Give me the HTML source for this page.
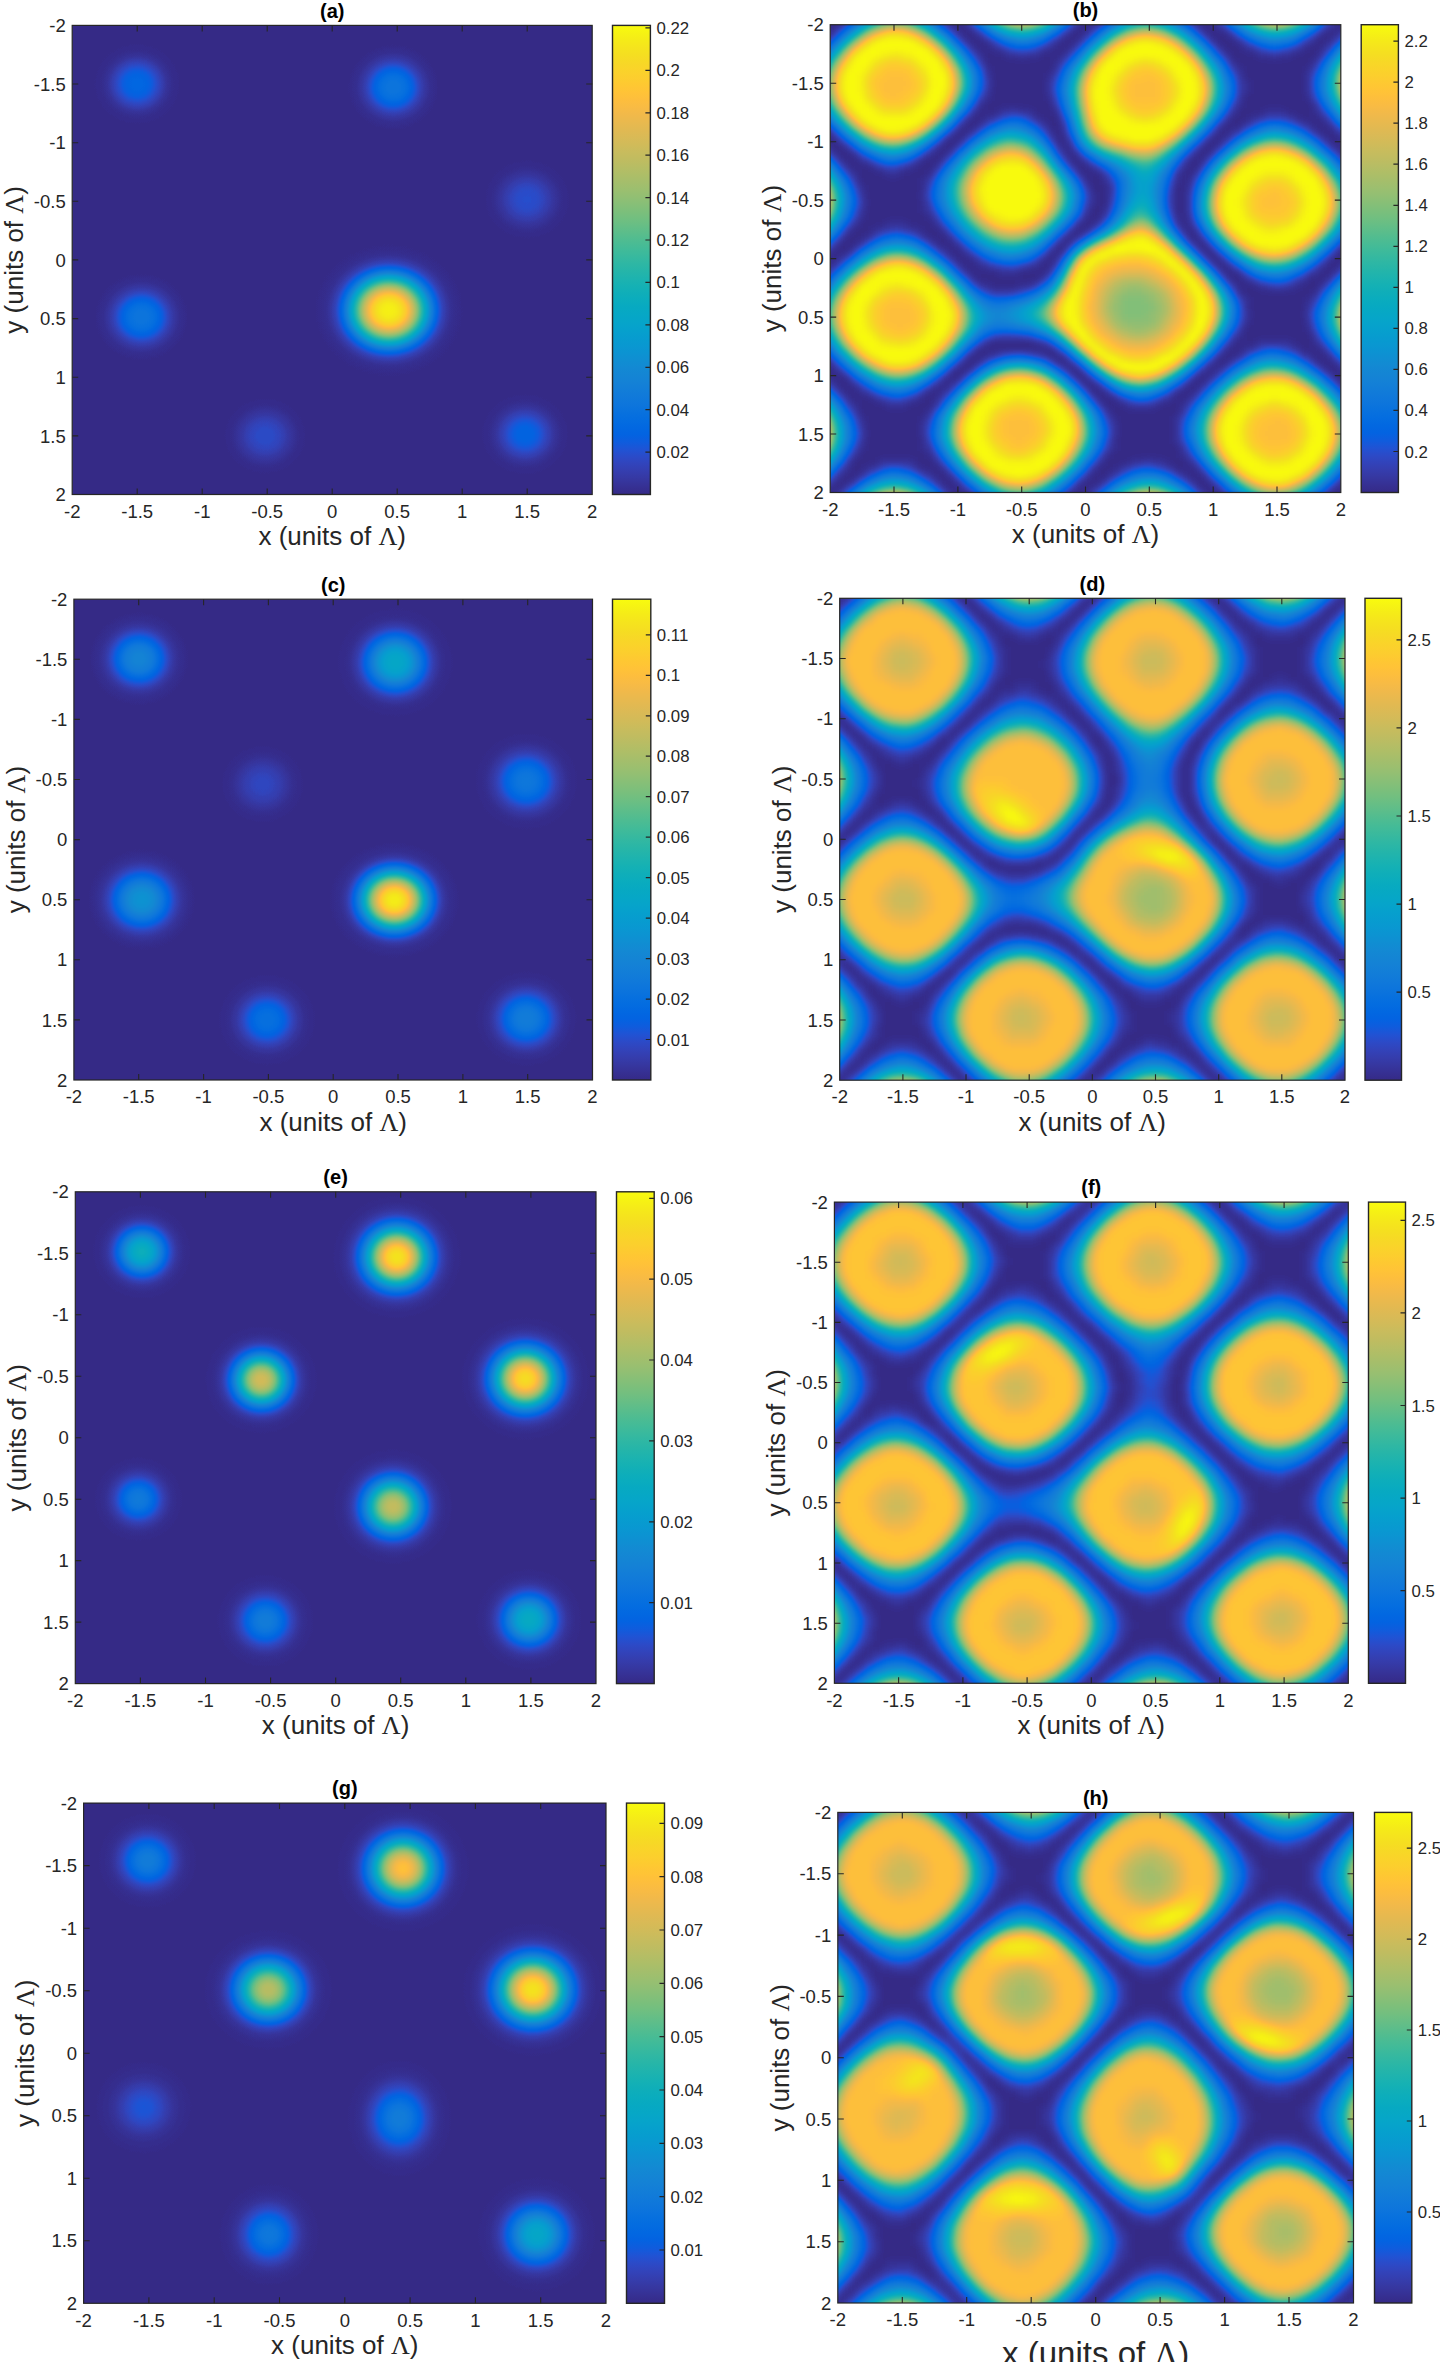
<!DOCTYPE html><html><head><meta charset="utf-8"><style>html,body{margin:0;padding:0;background:#fff;}svg{display:block}</style></head><body><svg width="1440" height="2362" viewBox="0 0 1440 2362"><defs><filter id="pm" color-interpolation-filters="sRGB" x="0" y="0" width="1" height="1"><feComponentTransfer><feFuncR type="table" tableValues="0.2081 0.2116 0.2123 0.2081 0.1959 0.1707 0.1253 0.0591 0.0117 0.0060 0.0165 0.0329 0.0498 0.0629 0.0723 0.0779 0.0793 0.0749 0.0641 0.0488 0.0343 0.0265 0.0239 0.0231 0.0228 0.0267 0.0384 0.0590 0.0843 0.1133 0.1453 0.1801 0.2178 0.2586 0.3022 0.3482 0.3953 0.4420 0.4871 0.5300 0.5709 0.6099 0.6473 0.6834 0.7184 0.7525 0.7858 0.8185 0.8507 0.8824 0.9139 0.9450 0.9739 0.9938 0.9990 0.9955 0.9880 0.9789 0.9697 0.9626 0.9589 0.9598 0.9661 0.9763"/><feFuncG type="table" tableValues="0.1663 0.1898 0.2138 0.2386 0.2645 0.2919 0.3242 0.3598 0.3875 0.4086 0.4266 0.4430 0.4586 0.4737 0.4887 0.5040 0.5200 0.5375 0.5570 0.5772 0.5966 0.6137 0.6287 0.6418 0.6535 0.6642 0.6743 0.6838 0.6928 0.7015 0.7098 0.7177 0.7250 0.7317 0.7376 0.7424 0.7459 0.7481 0.7491 0.7491 0.7485 0.7473 0.7456 0.7435 0.7411 0.7384 0.7356 0.7327 0.7299 0.7274 0.7258 0.7261 0.7314 0.7455 0.7653 0.7861 0.8066 0.8271 0.8481 0.8705 0.8949 0.9218 0.9514 0.9831"/><feFuncB type="table" tableValues="0.5292 0.5777 0.6270 0.6771 0.7279 0.7792 0.8303 0.8683 0.8820 0.8828 0.8786 0.8720 0.8641 0.8554 0.8467 0.8384 0.8312 0.8263 0.8240 0.8228 0.8199 0.8135 0.8038 0.7913 0.7768 0.7607 0.7436 0.7254 0.7062 0.6859 0.6646 0.6424 0.6193 0.5954 0.5712 0.5473 0.5244 0.5033 0.4840 0.4661 0.4494 0.4337 0.4188 0.4044 0.3905 0.3768 0.3633 0.3498 0.3360 0.3217 0.3063 0.2886 0.2666 0.2403 0.2164 0.1967 0.1794 0.1633 0.1475 0.1309 0.1132 0.0948 0.0755 0.0538"/></feComponentTransfer></filter><filter id="pmb" color-interpolation-filters="sRGB" x="0" y="0" width="1" height="1"><feGaussianBlur stdDeviation="3.9"/><feComponentTransfer><feFuncR type="table" tableValues="0.2081 0.2116 0.2123 0.2081 0.1959 0.1707 0.1253 0.0591 0.0117 0.0060 0.0165 0.0329 0.0498 0.0629 0.0723 0.0779 0.0793 0.0749 0.0641 0.0488 0.0343 0.0265 0.0239 0.0231 0.0228 0.0267 0.0384 0.0590 0.0843 0.1133 0.1453 0.1801 0.2178 0.2586 0.3022 0.3482 0.3953 0.4420 0.4871 0.5300 0.5709 0.6099 0.6473 0.6834 0.7184 0.7525 0.7858 0.8185 0.8507 0.8824 0.9139 0.9450 0.9739 0.9938 0.9990 0.9955 0.9880 0.9789 0.9697 0.9626 0.9589 0.9598 0.9661 0.9763"/><feFuncG type="table" tableValues="0.1663 0.1898 0.2138 0.2386 0.2645 0.2919 0.3242 0.3598 0.3875 0.4086 0.4266 0.4430 0.4586 0.4737 0.4887 0.5040 0.5200 0.5375 0.5570 0.5772 0.5966 0.6137 0.6287 0.6418 0.6535 0.6642 0.6743 0.6838 0.6928 0.7015 0.7098 0.7177 0.7250 0.7317 0.7376 0.7424 0.7459 0.7481 0.7491 0.7491 0.7485 0.7473 0.7456 0.7435 0.7411 0.7384 0.7356 0.7327 0.7299 0.7274 0.7258 0.7261 0.7314 0.7455 0.7653 0.7861 0.8066 0.8271 0.8481 0.8705 0.8949 0.9218 0.9514 0.9831"/><feFuncB type="table" tableValues="0.5292 0.5777 0.6270 0.6771 0.7279 0.7792 0.8303 0.8683 0.8820 0.8828 0.8786 0.8720 0.8641 0.8554 0.8467 0.8384 0.8312 0.8263 0.8240 0.8228 0.8199 0.8135 0.8038 0.7913 0.7768 0.7607 0.7436 0.7254 0.7062 0.6859 0.6646 0.6424 0.6193 0.5954 0.5712 0.5473 0.5244 0.5033 0.4840 0.4661 0.4494 0.4337 0.4188 0.4044 0.3905 0.3768 0.3633 0.3498 0.3360 0.3217 0.3063 0.2886 0.2666 0.2403 0.2164 0.1967 0.1794 0.1633 0.1475 0.1309 0.1132 0.0948 0.0755 0.0538"/></feComponentTransfer></filter><linearGradient id="cbg" x1="0" y1="0" x2="0" y2="1"><stop offset="0.0000" stop-color="#f9fb0e"/><stop offset="0.0159" stop-color="#f6f313"/><stop offset="0.0317" stop-color="#f5eb18"/><stop offset="0.0476" stop-color="#f5e41d"/><stop offset="0.0635" stop-color="#f5de21"/><stop offset="0.0794" stop-color="#f7d826"/><stop offset="0.0952" stop-color="#fad32a"/><stop offset="0.1111" stop-color="#fcce2e"/><stop offset="0.1270" stop-color="#fec832"/><stop offset="0.1429" stop-color="#ffc337"/><stop offset="0.1587" stop-color="#fdbe3d"/><stop offset="0.1746" stop-color="#f8bb44"/><stop offset="0.1905" stop-color="#f1b94a"/><stop offset="0.2063" stop-color="#e9b94e"/><stop offset="0.2222" stop-color="#e1b952"/><stop offset="0.2381" stop-color="#d9ba56"/><stop offset="0.2540" stop-color="#d1bb59"/><stop offset="0.2698" stop-color="#c8bc5d"/><stop offset="0.2857" stop-color="#c0bc60"/><stop offset="0.3016" stop-color="#b7bd64"/><stop offset="0.3175" stop-color="#aebe67"/><stop offset="0.3333" stop-color="#a5be6b"/><stop offset="0.3492" stop-color="#9cbf6f"/><stop offset="0.3651" stop-color="#92bf73"/><stop offset="0.3810" stop-color="#87bf77"/><stop offset="0.3968" stop-color="#7cbf7b"/><stop offset="0.4127" stop-color="#71bf80"/><stop offset="0.4286" stop-color="#65be86"/><stop offset="0.4444" stop-color="#59bd8c"/><stop offset="0.4603" stop-color="#4dbc92"/><stop offset="0.4762" stop-color="#42bb98"/><stop offset="0.4921" stop-color="#38b99e"/><stop offset="0.5079" stop-color="#2eb7a4"/><stop offset="0.5238" stop-color="#25b5a9"/><stop offset="0.5397" stop-color="#1db3af"/><stop offset="0.5556" stop-color="#15b1b4"/><stop offset="0.5714" stop-color="#0faeb9"/><stop offset="0.5873" stop-color="#0aacbe"/><stop offset="0.6032" stop-color="#07a9c2"/><stop offset="0.6190" stop-color="#06a7c6"/><stop offset="0.6349" stop-color="#06a4ca"/><stop offset="0.6508" stop-color="#06a0cd"/><stop offset="0.6667" stop-color="#079ccf"/><stop offset="0.6825" stop-color="#0998d1"/><stop offset="0.6984" stop-color="#0c93d2"/><stop offset="0.7143" stop-color="#108ed2"/><stop offset="0.7302" stop-color="#1389d3"/><stop offset="0.7460" stop-color="#1485d4"/><stop offset="0.7619" stop-color="#1481d6"/><stop offset="0.7778" stop-color="#127dd8"/><stop offset="0.7937" stop-color="#1079da"/><stop offset="0.8095" stop-color="#0d75dc"/><stop offset="0.8254" stop-color="#0871de"/><stop offset="0.8413" stop-color="#046de0"/><stop offset="0.8571" stop-color="#0268e1"/><stop offset="0.8730" stop-color="#0363e1"/><stop offset="0.8889" stop-color="#0f5cdd"/><stop offset="0.9048" stop-color="#2053d4"/><stop offset="0.9206" stop-color="#2c4ac7"/><stop offset="0.9365" stop-color="#3243ba"/><stop offset="0.9524" stop-color="#353dad"/><stop offset="0.9683" stop-color="#3637a0"/><stop offset="0.9841" stop-color="#363093"/><stop offset="1.0000" stop-color="#352a87"/></linearGradient><clipPath id="cla"><rect x="72.2" y="25.4" width="520.0" height="469.1"/></clipPath><radialGradient id="rga0"><stop offset="0.000" stop-color="#242424"/><stop offset="0.050" stop-color="#242424"/><stop offset="0.100" stop-color="#232323"/><stop offset="0.150" stop-color="#222222"/><stop offset="0.200" stop-color="#202020"/><stop offset="0.250" stop-color="#1e1e1e"/><stop offset="0.300" stop-color="#1a1a1a"/><stop offset="0.350" stop-color="#161616"/><stop offset="0.400" stop-color="#121212"/><stop offset="0.450" stop-color="#0e0e0e"/><stop offset="0.500" stop-color="#0a0a0a"/><stop offset="0.550" stop-color="#060606"/><stop offset="0.600" stop-color="#040404"/><stop offset="0.650" stop-color="#020202"/><stop offset="0.700" stop-color="#010101"/><stop offset="0.750" stop-color="#010101"/><stop offset="0.800" stop-color="#000000"/><stop offset="0.850" stop-color="#000000"/><stop offset="0.900" stop-color="#000000"/><stop offset="0.950" stop-color="#000000"/><stop offset="1.000" stop-color="#000000"/></radialGradient><radialGradient id="rga1"><stop offset="0.000" stop-color="#303030"/><stop offset="0.050" stop-color="#303030"/><stop offset="0.100" stop-color="#303030"/><stop offset="0.150" stop-color="#2e2e2e"/><stop offset="0.200" stop-color="#2c2c2c"/><stop offset="0.250" stop-color="#282828"/><stop offset="0.300" stop-color="#232323"/><stop offset="0.350" stop-color="#1e1e1e"/><stop offset="0.400" stop-color="#181818"/><stop offset="0.450" stop-color="#121212"/><stop offset="0.500" stop-color="#0d0d0d"/><stop offset="0.550" stop-color="#090909"/><stop offset="0.600" stop-color="#060606"/><stop offset="0.650" stop-color="#030303"/><stop offset="0.700" stop-color="#020202"/><stop offset="0.750" stop-color="#010101"/><stop offset="0.800" stop-color="#000000"/><stop offset="0.850" stop-color="#000000"/><stop offset="0.900" stop-color="#000000"/><stop offset="0.950" stop-color="#000000"/><stop offset="1.000" stop-color="#000000"/></radialGradient><radialGradient id="rga2"><stop offset="0.000" stop-color="#161616"/><stop offset="0.050" stop-color="#161616"/><stop offset="0.100" stop-color="#151515"/><stop offset="0.150" stop-color="#151515"/><stop offset="0.200" stop-color="#141414"/><stop offset="0.250" stop-color="#121212"/><stop offset="0.300" stop-color="#101010"/><stop offset="0.350" stop-color="#0d0d0d"/><stop offset="0.400" stop-color="#0b0b0b"/><stop offset="0.450" stop-color="#080808"/><stop offset="0.500" stop-color="#060606"/><stop offset="0.550" stop-color="#040404"/><stop offset="0.600" stop-color="#020202"/><stop offset="0.650" stop-color="#010101"/><stop offset="0.700" stop-color="#010101"/><stop offset="0.750" stop-color="#000000"/><stop offset="0.800" stop-color="#000000"/><stop offset="0.850" stop-color="#000000"/><stop offset="0.900" stop-color="#000000"/><stop offset="0.950" stop-color="#000000"/><stop offset="1.000" stop-color="#000000"/></radialGradient><radialGradient id="rga3"><stop offset="0.000" stop-color="#303030"/><stop offset="0.050" stop-color="#303030"/><stop offset="0.100" stop-color="#303030"/><stop offset="0.150" stop-color="#2e2e2e"/><stop offset="0.200" stop-color="#2c2c2c"/><stop offset="0.250" stop-color="#282828"/><stop offset="0.300" stop-color="#232323"/><stop offset="0.350" stop-color="#1e1e1e"/><stop offset="0.400" stop-color="#181818"/><stop offset="0.450" stop-color="#121212"/><stop offset="0.500" stop-color="#0d0d0d"/><stop offset="0.550" stop-color="#090909"/><stop offset="0.600" stop-color="#060606"/><stop offset="0.650" stop-color="#030303"/><stop offset="0.700" stop-color="#020202"/><stop offset="0.750" stop-color="#010101"/><stop offset="0.800" stop-color="#000000"/><stop offset="0.850" stop-color="#000000"/><stop offset="0.900" stop-color="#000000"/><stop offset="0.950" stop-color="#000000"/><stop offset="1.000" stop-color="#000000"/></radialGradient><radialGradient id="rga4"><stop offset="0.000" stop-color="#fafafa"/><stop offset="0.050" stop-color="#f9f9f9"/><stop offset="0.100" stop-color="#f6f6f6"/><stop offset="0.150" stop-color="#efefef"/><stop offset="0.200" stop-color="#e2e2e2"/><stop offset="0.250" stop-color="#cfcfcf"/><stop offset="0.300" stop-color="#b7b7b7"/><stop offset="0.350" stop-color="#9a9a9a"/><stop offset="0.400" stop-color="#7c7c7c"/><stop offset="0.450" stop-color="#5f5f5f"/><stop offset="0.500" stop-color="#444444"/><stop offset="0.550" stop-color="#2d2d2d"/><stop offset="0.600" stop-color="#1c1c1c"/><stop offset="0.650" stop-color="#101010"/><stop offset="0.700" stop-color="#090909"/><stop offset="0.750" stop-color="#040404"/><stop offset="0.800" stop-color="#020202"/><stop offset="0.850" stop-color="#010101"/><stop offset="0.900" stop-color="#000000"/><stop offset="0.950" stop-color="#000000"/><stop offset="1.000" stop-color="#000000"/></radialGradient><radialGradient id="rga5"><stop offset="0.000" stop-color="#141414"/><stop offset="0.050" stop-color="#141414"/><stop offset="0.100" stop-color="#141414"/><stop offset="0.150" stop-color="#141414"/><stop offset="0.200" stop-color="#121212"/><stop offset="0.250" stop-color="#111111"/><stop offset="0.300" stop-color="#0f0f0f"/><stop offset="0.350" stop-color="#0d0d0d"/><stop offset="0.400" stop-color="#0a0a0a"/><stop offset="0.450" stop-color="#080808"/><stop offset="0.500" stop-color="#060606"/><stop offset="0.550" stop-color="#040404"/><stop offset="0.600" stop-color="#020202"/><stop offset="0.650" stop-color="#010101"/><stop offset="0.700" stop-color="#010101"/><stop offset="0.750" stop-color="#000000"/><stop offset="0.800" stop-color="#000000"/><stop offset="0.850" stop-color="#000000"/><stop offset="0.900" stop-color="#000000"/><stop offset="0.950" stop-color="#000000"/><stop offset="1.000" stop-color="#000000"/></radialGradient><radialGradient id="rga6"><stop offset="0.000" stop-color="#212121"/><stop offset="0.050" stop-color="#212121"/><stop offset="0.100" stop-color="#212121"/><stop offset="0.150" stop-color="#202020"/><stop offset="0.200" stop-color="#1e1e1e"/><stop offset="0.250" stop-color="#1b1b1b"/><stop offset="0.300" stop-color="#181818"/><stop offset="0.350" stop-color="#141414"/><stop offset="0.400" stop-color="#101010"/><stop offset="0.450" stop-color="#0d0d0d"/><stop offset="0.500" stop-color="#090909"/><stop offset="0.550" stop-color="#060606"/><stop offset="0.600" stop-color="#040404"/><stop offset="0.650" stop-color="#020202"/><stop offset="0.700" stop-color="#010101"/><stop offset="0.750" stop-color="#010101"/><stop offset="0.800" stop-color="#000000"/><stop offset="0.850" stop-color="#000000"/><stop offset="0.900" stop-color="#000000"/><stop offset="0.950" stop-color="#000000"/><stop offset="1.000" stop-color="#000000"/></radialGradient><clipPath id="clb"><rect x="830.2" y="24.7" width="510.6" height="467.8"/></clipPath><clipPath id="clc"><rect x="73.9" y="599.2" width="518.6" height="480.8"/></clipPath><radialGradient id="rgc0"><stop offset="0.000" stop-color="#404040"/><stop offset="0.050" stop-color="#404040"/><stop offset="0.100" stop-color="#3f3f3f"/><stop offset="0.150" stop-color="#3c3c3c"/><stop offset="0.200" stop-color="#393939"/><stop offset="0.250" stop-color="#343434"/><stop offset="0.300" stop-color="#2d2d2d"/><stop offset="0.350" stop-color="#262626"/><stop offset="0.400" stop-color="#1f1f1f"/><stop offset="0.450" stop-color="#181818"/><stop offset="0.500" stop-color="#121212"/><stop offset="0.550" stop-color="#0c0c0c"/><stop offset="0.600" stop-color="#080808"/><stop offset="0.650" stop-color="#050505"/><stop offset="0.700" stop-color="#030303"/><stop offset="0.750" stop-color="#020202"/><stop offset="0.800" stop-color="#010101"/><stop offset="0.850" stop-color="#000000"/><stop offset="0.900" stop-color="#000000"/><stop offset="0.950" stop-color="#000000"/><stop offset="1.000" stop-color="#000000"/></radialGradient><radialGradient id="rgc1"><stop offset="0.000" stop-color="#121212"/><stop offset="0.050" stop-color="#121212"/><stop offset="0.100" stop-color="#121212"/><stop offset="0.150" stop-color="#111111"/><stop offset="0.200" stop-color="#101010"/><stop offset="0.250" stop-color="#0e0e0e"/><stop offset="0.300" stop-color="#0d0d0d"/><stop offset="0.350" stop-color="#0b0b0b"/><stop offset="0.400" stop-color="#090909"/><stop offset="0.450" stop-color="#070707"/><stop offset="0.500" stop-color="#050505"/><stop offset="0.550" stop-color="#030303"/><stop offset="0.600" stop-color="#020202"/><stop offset="0.650" stop-color="#010101"/><stop offset="0.700" stop-color="#010101"/><stop offset="0.750" stop-color="#000000"/><stop offset="0.800" stop-color="#000000"/><stop offset="0.850" stop-color="#000000"/><stop offset="0.900" stop-color="#000000"/><stop offset="0.950" stop-color="#000000"/><stop offset="1.000" stop-color="#000000"/></radialGradient><radialGradient id="rgc2"><stop offset="0.000" stop-color="#616161"/><stop offset="0.050" stop-color="#616161"/><stop offset="0.100" stop-color="#5f5f5f"/><stop offset="0.150" stop-color="#5c5c5c"/><stop offset="0.200" stop-color="#565656"/><stop offset="0.250" stop-color="#4e4e4e"/><stop offset="0.300" stop-color="#454545"/><stop offset="0.350" stop-color="#3a3a3a"/><stop offset="0.400" stop-color="#2f2f2f"/><stop offset="0.450" stop-color="#252525"/><stop offset="0.500" stop-color="#1b1b1b"/><stop offset="0.550" stop-color="#131313"/><stop offset="0.600" stop-color="#0c0c0c"/><stop offset="0.650" stop-color="#080808"/><stop offset="0.700" stop-color="#040404"/><stop offset="0.750" stop-color="#020202"/><stop offset="0.800" stop-color="#010101"/><stop offset="0.850" stop-color="#010101"/><stop offset="0.900" stop-color="#000000"/><stop offset="0.950" stop-color="#000000"/><stop offset="1.000" stop-color="#000000"/></radialGradient><radialGradient id="rgc3"><stop offset="0.000" stop-color="#333333"/><stop offset="0.050" stop-color="#333333"/><stop offset="0.100" stop-color="#323232"/><stop offset="0.150" stop-color="#303030"/><stop offset="0.200" stop-color="#2d2d2d"/><stop offset="0.250" stop-color="#292929"/><stop offset="0.300" stop-color="#242424"/><stop offset="0.350" stop-color="#1f1f1f"/><stop offset="0.400" stop-color="#191919"/><stop offset="0.450" stop-color="#131313"/><stop offset="0.500" stop-color="#0e0e0e"/><stop offset="0.550" stop-color="#0a0a0a"/><stop offset="0.600" stop-color="#070707"/><stop offset="0.650" stop-color="#040404"/><stop offset="0.700" stop-color="#020202"/><stop offset="0.750" stop-color="#010101"/><stop offset="0.800" stop-color="#010101"/><stop offset="0.850" stop-color="#000000"/><stop offset="0.900" stop-color="#000000"/><stop offset="0.950" stop-color="#000000"/><stop offset="1.000" stop-color="#000000"/></radialGradient><radialGradient id="rgc4"><stop offset="0.000" stop-color="#4c4c4c"/><stop offset="0.050" stop-color="#4c4c4c"/><stop offset="0.100" stop-color="#4b4b4b"/><stop offset="0.150" stop-color="#484848"/><stop offset="0.200" stop-color="#444444"/><stop offset="0.250" stop-color="#3e3e3e"/><stop offset="0.300" stop-color="#363636"/><stop offset="0.350" stop-color="#2e2e2e"/><stop offset="0.400" stop-color="#252525"/><stop offset="0.450" stop-color="#1d1d1d"/><stop offset="0.500" stop-color="#151515"/><stop offset="0.550" stop-color="#0f0f0f"/><stop offset="0.600" stop-color="#0a0a0a"/><stop offset="0.650" stop-color="#060606"/><stop offset="0.700" stop-color="#040404"/><stop offset="0.750" stop-color="#020202"/><stop offset="0.800" stop-color="#010101"/><stop offset="0.850" stop-color="#000000"/><stop offset="0.900" stop-color="#000000"/><stop offset="0.950" stop-color="#000000"/><stop offset="1.000" stop-color="#000000"/></radialGradient><radialGradient id="rgc5"><stop offset="0.000" stop-color="#2b2b2b"/><stop offset="0.050" stop-color="#2b2b2b"/><stop offset="0.100" stop-color="#2b2b2b"/><stop offset="0.150" stop-color="#292929"/><stop offset="0.200" stop-color="#272727"/><stop offset="0.250" stop-color="#232323"/><stop offset="0.300" stop-color="#1f1f1f"/><stop offset="0.350" stop-color="#1a1a1a"/><stop offset="0.400" stop-color="#151515"/><stop offset="0.450" stop-color="#101010"/><stop offset="0.500" stop-color="#0c0c0c"/><stop offset="0.550" stop-color="#080808"/><stop offset="0.600" stop-color="#060606"/><stop offset="0.650" stop-color="#030303"/><stop offset="0.700" stop-color="#020202"/><stop offset="0.750" stop-color="#010101"/><stop offset="0.800" stop-color="#010101"/><stop offset="0.850" stop-color="#000000"/><stop offset="0.900" stop-color="#000000"/><stop offset="0.950" stop-color="#000000"/><stop offset="1.000" stop-color="#000000"/></radialGradient><radialGradient id="rgc6"><stop offset="0.000" stop-color="#f7f7f7"/><stop offset="0.050" stop-color="#f7f7f7"/><stop offset="0.100" stop-color="#f3f3f3"/><stop offset="0.150" stop-color="#eaeaea"/><stop offset="0.200" stop-color="#dcdcdc"/><stop offset="0.250" stop-color="#c8c8c8"/><stop offset="0.300" stop-color="#b0b0b0"/><stop offset="0.350" stop-color="#959595"/><stop offset="0.400" stop-color="#797979"/><stop offset="0.450" stop-color="#5d5d5d"/><stop offset="0.500" stop-color="#454545"/><stop offset="0.550" stop-color="#303030"/><stop offset="0.600" stop-color="#202020"/><stop offset="0.650" stop-color="#141414"/><stop offset="0.700" stop-color="#0b0b0b"/><stop offset="0.750" stop-color="#060606"/><stop offset="0.800" stop-color="#030303"/><stop offset="0.850" stop-color="#020202"/><stop offset="0.900" stop-color="#010101"/><stop offset="0.950" stop-color="#000000"/><stop offset="1.000" stop-color="#000000"/></radialGradient><radialGradient id="rgc7"><stop offset="0.000" stop-color="#383838"/><stop offset="0.050" stop-color="#383838"/><stop offset="0.100" stop-color="#373737"/><stop offset="0.150" stop-color="#353535"/><stop offset="0.200" stop-color="#323232"/><stop offset="0.250" stop-color="#2d2d2d"/><stop offset="0.300" stop-color="#282828"/><stop offset="0.350" stop-color="#222222"/><stop offset="0.400" stop-color="#1b1b1b"/><stop offset="0.450" stop-color="#151515"/><stop offset="0.500" stop-color="#101010"/><stop offset="0.550" stop-color="#0b0b0b"/><stop offset="0.600" stop-color="#070707"/><stop offset="0.650" stop-color="#040404"/><stop offset="0.700" stop-color="#030303"/><stop offset="0.750" stop-color="#010101"/><stop offset="0.800" stop-color="#010101"/><stop offset="0.850" stop-color="#000000"/><stop offset="0.900" stop-color="#000000"/><stop offset="0.950" stop-color="#000000"/><stop offset="1.000" stop-color="#000000"/></radialGradient><clipPath id="cld"><rect x="839.7" y="598.3" width="505.3" height="481.9"/></clipPath><clipPath id="cle"><rect x="75.3" y="1191.8" width="520.7" height="491.8"/></clipPath><radialGradient id="rge0"><stop offset="0.000" stop-color="#6b6b6b"/><stop offset="0.050" stop-color="#6b6b6b"/><stop offset="0.100" stop-color="#686868"/><stop offset="0.150" stop-color="#646464"/><stop offset="0.200" stop-color="#5d5d5d"/><stop offset="0.250" stop-color="#545454"/><stop offset="0.300" stop-color="#4a4a4a"/><stop offset="0.350" stop-color="#3f3f3f"/><stop offset="0.400" stop-color="#333333"/><stop offset="0.450" stop-color="#282828"/><stop offset="0.500" stop-color="#1e1e1e"/><stop offset="0.550" stop-color="#161616"/><stop offset="0.600" stop-color="#0f0f0f"/><stop offset="0.650" stop-color="#0a0a0a"/><stop offset="0.700" stop-color="#060606"/><stop offset="0.750" stop-color="#040404"/><stop offset="0.800" stop-color="#020202"/><stop offset="0.850" stop-color="#010101"/><stop offset="0.900" stop-color="#010101"/><stop offset="0.950" stop-color="#000000"/><stop offset="1.000" stop-color="#000000"/></radialGradient><radialGradient id="rge1"><stop offset="0.000" stop-color="#f2f2f2"/><stop offset="0.050" stop-color="#f1f1f1"/><stop offset="0.100" stop-color="#ececec"/><stop offset="0.150" stop-color="#e2e2e2"/><stop offset="0.200" stop-color="#d3d3d3"/><stop offset="0.250" stop-color="#bfbfbf"/><stop offset="0.300" stop-color="#a8a8a8"/><stop offset="0.350" stop-color="#8e8e8e"/><stop offset="0.400" stop-color="#747474"/><stop offset="0.450" stop-color="#5b5b5b"/><stop offset="0.500" stop-color="#454545"/><stop offset="0.550" stop-color="#323232"/><stop offset="0.600" stop-color="#232323"/><stop offset="0.650" stop-color="#171717"/><stop offset="0.700" stop-color="#0e0e0e"/><stop offset="0.750" stop-color="#090909"/><stop offset="0.800" stop-color="#050505"/><stop offset="0.850" stop-color="#030303"/><stop offset="0.900" stop-color="#010101"/><stop offset="0.950" stop-color="#010101"/><stop offset="1.000" stop-color="#000000"/></radialGradient><radialGradient id="rge2"><stop offset="0.000" stop-color="#bfbfbf"/><stop offset="0.050" stop-color="#bebebe"/><stop offset="0.100" stop-color="#bababa"/><stop offset="0.150" stop-color="#b2b2b2"/><stop offset="0.200" stop-color="#a6a6a6"/><stop offset="0.250" stop-color="#979797"/><stop offset="0.300" stop-color="#848484"/><stop offset="0.350" stop-color="#707070"/><stop offset="0.400" stop-color="#5c5c5c"/><stop offset="0.450" stop-color="#484848"/><stop offset="0.500" stop-color="#363636"/><stop offset="0.550" stop-color="#272727"/><stop offset="0.600" stop-color="#1b1b1b"/><stop offset="0.650" stop-color="#121212"/><stop offset="0.700" stop-color="#0b0b0b"/><stop offset="0.750" stop-color="#070707"/><stop offset="0.800" stop-color="#040404"/><stop offset="0.850" stop-color="#020202"/><stop offset="0.900" stop-color="#010101"/><stop offset="0.950" stop-color="#010101"/><stop offset="1.000" stop-color="#000000"/></radialGradient><radialGradient id="rge3"><stop offset="0.000" stop-color="#ededed"/><stop offset="0.050" stop-color="#ececec"/><stop offset="0.100" stop-color="#e7e7e7"/><stop offset="0.150" stop-color="#dddddd"/><stop offset="0.200" stop-color="#cecece"/><stop offset="0.250" stop-color="#bbbbbb"/><stop offset="0.300" stop-color="#a4a4a4"/><stop offset="0.350" stop-color="#8b8b8b"/><stop offset="0.400" stop-color="#727272"/><stop offset="0.450" stop-color="#595959"/><stop offset="0.500" stop-color="#434343"/><stop offset="0.550" stop-color="#313131"/><stop offset="0.600" stop-color="#222222"/><stop offset="0.650" stop-color="#161616"/><stop offset="0.700" stop-color="#0e0e0e"/><stop offset="0.750" stop-color="#090909"/><stop offset="0.800" stop-color="#050505"/><stop offset="0.850" stop-color="#030303"/><stop offset="0.900" stop-color="#010101"/><stop offset="0.950" stop-color="#010101"/><stop offset="1.000" stop-color="#000000"/></radialGradient><radialGradient id="rge4"><stop offset="0.000" stop-color="#363636"/><stop offset="0.050" stop-color="#353535"/><stop offset="0.100" stop-color="#343434"/><stop offset="0.150" stop-color="#323232"/><stop offset="0.200" stop-color="#2f2f2f"/><stop offset="0.250" stop-color="#2a2a2a"/><stop offset="0.300" stop-color="#252525"/><stop offset="0.350" stop-color="#1f1f1f"/><stop offset="0.400" stop-color="#1a1a1a"/><stop offset="0.450" stop-color="#141414"/><stop offset="0.500" stop-color="#0f0f0f"/><stop offset="0.550" stop-color="#0b0b0b"/><stop offset="0.600" stop-color="#080808"/><stop offset="0.650" stop-color="#050505"/><stop offset="0.700" stop-color="#030303"/><stop offset="0.750" stop-color="#020202"/><stop offset="0.800" stop-color="#010101"/><stop offset="0.850" stop-color="#010101"/><stop offset="0.900" stop-color="#000000"/><stop offset="0.950" stop-color="#000000"/><stop offset="1.000" stop-color="#000000"/></radialGradient><radialGradient id="rge5"><stop offset="0.000" stop-color="#b8b8b8"/><stop offset="0.050" stop-color="#b7b7b7"/><stop offset="0.100" stop-color="#b3b3b3"/><stop offset="0.150" stop-color="#ababab"/><stop offset="0.200" stop-color="#a0a0a0"/><stop offset="0.250" stop-color="#919191"/><stop offset="0.300" stop-color="#7f7f7f"/><stop offset="0.350" stop-color="#6c6c6c"/><stop offset="0.400" stop-color="#585858"/><stop offset="0.450" stop-color="#454545"/><stop offset="0.500" stop-color="#343434"/><stop offset="0.550" stop-color="#262626"/><stop offset="0.600" stop-color="#1a1a1a"/><stop offset="0.650" stop-color="#111111"/><stop offset="0.700" stop-color="#0b0b0b"/><stop offset="0.750" stop-color="#070707"/><stop offset="0.800" stop-color="#040404"/><stop offset="0.850" stop-color="#020202"/><stop offset="0.900" stop-color="#010101"/><stop offset="0.950" stop-color="#010101"/><stop offset="1.000" stop-color="#000000"/></radialGradient><radialGradient id="rge6"><stop offset="0.000" stop-color="#383838"/><stop offset="0.050" stop-color="#383838"/><stop offset="0.100" stop-color="#373737"/><stop offset="0.150" stop-color="#343434"/><stop offset="0.200" stop-color="#313131"/><stop offset="0.250" stop-color="#2c2c2c"/><stop offset="0.300" stop-color="#272727"/><stop offset="0.350" stop-color="#212121"/><stop offset="0.400" stop-color="#1b1b1b"/><stop offset="0.450" stop-color="#151515"/><stop offset="0.500" stop-color="#101010"/><stop offset="0.550" stop-color="#0c0c0c"/><stop offset="0.600" stop-color="#080808"/><stop offset="0.650" stop-color="#050505"/><stop offset="0.700" stop-color="#030303"/><stop offset="0.750" stop-color="#020202"/><stop offset="0.800" stop-color="#010101"/><stop offset="0.850" stop-color="#010101"/><stop offset="0.900" stop-color="#000000"/><stop offset="0.950" stop-color="#000000"/><stop offset="1.000" stop-color="#000000"/></radialGradient><radialGradient id="rge7"><stop offset="0.000" stop-color="#666666"/><stop offset="0.050" stop-color="#656565"/><stop offset="0.100" stop-color="#636363"/><stop offset="0.150" stop-color="#5f5f5f"/><stop offset="0.200" stop-color="#595959"/><stop offset="0.250" stop-color="#505050"/><stop offset="0.300" stop-color="#474747"/><stop offset="0.350" stop-color="#3c3c3c"/><stop offset="0.400" stop-color="#313131"/><stop offset="0.450" stop-color="#262626"/><stop offset="0.500" stop-color="#1d1d1d"/><stop offset="0.550" stop-color="#151515"/><stop offset="0.600" stop-color="#0f0f0f"/><stop offset="0.650" stop-color="#0a0a0a"/><stop offset="0.700" stop-color="#060606"/><stop offset="0.750" stop-color="#040404"/><stop offset="0.800" stop-color="#020202"/><stop offset="0.850" stop-color="#010101"/><stop offset="0.900" stop-color="#010101"/><stop offset="0.950" stop-color="#000000"/><stop offset="1.000" stop-color="#000000"/></radialGradient><clipPath id="clf"><rect x="834.4" y="1202.1" width="513.9" height="481.2"/></clipPath><clipPath id="clg"><rect x="83.6" y="1803.1" width="522.4" height="500.2"/></clipPath><radialGradient id="rgg0"><stop offset="0.000" stop-color="#383838"/><stop offset="0.050" stop-color="#383838"/><stop offset="0.100" stop-color="#373737"/><stop offset="0.150" stop-color="#343434"/><stop offset="0.200" stop-color="#313131"/><stop offset="0.250" stop-color="#2c2c2c"/><stop offset="0.300" stop-color="#272727"/><stop offset="0.350" stop-color="#212121"/><stop offset="0.400" stop-color="#1b1b1b"/><stop offset="0.450" stop-color="#151515"/><stop offset="0.500" stop-color="#101010"/><stop offset="0.550" stop-color="#0c0c0c"/><stop offset="0.600" stop-color="#080808"/><stop offset="0.650" stop-color="#050505"/><stop offset="0.700" stop-color="#030303"/><stop offset="0.750" stop-color="#020202"/><stop offset="0.800" stop-color="#010101"/><stop offset="0.850" stop-color="#010101"/><stop offset="0.900" stop-color="#000000"/><stop offset="0.950" stop-color="#000000"/><stop offset="1.000" stop-color="#000000"/></radialGradient><radialGradient id="rgg1"><stop offset="0.000" stop-color="#d9d9d9"/><stop offset="0.050" stop-color="#d8d8d8"/><stop offset="0.100" stop-color="#d3d3d3"/><stop offset="0.150" stop-color="#cacaca"/><stop offset="0.200" stop-color="#bdbdbd"/><stop offset="0.250" stop-color="#ababab"/><stop offset="0.300" stop-color="#969696"/><stop offset="0.350" stop-color="#7f7f7f"/><stop offset="0.400" stop-color="#686868"/><stop offset="0.450" stop-color="#525252"/><stop offset="0.500" stop-color="#3e3e3e"/><stop offset="0.550" stop-color="#2d2d2d"/><stop offset="0.600" stop-color="#1f1f1f"/><stop offset="0.650" stop-color="#141414"/><stop offset="0.700" stop-color="#0d0d0d"/><stop offset="0.750" stop-color="#080808"/><stop offset="0.800" stop-color="#040404"/><stop offset="0.850" stop-color="#020202"/><stop offset="0.900" stop-color="#010101"/><stop offset="0.950" stop-color="#010101"/><stop offset="1.000" stop-color="#000000"/></radialGradient><radialGradient id="rgg2"><stop offset="0.000" stop-color="#b2b2b2"/><stop offset="0.050" stop-color="#b2b2b2"/><stop offset="0.100" stop-color="#aeaeae"/><stop offset="0.150" stop-color="#a6a6a6"/><stop offset="0.200" stop-color="#9b9b9b"/><stop offset="0.250" stop-color="#8d8d8d"/><stop offset="0.300" stop-color="#7b7b7b"/><stop offset="0.350" stop-color="#696969"/><stop offset="0.400" stop-color="#565656"/><stop offset="0.450" stop-color="#434343"/><stop offset="0.500" stop-color="#333333"/><stop offset="0.550" stop-color="#252525"/><stop offset="0.600" stop-color="#191919"/><stop offset="0.650" stop-color="#111111"/><stop offset="0.700" stop-color="#0b0b0b"/><stop offset="0.750" stop-color="#060606"/><stop offset="0.800" stop-color="#040404"/><stop offset="0.850" stop-color="#020202"/><stop offset="0.900" stop-color="#010101"/><stop offset="0.950" stop-color="#010101"/><stop offset="1.000" stop-color="#000000"/></radialGradient><radialGradient id="rgg3"><stop offset="0.000" stop-color="#f2f2f2"/><stop offset="0.050" stop-color="#f1f1f1"/><stop offset="0.100" stop-color="#ececec"/><stop offset="0.150" stop-color="#e2e2e2"/><stop offset="0.200" stop-color="#d3d3d3"/><stop offset="0.250" stop-color="#bfbfbf"/><stop offset="0.300" stop-color="#a8a8a8"/><stop offset="0.350" stop-color="#8e8e8e"/><stop offset="0.400" stop-color="#747474"/><stop offset="0.450" stop-color="#5b5b5b"/><stop offset="0.500" stop-color="#454545"/><stop offset="0.550" stop-color="#323232"/><stop offset="0.600" stop-color="#232323"/><stop offset="0.650" stop-color="#171717"/><stop offset="0.700" stop-color="#0e0e0e"/><stop offset="0.750" stop-color="#090909"/><stop offset="0.800" stop-color="#050505"/><stop offset="0.850" stop-color="#030303"/><stop offset="0.900" stop-color="#010101"/><stop offset="0.950" stop-color="#010101"/><stop offset="1.000" stop-color="#000000"/></radialGradient><radialGradient id="rgg4"><stop offset="0.000" stop-color="#1a1a1a"/><stop offset="0.050" stop-color="#191919"/><stop offset="0.100" stop-color="#191919"/><stop offset="0.150" stop-color="#181818"/><stop offset="0.200" stop-color="#161616"/><stop offset="0.250" stop-color="#141414"/><stop offset="0.300" stop-color="#121212"/><stop offset="0.350" stop-color="#0f0f0f"/><stop offset="0.400" stop-color="#0c0c0c"/><stop offset="0.450" stop-color="#0a0a0a"/><stop offset="0.500" stop-color="#070707"/><stop offset="0.550" stop-color="#050505"/><stop offset="0.600" stop-color="#040404"/><stop offset="0.650" stop-color="#020202"/><stop offset="0.700" stop-color="#020202"/><stop offset="0.750" stop-color="#010101"/><stop offset="0.800" stop-color="#010101"/><stop offset="0.850" stop-color="#000000"/><stop offset="0.900" stop-color="#000000"/><stop offset="0.950" stop-color="#000000"/><stop offset="1.000" stop-color="#000000"/></radialGradient><radialGradient id="rgg5"><stop offset="0.000" stop-color="#383838"/><stop offset="0.050" stop-color="#383838"/><stop offset="0.100" stop-color="#373737"/><stop offset="0.150" stop-color="#343434"/><stop offset="0.200" stop-color="#313131"/><stop offset="0.250" stop-color="#2c2c2c"/><stop offset="0.300" stop-color="#272727"/><stop offset="0.350" stop-color="#212121"/><stop offset="0.400" stop-color="#1b1b1b"/><stop offset="0.450" stop-color="#151515"/><stop offset="0.500" stop-color="#101010"/><stop offset="0.550" stop-color="#0c0c0c"/><stop offset="0.600" stop-color="#080808"/><stop offset="0.650" stop-color="#050505"/><stop offset="0.700" stop-color="#030303"/><stop offset="0.750" stop-color="#020202"/><stop offset="0.800" stop-color="#010101"/><stop offset="0.850" stop-color="#010101"/><stop offset="0.900" stop-color="#000000"/><stop offset="0.950" stop-color="#000000"/><stop offset="1.000" stop-color="#000000"/></radialGradient><radialGradient id="rgg6"><stop offset="0.000" stop-color="#333333"/><stop offset="0.050" stop-color="#333333"/><stop offset="0.100" stop-color="#323232"/><stop offset="0.150" stop-color="#303030"/><stop offset="0.200" stop-color="#2c2c2c"/><stop offset="0.250" stop-color="#282828"/><stop offset="0.300" stop-color="#232323"/><stop offset="0.350" stop-color="#1e1e1e"/><stop offset="0.400" stop-color="#181818"/><stop offset="0.450" stop-color="#131313"/><stop offset="0.500" stop-color="#0f0f0f"/><stop offset="0.550" stop-color="#0b0b0b"/><stop offset="0.600" stop-color="#070707"/><stop offset="0.650" stop-color="#050505"/><stop offset="0.700" stop-color="#030303"/><stop offset="0.750" stop-color="#020202"/><stop offset="0.800" stop-color="#010101"/><stop offset="0.850" stop-color="#010101"/><stop offset="0.900" stop-color="#000000"/><stop offset="0.950" stop-color="#000000"/><stop offset="1.000" stop-color="#000000"/></radialGradient><radialGradient id="rgg7"><stop offset="0.000" stop-color="#616161"/><stop offset="0.050" stop-color="#606060"/><stop offset="0.100" stop-color="#5e5e5e"/><stop offset="0.150" stop-color="#5a5a5a"/><stop offset="0.200" stop-color="#545454"/><stop offset="0.250" stop-color="#4c4c4c"/><stop offset="0.300" stop-color="#434343"/><stop offset="0.350" stop-color="#393939"/><stop offset="0.400" stop-color="#2e2e2e"/><stop offset="0.450" stop-color="#252525"/><stop offset="0.500" stop-color="#1c1c1c"/><stop offset="0.550" stop-color="#141414"/><stop offset="0.600" stop-color="#0e0e0e"/><stop offset="0.650" stop-color="#090909"/><stop offset="0.700" stop-color="#060606"/><stop offset="0.750" stop-color="#030303"/><stop offset="0.800" stop-color="#020202"/><stop offset="0.850" stop-color="#010101"/><stop offset="0.900" stop-color="#010101"/><stop offset="0.950" stop-color="#000000"/><stop offset="1.000" stop-color="#000000"/></radialGradient><clipPath id="clh"><rect x="837.8" y="1812.4" width="515.7" height="490.6"/></clipPath></defs><g clip-path="url(#cla)"><g filter="url(#pm)"><rect x="67.2" y="20.4" width="530.0" height="479.1" fill="#000"/>
<ellipse cx="137.2" cy="84.0" rx="53.8" ry="50.6" fill="url(#rga0)"/>
<ellipse cx="393.3" cy="87.2" rx="56.7" ry="53.6" fill="url(#rga1)"/>
<ellipse cx="527.1" cy="199.4" rx="56.7" ry="52.6" fill="url(#rga2)"/>
<ellipse cx="141.5" cy="317.1" rx="58.5" ry="54.6" fill="url(#rga3)"/>
<ellipse cx="388.9" cy="310.4" rx="82.6" ry="73.5" fill="url(#rga4)"/>
<ellipse cx="265.1" cy="435.9" rx="54.6" ry="50.6" fill="url(#rga5)"/>
<ellipse cx="525.1" cy="434.2" rx="54.6" ry="50.6" fill="url(#rga6)"/></g></g>
<rect x="72.2" y="25.4" width="520.0" height="469.1" fill="none" stroke="#262626" stroke-width="1.2"/>
<path d="M137.2 25.4v6 M137.2 494.5v-6 M72.2 84.0h6 M592.2 84.0h-6 M202.2 25.4v6 M202.2 494.5v-6 M72.2 142.7h6 M592.2 142.7h-6 M267.2 25.4v6 M267.2 494.5v-6 M72.2 201.3h6 M592.2 201.3h-6 M332.2 25.4v6 M332.2 494.5v-6 M72.2 259.9h6 M592.2 259.9h-6 M397.2 25.4v6 M397.2 494.5v-6 M72.2 318.6h6 M592.2 318.6h-6 M462.2 25.4v6 M462.2 494.5v-6 M72.2 377.2h6 M592.2 377.2h-6 M527.2 25.4v6 M527.2 494.5v-6 M72.2 435.9h6 M592.2 435.9h-6" stroke="#262626" stroke-width="1.1" fill="none"/>
<g font-family="Liberation Sans" font-size="18.5" fill="#262626"><text x="72.2" y="517.7" text-anchor="middle">-2</text><text x="65.7" y="32.0" text-anchor="end">-2</text><text x="137.2" y="517.7" text-anchor="middle">-1.5</text><text x="65.7" y="90.6" text-anchor="end">-1.5</text><text x="202.2" y="517.7" text-anchor="middle">-1</text><text x="65.7" y="149.3" text-anchor="end">-1</text><text x="267.2" y="517.7" text-anchor="middle">-0.5</text><text x="65.7" y="207.9" text-anchor="end">-0.5</text><text x="332.2" y="517.7" text-anchor="middle">0</text><text x="65.7" y="266.6" text-anchor="end">0</text><text x="397.2" y="517.7" text-anchor="middle">0.5</text><text x="65.7" y="325.2" text-anchor="end">0.5</text><text x="462.2" y="517.7" text-anchor="middle">1</text><text x="65.7" y="383.8" text-anchor="end">1</text><text x="527.2" y="517.7" text-anchor="middle">1.5</text><text x="65.7" y="442.5" text-anchor="end">1.5</text><text x="592.2" y="517.7" text-anchor="middle">2</text><text x="65.7" y="501.1" text-anchor="end">2</text></g>
<text x="332.2" y="545.2" font-family="Liberation Sans" font-size="26" fill="#262626" text-anchor="middle">x (units of <tspan font-family="Liberation Serif">&#923;</tspan>)</text>
<text transform="translate(23.0 259.9) rotate(-90)" font-family="Liberation Sans" font-size="26" fill="#262626" text-anchor="middle">y (units of <tspan font-family="Liberation Serif">&#923;</tspan>)</text>
<text x="332.2" y="17.7" font-family="Liberation Sans" font-size="20" font-weight="bold" fill="#000" text-anchor="middle">(a)</text>
<rect x="612.5" y="25.4" width="37.9" height="469.1" fill="url(#cbg)" stroke="#262626" stroke-width="1.4"/>
<path d="M650.4 452.1h-5 M650.4 409.7h-5 M650.4 367.3h-5 M650.4 324.8h-5 M650.4 282.4h-5 M650.4 240.0h-5 M650.4 197.6h-5 M650.4 155.2h-5 M650.4 112.8h-5 M650.4 70.4h-5 M650.4 27.9h-5" stroke="#262626" stroke-width="1.2"/>
<g font-family="Liberation Sans" font-size="16.8" fill="#262626"><text x="656.4" y="458.1">0.02</text><text x="656.4" y="415.7">0.04</text><text x="656.4" y="373.3">0.06</text><text x="656.4" y="330.8">0.08</text><text x="656.4" y="288.4">0.1</text><text x="656.4" y="246.0">0.12</text><text x="656.4" y="203.6">0.14</text><text x="656.4" y="161.2">0.16</text><text x="656.4" y="118.8">0.18</text><text x="656.4" y="76.4">0.2</text><text x="656.4" y="33.9">0.22</text></g>
<g clip-path="url(#clb)"><g filter="url(#pmb)" shape-rendering="crispEdges"><rect x="816" y="10" width="539" height="497" fill="#000000"/>
<path fill="#040404" d="M830 10h7v7h-7zm21 0h7v7h-7zm329 0h7v7h-7zm21 0h7v7h-7zm140 0h7v7h-7zm-518 7h7v7h-7zm21 0h7v7h-7zm98 0h7v7h-7zm245 0h7v7h-7zm21 0h7v7h-7zm126 0h7v7h-7zm-518 7h7v7h-7zm133 0h7v7h-7zm140 0h7v7h-7zm126 0h7v7h-7zm112 0h7v7h-7zm-371 7h7v7h-7zm126 0h7v7h-7zm252 0h7v7h-7zm-371 7h7v7h-7zm21 0h7v7h-7zm70 0h7v7h-7zm21 0h7v7h-7zm161 0h7v7h-7zm91 0h7v7h-7zm-357 7h7v7h-7zm21 0h7v7h-7zm56 0h7v7h-7zm21 0h7v7h-7zm175 0h7v7h-7zm56 0h7v7h-7zm21 0h7v7h-7zm-343 7h7v7h-7zm28 0h14v7h-14zm21 0h14v7h-14zm35 0h7v7h-7zm196 0h14v7h-14zm21 0h14v7h-14zm-224 7h7v7h-7zm175 0h7v7h-7zm-245 7h7v7h-7zm252 0h7v7h-7zm70 0h7v7h-7zm-259 7h7v7h-7zm196 7h7v7h-7zm0 7h7v7h-7zm-259 7h7v7h-7zm63 0h7v7h-7zm259 0h7v7h-7zm-329 7h7v7h-7zm259 0h7v7h-7zm-238 7h7v7h-7zm21 0h14v7h-14zm35 0h7v7h-7zm210 0h21v7h-21zm49 0h7v7h-7zm-329 7h7v7h-7zm49 0h7v7h-7zm217 0h7v7h-7zm42 0h7v7h-7zm28 0h7v7h-7zm-343 7h7v7h-7zm329 0h7v7h-7zm21 0h7v7h-7zm-280 7h7v7h-7zm14 0h7v7h-7zm168 0h7v7h-7zm84 0h7v7h-7zm21 0h7v7h-7zm-518 7h7v7h-7zm126 0h7v7h-7zm280 0h7v7h-7zm119 0h7v7h-7zm-518 7h7v7h-7zm112 0h7v7h-7zm133 0h7v7h-7zm147 0h7v7h-7zm133 0h7v7h-7zm-518 7h7v7h-7zm21 0h7v7h-7zm77 0h7v7h-7zm133 0h7v7h-7zm147 0h7v7h-7zm-371 7h7v7h-7zm21 0h7v7h-7zm343 0h7v7h-7zm-357 7h7v7h-7zm28 0h7v7h-7zm35 0h7v7h-7zm182 0h7v7h-7zm91 0h7v7h-7zm-329 7h7v7h-7zm35 0h14v7h-14zm42 0h7v7h-7zm-7 7h7v7h-7zm161 0h7v7h-7zm21 0h7v7h-7zm70 0h7v7h-7zm14 0h7v7h-7zm-329 7h7v7h-7zm63 0h7v7h-7zm168 7h7v7h-7zm-168 7h7v7h-7zm168 0h7v7h-7zm-168 7h7v7h-7zm182 0h7v7h-7zm-245 7h7v7h-7zm70 0h7v7h-7zm154 0h7v7h-7zm91 0h7v7h-7zm-287 7h21v7h-21zm189 0h7v7h-7zm112 0h7v7h-7zm-315 7h7v7h-7zm42 0h7v7h-7zm154 0h7v7h-7zm112 0h7v7h-7zm-315 7h7v7h-7zm56 0h7v7h-7zm140 0h7v7h-7zm14 0h7v7h-7zm273 0h7v7h-7zm-294 7h7v7h-7zm287 0h7v7h-7zm-399 7h7v7h-7zm105 0h7v7h-7zm14 0h7v7h-7zm273 0h7v7h-7zm-497 7h7v7h-7zm112 0h7v7h-7zm21 0h7v7h-7zm70 0h7v7h-7zm14 0h7v7h-7zm273 0h7v7h-7zm-497 7h7v7h-7zm126 0h7v7h-7zm21 0h7v7h-7zm56 0h7v7h-7zm287 0h7v7h-7zm-497 7h7v7h-7zm140 0h7v7h-7zm35 0h21v7h-21zm238 0h7v7h-7zm77 0h7v7h-7zm-497 7h7v7h-7zm154 0h7v7h-7zm273 0h7v7h-7zm-259 7h7v7h-7zm35 0h14v7h-14zm238 0h7v7h-7zm35 0h7v7h-7zm-56 7h7v7h-7zm77 0h7v7h-7zm-70 7h7v7h-7zm63 0h7v7h-7zm-63 7h7v7h-7zm0 14h7v7h-7zm63 7h7v7h-7zm-70 7h7v7h-7zm-252 7h7v7h-7zm49 0h7v7h-7zm196 0h7v7h-7zm28 0h35v7h-35zm56 0h7v7h-7zm-91 7h7v7h-7zm21 0h7v7h-7zm77 0h7v7h-7zm-336 7h7v7h-7zm77 0h7v7h-7zm154 0h7v7h-7zm21 0h7v7h-7zm70 0h7v7h-7zm21 0h7v7h-7zm-273 7h7v7h-7zm14 0h7v7h-7zm140 0h7v7h-7zm105 0h7v7h-7zm21 0h7v7h-7zm-518 7h7v7h-7zm133 0h7v7h-7zm252 0h7v7h-7zm14 0h7v7h-7zm126 0h7v7h-7zm-518 7h7v7h-7zm21 0h7v7h-7zm98 0h7v7h-7zm266 0h7v7h-7zm140 0h7v7h-7zm-518 7h7v7h-7zm21 0h7v7h-7zm84 0h7v7h-7zm14 0h7v7h-7zm252 0h7v7h-7zm-364 7h7v7h-7zm21 0h7v7h-7zm84 0h7v7h-7zm161 0h7v7h-7zm70 0h7v7h-7zm21 0h7v7h-7zm-350 7h7v7h-7zm28 0h7v7h-7zm42 0h7v7h-7zm21 0h7v7h-7zm231 0h7v7h-7zm21 0h7v7h-7zm-336 7h7v7h-7zm35 0h21v7h-21zm238 0h7v7h-7zm28 0h7v7h-7zm28 0h7v7h-7zm-322 14h7v7h-7zm63 0h7v7h-7zm189 0h7v7h-7zm63 0h7v7h-7zm0 7h7v7h-7zm0 7h7v7h-7zm-252 7h7v7h-7zm189 0h7v7h-7zm63 0h7v7h-7zm-315 7h7v7h-7zm63 0h7v7h-7zm189 0h7v7h-7zm-182 7h7v7h-7zm175 0h7v7h-7zm77 0h7v7h-7zm-301 7h35v7h-35zm252 0h14v7h-14zm21 0h14v7h-14zm35 0h7v7h-7zm-343 7h7v7h-7zm21 0h7v7h-7zm49 0h7v7h-7zm203 0h7v7h-7zm77 0h7v7h-7zm-357 7h7v7h-7zm21 0h7v7h-7zm70 0h7v7h-7zm252 0h7v7h-7zm21 0h7v7h-7zm-371 7h7v7h-7zm105 0h7v7h-7zm273 0h7v7h-7zm-266 7h7v7h-7zm147 0h7v7h-7zm126 0h7v7h-7zm133 0h7v7h-7zm-518 7h7v7h-7zm119 0h7v7h-7zm21 0h7v7h-7zm91 0h7v7h-7zm21 0h7v7h-7zm140 0h7v7h-7zm119 0h7v7h-7zm-518 7h7v7h-7zm154 0h7v7h-7zm77 0h7v7h-7zm21 0h7v7h-7zm238 0h7v7h-7zm21 0h7v7h-7z"/>
<path fill="#080808" d="M928 10h7v7h-7zm182 0h7v7h-7zm-273 14h7v7h-7zm357 0h7v7h-7zm-364 7h7v7h-7zm147 0h7v7h-7zm84 0h7v7h-7zm140 0h7v7h-7zm28 0h7v7h-7zm-406 7h7v7h-7zm385 0h7v7h-7zm98 0h7v7h-7zm-490 7h7v7h-7zm182 0h7v7h-7zm42 0h7v7h-7zm175 0h7v7h-7zm35 0h7v7h-7zm-231 7h7v7h-7zm203 0h7v7h-7zm49 0h7v7h-7zm42 7h7v7h-7zm-259 7h7v7h-7zm-70 7h7v7h-7zm252 0h7v7h-7zm70 0h7v7h-7zm-259 7h7v7h-7zm259 0h7v7h-7zm-322 7h7v7h-7zm63 0h7v7h-7zm259 0h7v7h-7zm-70 7h7v7h-7zm77 7h7v7h-7zm-343 7h7v7h-7zm35 0h14v7h-14zm224 0h7v7h-7zm-266 7h7v7h-7zm28 0h7v7h-7zm266 0h7v7h-7zm-301 7h7v7h-7zm84 0h7v7h-7zm21 0h7v7h-7zm182 0h7v7h-7zm-294 7h7v7h-7zm21 0h7v7h-7zm350 7h7v7h-7zm-476 7h7v7h-7zm210 0h7v7h-7zm273 0h7v7h-7zm-252 7h7v7h-7zm-161 7h7v7h-7zm168 0h7v7h-7zm-182 7h7v7h-7zm35 0h7v7h-7zm413 0h7v7h-7zm-273 7h7v7h-7zm98 0h7v7h-7zm14 14h7v7h-7zm-329 7h7v7h-7zm63 0h7v7h-7zm-63 14h7v7h-7zm329 7h7v7h-7zm-336 7h7v7h-7zm84 0h7v7h-7zm161 0h7v7h-7zm77 0h7v7h-7zm-329 7h7v7h-7zm35 0h7v7h-7zm28 0h7v7h-7zm35 0h7v7h-7zm252 0h7v7h-7zm-245 7h7v7h-7zm-91 7h7v7h-7zm98 0h7v7h-7zm112 0h7v7h-7zm-105 7h7v7h-7zm-147 7h7v7h-7zm532 0h7v7h-7zm-364 7h7v7h-7zm42 0h7v7h-7zm315 0h7v7h-7zm-294 7h7v7h-7zm287 0h7v7h-7zm-294 7h7v7h-7zm259 0h7v7h-7zm28 0h7v7h-7zm-350 7h7v7h-7zm287 0h7v7h-7zm21 0h7v7h-7zm35 0h7v7h-7zm-14 21h7v7h-7zm-63 7h7v7h-7zm63 7h7v7h-7zm-266 21h7v7h-7zm-224 7h7v7h-7zm434 0h7v7h-7zm42 0h7v7h-7zm-469 7h7v7h-7zm140 0h7v7h-7zm28 0h7v7h-7zm49 0h7v7h-7zm-210 7h7v7h-7zm126 0h7v7h-7zm21 0h7v7h-7zm-140 7h7v7h-7zm483 0h7v7h-7zm-224 14h7v7h-7zm-175 7h7v7h-7zm210 14h21v7h-21zm-203 7h7v7h-7zm175 0h7v7h-7zm77 0h7v7h-7zm-322 14h7v7h-7zm63 0h7v7h-7zm189 0h7v7h-7zm-189 7h7v7h-7zm189 0h7v7h-7zm-252 7h7v7h-7zm322 7h7v7h-7zm-329 7h7v7h-7zm84 7h7v7h-7zm161 0h7v7h-7zm49 0h7v7h-7zm-273 7h7v7h-7zm70 0h7v7h-7zm147 0h7v7h-7zm77 0h7v7h-7zm-217 7h7v7h-7zm161 0h7v7h-7zm-259 7h7v7h-7zm105 0h7v7h-7zm119 0h7v7h-7zm112 0h7v7h-7zm-224 7h7v7h-7zm105 0h7v7h-7zm126 0h7v7h-7zm133 0h7v7h-7zm-7 7h7v7h-7zm-364 7h7v7h-7z"/>
<path fill="#0c0c0c" d="M1173 10h7v7h-7zm-210 7h7v7h-7zm112 0h7v7h-7zm28 0h7v7h-7zm-133 7h7v7h-7zm98 0h7v7h-7zm154 0h7v7h-7zm91 7h7v7h-7zm-21 14h7v7h-7zm28 7h7v7h-7zm-343 7h7v7h-7zm7 21h7v7h-7zm252 0h7v7h-7zm0 7h7v7h-7zm-420 28h7v7h-7zm406 0h7v7h-7zm63 0h7v7h-7zm-70 7h7v7h-7zm84 0h7v7h-7zm-469 7h7v7h-7zm406 0h7v7h-7zm-399 7h7v7h-7zm126 0h7v7h-7zm-7 7h7v7h-7zm-7 7h7v7h-7zm385 0h7v7h-7zm-469 7h7v7h-7zm77 0h7v7h-7zm399 0h7v7h-7zm-462 7h7v7h-7zm189 0h7v7h-7zm35 7h7v7h-7zm91 0h7v7h-7zm-343 7h7v7h-7zm259 7h7v7h-7zm77 7h7v7h-7zm-329 7h7v7h-7zm329 0h7v7h-7zm-259 7h7v7h-7zm154 0h7v7h-7zm105 0h7v7h-7zm-84 7h7v7h-7zm-217 14h7v7h-7zm14 0h7v7h-7zm189 0h7v7h-7zm-252 7h7v7h-7zm-7 7h7v7h-7zm98 0h7v7h-7zm-105 7h7v7h-7zm28 0h7v7h-7zm378 14h7v7h-7zm77 7h7v7h-7zm-84 7h7v7h-7zm28 0h7v7h-7zm-21 7h7v7h-7zm42 0h14v7h-14zm-280 7h21v7h-21zm315 21h7v7h-7zm-70 14h7v7h-7zm77 7h7v7h-7zm-343 14h7v7h-7zm84 0h7v7h-7zm245 7h7v7h-7zm-70 7h7v7h-7zm-259 7h7v7h-7zm91 0h7v7h-7zm266 7h7v7h-7zm-147 7h7v7h-7zm154 0h7v7h-7zm-469 7h7v7h-7zm476 0h7v7h-7zm-462 7h7v7h-7zm28 0h7v7h-7zm210 0h7v7h-7zm42 0h7v7h-7zm189 0h7v7h-7zm-413 7h7v7h-7zm161 0h7v7h-7zm-245 7h7v7h-7zm7 21h7v7h-7zm70 14h7v7h-7zm-84 14h7v7h-7zm280 7h7v7h-7zm224 0h7v7h-7zm-427 7h7v7h-7zm161 0h7v7h-7zm259 0h7v7h-7zm-238 7h7v7h-7zm231 0h7v7h-7zm-133 14h7v7h-7zm35 7h7v7h-7z"/>
<path fill="#101010" d="M858 10h7v7h-7zm98 0h7v7h-7zm126 0h7v7h-7zm126 0h7v7h-7zm-273 7h7v7h-7zm280 0h7v7h-7zm-119 7h7v7h-7zm224 0h7v7h-7zm28 0h7v7h-7zm-7 7h7v7h-7zm-350 7h7v7h-7zm56 0h7v7h-7zm287 0h7v7h-7zm-7 7h7v7h-7zm-266 14h7v7h-7zm168 7h7v7h-7zm-252 28h7v7h-7zm77 7h7v7h-7zm266 7h7v7h-7zm-294 7h7v7h-7zm238 0h21v7h-21zm-441 7h7v7h-7zm385 7h7v7h-7zm-161 7h7v7h-7zm21 0h7v7h-7zm133 0h7v7h-7zm-7 7h7v7h-7zm-273 7h7v7h-7zm266 0h7v7h-7zm-126 7h7v7h-7zm119 0h7v7h-7zm-294 7h14v7h-14zm210 0h7v7h-7zm-168 14h7v7h-7zm154 7h7v7h-7zm28 7h7v7h-7zm56 0h7v7h-7zm0 7h7v7h-7zm-273 28h7v7h-7zm-21 7h7v7h-7zm329 0h7v7h-7zm-14 7h7v7h-7zm-252 7h7v7h-7zm259 0h7v7h-7zm-350 7h7v7h-7zm133 0h7v7h-7zm224 0h7v7h-7zm21 0h7v7h-7zm-231 7h7v7h-7zm28 0h7v7h-7zm35 0h7v7h-7zm154 0h7v7h-7zm7 7h7v7h-7zm77 7h7v7h-7zm-476 7h7v7h-7zm217 0h7v7h-7zm-21 7h7v7h-7zm301 7h7v7h-7zm-315 35h21v7h-21zm231 0h7v7h-7zm56 14h7v7h-7zm-252 7h7v7h-7zm189 14h7v7h-7zm-154 7h7v7h-7zm21 0h7v7h-7zm98 0h7v7h-7zm-259 7h7v7h-7zm161 14h7v7h-7zm-245 7h7v7h-7zm343 0h7v7h-7zm-84 42h7v7h-7zm84 7h7v7h-7zm-350 14h7v7h-7zm70 0h7v7h-7zm252 0h7v7h-7zm14 7h7v7h-7zm-357 14h7v7h-7zm28 0h7v7h-7zm252 0h7v7h-7zm133 7h7v7h-7zm-245 7h7v7h-7zm63 0h7v7h-7zm161 0h7v7h-7z"/>
<path fill="#141414" d="M1117 10h7v7h-7zm217 0h7v7h-7zm-154 7h7v7h-7zm147 0h7v7h-7zm-385 7h7v7h-7zm147 7h7v7h-7zm-7 7h7v7h-7zm161 0h7v7h-7zm56 0h7v7h-7zm-294 7h7v7h-7zm28 0h7v7h-7zm42 0h7v7h-7zm182 0h7v7h-7zm28 0h7v7h-7zm-315 7h7v7h-7zm98 0h7v7h-7zm245 14h7v7h-7zm-259 7h7v7h-7zm175 28h7v7h-7zm-231 14h7v7h-7zm63 0h7v7h-7zm266 0h7v7h-7zm-343 7h7v7h-7zm266 0h7v7h-7zm56 7h7v7h-7zm35 0h7v7h-7zm-112 7h7v7h-7zm119 0h7v7h-7zm-147 28h7v7h-7zm-357 7h7v7h-7zm266 7h7v7h-7zm56 7h7v7h-7zm-238 14h7v7h-7zm154 0h7v7h-7zm28 0h7v7h-7zm56 7h7v7h-7zm-315 7h7v7h-7zm84 0h7v7h-7zm-21 21h7v7h-7zm266 0h7v7h-7zm28 7h7v7h-7zm7 7h7v7h-7zm-273 7h7v7h-7zm91 0h7v7h-7zm-196 7h7v7h-7zm161 0h7v7h-7zm315 0h7v7h-7zm-490 14h7v7h-7zm161 14h7v7h-7zm252 7h7v7h-7zm-245 35h7v7h-7zm28 0h7v7h-7zm-42 7h7v7h-7zm343 0h7v7h-7zm-63 7h7v7h-7zm-259 7h7v7h-7zm245 0h7v7h-7zm-161 14h7v7h-7zm112 0h7v7h-7zm-378 7h7v7h-7zm147 0h7v7h-7zm252 0h7v7h-7zm-357 7h7v7h-7zm98 0h7v7h-7zm119 0h7v7h-7zm-126 7h7v7h-7zm133 0h7v7h-7zm-196 7h7v7h-7zm14 0h7v7h-7zm42 0h7v7h-7zm252 0h7v7h-7zm-266 21h7v7h-7zm175 0h7v7h-7zm77 0h7v7h-7zm0 21h7v7h-7zm-329 7h7v7h-7zm343 14h7v7h-7zm-315 7h7v7h-7zm252 0h7v7h-7zm-301 7h7v7h-7zm35 0h7v7h-7zm252 0h7v7h-7zm-294 7h7v7h-7zm105 0h7v7h-7zm-91 14h7v7h-7zm252 0h7v7h-7zm-259 7h7v7h-7zm252 0h7v7h-7zm224 0h7v7h-7z"/>
<path fill="#181818" d="M851 17h7v7h-7zm98 14h7v7h-7zm7 7h7v7h-7zm7 7h7v7h-7zm91 49h7v7h-7zm259 0h7v7h-7zm-280 28h7v7h-7zm259 0h7v7h-7zm42 0h7v7h-7zm-294 7h7v7h-7zm-224 14h7v7h-7zm112 0h7v7h-7zm294 0h7v7h-7zm-364 7h7v7h-7zm196 0h7v7h-7zm-147 7h7v7h-7zm-70 7h7v7h-7zm336 0h7v7h-7zm-322 21h7v7h-7zm77 0h7v7h-7zm154 7h7v7h-7zm266 35h7v7h-7zm-266 7h7v7h-7zm-112 14h7v7h-7zm350 7h7v7h-7zm-371 7h7v7h-7zm56 0h14v7h-14zm-175 7h7v7h-7zm126 0h7v7h-7zm287 0h7v7h-7zm-224 21h7v7h-7zm217 28h7v7h-7zm77 7h7v7h-7zm-287 7h7v7h-7zm21 7h7v7h-7zm175 0h7v7h-7zm56 7h7v7h-7zm49 0h7v7h-7zm-301 7h7v7h-7zm21 7h7v7h-7zm28 0h7v7h-7zm126 0h7v7h-7zm105 0h7v7h-7zm42 7h7v7h-7zm-413 7h7v7h-7zm-112 7h7v7h-7zm385 0h7v7h-7zm-378 7h7v7h-7zm280 0h7v7h-7zm56 0h7v7h-7zm35 0h7v7h-7zm-364 7h7v7h-7zm56 0h7v7h-7zm231 0h7v7h-7zm28 0h7v7h-7zm-301 21h7v7h-7zm329 7h7v7h-7zm0 7h7v7h-7zm-252 7h7v7h-7zm175 0h7v7h-7zm-168 14h7v7h-7zm161 0h7v7h-7zm-196 14h7v7h-7zm252 0h7v7h-7zm49 0h7v7h-7zm14 14h7v7h-7zm-280 7h7v7h-7zm287 0h7v7h-7zm-245 7h7v7h-7zm77 0h7v7h-7zm294 0h7v7h-7z"/>
<path fill="#1c1c1c" d="M823 10h7v7h-7zm98 0h7v7h-7zm245 0h7v7h-7zm-350 7h7v7h-7zm371 7h7v7h-7zm-203 7h7v7h-7zm70 0h7v7h-7zm-42 14h21v7h-21zm252 0h7v7h-7zm14 0h7v7h-7zm-462 7h7v7h-7zm406 7h7v7h-7zm-245 7h7v7h-7zm77 14h7v7h-7zm-84 21h7v7h-7zm35 14h7v7h-7zm14 0h7v7h-7zm-42 14h7v7h-7zm336 7h7v7h-7zm-490 14h7v7h-7zm392 0h7v7h-7zm-385 7h7v7h-7zm42 0h7v7h-7zm217 0h7v7h-7zm119 0h7v7h-7zm-273 14h7v7h-7zm413 0h7v7h-7zm-182 7h7v7h-7zm28 0h7v7h-7zm-266 14h7v7h-7zm-77 14h7v7h-7zm259 0h7v7h-7zm-35 7h7v7h-7zm91 0h7v7h-7zm-322 7h7v7h-7zm98 0h7v7h-7zm252 0h7v7h-7zm-21 7h7v7h-7zm-119 7h7v7h-7zm287 0h7v7h-7zm-476 7h7v7h-7zm98 0h7v7h-7zm84 0h7v7h-7zm287 0h7v7h-7zm-294 7h7v7h-7zm287 0h7v7h-7zm-364 28h7v7h-7zm294 0h7v7h-7zm-287 7h7v7h-7zm350 7h7v7h-7zm-84 14h7v7h-7zm77 0h7v7h-7zm-77 7h7v7h-7zm-420 28h7v7h-7zm399 7h7v7h-7zm49 0h14v7h-14zm-259 7h7v7h-7zm203 0h7v7h-7zm126 0h7v7h-7zm-350 7h7v7h-7zm357 0h7v7h-7zm-490 14h7v7h-7zm21 14h7v7h-7zm42 0h7v7h-7zm14 35h7v7h-7zm175 0h7v7h-7zm-217 42h14v7h-14zm252 0h14v7h-14zm-224 7h7v7h-7zm294 0h7v7h-7zm-28 7h7v7h-7zm-210 7h7v7h-7zm-28 7h7v7h-7zm371 0h7v7h-7zm28 7h7v7h-7z"/>
<path fill="#202020" d="M1110 17h7v7h-7zm-266 7h7v7h-7zm350 7h7v7h-7zm42 0h7v7h-7zm70 0h7v7h-7zm-35 14h7v7h-7zm-56 7h7v7h-7zm105 7h7v7h-7zm-91 14h7v7h-7zm84 0h7v7h-7zm-336 14h7v7h-7zm77 0h7v7h-7zm259 0h7v7h-7zm-91 21h7v7h-7zm-210 7h7v7h-7zm-77 21h7v7h-7zm-84 7h7v7h-7zm469 0h7v7h-7zm-210 28h7v7h-7zm-35 7h7v7h-7zm-224 14h7v7h-7zm217 28h7v7h-7zm-119 7h7v7h-7zm112 0h7v7h-7zm-182 7h7v7h-7zm28 0h7v7h-7zm49 0h7v7h-7zm-35 7h7v7h-7zm63 14h7v7h-7zm77 0h7v7h-7zm238 14h7v7h-7zm-252 7h7v7h-7zm238 0h7v7h-7zm42 7h7v7h-7zm-98 7h7v7h-7zm84 28h7v7h-7zm-329 14h7v7h-7zm-161 14h7v7h-7zm189 7h14v7h-14zm56 0h7v7h-7zm224 0h7v7h-7zm-56 7h7v7h-7zm-392 7h7v7h-7zm98 0h7v7h-7zm371 0h7v7h-7zm-126 42h7v7h-7zm-336 14h7v7h-7zm77 7h7v7h-7zm175 0h7v7h-7zm-252 7h7v7h-7zm336 7h7v7h-7zm-343 7h7v7h-7zm98 7h7v7h-7zm147 0h7v7h-7zm259 0h7v7h-7zm-490 21h7v7h-7zm252 0h7v7h-7zm-49 7h7v7h-7zm-112 14h7v7h-7zm294 0h7v7h-7z"/>
<path fill="#242424" d="M865 10h7v7h-7zm259 0h7v7h-7zm-147 14h7v7h-7zm84 0h7v7h-7zm-224 7h7v7h-7zm-7 7h7v7h-7zm168 0h7v7h-7zm42 0h7v7h-7zm161 0h7v7h-7zm49 0h7v7h-7zm-427 7h7v7h-7zm385 0h7v7h-7zm-147 21h7v7h-7zm-84 7h7v7h-7zm0 7h7v7h-7zm336 0h7v7h-7zm-84 14h7v7h-7zm91 7h7v7h-7zm-504 7h7v7h-7zm147 0h7v7h-7zm98 0h7v7h-7zm-105 7h7v7h-7zm35 7h7v7h-7zm266 0h7v7h-7zm28 0h7v7h-7zm-343 7h7v7h-7zm126 0h7v7h-7zm175 0h7v7h-7zm-273 7h7v7h-7zm105 7h7v7h-7zm252 7h7v7h-7zm-427 7h7v7h-7zm434 0h7v7h-7zm-392 7h7v7h-7zm161 0h7v7h-7zm238 0h7v7h-7zm-490 35h7v7h-7zm84 7h7v7h-7zm168 14h7v7h-7zm-266 7h7v7h-7zm399 35h7v7h-7zm112 0h7v7h-7zm-7 7h7v7h-7zm-77 7h7v7h-7zm70 0h7v7h-7zm-294 7h7v7h-7zm-63 7h7v7h-7zm49 0h7v7h-7zm287 21h7v7h-7zm-280 21h7v7h-7zm-203 21h7v7h-7zm7 7h7v7h-7zm112 0h7v7h-7zm154 21h7v7h-7zm70 0h7v7h-7zm-42 14h7v7h-7zm14 0h7v7h-7zm203 7h7v7h-7zm-504 7h7v7h-7zm91 0h7v7h-7zm161 0h7v7h-7zm-245 21h7v7h-7zm98 35h7v7h-7zm133 0h7v7h-7zm-210 7h7v7h-7zm84 0h7v7h-7zm119 0h7v7h-7zm49 0h7v7h-7zm42 0h7v7h-7zm-203 7h7v7h-7zm105 0h7v7h-7zm119 7h7v7h-7zm133 0h7v7h-7zm-329 14h7v7h-7zm49 0h7v7h-7z"/>
<path fill="#282828" d="M928 17h7v7h-7zm140 0h7v7h-7zm105 0h7v7h-7zm-70 7h7v7h-7zm126 0h7v7h-7zm63 14h7v7h-7zm35 14h7v7h-7zm-357 7h7v7h-7zm259 21h7v7h-7zm0 7h7v7h-7zm-14 28h7v7h-7zm-266 7h7v7h-7zm77 0h7v7h-7zm273 7h7v7h-7zm-455 7h7v7h-7zm119 7h7v7h-7zm84 0h7v7h-7zm-133 7h7v7h-7zm168 0h7v7h-7zm-203 7h7v7h-7zm70 0h7v7h-7zm119 14h7v7h-7zm98 0h7v7h-7zm-322 7h7v7h-7zm350 7h7v7h-7zm-98 42h7v7h-7zm-266 7h7v7h-7zm56 0h7v7h-7zm14 0h7v7h-7zm175 7h7v7h-7zm-259 7h7v7h-7zm42 0h7v7h-7zm70 0h7v7h-7zm98 7h7v7h-7zm245 21h14v7h-14zm-455 14h7v7h-7zm175 7h14v7h-14zm238 28h7v7h-7zm91 7h7v7h-7zm-357 14h7v7h-7zm98 0h7v7h-7zm-105 7h7v7h-7zm294 0h7v7h-7zm-196 14h7v7h-7zm266 7h7v7h-7zm-455 7h7v7h-7zm56 0h7v7h-7zm-42 7h7v7h-7zm28 0h7v7h-7zm231 7h7v7h-7zm203 0h7v7h-7zm0 70h7v7h-7zm-7 7h7v7h-7zm-413 7h7v7h-7zm406 0h7v7h-7zm-476 7h7v7h-7zm252 0h7v7h-7zm91 7h7v7h-7zm105 7h7v7h-7z"/>
<path fill="#2c2c2c" d="M1075 10h7v7h-7zm84 0h7v7h-7zm-189 7h7v7h-7zm252 0h7v7h-7zm91 7h7v7h-7zm-245 35h7v7h-7zm154 7h7v7h-7zm105 42h7v7h-7zm-504 7h7v7h-7zm7 7h7v7h-7zm378 0h7v7h-7zm56 0h7v7h-7zm14 0h7v7h-7zm-441 7h7v7h-7zm350 14h7v7h-7zm-322 7h7v7h-7zm91 0h7v7h-7zm224 0h7v7h-7zm-287 7h7v7h-7zm168 7h7v7h-7zm140 7h7v7h-7zm-266 7h7v7h-7zm182 0h7v7h-7zm0 7h7v7h-7zm0 7h7v7h-7zm-42 14h7v7h-7zm35 7h7v7h-7zm84 0h7v7h-7zm-28 7h7v7h-7zm182 0h7v7h-7zm-147 7h7v7h-7zm-308 7h7v7h-7zm-70 7h7v7h-7zm154 7h7v7h-7zm91 0h7v7h-7zm-217 7h7v7h-7zm140 0h7v7h-7zm315 7h7v7h-7zm-252 7h7v7h-7zm168 14h7v7h-7zm-217 14h7v7h-7zm315 0h7v7h-7zm-504 35h7v7h-7zm154 7h7v7h-7zm315 14h7v7h-7zm14 7h7v7h-7zm-322 7h7v7h-7zm252 0h7v7h-7zm98 14h7v7h-7zm-168 7h7v7h-7zm175 0h7v7h-7zm-392 14h7v7h-7zm147 0h7v7h-7zm105 0h7v7h-7zm-7 14h7v7h-7zm0 21h7v7h-7zm-252 7h7v7h-7zm161 0h7v7h-7zm98 7h7v7h-7zm-357 7h7v7h-7zm70 14h7v7h-7zm329 21h7v7h-7zm-35 7h7v7h-7z"/>
<path fill="#303030" d="M914 10h7v7h-7zm49 0h7v7h-7zm168 0h7v7h-7zm84 0h7v7h-7zm-357 7h7v7h-7zm462 0h7v7h-7zm-385 7h7v7h-7zm112 7h7v7h-7zm49 0h7v7h-7zm252 0h7v7h-7zm-343 7h7v7h-7zm28 0h7v7h-7zm224 0h7v7h-7zm84 0h7v7h-7zm-7 7h7v7h-7zm-371 7h7v7h-7zm112 0h7v7h-7zm245 14h7v7h-7zm-259 7h7v7h-7zm-91 21h7v7h-7zm91 7h7v7h-7zm-63 21h7v7h-7zm70 0h7v7h-7zm203 0h7v7h-7zm-238 7h7v7h-7zm168 0h7v7h-7zm-161 7h7v7h-7zm154 0h7v7h-7zm42 0h7v7h-7zm-350 21h7v7h-7zm287 0h7v7h-7zm-336 14h7v7h-7zm511 7h7v7h-7zm-413 7h7v7h-7zm140 0h7v7h-7zm84 7h7v7h-7zm35 0h7v7h-7zm-259 7h7v7h-7zm182 0h7v7h-7zm42 0h7v7h-7zm-315 14h7v7h-7zm98 0h7v7h-7zm-70 28h7v7h-7zm63 14h7v7h-7zm84 0h7v7h-7zm210 0h7v7h-7zm21 14h7v7h-7zm42 0h7v7h-7zm-469 14h7v7h-7zm210 7h7v7h-7zm-49 7h7v7h-7zm28 0h7v7h-7zm-21 28h21v7h-21zm-14 7h7v7h-7zm63 0h7v7h-7zm287 7h7v7h-7zm-70 14h7v7h-7zm-266 7h7v7h-7zm49 0h7v7h-7zm56 14h7v7h-7zm84 0h7v7h-7zm42 0h7v7h-7zm-336 14h7v7h-7zm231 0h7v7h-7zm84 7h7v7h-7zm-364 7h7v7h-7zm259 14h7v7h-7zm-252 28h7v7h-7zm-14 21h7v7h-7zm49 7h7v7h-7zm252 0h7v7h-7zm28 0h7v7h-7zm-343 7h7v7h-7zm357 0h7v7h-7zm-329 14h7v7h-7zm140 0h7v7h-7zm63 0h7v7h-7zm49 0h7v7h-7zm-98 7h7v7h-7zm35 0h7v7h-7zm56 0h7v7h-7z"/>
<path fill="#343434" d="M872 10h7v7h-7zm266 0h7v7h-7zm14 0h7v7h-7zm175 0h7v7h-7zm-210 7h7v7h-7zm63 7h7v7h-7zm-189 7h7v7h-7zm252 0h7v7h-7zm56 0h7v7h-7zm-210 7h7v7h-7zm196 0h7v7h-7zm-203 7h7v7h-7zm-266 14h7v7h-7zm504 35h7v7h-7zm-98 7h7v7h-7zm112 14h7v7h-7zm-315 7h7v7h-7zm322 0h7v7h-7zm-357 7h7v7h-7zm266 0h7v7h-7zm98 0h7v7h-7zm-42 7h7v7h-7zm-385 7h7v7h-7zm133 14h7v7h-7zm42 0h7v7h-7zm-252 28h7v7h-7zm315 0h7v7h-7zm-224 7h7v7h-7zm140 7h7v7h-7zm119 0h7v7h-7zm-35 7h7v7h-7zm35 0h7v7h-7zm-245 14h7v7h-7zm392 7h7v7h-7zm-133 7h7v7h-7zm-294 7h7v7h-7zm56 0h7v7h-7zm63 7h7v7h-7zm189 0h7v7h-7zm-224 7h7v7h-7zm14 0h7v7h-7zm301 0h7v7h-7zm-469 7h7v7h-7zm-7 7h7v7h-7zm-7 7h7v7h-7zm385 0h7v7h-7zm14 21h7v7h-7zm0 21h7v7h-7zm-217 7h7v7h-7zm308 0h7v7h-7zm-98 7h7v7h-7zm-168 7h7v7h-7zm224 14h7v7h-7zm-35 7h7v7h-7zm-385 14h7v7h-7zm70 0h7v7h-7zm42 0h7v7h-7zm91 0h7v7h-7zm-245 7h7v7h-7zm399 0h7v7h-7zm-392 7h7v7h-7zm70 0h14v7h-14zm315 0h7v7h-7zm-378 7h7v7h-7zm119 0h7v7h-7zm133 0h7v7h-7zm-238 21h7v7h-7zm91 0h7v7h-7zm252 7h7v7h-7zm0 7h7v7h-7zm-91 7h7v7h-7zm105 21h7v7h-7zm-378 14h7v7h-7zm77 0h7v7h-7zm-35 7h7v7h-7zm252 0h7v7h-7zm-189 7h7v7h-7zm301 0h7v7h-7zm77 7h7v7h-7zm-469 7h7v7h-7zm413 0h7v7h-7z"/>
<path fill="#383838" d="M1145 10h7v7h-7zm-294 14h7v7h-7zm91 7h7v7h-7zm7 7h7v7h-7zm63 0h7v7h-7zm14 0h7v7h-7zm238 0h7v7h-7zm14 0h7v7h-7zm-322 7h7v7h-7zm259 14h7v7h-7zm-245 7h7v7h-7zm252 7h7v7h-7zm98 0h7v7h-7zm-259 7h7v7h-7zm0 14h7v7h-7zm-245 7h7v7h-7zm189 21h14v7h-14zm287 7h7v7h-7zm-63 14h7v7h-7zm-413 7h7v7h-7zm14 14h7v7h-7zm280 0h7v7h-7zm56 0h7v7h-7zm42 0h7v7h-7zm-266 7h7v7h-7zm175 0h7v7h-7zm42 7h7v7h-7zm-84 14h7v7h-7zm-231 14h7v7h-7zm273 0h7v7h-7zm-49 7h7v7h-7zm-112 14h7v7h-7zm7 7h7v7h-7zm126 0h7v7h-7zm-49 7h7v7h-7zm140 0h7v7h-7zm35 0h7v7h-7zm-28 7h7v7h-7zm133 0h7v7h-7zm-315 7h7v7h-7zm189 0h7v7h-7zm-252 7h7v7h-7zm259 0h7v7h-7zm-252 7h7v7h-7zm259 0h7v7h-7zm-252 7h7v7h-7zm7 7h7v7h-7zm7 7h7v7h-7zm357 0h7v7h-7zm-511 7h7v7h-7zm203 0h7v7h-7zm301 7h7v7h-7zm-336 21h7v7h-7zm35 0h7v7h-7zm-196 14h7v7h-7zm392 0h7v7h-7zm119 7h7v7h-7zm-70 7h14v7h-14zm-77 14h7v7h-7zm119 0h7v7h-7zm-343 14h7v7h-7zm105 0h7v7h-7zm-112 7h7v7h-7zm119 0h7v7h-7zm273 21h7v7h-7zm-413 14h7v7h-7zm161 0h7v7h-7zm-161 14h7v7h-7zm7 14h7v7h-7zm147 0h7v7h-7zm259 0h7v7h-7zm-140 14h7v7h-7zm-322 7h14v7h-14zm252 0h21v7h-21zm84 7h7v7h-7zm-245 7h7v7h-7zm77 0h7v7h-7zm238 14h7v7h-7zm56 0h7v7h-7z"/>
<path fill="#3c3c3c" d="M816 10h7v7h-7zm91 0h7v7h-7zm259 7h7v7h-7zm-182 7h7v7h-7zm70 0h7v7h-7zm182 0h7v7h-7zm-49 7h7v7h-7zm-168 7h7v7h-7zm252 0h7v7h-7zm-448 14h7v7h-7zm385 0h7v7h-7zm112 28h7v7h-7zm-350 7h7v7h-7zm91 0h7v7h-7zm259 0h7v7h-7zm-98 7h7v7h-7zm-259 7h7v7h-7zm105 14h7v7h-7zm-91 21h7v7h-7zm98 0h7v7h-7zm-217 7h7v7h-7zm455 0h7v7h-7zm-441 7h7v7h-7zm35 0h7v7h-7zm315 0h7v7h-7zm-399 7h7v7h-7zm392 0h7v7h-7zm126 14h7v7h-7zm-497 21h7v7h-7zm0 7h7v7h-7zm98 7h7v7h-7zm406 7h7v7h-7zm-511 7h7v7h-7zm224 0h7v7h-7zm-7 7h7v7h-7zm-7 7h7v7h-7zm126 0h7v7h-7zm161 0h7v7h-7zm-455 7h7v7h-7zm448 0h7v7h-7zm-462 7h7v7h-7zm119 0h7v7h-7zm273 21h7v7h-7zm28 0h7v7h-7zm-238 14h7v7h-7zm-70 14h7v7h-7zm14 7h14v7h-14zm238 0h7v7h-7zm0 7h7v7h-7zm91 0h7v7h-7zm0 7h7v7h-7zm-504 7h7v7h-7zm210 0h7v7h-7zm-196 21h7v7h-7zm511 7h7v7h-7zm-147 7h7v7h-7zm154 0h7v7h-7zm-497 7h7v7h-7zm238 0h7v7h-7zm-217 14h7v7h-7zm42 0h7v7h-7zm252 0h7v7h-7zm-14 7h7v7h-7zm42 21h7v7h-7zm-350 14h7v7h-7zm0 7h7v7h-7zm91 0h7v7h-7zm161 0h7v7h-7zm-252 7h7v7h-7zm350 7h7v7h-7zm-112 14h7v7h-7zm133 14h7v7h-7zm-301 7h7v7h-7zm266 7h7v7h-7zm133 0h7v7h-7zm-378 7h7v7h-7zm70 7h7v7h-7zm21 0h7v7h-7z"/>
<path fill="#404040" d="M879 10h7v7h-7zm42 7h7v7h-7zm189 7h7v7h-7zm-266 7h7v7h-7zm-7 7h7v7h-7zm357 0h7v7h-7zm-364 7h7v7h-7zm371 0h7v7h-7zm126 14h7v7h-7zm-259 7h7v7h-7zm-98 7h7v7h-7zm0 7h7v7h-7zm252 0h7v7h-7zm105 21h7v7h-7zm-112 7h7v7h-7zm-224 21h7v7h-7zm35 0h7v7h-7zm231 0h7v7h-7zm-329 7h7v7h-7zm119 14h7v7h-7zm42 0h7v7h-7zm231 0h7v7h-7zm-371 14h7v7h-7zm385 0h7v7h-7zm-175 7h7v7h-7zm-91 7h7v7h-7zm56 0h7v7h-7zm77 0h7v7h-7zm-77 7h7v7h-7zm224 0h7v7h-7zm-189 28h7v7h-7zm-49 7h7v7h-7zm-203 21h7v7h-7zm14 7h7v7h-7zm105 0h7v7h-7zm35 14h7v7h-7zm182 0h7v7h-7zm56 0h7v7h-7zm35 21h7v7h-7zm-308 14h7v7h-7zm-210 7h7v7h-7zm168 0h7v7h-7zm21 0h7v7h-7zm-14 14h14v7h-14zm217 28h7v7h-7zm-371 7h7v7h-7zm364 0h7v7h-7zm-357 7h7v7h-7zm154 0h7v7h-7zm35 0h7v7h-7zm259 0h7v7h-7zm-357 7h7v7h-7zm301 0h7v7h-7zm-112 21h7v7h-7zm217 14h7v7h-7zm-504 7h7v7h-7zm0 42h7v7h-7zm112 7h7v7h-7zm392 0h7v7h-7zm-371 21h7v7h-7zm91 0h7v7h-7zm105 0h7v7h-7zm-308 7h7v7h-7zm252 0h7v7h-7zm-119 7h7v7h-7zm49 0h7v7h-7zm203 0h7v7h-7zm-301 7h7v7h-7zm70 0h14v7h-14zm245 0h7v7h-7z"/>
<path fill="#444444" d="M865 17h7v7h-7zm196 0h7v7h-7zm63 0h7v7h-7zm105 0h7v7h-7zm77 7h7v7h-7zm-308 7h7v7h-7zm42 0h7v7h-7zm210 0h7v7h-7zm-434 35h7v7h-7zm406 21h7v7h-7zm-399 21h7v7h-7zm133 0h7v7h-7zm329 21h7v7h-7zm-434 7h7v7h-7zm392 0h7v7h-7zm-273 7h7v7h-7zm-7 7h7v7h-7zm-7 7h7v7h-7zm147 0h7v7h-7zm224 0h7v7h-7zm-490 21h7v7h-7zm105 0h7v7h-7zm182 14h7v7h-7zm-182 7h7v7h-7zm406 7h7v7h-7zm-399 7h7v7h-7zm252 7h7v7h-7zm-371 7h7v7h-7zm273 0h7v7h-7zm63 0h7v7h-7zm-280 14h7v7h-7zm91 0h7v7h-7zm14 7h7v7h-7zm273 21h7v7h-7zm14 0h7v7h-7zm70 0h7v7h-7zm-7 7h7v7h-7zm-518 14h7v7h-7zm217 0h7v7h-7zm-224 21h7v7h-7zm175 0h14v7h-14zm-175 7h7v7h-7zm189 0h7v7h-7zm-28 7h7v7h-7zm70 7h7v7h-7zm280 0h7v7h-7zm-385 28h7v7h-7zm140 0h7v7h-7zm168 0h7v7h-7zm-266 7h7v7h-7zm63 0h7v7h-7zm266 7h7v7h-7zm-203 7h7v7h-7zm-168 28h7v7h-7zm147 0h7v7h-7zm259 35h7v7h-7zm-392 21h7v7h-7zm119 0h7v7h-7zm259 0h7v7h-7zm-371 7h7v7h-7zm105 0h7v7h-7zm-196 7h7v7h-7zm252 0h7v7h-7zm196 0h7v7h-7zm-133 14h7v7h-7zm98 7h7v7h-7z"/>
<path fill="#484848" d="M886 10h7v7h-7zm14 0h7v7h-7zm168 0h7v7h-7zm-91 7h7v7h-7zm182 0h7v7h-7zm14 7h7v7h-7zm119 7h7v7h-7zm42 21h7v7h-7zm-371 7h7v7h-7zm112 0h7v7h-7zm-259 35h7v7h-7zm252 14h7v7h-7zm140 7h7v7h-7zm-273 14h7v7h-7zm98 7h7v7h-7zm266 0h7v7h-7zm-259 7h7v7h-7zm42 0h7v7h-7zm-203 7h7v7h-7zm21 0h7v7h-7zm217 14h7v7h-7zm-56 7h7v7h-7zm63 0h7v7h-7zm-182 14h7v7h-7zm210 0h7v7h-7zm-210 7h7v7h-7zm210 0h7v7h-7zm196 0h7v7h-7zm-224 7h7v7h-7zm224 0h7v7h-7zm-231 14h7v7h-7zm-294 21h7v7h-7zm-7 7h7v7h-7zm77 0h14v7h-14zm-35 14h7v7h-7zm413 14h7v7h-7zm-217 7h7v7h-7zm168 14h7v7h-7zm105 7h7v7h-7zm-315 7h7v7h-7zm-28 7h7v7h-7zm21 0h7v7h-7zm-21 7h7v7h-7zm28 0h7v7h-7zm21 7h7v7h-7zm189 0h7v7h-7zm-252 7h7v7h-7zm-7 7h7v7h-7zm-7 7h7v7h-7zm-7 7h7v7h-7zm-84 21h7v7h-7zm14 7h7v7h-7zm441 0h7v7h-7zm-189 7h7v7h-7zm14 0h7v7h-7zm189 7h7v7h-7zm-133 7h7v7h-7zm-7 14h7v7h-7zm154 0h7v7h-7zm-154 21h7v7h-7zm-252 7h7v7h-7zm147 0h7v7h-7zm-259 14h7v7h-7zm497 14h7v7h-7zm-224 21h7v7h-7z"/>
<path fill="#4c4c4c" d="M893 10h7v7h-7zm77 0h7v7h-7zm252 0h7v7h-7zm91 7h7v7h-7zm-385 7h7v7h-7zm175 7h7v7h-7zm112 35h7v7h-7zm-399 7h7v7h-7zm252 0h7v7h-7zm266 35h7v7h-7zm-504 7h7v7h-7zm119 0h7v7h-7zm-112 7h7v7h-7zm105 0h7v7h-7zm-98 7h7v7h-7zm154 0h7v7h-7zm21 0h7v7h-7zm56 0h7v7h-7zm189 0h7v7h-7zm14 0h7v7h-7zm-364 14h7v7h-7zm266 0h7v7h-7zm-7 7h7v7h-7zm-7 7h7v7h-7zm-14 21h7v7h-7zm0 21h7v7h-7zm-84 7h7v7h-7zm-231 7h7v7h-7zm119 7h7v7h-7zm385 0h7v7h-7zm-371 14h7v7h-7zm49 14h7v7h-7zm-91 7h7v7h-7zm308 0h7v7h-7zm-406 28h7v7h-7zm147 21h7v7h-7zm-154 28h7v7h-7zm252 21h7v7h-7zm-70 7h7v7h-7zm21 0h7v7h-7zm259 0h7v7h-7zm-112 14h7v7h-7zm56 0h7v7h-7zm-322 7h7v7h-7zm231 7h7v7h-7zm189 0h7v7h-7zm-497 14h7v7h-7zm371 49h7v7h-7zm-294 28h7v7h-7zm14 7h7v7h-7zm-70 7h7v7h-7zm448 0h7v7h-7zm-203 7h7v7h-7zm98 0h7v7h-7zm70 0h7v7h-7zm14 0h7v7h-7z"/>
<path fill="#505050" d="M1131 17h7v7h-7zm-98 14h7v7h-7zm224 0h7v7h-7zm-161 7h7v7h-7zm245 7h7v7h-7zm-259 7h7v7h-7zm245 14h7v7h-7zm-511 21h7v7h-7zm147 7h7v7h-7zm364 0h7v7h-7zm-259 7h7v7h-7zm273 14h7v7h-7zm-140 7h7v7h-7zm-7 7h7v7h-7zm77 0h7v7h-7zm-287 7h7v7h-7zm203 0h7v7h-7zm-322 7h7v7h-7zm21 7h14v7h-14zm168 14h7v7h-7zm105 0h7v7h-7zm-329 7h7v7h-7zm119 0h7v7h-7zm392 7h7v7h-7zm-273 7h7v7h-7zm63 0h7v7h-7zm70 0h7v7h-7zm-49 21h7v7h-7zm7 14h7v7h-7zm-196 7h7v7h-7zm70 14h7v7h-7zm49 0h7v7h-7zm-210 7h7v7h-7zm126 0h7v7h-7zm308 7h7v7h-7zm-455 7h7v7h-7zm119 35h7v7h-7zm63 0h7v7h-7zm-14 7h7v7h-7zm-7 7h7v7h-7zm7 7h7v7h-7zm49 28h7v7h-7zm-56 14h14v7h-14zm287 7h7v7h-7zm-378 7h7v7h-7zm287 21h7v7h-7zm-259 7h7v7h-7zm133 0h7v7h-7zm-245 14h7v7h-7zm357 7h7v7h-7zm154 0h7v7h-7zm-154 7h7v7h-7zm154 7h7v7h-7zm-511 7h7v7h-7zm-14 21h7v7h-7zm308 14h7v7h-7zm28 0h7v7h-7zm-175 7h7v7h-7zm63 0h7v7h-7zm189 0h7v7h-7zm-203 7h7v7h-7zm238 7h7v7h-7z"/>
<path fill="#545454" d="M1320 10h7v7h-7zm-406 7h7v7h-7zm238 0h7v7h-7zm-294 7h7v7h-7zm189 0h7v7h-7zm196 0h7v7h-7zm-308 7h7v7h-7zm70 0h7v7h-7zm280 0h7v7h-7zm63 7h7v7h-7zm-259 7h7v7h-7zm-133 7h7v7h-7zm-133 7h7v7h-7zm-7 21h7v7h-7zm399 21h7v7h-7zm133 21h7v7h-7zm-343 7h14v7h-14zm231 14h7v7h-7zm-126 14h7v7h-7zm42 14h7v7h-7zm56 0h7v7h-7zm-77 7h7v7h-7zm-294 7h7v7h-7zm294 7h7v7h-7zm-63 7h7v7h-7zm-119 7h7v7h-7zm175 0h7v7h-7zm77 7h7v7h-7zm7 14h7v7h-7zm-294 21h7v7h-7zm91 0h14v7h-14zm245 14h7v7h-7zm42 0h7v7h-7zm-448 7h7v7h-7zm-7 7h7v7h-7zm126 14h7v7h-7zm-140 7h7v7h-7zm154 21h7v7h-7zm350 7h7v7h-7zm7 14h7v7h-7zm-77 21h7v7h-7zm-280 14h7v7h-7zm77 0h7v7h-7zm-168 7h7v7h-7zm14 0h7v7h-7zm322 0h7v7h-7zm-406 7h7v7h-7zm399 0h7v7h-7zm-392 7h7v7h-7zm119 21h7v7h-7zm147 0h7v7h-7zm259 14h7v7h-7zm-259 7h7v7h-7zm-273 35h7v7h-7zm63 7h7v7h-7zm294 7h7v7h-7zm-175 7h7v7h-7zm-154 7h7v7h-7z"/>
<path fill="#585858" d="M872 17h7v7h-7zm266 0h14v7h-14zm-147 7h7v7h-7zm126 0h7v7h-7zm63 7h7v7h-7zm-231 14h7v7h-7zm259 14h7v7h-7zm-245 7h7v7h-7zm105 14h7v7h-7zm0 14h7v7h-7zm182 42h7v7h-7zm56 7h7v7h-7zm-210 7h7v7h-7zm28 14h7v7h-7zm7 7h7v7h-7zm14 14h7v7h-7zm-77 7h7v7h-7zm77 0h7v7h-7zm-308 14h7v7h-7zm224 7h7v7h-7zm273 14h7v7h-7zm-294 7h7v7h-7zm-56 7h7v7h-7zm245 7h7v7h-7zm84 0h7v7h-7zm-245 7h7v7h-7zm-133 7h7v7h-7zm280 21h7v7h-7zm112 21h7v7h-7zm-350 7h7v7h-7zm42 0h7v7h-7zm7 7h7v7h-7zm14 7h7v7h-7zm175 7h7v7h-7zm-385 7h7v7h-7zm231 0h7v7h-7zm217 21h7v7h-7zm-420 7h7v7h-7zm385 0h7v7h-7zm-140 7h7v7h-7zm-210 7h7v7h-7zm266 0h7v7h-7zm-217 56h7v7h-7zm7 14h7v7h-7zm133 0h7v7h-7zm259 0h7v7h-7zm-133 7h7v7h-7zm-308 21h7v7h-7zm329 0h7v7h-7zm-112 7h7v7h-7zm-189 7h7v7h-7zm322 0h7v7h-7z"/>
<path fill="#5c5c5c" d="M1299 24h7v7h-7zm-287 7h7v7h-7zm14 0h7v7h-7zm238 0h7v7h-7zm14 0h7v7h-7zm-336 7h7v7h-7zm273 35h7v7h-7zm112 0h7v7h-7zm-259 14h7v7h-7zm259 0h7v7h-7zm-504 14h7v7h-7zm252 21h7v7h-7zm217 14h7v7h-7zm-315 7h7v7h-7zm252 7h7v7h-7zm-413 7h7v7h-7zm231 0h7v7h-7zm-224 7h7v7h-7zm133 0h7v7h-7zm378 7h7v7h-7zm-196 7h14v7h-14zm0 7h7v7h-7zm63 7h7v7h-7zm-70 7h7v7h-7zm210 14h7v7h-7zm-511 7h7v7h-7zm224 0h7v7h-7zm-7 7h7v7h-7zm49 7h7v7h-7zm231 0h7v7h-7zm-7 7h7v7h-7zm-378 28h7v7h-7zm7 7h7v7h-7zm7 7h7v7h-7zm378 7h7v7h-7zm-112 7h7v7h-7zm-196 7h7v7h-7zm196 14h7v7h-7zm-399 7h7v7h-7zm518 21h7v7h-7zm-77 14h14v7h-14zm-84 7h7v7h-7zm-210 14h7v7h-7zm91 0h7v7h-7zm-105 14h7v7h-7zm119 0h7v7h-7zm266 14h7v7h-7zm-504 14h7v7h-7zm105 0h7v7h-7zm147 0h7v7h-7zm0 7h7v7h-7zm-252 7h7v7h-7zm378 28h7v7h-7zm7 7h7v7h-7zm-336 7h14v7h-14zm168 0h7v7h-7zm84 0h7v7h-7zm14 0h7v7h-7zm-287 7h7v7h-7zm441 0h7v7h-7z"/>
<path fill="#606060" d="M1166 24h7v7h-7zm-315 7h7v7h-7zm168 0h7v7h-7zm252 0h7v7h-7zm-84 7h7v7h-7zm-357 14h7v7h-7zm371 0h7v7h-7zm126 28h7v7h-7zm-406 56h7v7h-7zm105 0h7v7h-7zm287 14h7v7h-7zm-98 14h7v7h-7zm-266 14h7v7h-7zm392 7h7v7h-7zm-504 7h7v7h-7zm301 0h7v7h-7zm-301 7h7v7h-7zm112 0h7v7h-7zm196 0h7v7h-7zm56 7h7v7h-7zm-245 7h7v7h-7zm196 0h7v7h-7zm-35 7h7v7h-7zm98 14h7v7h-7zm7 7h7v7h-7zm-147 7h7v7h-7zm-14 21h7v7h-7zm-14 21h7v7h-7zm280 21h7v7h-7zm0 7h7v7h-7zm-357 7h7v7h-7zm378 28h7v7h-7zm-497 7h7v7h-7zm77 7h7v7h-7zm63 0h7v7h-7zm49 0h7v7h-7zm-168 7h7v7h-7zm434 0h7v7h-7zm-189 7h7v7h-7zm-154 7h7v7h-7zm105 0h7v7h-7zm133 21h7v7h-7zm-364 21h7v7h-7zm105 0h7v7h-7zm259 14h7v7h-7zm-224 35h7v7h-7zm168 0h7v7h-7zm-140 14h7v7h-7zm21 0h7v7h-7zm266 0h7v7h-7zm-357 7h7v7h-7z"/>
<path fill="#646464" d="M1054 17h7v7h-7zm182 0h7v7h-7zm-42 28h7v7h-7zm140 14h7v7h-7zm-259 7h7v7h-7zm-112 21h7v7h-7zm252 7h7v7h-7zm-259 7h7v7h-7zm378 0h7v7h-7zm-476 35h7v7h-7zm133 0h7v7h-7zm-84 7h7v7h-7zm63 7h7v7h-7zm-7 7h7v7h-7zm154 0h7v7h-7zm105 0h7v7h-7zm-70 7h7v7h-7zm175 0h7v7h-7zm-189 7h14v7h-14zm-77 7h7v7h-7zm140 21h7v7h-7zm-224 35h7v7h-7zm49 7h7v7h-7zm-147 7h7v7h-7zm-14 7h7v7h-7zm343 21h7v7h-7zm-168 21h7v7h-7zm-217 7h7v7h-7zm147 0h7v7h-7zm56 7h7v7h-7zm28 21h7v7h-7zm-217 14h7v7h-7zm7 7h7v7h-7zm-14 98h7v7h-7zm126 7h7v7h-7zm119 0h7v7h-7zm259 0h7v7h-7zm-273 14h7v7h-7zm-147 14h7v7h-7zm266 7h7v7h-7z"/>
<path fill="#686868" d="M907 17h7v7h-7zm77 0h7v7h-7zm-63 7h7v7h-7zm-77 14h7v7h-7zm-7 7h7v7h-7zm-14 21h7v7h-7zm140 7h7v7h-7zm252 7h7v7h-7zm0 7h7v7h-7zm-7 21h7v7h-7zm-126 28h7v7h-7zm-210 7h7v7h-7zm161 0h7v7h-7zm7 7h7v7h-7zm119 7h7v7h-7zm161 0h7v7h-7zm-189 7h7v7h-7zm-182 21h7v7h-7zm0 7h7v7h-7zm189 7h7v7h-7zm7 7h7v7h-7zm-21 7h7v7h-7zm-161 7h7v7h-7zm7 7h7v7h-7zm140 0h7v7h-7zm-119 14h7v7h-7zm182 0h7v7h-7zm-266 7h7v7h-7zm350 14h7v7h-7zm28 0h7v7h-7zm56 21h7v7h-7zm-119 21h7v7h-7zm0 7h7v7h-7zm-399 7h7v7h-7zm210 0h7v7h-7zm-70 14h7v7h-7zm245 7h7v7h-7zm-21 21h7v7h-7zm105 7h7v7h-7zm-378 7h7v7h-7zm-84 35h7v7h-7zm238 56h7v7h-7zm-98 7h7v7h-7zm343 7h7v7h-7zm-301 14h14v7h-14zm98 0h7v7h-7z"/>
<path fill="#6c6c6c" d="M1229 10h7v7h-7zm-350 7h7v7h-7zm371 7h7v7h-7zm-140 7h7v7h-7zm-147 49h7v7h-7zm-133 28h7v7h-7zm245 7h7v7h-7zm182 21h7v7h-7zm-168 7h7v7h-7zm77 7h7v7h-7zm-336 28h7v7h-7zm511 14h7v7h-7zm-210 14h7v7h-7zm210 0h7v7h-7zm-518 21h7v7h-7zm343 7h7v7h-7zm14 14h7v7h-7zm-259 7h7v7h-7zm322 0h7v7h-7zm56 0h7v7h-7zm49 21h7v7h-7zm-294 7h7v7h-7zm-224 7h7v7h-7zm203 14h7v7h-7zm-210 7h7v7h-7zm511 21h7v7h-7zm-399 28h7v7h-7zm161 7h7v7h-7zm140 7h7v7h-7zm98 28h7v7h-7zm-252 7h7v7h-7zm259 35h7v7h-7zm-378 21h7v7h-7zm364 0h7v7h-7zm-336 21h7v7h-7zm49 0h7v7h-7zm126 0h7v7h-7zm91 7h7v7h-7z"/>
<path fill="#707070" d="M1061 10h7v7h-7zm245 7h7v7h-7zm-308 7h7v7h-7zm42 0h7v7h-7zm84 0h7v7h-7zm-168 35h7v7h-7zm-133 35h7v7h-7zm28 35h7v7h-7zm77 0h7v7h-7zm91 7h7v7h-7zm266 0h7v7h-7zm-182 14h7v7h-7zm105 28h7v7h-7zm133 21h7v7h-7zm-280 7h7v7h-7zm-245 28h7v7h-7zm203 7h7v7h-7zm168 14h7v7h-7zm7 7h7v7h-7zm7 7h7v7h-7zm-231 42h7v7h-7zm0 7h7v7h-7zm-14 21h7v7h-7zm245 7h7v7h-7zm-7 7h7v7h-7zm56 14h7v7h-7zm-98 14h7v7h-7zm161 0h7v7h-7zm-105 21h7v7h-7zm-259 7h7v7h-7zm252 7h7v7h-7zm140 0h7v7h-7zm-259 28h7v7h-7zm238 28h7v7h-7zm-196 14h7v7h-7zm119 0h7v7h-7zm-385 7h7v7h-7zm427 0h7v7h-7z"/>
<path fill="#747474" d="M977 10h7v7h-7zm-77 7h7v7h-7zm-35 7h7v7h-7zm294 0h7v7h-7zm133 0h7v7h-7zm49 28h7v7h-7zm-259 7h7v7h-7zm126 7h7v7h-7zm-259 42h7v7h-7zm392 0h7v7h-7zm-343 28h7v7h-7zm175 7h7v7h-7zm70 0h7v7h-7zm56 0h7v7h-7zm-161 21h14v7h-14zm-182 7h7v7h-7zm98 0h7v7h-7zm84 35h7v7h-7zm70 14h7v7h-7zm126 0h7v7h-7zm-175 7h7v7h-7zm-126 7h7v7h-7zm-35 7h7v7h-7zm-112 7h7v7h-7zm14 0h7v7h-7zm-42 14h7v7h-7zm406 0h7v7h-7zm14 0h7v7h-7zm-315 35h7v7h-7zm371 0h7v7h-7zm-287 28h7v7h-7zm-217 7h7v7h-7zm112 21h7v7h-7zm224 21h7v7h-7zm154 14h7v7h-7zm7 7h7v7h-7zm-126 42h7v7h-7zm-252 7h7v7h-7zm-77 42h7v7h-7zm231 14h7v7h-7zm84 0h7v7h-7z"/>
<path fill="#787878" d="M886 17h14v7h-14zm287 14h7v7h-7zm-70 7h7v7h-7zm-28 70h7v7h-7zm-238 7h7v7h-7zm364 0h7v7h-7zm-357 7h7v7h-7zm168 14h7v7h-7zm-112 7h7v7h-7zm84 0h7v7h-7zm140 14h7v7h-7zm-63 28h7v7h-7zm-105 21h7v7h-7zm-126 7h7v7h-7zm322 7h7v7h-7zm-147 21h14v7h-14zm-112 7h7v7h-7zm378 14h7v7h-7zm-238 49h7v7h-7zm-84 35h7v7h-7zm-84 21h7v7h-7zm133 0h7v7h-7zm35 0h7v7h-7zm-154 7h7v7h-7zm245 7h7v7h-7zm105 0h7v7h-7zm-406 21h7v7h-7zm385 49h7v7h-7zm-385 7h7v7h-7z"/>
<path fill="#7c7c7c" d="M928 31h7v7h-7zm406 35h7v7h-7zm-511 7h7v7h-7zm252 0h7v7h-7zm259 21h7v7h-7zm-392 21h7v7h-7zm-7 7h7v7h-7zm70 14h7v7h-7zm175 0h7v7h-7zm84 0h7v7h-7zm14 0h7v7h-7zm-399 7h7v7h-7zm455 35h7v7h-7zm-189 35h7v7h-7zm-161 21h7v7h-7zm-147 49h7v7h-7zm203 35h7v7h-7zm175 7h7v7h-7zm-126 35h7v7h-7zm-182 14h7v7h-7zm77 0h7v7h-7zm63 0h7v7h-7zm168 21h7v7h-7zm-14 28h7v7h-7zm0 7h7v7h-7zm-294 56h7v7h-7zm392 0h7v7h-7zm-378 7h7v7h-7zm343 0h7v7h-7zm14 0h7v7h-7zm-427 7h7v7h-7z"/>
<path fill="#808080" d="M1313 10h7v7h-7zm-182 14h7v7h-7zm-35 21h7v7h-7zm252 0h7v7h-7zm-259 7h7v7h-7zm-266 35h7v7h-7zm525 28h7v7h-7zm-154 7h7v7h-7zm-7 7h7v7h-7zm84 7h7v7h-7zm-119 21h7v7h-7zm-329 14h7v7h-7zm238 28h7v7h-7zm-7 14h7v7h-7zm77 0h7v7h-7zm-91 14h7v7h-7zm266 21h7v7h-7zm-378 14h7v7h-7zm-77 7h7v7h-7zm364 21h7v7h-7zm70 77h7v7h-7zm-140 14h7v7h-7zm77 7h7v7h-7zm-406 7h7v7h-7zm14 21h7v7h-7zm511 7h7v7h-7zm0 14h7v7h-7zm-511 7h7v7h-7zm-14 21h7v7h-7zm231 14h7v7h-7zm224 14h7v7h-7z"/>
<path fill="#848484" d="M1033 24h7v7h-7zm119 0h7v7h-7zm105 0h7v7h-7zm-308 28h7v7h-7zm-119 7h7v7h-7zm-7 21h7v7h-7zm133 14h7v7h-7zm252 7h7v7h-7zm-126 28h7v7h-7zm-196 14h14v7h-14zm91 7h7v7h-7zm133 0h7v7h-7zm-147 14h7v7h-7zm84 0h7v7h-7zm-217 21h7v7h-7zm231 7h7v7h-7zm-14 28h7v7h-7zm77 0h7v7h-7zm-21 14h7v7h-7zm-14 7h7v7h-7zm147 7h7v7h-7zm-364 7h7v7h-7zm-28 21h7v7h-7zm112 14h7v7h-7zm84 14h7v7h-7zm294 21h7v7h-7zm7 14h7v7h-7zm-84 28h7v7h-7zm-147 7h7v7h-7zm189 0h7v7h-7zm-343 28h7v7h-7zm119 0h7v7h-7zm7 14h7v7h-7zm259 14h7v7h-7zm-105 49h7v7h-7zm-203 7h7v7h-7zm98 0h7v7h-7zm28 0h7v7h-7z"/>
<path fill="#888888" d="M1047 17h7v7h-7zm196 0h7v7h-7zm-329 7h7v7h-7zm91 0h7v7h-7zm280 0h7v7h-7zm-427 7h7v7h-7zm77 7h7v7h-7zm266 21h7v7h-7zm-126 42h7v7h-7zm-210 35h7v7h-7zm49 0h7v7h-7zm112 7h7v7h-7zm210 7h7v7h-7zm70 0h7v7h-7zm-175 7h7v7h-7zm84 14h7v7h-7zm-259 7h7v7h-7zm0 21h7v7h-7zm7 14h7v7h-7zm175 0h7v7h-7zm-161 14h7v7h-7zm350 0h7v7h-7zm-497 70h7v7h-7zm133 28h7v7h-7zm119 28h7v7h-7zm-161 14h7v7h-7zm-35 7h7v7h-7zm245 7h7v7h-7zm-182 35h7v7h-7zm133 21h7v7h-7zm-7 14h7v7h-7zm259 0h7v7h-7zm-119 7h7v7h-7zm-231 21h7v7h-7zm-105 7h7v7h-7zm119 0h7v7h-7z"/>
<path fill="#8c8c8c" d="M1138 24h7v7h-7zm-21 7h7v7h-7zm63 7h7v7h-7zm-238 7h7v7h-7zm133 35h7v7h-7zm-105 77h7v7h-7zm-154 7h7v7h-7zm511 7h7v7h-7zm-119 14h7v7h-7zm-378 21h7v7h-7zm140 14h7v7h-7zm245 7h7v7h-7zm-189 7h7v7h-7zm294 0h7v7h-7zm-7 7h7v7h-7zm-63 14h7v7h-7zm42 0h7v7h-7zm-224 7h7v7h-7zm-7 14h7v7h-7zm280 14h7v7h-7zm-294 7h7v7h-7zm287 7h7v7h-7zm-497 35h7v7h-7zm21 21h7v7h-7zm147 7h7v7h-7zm21 0h7v7h-7zm-126 7h7v7h-7zm238 7h7v7h-7zm-189 56h7v7h-7zm7 14h7v7h-7zm-56 35h7v7h-7zm217 7h7v7h-7zm56 0h7v7h-7z"/>
<path fill="#909090" d="M991 17h7v7h-7zm-119 7h7v7h-7zm273 0h7v7h-7zm-189 42h7v7h-7zm252 7h7v7h-7zm126 0h7v7h-7zm0 14h7v7h-7zm-259 7h7v7h-7zm-245 7h7v7h-7zm161 42h7v7h-7zm105 0h7v7h-7zm-63 7h7v7h-7zm126 0h7v7h-7zm-119 7h7v7h-7zm98 0h14v7h-14zm-182 28h7v7h-7zm0 7h7v7h-7zm252 21h7v7h-7zm126 0h7v7h-7zm-217 14h7v7h-7zm-126 7h7v7h-7zm-77 21h7v7h-7zm21 14h7v7h-7zm14 14h7v7h-7zm14 21h7v7h-7zm77 7h7v7h-7zm-210 14h7v7h-7zm518 21h7v7h-7zm-175 21h7v7h-7zm105 0h7v7h-7zm-385 7h7v7h-7zm350 0h7v7h-7zm-266 7h7v7h-7zm77 0h7v7h-7zm154 28h7v7h-7zm126 0h7v7h-7zm-504 14h7v7h-7zm252 0h7v7h-7zm-252 14h7v7h-7zm392 28h7v7h-7zm7 7h7v7h-7zm21 14h7v7h-7zm-322 14h7v7h-7z"/>
<path fill="#949494" d="M1299 17h7v7h-7zm-287 7h7v7h-7zm14 0h7v7h-7zm238 0h7v7h-7zm-77 21h7v7h-7zm-350 7h7v7h-7zm357 0h7v7h-7zm140 28h7v7h-7zm-259 7h7v7h-7zm175 56h7v7h-7zm42 0h7v7h-7zm-175 7h7v7h-7zm112 7h7v7h-7zm84 0h7v7h-7zm-91 7h7v7h-7zm112 21h7v7h-7zm-504 7h7v7h-7zm-7 28h7v7h-7zm399 14h7v7h-7zm7 7h7v7h-7zm-287 35h7v7h-7zm392 35h7v7h-7zm0 7h7v7h-7zm-490 28h7v7h-7zm231 0h7v7h-7zm189 21h14v7h-14zm-301 28h7v7h-7zm105 0h7v7h-7zm-119 28h7v7h-7zm133 7h7v7h-7zm-28 42h7v7h-7zm252 7h7v7h-7zm-420 7h7v7h-7zm252 0h7v7h-7zm14 0h7v7h-7zm-287 7h7v7h-7z"/>
<path fill="#989898" d="M1278 24h7v7h-7zm-112 7h7v7h-7zm-315 7h7v7h-7zm357 56h7v7h-7zm-119 42h7v7h-7zm231 28h7v7h-7zm-266 14h7v7h-7zm-224 21h7v7h-7zm224 91h7v7h-7zm-91 28h7v7h-7zm245 14h7v7h-7zm-140 7h7v7h-7zm-217 14h7v7h-7zm161 14h14v7h-14zm-42 21h7v7h-7zm91 0h7v7h-7zm-231 42h7v7h-7zm119 0h7v7h-7zm259 14h7v7h-7zm-140 14h7v7h-7zm-91 14h7v7h-7zm-84 14h7v7h-7zm133 0h7v7h-7zm119 0h7v7h-7z"/>
<path fill="#9c9c9c" d="M1236 10h7v7h-7zm-217 14h7v7h-7zm252 0h7v7h-7zm-427 21h7v7h-7zm497 14h7v7h-7zm-259 7h7v7h-7zm-126 21h7v7h-7zm385 14h7v7h-7zm-259 21h7v7h-7zm-63 21h7v7h-7zm189 49h7v7h-7zm-63 28h7v7h-7zm63 63h7v7h-7zm140 0h7v7h-7zm-224 14h21v7h-21zm91 0h7v7h-7zm-385 7h7v7h-7zm294 0h28v7h-28zm-161 7h7v7h-7zm161 0h21v7h-21zm91 7h7v7h-7zm-259 14h7v7h-7zm105 0h7v7h-7zm-189 35h7v7h-7zm287 7h7v7h-7zm147 7h7v7h-7zm-483 70h7v7h-7zm140 7h7v7h-7zm364 0h7v7h-7zm-266 7h7v7h-7zm-56 21h7v7h-7zm287 0h7v7h-7z"/>
<path fill="#a0a0a0" d="M1054 10h7v7h-7zm-98 63h7v7h-7zm252 7h7v7h-7zm-350 49h7v7h-7zm140 14h7v7h-7zm168 0h7v7h-7zm-203 28h7v7h-7zm0 35h7v7h-7zm91 0h7v7h-7zm154 0h7v7h-7zm-77 14h7v7h-7zm-133 14h7v7h-7zm21 0h7v7h-7zm-140 21h7v7h-7zm-14 7h7v7h-7zm259 28h21v7h-21zm-7 7h7v7h-7zm28 0h7v7h-7zm-28 7h7v7h-7zm35 0h7v7h-7zm-35 7h7v7h-7zm28 0h7v7h-7zm-315 7h7v7h-7zm217 0h7v7h-7zm77 0h28v7h-28zm-196 42h7v7h-7zm-105 49h7v7h-7zm147 56h7v7h-7zm343 7h7v7h-7zm-399 21h7v7h-7zm196 7h7v7h-7z"/>
<path fill="#a4a4a4" d="M984 10h7v7h-7zm-77 14h7v7h-7zm-77 42h7v7h-7zm378 21h7v7h-7zm-259 14h7v7h-7zm-112 7h7v7h-7zm364 0h7v7h-7zm-280 21h7v7h-7zm287 70h7v7h-7zm126 7h7v7h-7zm-518 21h7v7h-7zm168 0h7v7h-7zm49 0h7v7h-7zm119 0h7v7h-7zm133 28h7v7h-7zm-154 28h7v7h-7zm-294 7h7v7h-7zm280 0h7v7h-7zm28 0h7v7h-7zm7 7h7v7h-7zm-42 7h7v7h-7zm-280 7h7v7h-7zm322 0h7v7h-7zm-35 7h7v7h-7zm35 0h7v7h-7zm-98 7h7v7h-7zm77 0h14v7h-14zm49 35h7v7h-7zm-189 14h7v7h-7zm336 28h7v7h-7zm-7 63h7v7h-7zm-308 21h14v7h-14zm168 14h7v7h-7z"/>
<path fill="#a8a8a8" d="M1250 17h7v7h-7zm-371 7h7v7h-7zm42 7h7v7h-7zm189 7h7v7h-7zm-154 42h7v7h-7zm-84 56h7v7h-7zm35 0h7v7h-7zm105 7h7v7h-7zm-28 7h7v7h-7zm140 0h7v7h-7zm-301 28h7v7h-7zm511 14h7v7h-7zm-329 42h14v7h-14zm154 0h7v7h-7zm-77 14h7v7h-7zm217 0h7v7h-7zm-392 7h7v7h-7zm350 0h7v7h-7zm-133 28h7v7h-7zm14 0h7v7h-7zm14 7h7v7h-7zm-42 7h7v7h-7zm49 7h7v7h-7zm-49 7h7v7h-7zm49 0h7v7h-7zm-35 14h7v7h-7zm21 0h7v7h-7zm196 7h7v7h-7zm-427 35h7v7h-7zm189 0h7v7h-7zm-63 7h7v7h-7zm252 0h7v7h-7zm-56 7h7v7h-7zm-21 21h7v7h-7zm119 42h7v7h-7zm-294 35h7v7h-7z"/>
<path fill="#acacac" d="M1040 17h7v7h-7zm84 14h7v7h-7zm-175 28h7v7h-7zm-119 35h7v7h-7zm252 21h7v7h-7zm-77 28h7v7h-7zm98 0h7v7h-7zm154 0h7v7h-7zm28 0h7v7h-7zm-133 7h7v7h-7zm-105 21h7v7h-7zm7 14h7v7h-7zm280 14h7v7h-7zm-287 14h7v7h-7zm-7 7h7v7h-7zm98 0h7v7h-7zm-21 63h7v7h-7zm28 0h7v7h-7zm-35 7h7v7h-7zm-154 7h7v7h-7zm203 0h7v7h-7zm-112 7h7v7h-7zm168 0h7v7h-7zm0 7h7v7h-7zm-105 7h7v7h-7zm7 7h7v7h-7zm35 0h7v7h-7zm-203 14h7v7h-7zm252 0h7v7h-7zm112 49h7v7h-7zm7 7h7v7h-7zm-364 14h7v7h-7zm119 0h7v7h-7zm133 7h7v7h-7zm126 0h7v7h-7zm-259 28h7v7h-7zm-84 35h7v7h-7zm266 7h7v7h-7zm-133 7h7v7h-7zm-266 7h7v7h-7z"/>
<path fill="#b0b0b0" d="M1306 10h7v7h-7zm-308 7h7v7h-7zm350 35h7v7h-7zm-259 7h7v7h-7zm112 7h7v7h-7zm147 42h7v7h-7zm-504 7h7v7h-7zm7 7h7v7h-7zm322 14h7v7h-7zm-196 21h7v7h-7zm-7 7h7v7h-7zm84 35h7v7h-7zm-84 14h7v7h-7zm7 7h7v7h-7zm350 0h7v7h-7zm-217 14h7v7h-7zm56 7h7v7h-7zm77 7h7v7h-7zm-168 7h7v7h-7zm-154 7h7v7h-7zm238 28h7v7h-7zm182 7h7v7h-7zm-238 7h7v7h-7zm56 14h7v7h-7zm-322 14h7v7h-7zm294 0h14v7h-14zm-196 21h7v7h-7zm182 21h7v7h-7zm133 0h7v7h-7zm-42 63h7v7h-7zm35 42h7v7h-7zm-77 14h7v7h-7z"/>
<path fill="#b4b4b4" d="M865 31h7v7h-7zm329 84h7v7h-7zm-266 7h7v7h-7zm98 28h7v7h-7zm105 0h7v7h-7zm112 0h7v7h-7zm56 0h7v7h-7zm-336 28h7v7h-7zm252 0h7v7h-7zm112 0h7v7h-7zm-364 21h7v7h-7zm-140 14h7v7h-7zm350 35h7v7h-7zm-287 7h7v7h-7zm392 0h7v7h-7zm-420 14h7v7h-7zm266 7h21v7h-21zm77 0h7v7h-7zm-357 7h7v7h-7zm266 0h7v7h-7zm42 0h7v7h-7zm-49 14h7v7h-7zm63 7h7v7h-7zm-119 7h7v7h-7zm56 0h7v7h-7zm21 21h7v7h-7zm21 0h7v7h-7zm-203 14h7v7h-7zm252 0h7v7h-7zm-7 7h7v7h-7zm42 35h7v7h-7zm-7 7h7v7h-7zm-406 7h7v7h-7zm140 42h7v7h-7zm259 7h7v7h-7zm-399 7h7v7h-7zm469 28h7v7h-7zm-413 7h7v7h-7z"/>
<path fill="#b8b8b8" d="M1292 17h7v7h-7zm-406 7h7v7h-7zm14 0h7v7h-7zm259 7h7v7h-7zm14 7h7v7h-7zm-70 7h7v7h-7zm-7 7h7v7h-7zm-266 21h7v7h-7zm252 0h7v7h-7zm-140 35h7v7h-7zm238 21h7v7h-7zm-140 35h7v7h-7zm14 28h7v7h-7zm161 28h7v7h-7zm-91 7h7v7h-7zm-28 14h7v7h-7zm-196 14h7v7h-7zm364 0h7v7h-7zm-147 21h7v7h-7zm-56 7h7v7h-7zm42 7h7v7h-7zm63 7h7v7h-7zm0 14h7v7h-7zm-56 14h7v7h-7zm49 0h7v7h-7zm-294 35h7v7h-7zm14 7h7v7h-7zm329 56h7v7h-7zm0 7h7v7h-7z"/>
<path fill="#bcbcbc" d="M893 24h7v7h-7zm35 14h7v7h-7zm413 28h7v7h-7zm-511 21h7v7h-7zm511 7h7v7h-7zm-259 14h7v7h-7zm-147 7h7v7h-7zm252 7h7v7h-7zm77 21h7v7h-7zm14 0h7v7h-7zm-140 7h14v7h-14zm-105 7h7v7h-7zm-70 35h7v7h-7zm28 35h7v7h-7zm35 0h7v7h-7zm280 14h7v7h-7zm-413 14h7v7h-7zm287 0h7v7h-7zm91 0h7v7h-7zm-420 21h7v7h-7zm294 0h7v7h-7zm-42 42h7v7h-7zm14 14h7v7h-7zm35 0h7v7h-7zm-329 84h7v7h-7zm511 21h7v7h-7zm-511 7h7v7h-7zm476 35h7v7h-7zm-378 21h7v7h-7z"/>
<path fill="#c0c0c0" d="M942 52h7v7h-7zm-105 7h7v7h-7zm-7 21h7v7h-7zm259 49h7v7h-7zm-210 7h7v7h-7zm21 0h7v7h-7zm210 7h7v7h-7zm-119 7h7v7h-7zm-175 21h7v7h-7zm147 14h7v7h-7zm357 42h7v7h-7zm-133 35h7v7h-7zm7 7h7v7h-7zm-84 7h7v7h-7zm-7 7h7v7h-7zm56 0h7v7h-7zm-210 7h7v7h-7zm217 0h7v7h-7zm0 28h7v7h-7zm-210 7h7v7h-7zm392 14h7v7h-7zm-196 35h7v7h-7zm182 49h7v7h-7zm-287 49h7v7h-7zm217 14h7v7h-7zm-357 7h7v7h-7z"/>
<path fill="#c4c4c4" d="M1257 17h7v7h-7zm-126 14h7v7h-7zm-196 14h7v7h-7zm259 14h7v7h-7zm7 42h7v7h-7zm-105 35h7v7h-7zm63 7h7v7h-7zm112 0h7v7h-7zm-448 42h7v7h-7zm490 49h7v7h-7zm-385 35h7v7h-7zm140 0h7v7h-7zm84 7h7v7h-7zm-315 21h7v7h-7zm217 0h7v7h-7zm42 0h7v7h-7zm0 7h7v7h-7zm0 7h7v7h-7zm245 14h7v7h-7zm-210 14h14v7h-14zm-35 21h7v7h-7zm-189 7h7v7h-7zm259 0h7v7h-7zm119 7h7v7h-7zm-301 7h7v7h-7zm63 0h7v7h-7zm287 49h7v7h-7zm-259 7h7v7h-7zm-7 14h7v7h-7zm154 7h7v7h-7zm14 14h7v7h-7zm35 14h14v7h-14z"/>
<path fill="#c8c8c8" d="M1243 10h7v7h-7zm-210 7h7v7h-7zm119 14h7v7h-7zm-294 7h7v7h-7zm322 7h7v7h-7zm-231 49h7v7h-7zm133 7h7v7h-7zm154 56h7v7h-7zm70 0h7v7h-7zm-84 14h7v7h-7zm98 0h7v7h-7zm-350 35h7v7h-7zm175 21h7v7h-7zm91 14h7v7h-7zm-364 21h7v7h-7zm252 7h21v7h-21zm-28 21h7v7h-7zm-140 14h7v7h-7zm217 0h7v7h-7zm168 0h7v7h-7zm-168 7h7v7h-7zm-70 14h7v7h-7zm63 0h7v7h-7zm42 0h7v7h-7zm-98 7h7v7h-7zm49 0h7v7h-7zm-315 7h7v7h-7zm280 0h7v7h-7zm21 0h7v7h-7zm-147 35h7v7h-7zm35 0h7v7h-7zm224 0h7v7h-7zm42 7h7v7h-7zm-336 21h7v7h-7zm105 0h7v7h-7zm-112 14h7v7h-7zm119 0h7v7h-7zm252 35h7v7h-7zm-343 21h7v7h-7zm49 7h7v7h-7zm98 14h7v7h-7zm28 0h7v7h-7z"/>
<path fill="#cccccc" d="M1047 10h7v7h-7zm-42 7h7v7h-7zm-91 14h7v7h-7zm273 21h7v7h-7zm14 21h7v7h-7zm-119 7h7v7h-7zm259 7h7v7h-7zm-476 42h7v7h-7zm21 7h14v7h-14zm133 14h7v7h-7zm294 14h7v7h-7zm-343 7h7v7h-7zm77 7h7v7h-7zm-224 28h7v7h-7zm224 0h7v7h-7zm280 7h7v7h-7zm-343 7h7v7h-7zm14 7h7v7h-7zm224 0h7v7h-7zm70 21h7v7h-7zm-175 21h7v7h-7zm28 0h7v7h-7zm-42 7h7v7h-7zm56 0h7v7h-7zm-217 7h7v7h-7zm154 0h7v7h-7zm70 0h7v7h-7zm42 7h7v7h-7zm140 0h7v7h-7zm-175 7h7v7h-7zm-77 21h7v7h-7zm77 0h7v7h-7zm-336 7h7v7h-7zm280 14h7v7h-7zm35 0h7v7h-7zm-294 14h7v7h-7zm63 7h7v7h-7zm-35 7h7v7h-7zm238 7h7v7h-7zm91 35h7v7h-7zm112 0h7v7h-7zm-371 28h7v7h-7zm7 14h7v7h-7zm266 14h7v7h-7zm-231 14h7v7h-7zm-119 14h7v7h-7zm238 7h7v7h-7z"/>
<path fill="#d0d0d0" d="M991 10h7v7h-7zm294 7h7v7h-7zm-147 14h14v7h-14zm-21 7h7v7h-7zm-273 14h7v7h-7zm105 14h7v7h-7zm392 7h7v7h-7zm-259 21h7v7h-7zm-245 7h7v7h-7zm77 28h7v7h-7zm203 14h7v7h-7zm-119 7h7v7h-7zm-14 7h7v7h-7zm245 7h7v7h-7zm-14 21h7v7h-7zm112 0h7v7h-7zm-350 28h7v7h-7zm-161 7h7v7h-7zm217 0h7v7h-7zm-14 7h7v7h-7zm112 0h7v7h-7zm98 7h7v7h-7zm-119 35h7v7h-7zm42 0h7v7h-7zm-217 7h7v7h-7zm238 14h7v7h-7zm-84 14h7v7h-7zm-133 14h7v7h-7zm98 0h7v7h-7zm42 7h7v7h-7zm7 7h7v7h-7zm63 0h7v7h-7zm-315 14h7v7h-7zm49 21h7v7h-7zm343 14h7v7h-7zm-420 42h7v7h-7zm0 14h7v7h-7zm238 21h7v7h-7zm-7 7h7v7h-7zm-154 28h7v7h-7zm273 7h7v7h-7z"/>
<path fill="#d4d4d4" d="M1264 17h7v7h-7zm-392 14h7v7h-7zm-21 14h7v7h-7zm490 35h7v7h-7zm-259 7h7v7h-7zm168 63h7v7h-7zm42 0h7v7h-7zm-315 14h7v7h-7zm-154 28h7v7h-7zm0 7h7v7h-7zm217 14h7v7h-7zm175 0h7v7h-7zm-210 14h14v7h-14zm245 21h7v7h-7zm-336 14h7v7h-7zm203 0h28v7h-28zm-14 7h7v7h-7zm-7 7h7v7h-7zm70 0h7v7h-7zm7 7h7v7h-7zm-84 7h7v7h-7zm0 7h7v7h-7zm91 0h7v7h-7zm0 7h7v7h-7zm-224 7h7v7h-7zm133 0h7v7h-7zm91 0h7v7h-7zm161 0h7v7h-7zm-252 7h7v7h-7zm252 0h7v7h-7zm-168 7h7v7h-7zm-63 14h7v7h-7zm49 0h7v7h-7zm-35 7h28v7h-28zm-231 21h7v7h-7zm252 7h7v7h-7zm119 0h7v7h-7zm14 0h7v7h-7zm-301 14h7v7h-7zm77 0h7v7h-7zm-84 7h7v7h-7zm91 0h7v7h-7zm14 28h7v7h-7zm-252 7h7v7h-7zm252 0h7v7h-7zm140 14h7v7h-7zm-238 21h7v7h-7zm329 7h7v7h-7zm-56 7h7v7h-7zm-112 14h7v7h-7z"/>
<path fill="#d8d8d8" d="M1299 10h7v7h-7zm-287 7h7v7h-7zm14 0h7v7h-7zm322 42h7v7h-7zm-259 7h7v7h-7zm-203 7h21v7h-21zm259 0h7v7h-7zm-266 7h35v7h-35zm252 0h28v7h-28zm-252 7h28v7h-28zm252 0h28v7h-28zm-245 7h14v7h-14zm245 0h28v7h-28zm70 0h7v7h-7zm147 7h7v7h-7zm-259 21h7v7h-7zm77 14h7v7h-7zm-161 14h14v7h-14zm266 42h7v7h-7zm-7 7h14v7h-14zm-126 28h7v7h-7zm-21 7h7v7h-7zm-7 28h7v7h-7zm35 0h7v7h-7zm-49 7h7v7h-7zm63 0h7v7h-7zm-70 14h7v7h-7zm91 7h7v7h-7zm-343 14h7v7h-7zm49 0h28v7h-28zm0 7h28v7h-28zm0 7h28v7h-28zm294 0h7v7h-7zm-287 7h14v7h-14zm56 7h7v7h-7zm147 0h7v7h-7zm21 14h7v7h-7zm35 0h7v7h-7zm-63 7h7v7h-7zm182 21h7v7h-7zm-455 35h7v7h-7zm189 7h28v7h-28zm266 0h14v7h-14zm-315 7h7v7h-7zm49 0h28v7h-28zm259 0h28v7h-28zm-308 7h7v7h-7zm49 0h28v7h-28zm252 0h35v7h-35zm-245 7h14v7h-14zm252 0h28v7h-28zm-294 21h7v7h-7zm350 0h7v7h-7zm-434 35h14v7h-14zm266 0h7v7h-7zm-287 7h7v7h-7z"/>
<path fill="#dcdcdc" d="M1019 17h7v7h-7zm252 0h14v7h-14zm-105 21h7v7h-7zm-280 28h21v7h-21zm-7 7h7v7h-7zm28 0h7v7h-7zm224 0h14v7h-14zm21 0h7v7h-7zm-280 7h7v7h-7zm252 0h7v7h-7zm35 0h7v7h-7zm42 0h7v7h-7zm-294 7h7v7h-7zm217 0h7v7h-7zm35 0h7v7h-7zm-280 7h7v7h-7zm21 0h7v7h-7zm224 0h7v7h-7zm35 0h7v7h-7zm-28 7h28v7h-28zm-7 42h7v7h-7zm28 0h7v7h-7zm-126 14h7v7h-7zm14 14h7v7h-7zm-70 7h7v7h-7zm77 7h7v7h-7zm224 0h7v7h-7zm-14 7h14v7h-14zm21 0h7v7h-7zm-308 7h7v7h-7zm77 0h7v7h-7zm210 0h7v7h-7zm21 0h14v7h-14zm-21 7h28v7h-28zm-105 28h7v7h-7zm-49 28h7v7h-7zm49 0h7v7h-7zm-63 14h7v7h-7zm-203 21h21v7h-21zm-7 7h7v7h-7zm203 0h7v7h-7zm-203 7h7v7h-7zm35 0h7v7h-7zm-77 7h7v7h-7zm42 0h7v7h-7zm35 0h7v7h-7zm-28 7h7v7h-7zm21 0h7v7h-7zm154 0h7v7h-7zm28 0h7v7h-7zm91 0h7v7h-7zm-7 7h7v7h-7zm-70 7h7v7h-7zm63 0h7v7h-7zm-294 21h7v7h-7zm238 7h7v7h-7zm-105 7h7v7h-7zm21 0h7v7h-7zm105 0h7v7h-7zm175 14h7v7h-7zm14 14h7v7h-7zm-308 7h14v7h-14zm-14 7h7v7h-7zm259 0h14v7h-14zm28 0h7v7h-7zm-287 7h7v7h-7zm35 0h7v7h-7zm224 0h7v7h-7zm-259 7h7v7h-7zm35 0h7v7h-7zm259 0h7v7h-7zm-287 7h7v7h-7zm21 0h7v7h-7zm231 0h7v7h-7zm-245 7h14v7h-14zm252 0h21v7h-21zm-448 7h7v7h-7zm497 14h7v7h-7zm-308 14h7v7h-7zm21 0h7v7h-7zm266 0h7v7h-7zm-147 14h7v7h-7z"/>
<path fill="#e0e0e0" d="M837 66h7v7h-7zm42 0h7v7h-7zm28 0h7v7h-7zm231 0h14v7h-14zm-266 7h7v7h-7zm77 0h7v7h-7zm210 0h7v7h-7zm-245 7h7v7h-7zm-42 7h7v7h-7zm42 0h7v7h-7zm35 0h7v7h-7zm252 0h7v7h-7zm-294 7h7v7h-7zm-21 7h21v7h-21zm273 0h7v7h-7zm-315 7h7v7h-7zm294 0h14v7h-14zm56 0h7v7h-7zm-336 14h7v7h-7zm245 14h7v7h-7zm-70 28h7v7h-7zm231 21h7v7h-7zm14 0h7v7h-7zm-231 7h7v7h-7zm168 0h7v7h-7zm70 0h7v7h-7zm42 0h7v7h-7zm-42 14h7v7h-7zm42 0h7v7h-7zm-63 7h21v7h-21zm-161 28h7v7h-7zm28 14h7v7h-7zm-252 7h7v7h-7zm-14 7h7v7h-7zm301 0h7v7h-7zm7 7h7v7h-7zm-329 14h7v7h-7zm217 0h7v7h-7zm-154 7h7v7h-7zm175 0h7v7h-7zm-168 7h7v7h-7zm140 0h7v7h-7zm133 0h7v7h-7zm-350 7h7v7h-7zm245 0h7v7h-7zm-203 14h7v7h-7zm35 0h7v7h-7zm-21 7h14v7h-14zm175 0h7v7h-7zm7 7h7v7h-7zm7 7h7v7h-7zm28 0h7v7h-7zm49 0h7v7h-7zm-231 7h7v7h-7zm203 0h14v7h-14zm42 7h7v7h-7zm-35 14h7v7h-7zm98 14h7v7h-7zm-14 14h7v7h-7zm-217 7h7v7h-7zm21 0h7v7h-7zm238 0h21v7h-21zm-231 7h7v7h-7zm217 7h7v7h-7zm42 0h7v7h-7zm-42 7h7v7h-7zm-252 7h7v7h-7zm35 0h7v7h-7zm217 0h7v7h-7zm42 0h7v7h-7zm-287 7h7v7h-7zm21 0h7v7h-7zm231 0h7v7h-7zm28 0h7v7h-7zm-14 7h7v7h-7zm-357 49h7v7h-7z"/>
<path fill="#e4e4e4" d="M907 31h7v7h-7zm14 7h7v7h-7zm189 7h7v7h-7zm-224 14h14v7h-14zm245 7h7v7h-7zm21 0h7v7h-7zm-238 7h7v7h-7zm210 0h7v7h-7zm-175 7h7v7h-7zm217 0h7v7h-7zm-49 7h7v7h-7zm49 0h7v7h-7zm-294 7h7v7h-7zm294 0h7v7h-7zm-287 7h7v7h-7zm63 0h7v7h-7zm182 0h7v7h-7zm7 7h7v7h-7zm21 0h7v7h-7zm-301 7h7v7h-7zm140 42h7v7h-7zm-175 21h7v7h-7zm154 7h7v7h-7zm287 0h7v7h-7zm28 0h7v7h-7zm-315 7h7v7h-7zm280 0h7v7h-7zm0 7h7v7h-7zm42 0h7v7h-7zm35 0h7v7h-7zm-112 7h7v7h-7zm35 0h7v7h-7zm7 7h7v7h-7zm28 0h7v7h-7zm-294 7h7v7h-7zm35 0h7v7h-7zm294 0h7v7h-7zm-21 21h7v7h-7zm-210 7h7v7h-7zm196 0h7v7h-7zm-161 7h7v7h-7zm14 0h7v7h-7zm42 28h7v7h-7zm-287 7h14v7h-14zm189 0h7v7h-7zm-203 7h7v7h-7zm35 0h7v7h-7zm35 0h7v7h-7zm238 0h7v7h-7zm-315 7h7v7h-7zm0 7h7v7h-7zm49 0h7v7h-7zm133 0h7v7h-7zm133 0h7v7h-7zm-315 7h7v7h-7zm210 0h7v7h-7zm126 0h7v7h-7zm-322 14h7v7h-7zm21 0h7v7h-7zm294 0h7v7h-7zm147 0h7v7h-7zm-406 7h7v7h-7zm182 14h7v7h-7zm21 0h7v7h-7zm-133 21h14v7h-14zm301 21h7v7h-7zm-315 14h7v7h-7zm35 0h7v7h-7zm252 0h7v7h-7zm-70 7h7v7h-7zm35 0h7v7h-7zm42 0h7v7h-7zm-301 7h7v7h-7zm49 0h7v7h-7zm-49 7h7v7h-7zm49 0h7v7h-7zm28 14h7v7h-7zm224 0h7v7h-7zm35 0h7v7h-7zm-63 7h7v7h-7zm14 0h7v7h-7zm-238 21h7v7h-7zm-28 7h14v7h-14z"/>
<path fill="#e8e8e8" d="M1040 10h7v7h-7zm210 0h7v7h-7zm-371 21h7v7h-7zm224 21h7v7h-7zm-203 7h7v7h-7zm42 0h7v7h-7zm154 0h7v7h-7zm-224 7h7v7h-7zm322 0h7v7h-7zm-329 14h7v7h-7zm252 0h7v7h-7zm-280 14h7v7h-7zm77 0h7v7h-7zm203 0h7v7h-7zm-210 7h7v7h-7zm182 14h7v7h-7zm-168 7h7v7h-7zm-49 7h7v7h-7zm224 0h7v7h-7zm77 0h7v7h-7zm-42 14h21v7h-21zm154 7h7v7h-7zm-21 28h21v7h-21zm56 0h7v7h-7zm-28 14h7v7h-7zm-77 7h7v7h-7zm-238 7h7v7h-7zm315 0h7v7h-7zm-28 14h14v7h-14zm-105 21h7v7h-7zm98 7h7v7h-7zm-140 7h7v7h-7zm28 0h7v7h-7zm-238 7h7v7h-7zm189 0h7v7h-7zm63 0h7v7h-7zm-70 7h7v7h-7zm-231 7h7v7h-7zm210 0h7v7h-7zm-217 7h7v7h-7zm350 0h7v7h-7zm-315 7h7v7h-7zm21 0h7v7h-7zm301 7h7v7h-7zm140 0h7v7h-7zm-427 7h7v7h-7zm0 14h7v7h-7zm266 0h7v7h-7zm-343 14h7v7h-7zm35 0h7v7h-7zm56 14h7v7h-7zm56 35h7v7h-7zm301 0h7v7h-7zm-63 14h7v7h-7zm-217 7h14v7h-14zm-49 7h7v7h-7zm105 0h7v7h-7zm189 0h7v7h-7zm-266 7h7v7h-7zm49 0h7v7h-7zm287 0h7v7h-7zm-28 7h7v7h-7zm0 7h7v7h-7zm-308 7h7v7h-7zm224 0h7v7h-7zm-217 7h7v7h-7zm35 0h7v7h-7zm217 0h7v7h-7zm-238 7h14v7h-14zm273 0h7v7h-7zm-294 21h7v7h-7zm133 28h7v7h-7z"/>
<path fill="#ececec" d="M998 10h7v7h-7zm-133 28h7v7h-7zm259 0h7v7h-7zm49 7h7v7h-7zm-294 14h7v7h-7zm28 0h7v7h-7zm7 7h7v7h-7zm245 0h7v7h-7zm-294 7h7v7h-7zm301 0h7v7h-7zm-245 7h7v7h-7zm-56 7h7v7h-7zm252 14h7v7h-7zm49 0h7v7h-7zm-42 7h7v7h-7zm35 0h7v7h-7zm28 7h7v7h-7zm-7 7h7v7h-7zm-273 7h7v7h-7zm350 21h7v7h-7zm-14 7h7v7h-7zm56 0h7v7h-7zm-315 7h7v7h-7zm-7 7h7v7h-7zm245 7h7v7h-7zm28 7h7v7h-7zm-210 21h7v7h-7zm-224 7h7v7h-7zm168 0h7v7h-7zm49 0h7v7h-7zm217 0h7v7h-7zm28 7h7v7h-7zm-35 21h7v7h-7zm-133 14h7v7h-7zm-35 7h7v7h-7zm-154 7h7v7h-7zm161 14h7v7h-7zm-210 14h7v7h-7zm0 28h7v7h-7zm42 7h7v7h-7zm175 0h7v7h-7zm91 0h7v7h-7zm-84 7h7v7h-7zm77 0h7v7h-7zm7 14h7v7h-7zm-266 7h7v7h-7zm245 7h7v7h-7zm-119 14h7v7h-7zm210 0h7v7h-7zm-245 21h7v7h-7zm21 0h7v7h-7zm245 0h7v7h-7zm-28 21h7v7h-7zm0 7h7v7h-7zm-203 7h7v7h-7zm259 0h7v7h-7zm-336 7h7v7h-7zm42 7h7v7h-7zm217 0h7v7h-7zm35 0h7v7h-7zm-14 21h7v7h-7zm14 7h7v7h-7zm-91 21h7v7h-7z"/>
<path fill="#f0f0f0" d="M1292 10h7v7h-7zm-392 21h7v7h-7zm259 7h7v7h-7zm-231 7h7v7h-7zm7 7h7v7h-7zm-91 7h7v7h-7zm294 0h14v7h-14zm-14 7h7v7h-7zm224 0h7v7h-7zm-511 7h7v7h-7zm84 0h7v7h-7zm168 0h7v7h-7zm28 0h7v7h-7zm-196 14h7v7h-7zm252 0h7v7h-7zm-308 7h7v7h-7zm483 0h7v7h-7zm-476 7h7v7h-7zm14 7h21v7h-21zm49 0h7v7h-7zm-7 7h7v7h-7zm210 0h14v7h-14zm-28 21h7v7h-7zm-112 21h7v7h-7zm21 0h7v7h-7zm21 21h7v7h-7zm217 0h7v7h-7zm28 0h7v7h-7zm7 7h7v7h-7zm-49 14h7v7h-7zm49 14h7v7h-7zm-294 7h7v7h-7zm21 0h7v7h-7zm203 0h7v7h-7zm35 0h7v7h-7zm28 0h7v7h-7zm28 7h7v7h-7zm-189 7h7v7h-7zm182 0h7v7h-7zm-140 14h7v7h-7zm98 0h7v7h-7zm14 0h7v7h-7zm-392 14h7v7h-7zm-7 28h7v7h-7zm308 0h7v7h-7zm21 14h7v7h-7zm-343 7h7v7h-7zm343 0h7v7h-7zm-287 14h7v7h-7zm28 0h7v7h-7zm-56 14h14v7h-14zm301 0h7v7h-7zm-91 7h7v7h-7zm63 0h7v7h-7zm21 0h7v7h-7zm-322 7h7v7h-7zm252 0h7v7h-7zm35 0h7v7h-7zm-273 7h7v7h-7zm385 42h7v7h-7zm14 0h7v7h-7zm-287 7h7v7h-7zm259 0h7v7h-7zm42 0h7v7h-7zm-476 7h7v7h-7zm483 0h7v7h-7zm-84 7h7v7h-7zm0 7h7v7h-7zm28 7h7v7h-7zm84 0h7v7h-7zm-511 7h7v7h-7zm210 7h7v7h-7zm259 28h7v7h-7zm-413 21h7v7h-7z"/>
<path fill="#f4f4f4" d="M886 31h14v7h-14zm-28 14h7v7h-7zm35 7h7v7h-7zm287 0h7v7h-7zm-308 7h7v7h-7zm280 0h7v7h-7zm35 0h7v7h-7zm-350 21h7v7h-7zm336 0h7v7h-7zm-336 7h7v7h-7zm273 0h7v7h-7zm63 7h7v7h-7zm-259 7h7v7h-7zm280 0h7v7h-7zm-315 7h7v7h-7zm210 0h7v7h-7zm42 7h7v7h-7zm21 0h7v7h-7zm7 21h7v7h-7zm105 14h7v7h-7zm14 0h7v7h-7zm-273 7h14v7h-14zm231 7h7v7h-7zm70 0h7v7h-7zm-77 7h7v7h-7zm84 0h7v7h-7zm-336 7h7v7h-7zm-161 7h7v7h-7zm427 7h7v7h-7zm-266 7h7v7h-7zm322 0h7v7h-7zm-56 7h7v7h-7zm-238 14h14v7h-14zm140 14h7v7h-7zm91 0h7v7h-7zm35 14h7v7h-7zm-189 7h7v7h-7zm70 0h7v7h-7zm21 0h7v7h-7zm-280 7h14v7h-14zm35 14h7v7h-7zm154 0h7v7h-7zm112 0h7v7h-7zm-301 7h7v7h-7zm21 7h7v7h-7zm28 0h7v7h-7zm-98 7h7v7h-7zm77 0h7v7h-7zm-56 7h7v7h-7zm84 0h7v7h-7zm-84 14h7v7h-7zm217 7h7v7h-7zm105 0h7v7h-7zm161 0h7v7h-7zm-497 14h7v7h-7zm35 0h7v7h-7zm21 0h7v7h-7zm-49 7h7v7h-7zm245 14h7v7h-7zm-105 42h7v7h-7zm35 0h7v7h-7zm28 0h7v7h-7zm-21 7h7v7h-7zm203 7h7v7h-7zm-259 7h7v7h-7zm63 0h7v7h-7zm280 0h7v7h-7zm-343 7h7v7h-7zm63 0h7v7h-7zm280 0h7v7h-7zm-259 7h7v7h-7zm-77 7h7v7h-7zm49 0h7v7h-7zm259 0h7v7h-7zm-301 7h7v7h-7zm63 0h7v7h-7zm231 0h7v7h-7zm28 0h7v7h-7zm-91 7h7v7h-7zm35 0h21v7h-21zm-217 7h7v7h-7zm189 0h7v7h-7zm63 7h7v7h-7zm-35 7h7v7h-7zm-357 21h7v7h-7z"/>
<path fill="#f8f8f8" d="M1005 10h7v7h-7zm28 0h7v7h-7zm224 0h7v7h-7zm-343 28h7v7h-7zm217 0h7v7h-7zm21 0h7v7h-7zm-301 14h7v7h-7zm35 0h7v7h-7zm14 0h7v7h-7zm14 7h7v7h-7zm217 0h7v7h-7zm-266 7h7v7h-7zm56 0h7v7h-7zm21 0h7v7h-7zm224 0h7v7h-7zm28 7h7v7h-7zm154 0h7v7h-7zm-259 7h7v7h-7zm21 0h7v7h-7zm238 7h7v7h-7zm-427 7h7v7h-7zm21 0h7v7h-7zm168 0h7v7h-7zm-266 7h7v7h-7zm245 0h7v7h-7zm-182 7h7v7h-7zm210 0h7v7h-7zm49 0h7v7h-7zm-301 14h7v7h-7zm14 7h7v7h-7zm21 0h7v7h-7zm217 7h7v7h-7zm154 14h7v7h-7zm-245 14h7v7h-7zm7 7h7v7h-7zm231 0h21v7h-21zm-14 7h7v7h-7zm-210 7h7v7h-7zm280 0h7v7h-7zm-343 7h7v7h-7zm322 0h7v7h-7zm-259 7h7v7h-7zm-224 7h7v7h-7zm483 0h7v7h-7zm-308 7h7v7h-7zm252 0h7v7h-7zm77 0h7v7h-7zm-70 7h7v7h-7zm-21 7h7v7h-7zm35 0h14v7h-14zm-133 7h7v7h-7zm-21 7h7v7h-7zm182 0h7v7h-7zm-189 14h7v7h-7zm-14 7h7v7h-7zm91 0h7v7h-7zm-308 7h7v7h-7zm301 0h7v7h-7zm14 0h7v7h-7zm-7 7h7v7h-7zm-294 7h7v7h-7zm14 0h7v7h-7zm35 0h7v7h-7zm133 0h7v7h-7zm-7 14h7v7h-7zm14 0h7v7h-7zm0 7h7v7h-7zm273 0h7v7h-7zm-420 7h7v7h-7zm147 0h7v7h-7zm-147 7h7v7h-7zm21 0h7v7h-7zm112 0h7v7h-7zm-217 7h7v7h-7zm21 0h7v7h-7zm7 7h7v7h-7zm49 0h7v7h-7zm-42 7h7v7h-7zm42 14h7v7h-7zm-14 7h7v7h-7zm210 7h7v7h-7zm-119 14h7v7h-7zm259 0h7v7h-7zm28 0h7v7h-7zm-301 7h7v7h-7zm63 0h7v7h-7zm196 0h7v7h-7zm56 0h7v7h-7zm-322 7h7v7h-7zm35 0h14v7h-14zm42 0h7v7h-7zm-84 7h7v7h-7zm287 0h7v7h-7zm28 0h7v7h-7zm-63 7h7v7h-7zm98 0h7v7h-7zm-357 7h7v7h-7zm21 0h7v7h-7zm63 0h7v7h-7zm21 0h7v7h-7zm-252 7h7v7h-7zm490 7h7v7h-7zm-343 7h7v7h-7zm21 0h7v7h-7zm259 7h7v7h-7zm-273 7h7v7h-7zm63 0h7v7h-7zm217 0h7v7h-7zm-273 7h7v7h-7zm77 0h7v7h-7zm231 0h7v7h-7zm-301 7h7v7h-7zm322 0h7v7h-7zm-308 7h7v7h-7zm35 0h7v7h-7zm238 7h14v7h-14zm-140 21h7v7h-7zm28 0h7v7h-7z"/>
<path fill="#fcfcfc" d="M1012 10h21v7h-21zm252 0h28v7h-28zm-392 28h7v7h-7zm266 0h14v7h-14zm-21 7h7v7h-7zm49 0h7v7h-7zm-287 7h7v7h-7zm28 0h7v7h-7zm203 0h7v7h-7zm14 7h7v7h-7zm35 0h7v7h-7zm-315 7h7v7h-7zm252 0h7v7h-7zm21 0h7v7h-7zm-259 7h7v7h-7zm252 0h7v7h-7zm63 0h7v7h-7zm-315 7h7v7h-7zm70 0h7v7h-7zm266 0h7v7h-7zm154 0h7v7h-7zm-490 7h7v7h-7zm84 0h7v7h-7zm147 0h7v7h-7zm105 0h7v7h-7zm-105 7h7v7h-7zm105 0h7v7h-7zm-329 7h7v7h-7zm245 0h7v7h-7zm63 0h7v7h-7zm-322 7h7v7h-7zm21 0h7v7h-7zm315 0h7v7h-7zm-329 7h7v7h-7zm266 0h7v7h-7zm35 0h7v7h-7zm-245 7h7v7h-7zm182 0h7v7h-7zm-210 7h14v7h-14zm217 0h7v7h-7zm63 0h7v7h-7zm-42 7h7v7h-7zm28 0h7v7h-7zm98 21h7v7h-7zm42 0h7v7h-7zm-301 7h7v7h-7zm-7 7h7v7h-7zm273 0h7v7h-7zm28 0h7v7h-7zm7 7h7v7h-7zm-315 7h7v7h-7zm245 0h7v7h-7zm21 0h7v7h-7zm56 0h7v7h-7zm-483 7h7v7h-7zm224 0h7v7h-7zm280 0h7v7h-7zm-504 7h7v7h-7zm420 0h7v7h-7zm-252 7h7v7h-7zm49 0h7v7h-7zm287 0h7v7h-7zm-322 7h7v7h-7zm28 0h7v7h-7zm196 0h7v7h-7zm77 0h7v7h-7zm-7 7h7v7h-7zm-35 7h7v7h-7zm21 0h7v7h-7zm-140 7h7v7h-7zm14 7h7v7h-7zm98 0h7v7h-7zm-154 7h7v7h-7zm28 0h21v7h-21zm-28 7h7v7h-7zm63 0h7v7h-7zm7 7h7v7h-7zm-252 7h7v7h-7zm161 0h14v7h-14zm-210 7h7v7h-7zm14 7h7v7h-7zm28 0h7v7h-7zm280 0h7v7h-7zm-336 7h7v7h-7zm21 0h7v7h-7zm49 0h7v7h-7zm154 0h7v7h-7zm126 0h7v7h-7zm-336 7h7v7h-7zm329 0h7v7h-7zm-350 7h7v7h-7zm84 0h7v7h-7zm133 0h7v7h-7zm133 0h7v7h-7zm-350 7h7v7h-7zm105 0h7v7h-7zm112 0h7v7h-7zm133 0h7v7h-7zm154 0h7v7h-7zm-504 7h7v7h-7zm231 0h7v7h-7zm273 0h7v7h-7zm-420 7h7v7h-7zm140 0h7v7h-7zm133 0h7v7h-7zm-259 7h7v7h-7zm-28 7h7v7h-7zm21 0h7v7h-7zm154 0h7v7h-7zm91 0h7v7h-7zm-252 7h7v7h-7zm161 0h7v7h-7zm84 0h7v7h-7zm-301 7h7v7h-7zm224 0h7v7h-7zm14 0h7v7h-7zm49 0h7v7h-7zm-273 7h21v7h-21zm245 0h21v7h-21zm35 0h7v7h-7zm-42 7h7v7h-7zm28 0h7v7h-7zm-119 14h7v7h-7zm231 0h21v7h-21zm-259 14h7v7h-7zm21 0h7v7h-7zm210 0h7v7h-7zm35 0h7v7h-7zm35 0h7v7h-7zm-315 7h7v7h-7zm49 0h7v7h-7zm189 0h7v7h-7zm21 0h7v7h-7zm42 0h7v7h-7zm21 0h7v7h-7zm-329 7h7v7h-7zm259 0h7v7h-7zm56 0h7v7h-7zm-336 14h7v7h-7zm105 0h7v7h-7zm168 0h7v7h-7zm70 0h7v7h-7zm-490 7h7v7h-7zm147 0h7v7h-7zm105 0h7v7h-7zm168 0h7v7h-7zm-420 7h7v7h-7zm231 0h7v7h-7zm189 0h7v7h-7zm70 0h7v7h-7zm-84 7h7v7h-7zm-231 7h7v7h-7zm308 0h7v7h-7zm-294 7h28v7h-28zm252 0h7v7h-7zm56 0h7v7h-7zm-308 14h7v7h-7zm21 0h7v7h-7zm224 0h7v7h-7zm42 0h7v7h-7zm-413 28h28v7h-28zm259 0h21v7h-21z"/>
<path fill="#ffffff" d="M879 38h35v7h-35zm-14 7h63v7h-63zm259 0h42v7h-42zm-266 7h21v7h-21zm56 0h21v7h-21zm203 0h63v7h-63zm-266 7h21v7h-21zm70 0h21v7h-21zm182 0h21v7h-21zm63 0h21v7h-21zm-315 7h14v7h-14zm77 0h14v7h-14zm175 0h14v7h-14zm70 0h21v7h-21zm-329 7h14v7h-14zm84 0h21v7h-21zm168 0h14v7h-14zm84 0h14v7h-14zm-336 7h14v7h-14zm91 0h14v7h-14zm161 0h14v7h-14zm84 0h14v7h-14zm-336 7h14v7h-14zm84 0h14v7h-14zm168 0h14v7h-14zm84 0h14v7h-14zm-336 7h21v7h-21zm84 0h14v7h-14zm168 0h14v7h-14zm84 0h14v7h-14zm-329 7h14v7h-14zm70 0h21v7h-21zm175 0h14v7h-14zm84 0h14v7h-14zm-322 7h14v7h-14zm56 0h21v7h-21zm182 0h21v7h-21zm77 0h14v7h-14zm-308 7h63v7h-63zm231 0h28v7h-28zm70 0h21v7h-21zm-294 7h42v7h-42zm231 0h77v7h-77zm7 7h56v7h-56zm21 7h21v7h-21zm126 21h35v7h-35zm-259 7h28v7h-28zm245 0h63v7h-63zm-252 7h42v7h-42zm245 0h21v7h-21zm56 0h21v7h-21zm-308 7h56v7h-56zm245 0h21v7h-21zm70 0h21v7h-21zm-315 7h56v7h-56zm245 0h14v7h-14zm77 0h14v7h-14zm-322 7h56v7h-56zm238 0h21v7h-21zm84 0h14v7h-14zm-322 7h56v7h-56zm238 0h14v7h-14zm84 0h21v7h-21zm-315 7h42v7h-42zm231 0h21v7h-21zm84 0h14v7h-14zm-301 7h21v7h-21zm224 0h14v7h-14zm77 0h14v7h-14zm-77 7h21v7h-21zm70 0h21v7h-21zm-63 7h21v7h-21zm49 0h28v7h-28zm-42 7h63v7h-63zm-126 7h35v7h-35zm140 0h35v7h-35zm-154 7h21v7h-21zm42 0h21v7h-21zm-56 7h7v7h-7zm77 0h7v7h-7zm-84 7h7v7h-7zm91 0h7v7h-7zm-294 7h35v7h-35zm301 0h7v7h-7zm-308 7h56v7h-56zm203 0h7v7h-7zm112 0h7v7h-7zm-329 7h21v7h-21zm56 0h21v7h-21zm161 0h7v7h-7zm119 0h7v7h-7zm-336 7h14v7h-14zm70 0h14v7h-14zm140 0h7v7h-7zm126 0h7v7h-7zm-343 7h14v7h-14zm77 0h21v7h-21zm140 0h7v7h-7zm133 0h7v7h-7zm-350 7h14v7h-14zm84 0h14v7h-14zm133 0h7v7h-7zm133 0h7v7h-7zm-350 7h14v7h-14zm84 0h14v7h-14zm133 0h7v7h-7zm133 0h7v7h-7zm-350 7h14v7h-14zm84 0h14v7h-14zm133 0h7v7h-7zm126 0h14v7h-14zm-343 7h14v7h-14zm84 0h14v7h-14zm140 0h7v7h-7zm119 0h7v7h-7zm-343 7h21v7h-21zm77 0h14v7h-14zm147 0h14v7h-14zm112 0h14v7h-14zm-329 7h21v7h-21zm63 0h14v7h-14zm161 0h7v7h-7zm105 0h7v7h-7zm-322 7h63v7h-63zm231 0h7v7h-7zm84 0h7v7h-7zm-301 7h42v7h-42zm224 0h7v7h-7zm63 0h14v7h-14zm-56 7h21v7h-21zm42 0h14v7h-14zm-21 7h21v7h-21zm-126 14h28v7h-28zm-14 7h56v7h-56zm259 0h49v7h-49zm-266 7h21v7h-21zm49 0h21v7h-21zm210 0h28v7h-28zm35 0h28v7h-28zm-301 7h14v7h-14zm70 0h14v7h-14zm189 0h14v7h-14zm63 0h14v7h-14zm-329 7h14v7h-14zm77 0h21v7h-21zm182 0h14v7h-14zm77 0h14v7h-14zm-336 7h14v7h-14zm84 0h14v7h-14zm168 0h21v7h-21zm84 0h21v7h-21zm-336 7h14v7h-14zm84 0h14v7h-14zm168 0h14v7h-14zm91 0h14v7h-14zm-343 7h14v7h-14zm84 0h14v7h-14zm168 0h14v7h-14zm91 0h14v7h-14zm-343 7h14v7h-14zm84 0h14v7h-14zm168 0h14v7h-14zm91 0h14v7h-14zm-343 7h21v7h-21zm77 0h21v7h-21zm182 0h14v7h-14zm77 0h21v7h-21zm-329 7h14v7h-14zm63 0h21v7h-21zm189 0h21v7h-21zm77 0h14v7h-14zm-322 7h21v7h-21zm49 0h21v7h-21zm203 0h21v7h-21zm56 0h21v7h-21zm-301 7h56v7h-56zm252 0h63v7h-63zm-231 7h14v7h-14zm245 0h35v7h-35z"/></g></g>
<rect x="830.2" y="24.7" width="510.6" height="467.8" fill="none" stroke="#262626" stroke-width="1.2"/>
<path d="M894.0 24.7v6 M894.0 492.5v-6 M830.2 83.2h6 M1340.8 83.2h-6 M957.9 24.7v6 M957.9 492.5v-6 M830.2 141.7h6 M1340.8 141.7h-6 M1021.7 24.7v6 M1021.7 492.5v-6 M830.2 200.1h6 M1340.8 200.1h-6 M1085.5 24.7v6 M1085.5 492.5v-6 M830.2 258.6h6 M1340.8 258.6h-6 M1149.3 24.7v6 M1149.3 492.5v-6 M830.2 317.1h6 M1340.8 317.1h-6 M1213.2 24.7v6 M1213.2 492.5v-6 M830.2 375.6h6 M1340.8 375.6h-6 M1277.0 24.7v6 M1277.0 492.5v-6 M830.2 434.0h6 M1340.8 434.0h-6" stroke="#262626" stroke-width="1.1" fill="none"/>
<g font-family="Liberation Sans" font-size="18.5" fill="#262626"><text x="830.2" y="515.7" text-anchor="middle">-2</text><text x="823.7" y="31.3" text-anchor="end">-2</text><text x="894.0" y="515.7" text-anchor="middle">-1.5</text><text x="823.7" y="89.8" text-anchor="end">-1.5</text><text x="957.9" y="515.7" text-anchor="middle">-1</text><text x="823.7" y="148.2" text-anchor="end">-1</text><text x="1021.7" y="515.7" text-anchor="middle">-0.5</text><text x="823.7" y="206.7" text-anchor="end">-0.5</text><text x="1085.5" y="515.7" text-anchor="middle">0</text><text x="823.7" y="265.2" text-anchor="end">0</text><text x="1149.3" y="515.7" text-anchor="middle">0.5</text><text x="823.7" y="323.7" text-anchor="end">0.5</text><text x="1213.2" y="515.7" text-anchor="middle">1</text><text x="823.7" y="382.2" text-anchor="end">1</text><text x="1277.0" y="515.7" text-anchor="middle">1.5</text><text x="823.7" y="440.6" text-anchor="end">1.5</text><text x="1340.8" y="515.7" text-anchor="middle">2</text><text x="823.7" y="499.1" text-anchor="end">2</text></g>
<text x="1085.5" y="543.2" font-family="Liberation Sans" font-size="26" fill="#262626" text-anchor="middle">x (units of <tspan font-family="Liberation Serif">&#923;</tspan>)</text>
<text transform="translate(781.0 258.6) rotate(-90)" font-family="Liberation Sans" font-size="26" fill="#262626" text-anchor="middle">y (units of <tspan font-family="Liberation Serif">&#923;</tspan>)</text>
<text x="1085.5" y="17.0" font-family="Liberation Sans" font-size="20" font-weight="bold" fill="#000" text-anchor="middle">(b)</text>
<rect x="1361.2" y="24.7" width="37.2" height="467.8" fill="url(#cbg)" stroke="#262626" stroke-width="1.4"/>
<path d="M1398.4 451.5h-5 M1398.4 410.4h-5 M1398.4 369.4h-5 M1398.4 328.4h-5 M1398.4 287.3h-5 M1398.4 246.3h-5 M1398.4 205.3h-5 M1398.4 164.2h-5 M1398.4 123.2h-5 M1398.4 82.1h-5 M1398.4 41.1h-5" stroke="#262626" stroke-width="1.2"/>
<g font-family="Liberation Sans" font-size="16.8" fill="#262626"><text x="1404.4" y="457.5">0.2</text><text x="1404.4" y="416.4">0.4</text><text x="1404.4" y="375.4">0.6</text><text x="1404.4" y="334.4">0.8</text><text x="1404.4" y="293.3">1</text><text x="1404.4" y="252.3">1.2</text><text x="1404.4" y="211.3">1.4</text><text x="1404.4" y="170.2">1.6</text><text x="1404.4" y="129.2">1.8</text><text x="1404.4" y="88.1">2</text><text x="1404.4" y="47.1">2.2</text></g>
<g clip-path="url(#clc)"><g filter="url(#pm)"><rect x="68.9" y="594.2" width="528.6" height="490.8" fill="#000"/>
<ellipse cx="139.0" cy="658.8" rx="58.3" ry="55.0" fill="url(#rgc0)"/>
<ellipse cx="262.5" cy="784.1" rx="54.8" ry="51.6" fill="url(#rgc1)"/>
<ellipse cx="395.3" cy="662.4" rx="64.4" ry="60.6" fill="url(#rgc2)"/>
<ellipse cx="526.4" cy="781.3" rx="60.6" ry="57.2" fill="url(#rgc3)"/>
<ellipse cx="141.7" cy="899.7" rx="63.3" ry="59.5" fill="url(#rgc4)"/>
<ellipse cx="267.2" cy="1019.9" rx="57.2" ry="53.9" fill="url(#rgc5)"/>
<ellipse cx="394.4" cy="900.1" rx="68.5" ry="60.9" fill="url(#rgc6)"/>
<ellipse cx="526.4" cy="1018.7" rx="59.7" ry="56.1" fill="url(#rgc7)"/></g></g>
<rect x="73.9" y="599.2" width="518.6" height="480.8" fill="none" stroke="#262626" stroke-width="1.2"/>
<path d="M138.7 599.2v6 M138.7 1080.0v-6 M73.9 659.3h6 M592.5 659.3h-6 M203.6 599.2v6 M203.6 1080.0v-6 M73.9 719.4h6 M592.5 719.4h-6 M268.4 599.2v6 M268.4 1080.0v-6 M73.9 779.5h6 M592.5 779.5h-6 M333.2 599.2v6 M333.2 1080.0v-6 M73.9 839.6h6 M592.5 839.6h-6 M398.0 599.2v6 M398.0 1080.0v-6 M73.9 899.7h6 M592.5 899.7h-6 M462.9 599.2v6 M462.9 1080.0v-6 M73.9 959.8h6 M592.5 959.8h-6 M527.7 599.2v6 M527.7 1080.0v-6 M73.9 1019.9h6 M592.5 1019.9h-6" stroke="#262626" stroke-width="1.1" fill="none"/>
<g font-family="Liberation Sans" font-size="18.5" fill="#262626"><text x="73.9" y="1103.2" text-anchor="middle">-2</text><text x="67.4" y="605.8" text-anchor="end">-2</text><text x="138.7" y="1103.2" text-anchor="middle">-1.5</text><text x="67.4" y="665.9" text-anchor="end">-1.5</text><text x="203.6" y="1103.2" text-anchor="middle">-1</text><text x="67.4" y="726.0" text-anchor="end">-1</text><text x="268.4" y="1103.2" text-anchor="middle">-0.5</text><text x="67.4" y="786.1" text-anchor="end">-0.5</text><text x="333.2" y="1103.2" text-anchor="middle">0</text><text x="67.4" y="846.2" text-anchor="end">0</text><text x="398.0" y="1103.2" text-anchor="middle">0.5</text><text x="67.4" y="906.3" text-anchor="end">0.5</text><text x="462.9" y="1103.2" text-anchor="middle">1</text><text x="67.4" y="966.4" text-anchor="end">1</text><text x="527.7" y="1103.2" text-anchor="middle">1.5</text><text x="67.4" y="1026.5" text-anchor="end">1.5</text><text x="592.5" y="1103.2" text-anchor="middle">2</text><text x="67.4" y="1086.6" text-anchor="end">2</text></g>
<text x="333.2" y="1130.7" font-family="Liberation Sans" font-size="26" fill="#262626" text-anchor="middle">x (units of <tspan font-family="Liberation Serif">&#923;</tspan>)</text>
<text transform="translate(24.7 839.6) rotate(-90)" font-family="Liberation Sans" font-size="26" fill="#262626" text-anchor="middle">y (units of <tspan font-family="Liberation Serif">&#923;</tspan>)</text>
<text x="333.2" y="591.5" font-family="Liberation Sans" font-size="20" font-weight="bold" fill="#000" text-anchor="middle">(c)</text>
<rect x="612.5" y="599.2" width="38.3" height="480.8" fill="url(#cbg)" stroke="#262626" stroke-width="1.4"/>
<path d="M650.8 1039.5h-5 M650.8 999.1h-5 M650.8 958.6h-5 M650.8 918.1h-5 M650.8 877.6h-5 M650.8 837.2h-5 M650.8 796.7h-5 M650.8 756.2h-5 M650.8 715.8h-5 M650.8 675.3h-5 M650.8 634.8h-5" stroke="#262626" stroke-width="1.2"/>
<g font-family="Liberation Sans" font-size="16.8" fill="#262626"><text x="656.8" y="1045.5">0.01</text><text x="656.8" y="1005.1">0.02</text><text x="656.8" y="964.6">0.03</text><text x="656.8" y="924.1">0.04</text><text x="656.8" y="883.6">0.05</text><text x="656.8" y="843.2">0.06</text><text x="656.8" y="802.7">0.07</text><text x="656.8" y="762.2">0.08</text><text x="656.8" y="721.8">0.09</text><text x="656.8" y="681.3">0.1</text><text x="656.8" y="640.8">0.11</text></g>
<g clip-path="url(#cld)"><g filter="url(#pmb)" shape-rendering="crispEdges"><rect x="825" y="584" width="539" height="511" fill="#d8d8d8"/>
<path fill="#000000" d="M846 584h7v7h-7zm105 0h7v7h-7zm147 0h7v7h-7zm105 0h7v7h-7zm147 0h7v7h-7zm-511 7h7v7h-7zm119 0h7v7h-7zm133 0h7v7h-7zm119 0h7v7h-7zm133 0h7v7h-7zm-511 7h7v7h-7zm133 0h7v7h-7zm119 0h7v7h-7zm133 0h7v7h-7zm119 0h7v7h-7zm-511 7h7v7h-7zm147 0h7v7h-7zm105 0h7v7h-7zm147 0h7v7h-7zm105 0h7v7h-7zm-350 7h7v7h-7zm91 0h7v7h-7zm161 0h7v7h-7zm91 0h7v7h-7zm-336 7h7v7h-7zm77 0h7v7h-7zm175 0h7v7h-7zm77 0h7v7h-7zm-322 7h7v7h-7zm63 0h7v7h-7zm189 0h7v7h-7zm63 0h7v7h-7zm-308 7h14v7h-14zm42 0h14v7h-14zm210 0h14v7h-14zm42 0h14v7h-14zm-294 7h56v7h-56zm252 0h56v7h-56zm-245 7h42v7h-42zm252 0h42v7h-42zm-252 7h42v7h-42zm252 0h42v7h-42zm-252 7h35v7h-35zm252 0h42v7h-42zm-252 7h42v7h-42zm252 0h42v7h-42zm-259 7h49v7h-49zm252 0h21v7h-21zm35 0h21v7h-21zm-294 7h21v7h-21zm42 0h21v7h-21zm210 0h14v7h-14zm56 0h14v7h-14zm-308 7h7v7h-7zm49 0h14v7h-14zm196 0h14v7h-14zm70 0h14v7h-14zm-322 7h7v7h-7zm70 0h7v7h-7zm175 0h14v7h-14zm84 0h14v7h-14zm-336 7h7v7h-7zm84 0h7v7h-7zm161 0h7v7h-7zm98 0h14v7h-14zm-490 7h7v7h-7zm140 0h7v7h-7zm98 0h7v7h-7zm147 0h7v7h-7zm119 0h7v7h-7zm-497 7h7v7h-7zm126 0h7v7h-7zm112 0h7v7h-7zm266 0h7v7h-7zm-497 7h7v7h-7zm112 0h7v7h-7zm126 0h7v7h-7zm266 0h7v7h-7zm-497 7h7v7h-7zm98 0h7v7h-7zm140 0h7v7h-7zm112 0h7v7h-7zm154 0h7v7h-7zm-497 7h7v7h-7zm77 0h14v7h-14zm154 0h14v7h-14zm105 0h7v7h-7zm-329 7h7v7h-7zm63 0h14v7h-14zm168 0h7v7h-7zm91 0h7v7h-7zm-315 7h7v7h-7zm49 0h14v7h-14zm182 0h7v7h-7zm84 0h7v7h-7zm-315 7h21v7h-21zm35 0h21v7h-21zm196 0h7v7h-7zm77 0h7v7h-7zm-301 7h42v7h-42zm224 0h7v7h-7zm77 0h7v7h-7zm-301 7h42v7h-42zm224 0h14v7h-14zm77 0h7v7h-7zm-301 7h35v7h-35zm224 0h14v7h-14zm77 0h7v7h-7zm-301 7h42v7h-42zm224 0h7v7h-7zm77 0h7v7h-7zm-308 7h49v7h-49zm231 0h7v7h-7zm77 0h7v7h-7zm-308 7h14v7h-14zm42 0h14v7h-14zm189 0h7v7h-7zm84 0h7v7h-7zm-322 7h7v7h-7zm56 0h14v7h-14zm175 0h7v7h-7zm91 0h7v7h-7zm-329 7h7v7h-7zm77 0h7v7h-7zm154 0h7v7h-7zm105 0h7v7h-7zm-343 7h7v7h-7zm91 0h7v7h-7zm140 0h7v7h-7zm273 0h7v7h-7zm-511 7h7v7h-7zm105 0h7v7h-7zm126 0h7v7h-7zm273 0h7v7h-7zm-511 7h7v7h-7zm119 0h7v7h-7zm112 0h7v7h-7zm140 0h7v7h-7zm133 0h7v7h-7zm-511 7h7v7h-7zm133 0h7v7h-7zm98 0h7v7h-7zm154 0h7v7h-7zm-392 7h7v7h-7zm147 0h7v7h-7zm84 0h7v7h-7zm168 0h7v7h-7zm98 0h7v7h-7zm-336 7h7v7h-7zm63 0h7v7h-7zm182 0h7v7h-7zm84 0h7v7h-7zm-322 7h49v7h-49zm245 0h14v7h-14zm70 0h14v7h-14zm-63 7h14v7h-14zm56 0h14v7h-14zm-49 7h21v7h-21zm35 0h21v7h-21zm-28 7h42v7h-42zm0 7h42v7h-42zm0 7h42v7h-42zm0 7h42v7h-42zm-7 7h56v7h-56zm-7 7h14v7h-14zm49 0h14v7h-14zm-294 7h49v7h-49zm238 0h14v7h-14zm70 0h7v7h-7zm-322 7h7v7h-7zm63 0h14v7h-14zm189 0h7v7h-7zm77 0h7v7h-7zm-336 7h7v7h-7zm84 0h7v7h-7zm259 0h7v7h-7zm-252 7h7v7h-7zm259 0h7v7h-7zm-245 7h7v7h-7zm126 0h7v7h-7zm126 0h7v7h-7zm-490 7h7v7h-7zm245 0h7v7h-7zm112 0h7v7h-7zm140 0h7v7h-7zm-490 7h7v7h-7zm91 0h7v7h-7zm154 0h7v7h-7zm98 0h7v7h-7zm161 0h7v7h-7zm-497 7h7v7h-7zm77 0h7v7h-7zm168 0h7v7h-7zm84 0h7v7h-7zm168 0h7v7h-7zm-490 7h7v7h-7zm63 0h7v7h-7zm182 0h7v7h-7zm70 0h7v7h-7zm-315 7h14v7h-14zm56 0h7v7h-7zm196 0h14v7h-14zm56 0h7v7h-7zm-301 7h21v7h-21zm35 0h21v7h-21zm217 0h14v7h-14zm35 0h21v7h-21zm-280 7h42v7h-42zm245 0h49v7h-49zm-245 7h35v7h-35zm252 0h35v7h-35zm-252 7h35v7h-35zm252 0h35v7h-35zm-252 7h42v7h-42zm252 0h42v7h-42zm-252 7h42v7h-42zm245 0h49v7h-49zm-252 7h14v7h-14zm42 0h14v7h-14zm203 0h21v7h-21zm49 0h14v7h-14zm-301 7h14v7h-14zm56 0h14v7h-14zm189 0h14v7h-14zm70 0h7v7h-7zm-322 7h7v7h-7zm77 0h7v7h-7zm168 0h14v7h-14zm84 0h7v7h-7zm-336 7h7v7h-7zm91 0h7v7h-7zm154 0h14v7h-14zm98 0h7v7h-7zm161 0h7v7h-7zm-511 7h7v7h-7zm105 0h7v7h-7zm140 0h14v7h-14zm112 0h7v7h-7zm147 0h7v7h-7zm-511 7h7v7h-7zm119 0h7v7h-7zm126 0h7v7h-7zm126 0h7v7h-7zm133 0h7v7h-7zm-511 7h7v7h-7zm133 0h7v7h-7zm112 0h7v7h-7zm140 0h7v7h-7zm119 0h7v7h-7zm-511 7h7v7h-7zm147 0h7v7h-7zm98 0h7v7h-7zm154 0h7v7h-7zm105 0h7v7h-7z"/>
<path fill="#040404" d="M853 584h7v7h-7zm91 0h7v7h-7zm161 0h7v7h-7zm91 0h7v7h-7zm161 0h7v7h-7zm-511 7h7v7h-7zm105 0h7v7h-7zm147 0h7v7h-7zm105 0h7v7h-7zm147 0h7v7h-7zm-511 7h7v7h-7zm119 0h7v7h-7zm133 0h7v7h-7zm119 0h7v7h-7zm133 0h7v7h-7zm-511 7h7v7h-7zm133 0h7v7h-7zm119 0h7v7h-7zm133 0h7v7h-7zm119 0h7v7h-7zm-511 7h7v7h-7zm147 0h7v7h-7zm14 0h7v7h-7zm91 0h7v7h-7zm147 0h7v7h-7zm105 0h7v7h-7zm-350 7h7v7h-7zm14 0h7v7h-7zm63 0h7v7h-7zm14 0h7v7h-7zm161 0h7v7h-7zm14 0h7v7h-7zm63 0h7v7h-7zm14 0h7v7h-7zm-336 7h7v7h-7zm14 0h7v7h-7zm49 0h7v7h-7zm14 0h7v7h-7zm175 0h7v7h-7zm14 0h7v7h-7zm49 0h7v7h-7zm14 0h7v7h-7zm-322 7h7v7h-7zm21 0h7v7h-7zm21 0h7v7h-7zm21 0h7v7h-7zm189 0h7v7h-7zm21 0h28v7h-28zm42 0h7v7h-7zm-308 14h7v7h-7zm49 0h7v7h-7zm203 0h7v7h-7zm49 0h7v7h-7zm-301 7h7v7h-7zm252 0h7v7h-7zm49 0h7v7h-7zm-301 7h7v7h-7zm42 0h7v7h-7zm210 0h7v7h-7zm49 0h7v7h-7zm-301 7h7v7h-7zm252 0h7v7h-7zm49 0h7v7h-7zm-252 7h7v7h-7zm196 0h7v7h-7zm28 0h14v7h-14zm35 0h7v7h-7zm-294 7h21v7h-21zm245 0h7v7h-7zm35 0h7v7h-7zm-308 7h7v7h-7zm14 0h14v7h-14zm35 0h7v7h-7zm21 0h7v7h-7zm245 0h7v7h-7zm-322 7h7v7h-7zm14 0h7v7h-7zm56 0h7v7h-7zm14 0h7v7h-7zm-238 7h7v7h-7zm147 0h7v7h-7zm14 0h7v7h-7zm70 0h7v7h-7zm14 0h7v7h-7zm161 0h7v7h-7zm-406 7h7v7h-7zm140 0h7v7h-7zm98 0h7v7h-7zm14 0h7v7h-7zm147 0h7v7h-7zm105 0h7v7h-7zm-497 7h7v7h-7zm126 0h7v7h-7zm112 0h7v7h-7zm14 0h7v7h-7zm126 0h14v7h-14zm126 0h7v7h-7zm-497 7h7v7h-7zm112 0h7v7h-7zm126 0h7v7h-7zm126 0h14v7h-14zm140 0h7v7h-7zm-497 7h7v7h-7zm98 0h7v7h-7zm140 0h7v7h-7zm112 0h7v7h-7zm154 0h7v7h-7zm-497 7h7v7h-7zm336 0h7v7h-7zm168 0h7v7h-7zm-497 7h7v7h-7zm14 0h7v7h-7zm231 0h7v7h-7zm91 0h7v7h-7zm-329 7h7v7h-7zm14 0h7v7h-7zm35 0h7v7h-7zm182 0h7v7h-7zm84 0h7v7h-7zm-287 7h14v7h-14zm35 0h7v7h-7zm182 0h7v7h-7zm77 0h7v7h-7zm-315 7h7v7h-7zm49 0h7v7h-7zm189 0h7v7h-7zm-196 14h7v7h-7zm-42 7h7v7h-7zm238 0h7v7h-7zm-189 7h7v7h-7zm189 0h7v7h-7zm77 0h7v7h-7zm-322 7h7v7h-7zm21 0h7v7h-7zm21 0h7v7h-7zm189 0h7v7h-7zm84 0h7v7h-7zm-322 7h7v7h-7zm14 0h7v7h-7zm217 0h7v7h-7zm105 0h7v7h-7zm-343 7h7v7h-7zm14 0h7v7h-7zm63 0h7v7h-7zm427 0h7v7h-7zm-511 7h7v7h-7zm91 0h7v7h-7zm259 0h14v7h-14zm154 0h7v7h-7zm-511 7h7v7h-7zm105 0h7v7h-7zm259 0h14v7h-14zm140 0h7v7h-7zm-511 7h7v7h-7zm385 0h7v7h-7zm119 0h7v7h-7zm-511 7h7v7h-7zm399 0h7v7h-7zm105 0h14v7h-14zm-350 7h7v7h-7zm252 0h7v7h-7zm98 0h7v7h-7zm-350 7h7v7h-7zm14 0h7v7h-7zm42 0h14v7h-14zm203 0h7v7h-7zm84 0h7v7h-7zm-336 7h7v7h-7zm56 0h7v7h-7zm259 0h7v7h-7zm-294 7h21v7h-21zm252 0h7v7h-7zm35 0h7v7h-7zm-49 7h7v7h-7zm28 0h14v7h-14zm-21 7h7v7h-7zm49 0h7v7h-7zm-49 7h7v7h-7zm0 7h7v7h-7zm0 7h7v7h-7zm49 0h7v7h-7zm-294 14h28v7h-28zm252 0h7v7h-7zm28 0h7v7h-7zm21 0h7v7h-7zm-315 7h7v7h-7zm308 0h7v7h-7zm14 0h7v7h-7zm-322 7h7v7h-7zm49 0h7v7h-7zm189 0h7v7h-7zm91 0h7v7h-7zm-497 7h7v7h-7zm147 0h7v7h-7zm84 0h7v7h-7zm14 0h7v7h-7zm154 0h14v7h-14zm105 0h7v7h-7zm-504 7h14v7h-14zm140 0h14v7h-14zm112 0h7v7h-7zm140 0h14v7h-14zm119 0h7v7h-7zm-504 7h14v7h-14zm126 0h14v7h-14zm119 0h7v7h-7zm140 0h7v7h-7zm126 0h7v7h-7zm-504 7h7v7h-7zm112 0h14v7h-14zm133 0h7v7h-7zm126 0h7v7h-7zm140 0h7v7h-7zm-504 7h7v7h-7zm105 0h7v7h-7zm140 0h7v7h-7zm112 0h7v7h-7zm147 0h7v7h-7zm-497 7h7v7h-7zm91 0h7v7h-7zm154 0h7v7h-7zm14 0h7v7h-7zm84 0h7v7h-7zm-336 7h7v7h-7zm14 0h7v7h-7zm49 0h7v7h-7zm14 0h7v7h-7zm168 0h7v7h-7zm14 0h7v7h-7zm56 0h7v7h-7zm14 0h7v7h-7zm-308 7h7v7h-7zm35 0h7v7h-7zm14 0h7v7h-7zm182 0h7v7h-7zm56 0h7v7h-7zm14 0h7v7h-7zm-287 7h14v7h-14zm224 0h7v7h-7zm21 0h21v7h-21zm-266 7h7v7h-7zm49 0h7v7h-7zm252 0h7v7h-7zm-259 7h7v7h-7zm210 0h7v7h-7zm42 0h7v7h-7zm-252 7h7v7h-7zm210 0h7v7h-7zm42 0h7v7h-7zm-294 7h7v7h-7zm252 0h7v7h-7zm-252 7h7v7h-7zm49 0h7v7h-7zm196 0h7v7h-7zm56 0h7v7h-7zm-308 7h7v7h-7zm21 0h28v7h-28zm42 0h7v7h-7zm210 0h7v7h-7zm14 0h14v7h-14zm28 0h7v7h-7zm-322 7h7v7h-7zm266 0h7v7h-7zm49 0h7v7h-7zm14 0h7v7h-7zm-322 7h7v7h-7zm63 0h7v7h-7zm252 0h7v7h-7zm14 0h7v7h-7zm161 0h7v7h-7zm-497 7h7v7h-7zm77 0h7v7h-7zm413 0h7v7h-7zm-497 7h7v7h-7zm91 0h7v7h-7zm399 0h7v7h-7zm-392 7h7v7h-7zm140 0h7v7h-7zm126 0h7v7h-7zm119 0h7v7h-7zm-252 7h7v7h-7zm140 0h7v7h-7zm105 0h7v7h-7zm-252 7h7v7h-7zm154 0h7v7h-7zm91 0h7v7h-7z"/>
<path fill="#080808" d="M958 584h7v7h-7zm7 7h7v7h-7zm7 7h7v7h-7zm105 0h7v7h-7zm147 0h7v7h-7zm-245 7h7v7h-7zm91 0h7v7h-7zm161 0h7v7h-7zm91 0h7v7h-7zm-259 7h7v7h-7zm175 0h7v7h-7zm77 0h7v7h-7zm-308 14h7v7h-7zm35 0h7v7h-7zm217 0h7v7h-7zm35 0h7v7h-7zm-273 7h14v7h-14zm-28 7h7v7h-7zm63 0h7v7h-7zm189 0h7v7h-7zm63 0h7v7h-7zm-259 14h7v7h-7zm0 7h7v7h-7zm0 7h7v7h-7zm-56 7h7v7h-7zm63 7h7v7h-7zm182 0h7v7h-7zm28 0h28v7h-28zm49 0h7v7h-7zm-301 7h7v7h-7zm14 0h7v7h-7zm224 0h7v7h-7zm-210 7h7v7h-7zm203 0h7v7h-7zm63 0h7v7h-7zm-329 14h7v7h-7zm-7 7h7v7h-7zm-7 7h7v7h-7zm126 0h7v7h-7zm266 0h7v7h-7zm-497 7h7v7h-7zm238 0h7v7h-7zm-231 7h7v7h-7zm56 7h7v7h-7zm21 0h7v7h-7zm147 0h7v7h-7zm-203 7h7v7h-7zm21 0h7v7h-7zm28 0h7v7h-7zm175 0h7v7h-7zm-245 7h7v7h-7zm231 0h7v7h-7zm77 7h7v7h-7zm14 0h7v7h-7zm-315 7h7v7h-7zm49 0h7v7h-7zm252 0h7v7h-7zm14 0h7v7h-7zm-315 7h7v7h-7zm49 0h7v7h-7zm252 0h7v7h-7zm14 0h7v7h-7zm-266 7h7v7h-7zm252 0h7v7h-7zm14 0h7v7h-7zm-322 7h7v7h-7zm231 0h7v7h-7zm-203 7h14v7h-14zm35 0h7v7h-7zm-49 7h7v7h-7zm35 0h7v7h-7zm21 0h7v7h-7zm168 0h7v7h-7zm-21 7h7v7h-7zm14 0h7v7h-7zm91 0h7v7h-7zm-329 7h7v7h-7zm217 0h7v7h-7zm-224 7h7v7h-7zm217 0h7v7h-7zm-119 7h7v7h-7zm7 7h7v7h-7zm14 0h7v7h-7zm98 0h7v7h-7zm-21 7h7v7h-7zm14 0h7v7h-7zm-7 7h7v7h-7zm252 0h7v7h-7zm-56 7h7v7h-7zm-252 7h7v7h-7zm28 0h7v7h-7zm210 0h7v7h-7zm28 0h7v7h-7zm14 0h14v7h-14zm35 0h7v7h-7zm-7 7h7v7h-7zm-7 14h7v7h-7zm0 7h7v7h-7zm-56 14h7v7h-7zm63 0h7v7h-7zm-308 7h7v7h-7zm35 0h7v7h-7zm203 0h7v7h-7zm28 0h21v7h-21zm-280 7h7v7h-7zm63 0h7v7h-7zm203 0h7v7h-7zm-273 7h7v7h-7zm21 0h7v7h-7zm35 0h7v7h-7zm28 0h7v7h-7zm182 0h7v7h-7zm63 0h7v7h-7zm-322 7h7v7h-7zm329 0h7v7h-7zm-210 28h7v7h-7zm-238 7h7v7h-7zm63 0h7v7h-7zm252 0h7v7h-7zm-294 14h7v7h-7zm21 0h7v7h-7zm224 0h7v7h-7zm28 0h7v7h-7zm-294 7h7v7h-7zm252 7h7v7h-7zm-245 7h7v7h-7zm49 0h7v7h-7zm252 0h7v7h-7zm-301 7h7v7h-7zm301 0h7v7h-7zm-252 7h7v7h-7zm196 0h7v7h-7zm56 0h7v7h-7zm-63 14h7v7h-7zm35 0h7v7h-7zm-266 7h7v7h-7zm35 0h7v7h-7zm21 0h7v7h-7zm168 0h7v7h-7zm28 0h7v7h-7zm35 0h7v7h-7zm-315 7h7v7h-7zm266 0h7v7h-7zm-273 7h7v7h-7zm266 0h7v7h-7zm77 0h7v7h-7zm14 0h7v7h-7zm-364 7h7v7h-7zm357 0h7v7h-7zm14 0h7v7h-7zm147 0h7v7h-7zm-525 7h7v7h-7zm14 0h7v7h-7zm357 0h7v7h-7zm147 0h7v7h-7zm-525 7h7v7h-7zm14 0h7v7h-7zm119 0h7v7h-7zm14 0h7v7h-7zm371 0h7v7h-7zm-511 7h7v7h-7zm133 0h7v7h-7zm14 0h7v7h-7zm84 0h7v7h-7zm273 0h7v7h-7z"/>
<path fill="#0c0c0c" d="M839 584h7v7h-7zm21 0h7v7h-7zm231 0h7v7h-7zm98 0h7v7h-7zm21 0h7v7h-7zm133 0h7v7h-7zm-511 7h7v7h-7zm252 0h7v7h-7zm133 0h7v7h-7zm119 0h7v7h-7zm-511 7h7v7h-7zm504 0h7v7h-7zm-329 21h7v7h-7zm252 0h7v7h-7zm-21 7h7v7h-7zm35 0h7v7h-7zm21 0h7v7h-7zm-301 7h7v7h-7zm252 0h7v7h-7zm77 0h7v7h-7zm-322 14h7v7h-7zm252 0h7v7h-7zm63 0h7v7h-7zm-315 21h7v7h-7zm252 0h7v7h-7zm63 0h7v7h-7zm-322 14h7v7h-7zm35 7h7v7h-7zm42 0h7v7h-7zm168 0h7v7h-7zm28 0h7v7h-7zm35 0h7v7h-7zm28 0h7v7h-7zm-497 7h7v7h-7zm175 0h7v7h-7zm224 0h7v7h-7zm105 0h7v7h-7zm-280 7h7v7h-7zm168 0h7v7h-7zm21 0h7v7h-7zm77 0h7v7h-7zm21 0h7v7h-7zm-14 7h7v7h-7zm21 0h7v7h-7zm-497 7h7v7h-7zm504 0h7v7h-7zm-497 7h7v7h-7zm84 7h7v7h-7zm21 0h7v7h-7zm-28 7h7v7h-7zm21 0h7v7h-7zm133 0h7v7h-7zm21 0h7v7h-7zm98 0h7v7h-7zm-322 7h7v7h-7zm301 0h7v7h-7zm175 0h7v7h-7zm-497 7h7v7h-7zm35 0h14v7h-14zm280 7h7v7h-7zm-245 7h7v7h-7zm168 0h7v7h-7zm21 7h7v7h-7zm0 7h7v7h-7zm-21 7h7v7h-7zm77 7h7v7h-7zm-315 7h7v7h-7zm252 0h7v7h-7zm70 7h7v7h-7zm175 0h7v7h-7zm-434 7h7v7h-7zm21 0h7v7h-7zm259 0h7v7h-7zm-252 7h7v7h-7zm140 0h7v7h-7zm-133 7h7v7h-7zm126 0h7v7h-7zm273 0h7v7h-7zm-511 7h7v7h-7zm119 0h7v7h-7zm98 0h7v7h-7zm14 0h7v7h-7zm273 0h7v7h-7zm-511 7h7v7h-7zm217 0h7v7h-7zm287 0h7v7h-7zm-511 7h7v7h-7zm133 0h7v7h-7zm350 0h7v7h-7zm-490 7h7v7h-7zm147 0h7v7h-7zm28 0h7v7h-7zm28 0h7v7h-7zm196 0h7v7h-7zm21 0h7v7h-7zm84 0h7v7h-7zm-280 7h7v7h-7zm182 0h7v7h-7zm63 0h7v7h-7zm28 0h7v7h-7zm-329 7h7v7h-7zm42 0h7v7h-7zm238 0h7v7h-7zm-28 14h7v7h-7zm63 0h7v7h-7zm-63 21h7v7h-7zm63 0h7v7h-7zm7 14h7v7h-7zm-84 7h7v7h-7zm28 0h7v7h-7zm35 0h7v7h-7zm28 0h7v7h-7zm-497 7h7v7h-7zm182 0h7v7h-7zm21 0h7v7h-7zm-49 14h7v7h-7zm84 0h7v7h-7zm259 0h7v7h-7zm-231 7h7v7h-7zm238 0h7v7h-7zm-476 7h7v7h-7zm245 0h7v7h-7zm98 0h7v7h-7zm140 0h7v7h-7zm-476 7h7v7h-7zm77 0h7v7h-7zm252 0h7v7h-7zm154 0h7v7h-7zm7 7h7v7h-7zm-497 7h7v7h-7zm28 0h7v7h-7zm245 0h7v7h-7zm42 0h7v7h-7zm189 0h7v7h-7zm-497 7h7v7h-7zm35 0h14v7h-14zm245 0h21v7h-21zm-210 7h7v7h-7zm182 0h7v7h-7zm70 0h7v7h-7zm-63 14h7v7h-7zm-196 7h7v7h-7zm196 0h7v7h-7zm-252 14h7v7h-7zm315 0h7v7h-7zm-294 14h7v7h-7zm21 0h7v7h-7zm252 0h7v7h-7zm-287 7h7v7h-7zm49 0h7v7h-7zm21 0h7v7h-7zm154 0h7v7h-7zm77 0h7v7h-7zm-224 7h7v7h-7zm140 0h7v7h-7zm-133 7h7v7h-7zm126 0h7v7h-7zm21 0h7v7h-7zm-140 7h7v7h-7zm112 0h7v7h-7zm21 0h7v7h-7zm-28 7h7v7h-7zm140 0h7v7h-7zm7 7h7v7h-7z"/>
<path fill="#101010" d="M937 584h7v7h-7zm175 0h7v7h-7zm-259 7h7v7h-7zm343 0h7v7h-7zm161 0h7v7h-7zm-511 7h7v7h-7zm357 0h7v7h-7zm14 14h7v7h-7zm-392 7h7v7h-7zm224 0h7v7h-7zm175 0h7v7h-7zm77 0h7v7h-7zm-287 7h7v7h-7zm21 0h7v7h-7zm238 0h14v7h-14zm49 0h7v7h-7zm-259 7h7v7h-7zm-7 14h7v7h-7zm-63 7h7v7h-7zm252 0h7v7h-7zm63 0h7v7h-7zm-315 7h7v7h-7zm252 0h7v7h-7zm63 0h7v7h-7zm-252 14h7v7h-7zm-77 14h7v7h-7zm-7 7h7v7h-7zm35 0h7v7h-7zm28 0h7v7h-7zm35 0h7v7h-7zm-238 7h7v7h-7zm161 0h7v7h-7zm84 0h7v7h-7zm-238 7h7v7h-7zm217 0h7v7h-7zm154 0h7v7h-7zm21 0h7v7h-7zm-168 7h7v7h-7zm140 0h7v7h-7zm126 0h7v7h-7zm-385 7h7v7h-7zm252 0h7v7h-7zm140 0h7v7h-7zm-259 7h7v7h-7zm133 0h7v7h-7zm133 0h7v7h-7zm7 7h7v7h-7zm-497 7h7v7h-7zm63 0h7v7h-7zm196 0h7v7h-7zm84 7h7v7h-7zm-329 14h7v7h-7zm252 0h7v7h-7zm-21 7h7v7h-7zm0 7h7v7h-7zm-231 7h7v7h-7zm252 0h7v7h-7zm-189 7h7v7h-7zm161 7h7v7h-7zm105 0h7v7h-7zm-343 7h7v7h-7zm35 0h7v7h-7zm21 0h7v7h-7zm-35 7h7v7h-7zm476 0h7v7h-7zm-420 7h7v7h-7zm413 0h7v7h-7zm-7 7h7v7h-7zm-133 7h7v7h-7zm126 0h7v7h-7zm-119 7h7v7h-7zm112 0h7v7h-7zm-336 7h7v7h-7zm231 0h7v7h-7zm119 0h7v7h-7zm-329 7h21v7h-21zm-28 7h7v7h-7zm280 0h7v7h-7zm-14 28h7v7h-7zm63 0h7v7h-7zm-63 7h7v7h-7zm63 0h7v7h-7zm-294 14h7v7h-7zm-21 7h7v7h-7zm49 0h7v7h-7zm14 7h7v7h-7zm231 0h7v7h-7zm-273 7h14v7h-14zm210 0h7v7h-7zm77 0h7v7h-7zm28 0h7v7h-7zm-497 7h7v7h-7zm217 0h7v7h-7zm168 0h7v7h-7zm21 0h7v7h-7zm98 0h7v7h-7zm-497 7h7v7h-7zm245 0h7v7h-7zm126 0h7v7h-7zm133 0h7v7h-7zm-518 7h7v7h-7zm21 0h7v7h-7zm105 0h7v7h-7zm119 0h7v7h-7zm133 0h7v7h-7zm147 0h7v7h-7zm-518 7h7v7h-7zm112 0h7v7h-7zm413 0h7v7h-7zm-518 7h7v7h-7zm7 7h7v7h-7zm70 7h7v7h-7zm21 7h7v7h-7zm168 0h7v7h-7zm84 0h7v7h-7zm-322 14h7v7h-7zm0 21h7v7h-7zm63 7h7v7h-7zm182 0h7v7h-7zm-252 7h7v7h-7zm329 0h7v7h-7zm-294 7h14v7h-14zm245 0h7v7h-7zm14 0h7v7h-7zm203 0h7v7h-7zm-231 7h7v7h-7zm-259 7h7v7h-7zm63 0h7v7h-7zm161 21h7v7h-7zm231 0h7v7h-7zm-238 7h7v7h-7zm154 0h7v7h-7zm77 0h7v7h-7z"/>
<path fill="#141414" d="M944 591h7v7h-7zm161 0h7v7h-7zm245 7h7v7h-7zm-511 7h7v7h-7zm371 0h7v7h-7zm133 0h7v7h-7zm-511 7h7v7h-7zm161 0h7v7h-7zm63 0h7v7h-7zm189 0h7v7h-7zm63 0h7v7h-7zm28 0h7v7h-7zm-364 7h7v7h-7zm357 0h7v7h-7zm-350 7h7v7h-7zm42 0h14v7h-14zm49 0h7v7h-7zm168 14h7v7h-7zm-182 28h7v7h-7zm-70 7h7v7h-7zm252 0h7v7h-7zm77 0h7v7h-7zm-49 14h7v7h-7zm21 0h7v7h-7zm-259 7h7v7h-7zm273 0h7v7h-7zm-336 7h7v7h-7zm-7 7h7v7h-7zm28 0h7v7h-7zm98 0h7v7h-7zm-259 7h7v7h-7zm126 0h7v7h-7zm140 0h7v7h-7zm133 0h7v7h-7zm-392 7h7v7h-7zm238 0h7v7h-7zm147 0h7v7h-7zm-378 7h7v7h-7zm350 0h7v7h-7zm-343 7h7v7h-7zm28 0h7v7h-7zm14 7h7v7h-7zm203 7h7v7h-7zm84 0h7v7h-7zm-238 7h7v7h-7zm182 0h7v7h-7zm-252 14h7v7h-7zm63 0h7v7h-7zm-63 7h7v7h-7zm63 7h7v7h-7zm189 7h7v7h-7zm-224 14h14v7h-14zm-49 7h7v7h-7zm-7 7h7v7h-7zm371 0h7v7h-7zm-378 7h7v7h-7zm364 0h7v7h-7zm-371 7h7v7h-7zm406 7h7v7h-7zm-189 7h7v7h-7zm196 0h7v7h-7zm63 7h7v7h-7zm-14 7h7v7h-7zm-280 14h21v7h-21zm231 0h7v7h-7zm77 0h7v7h-7zm-308 35h7v7h-7zm14 0h7v7h-7zm245 14h7v7h-7zm-301 14h7v7h-7zm28 0h7v7h-7zm84 0h7v7h-7zm-119 7h7v7h-7zm273 0h7v7h-7zm-259 7h7v7h-7zm252 0h7v7h-7zm-259 7h7v7h-7zm112 0h7v7h-7zm-203 14h7v7h-7zm77 0h7v7h-7zm168 0h7v7h-7zm84 0h7v7h-7zm-315 7h7v7h-7zm56 0h7v7h-7zm154 0h7v7h-7zm35 0h7v7h-7zm63 0h7v7h-7zm-266 21h7v7h-7zm182 0h7v7h-7zm70 0h7v7h-7zm-315 7h7v7h-7zm0 7h7v7h-7zm315 7h7v7h-7zm-329 21h7v7h-7zm294 0h7v7h-7zm49 0h7v7h-7zm154 7h7v7h-7zm-168 7h7v7h-7zm161 0h7v7h-7zm-483 7h7v7h-7zm77 0h7v7h-7zm399 0h7v7h-7zm-7 7h7v7h-7zm-98 7h7v7h-7z"/>
<path fill="#181818" d="M951 598h7v7h-7zm147 0h7v7h-7zm-140 7h7v7h-7zm28 0h7v7h-7zm77 0h7v7h-7zm28 0h7v7h-7zm147 0h7v7h-7zm-273 7h7v7h-7zm119 0h7v7h-7zm-77 7h7v7h-7zm35 0h7v7h-7zm35 0h7v7h-7zm182 0h7v7h-7zm35 0h7v7h-7zm-308 21h7v7h-7zm329 0h7v7h-7zm-259 14h7v7h-7zm0 7h7v7h-7zm7 21h7v7h-7zm168 0h7v7h-7zm91 0h7v7h-7zm-49 7h14v7h-14zm-259 7h14v7h-14zm238 0h7v7h-7zm-210 7h7v7h-7zm-63 14h7v7h-7zm119 7h7v7h-7zm-175 14h7v7h-7zm259 0h7v7h-7zm-273 7h7v7h-7zm35 7h7v7h-7zm-84 7h7v7h-7zm336 0h7v7h-7zm-28 7h7v7h-7zm0 7h7v7h-7zm-238 7h7v7h-7zm238 0h7v7h-7zm-308 14h7v7h-7zm336 0h7v7h-7zm-259 7h7v7h-7zm238 0h7v7h-7zm-91 7h7v7h-7zm-168 7h7v7h-7zm-49 7h7v7h-7zm322 0h7v7h-7zm-252 7h7v7h-7zm280 0h7v7h-7zm7 7h7v7h-7zm-245 7h7v7h-7zm287 21h7v7h-7zm-280 7h7v7h-7zm56 0h7v7h-7zm-42 7h7v7h-7zm0 35h7v7h-7zm28 0h7v7h-7zm210 0h7v7h-7zm77 0h7v7h-7zm-336 14h7v7h-7zm294 0h14v7h-14zm-301 7h7v7h-7zm98 0h7v7h-7zm182 0h7v7h-7zm56 7h7v7h-7zm-91 21h7v7h-7zm-259 7h7v7h-7zm126 0h7v7h-7zm28 0h7v7h-7zm98 0h7v7h-7zm-287 7h7v7h-7zm168 0h7v7h-7zm84 0h7v7h-7zm-266 7h7v7h-7zm252 0h7v7h-7zm-301 14h7v7h-7zm252 14h7v7h-7zm70 0h7v7h-7zm0 7h7v7h-7zm-252 7h7v7h-7zm182 0h7v7h-7zm-175 14h7v7h-7zm168 0h7v7h-7zm-259 14h7v7h-7zm35 0h7v7h-7zm35 0h7v7h-7zm252 0h7v7h-7zm35 0h7v7h-7zm-84 7h7v7h-7zm91 0h7v7h-7zm-21 7h7v7h-7zm28 0h7v7h-7zm-364 7h7v7h-7zm91 0h7v7h-7zm280 0h7v7h-7zm-238 14h7v7h-7zm70 0h7v7h-7z"/>
<path fill="#1c1c1c" d="M867 584h7v7h-7zm98 0h7v7h-7zm217 0h7v7h-7zm-210 7h7v7h-7zm7 7h7v7h-7zm252 0h7v7h-7zm84 7h7v7h-7zm-84 28h7v7h-7zm-168 7h7v7h-7zm175 7h7v7h-7zm0 21h7v7h-7zm77 0h7v7h-7zm-315 35h7v7h-7zm308 0h7v7h-7zm-259 7h7v7h-7zm-77 14h7v7h-7zm-105 7h7v7h-7zm238 0h7v7h-7zm-210 14h14v7h-14zm56 0h7v7h-7zm133 0h7v7h-7zm119 0h7v7h-7zm-84 7h7v7h-7zm238 0h7v7h-7zm-266 7h7v7h-7zm77 28h7v7h-7zm-224 21h7v7h-7zm168 0h7v7h-7zm-231 7h7v7h-7zm196 0h7v7h-7zm28 0h7v7h-7zm77 0h7v7h-7zm-322 14h7v7h-7zm84 7h7v7h-7zm49 14h7v7h-7zm77 0h7v7h-7zm238 0h7v7h-7zm-245 7h7v7h-7zm189 0h7v7h-7zm-427 7h7v7h-7zm231 0h7v7h-7zm217 0h14v7h-14zm-42 7h7v7h-7zm91 0h7v7h-7zm-294 7h7v7h-7zm-42 42h7v7h-7zm63 0h7v7h-7zm245 14h7v7h-7zm-252 7h7v7h-7zm14 7h7v7h-7zm259 0h7v7h-7zm-448 21h7v7h-7zm315 0h7v7h-7zm-287 14h14v7h-14zm245 0h7v7h-7zm217 7h7v7h-7zm-168 7h7v7h-7zm-259 14h7v7h-7zm0 7h7v7h-7zm182 0h7v7h-7zm-252 14h7v7h-7zm329 0h7v7h-7zm-245 14h7v7h-7zm154 0h7v7h-7zm35 7h7v7h-7zm-294 7h7v7h-7zm-7 7h7v7h-7zm280 0h7v7h-7zm-287 7h7v7h-7zm532 0h7v7h-7zm-511 7h7v7h-7zm105 0h7v7h-7zm112 0h7v7h-7zm287 0h7v7h-7zm-511 7h7v7h-7zm119 0h7v7h-7z"/>
<path fill="#202020" d="M1217 584h7v7h-7zm-140 7h7v7h-7zm147 0h7v7h-7zm-154 7h7v7h-7zm252 0h7v7h-7zm-56 21h7v7h-7zm21 0h7v7h-7zm35 14h7v7h-7zm-336 14h7v7h-7zm329 0h7v7h-7zm-77 14h7v7h-7zm-252 7h7v7h-7zm-7 14h7v7h-7zm91 7h7v7h-7zm154 0h7v7h-7zm105 0h7v7h-7zm-35 7h7v7h-7zm42 0h7v7h-7zm-301 7h7v7h-7zm210 0h7v7h-7zm70 7h7v7h-7zm42 7h7v7h-7zm-497 7h7v7h-7zm70 7h7v7h-7zm35 0h7v7h-7zm-84 7h7v7h-7zm77 0h7v7h-7zm154 0h7v7h-7zm63 7h7v7h-7zm-7 14h7v7h-7zm-231 7h7v7h-7zm189 0h7v7h-7zm70 0h7v7h-7zm-70 7h7v7h-7zm0 7h7v7h-7zm0 7h7v7h-7zm70 0h7v7h-7zm-105 7h7v7h-7zm28 7h7v7h-7zm238 0h7v7h-7zm-154 7h7v7h-7zm-133 14h7v7h-7zm28 0h7v7h-7zm-245 14h7v7h-7zm119 0h7v7h-7zm-21 7h7v7h-7zm98 0h7v7h-7zm-14 7h7v7h-7zm-203 7h7v7h-7zm497 7h7v7h-7zm-336 14h7v7h-7zm245 7h7v7h-7zm77 0h7v7h-7zm-77 21h7v7h-7zm77 0h7v7h-7zm-280 7h7v7h-7zm196 7h7v7h-7zm91 0h7v7h-7zm-497 7h7v7h-7zm238 0h7v7h-7zm182 14h7v7h-7zm-385 21h7v7h-7zm245 0h7v7h-7zm-175 7h7v7h-7zm217 14h14v7h-14zm203 0h7v7h-7zm-497 7h7v7h-7zm84 7h7v7h-7zm168 0h7v7h-7zm252 42h7v7h-7zm-469 14h7v7h-7zm21 0h7v7h-7zm42 0h7v7h-7zm140 0h7v7h-7zm-217 7h7v7h-7zm49 0h7v7h-7zm147 14h7v7h-7zm35 0h7v7h-7zm91 0h7v7h-7zm-217 7h7v7h-7zm224 0h7v7h-7zm105 7h7v7h-7zm35 0h7v7h-7z"/>
<path fill="#242424" d="M832 584h7v7h-7zm98 0h7v7h-7zm154 0h7v7h-7zm35 0h7v7h-7zm217 0h7v7h-7zm-511 7h7v7h-7zm35 0h7v7h-7zm329 0h7v7h-7zm140 0h7v7h-7zm-329 21h7v7h-7zm49 0h7v7h-7zm203 0h7v7h-7zm49 0h7v7h-7zm-287 7h7v7h-7zm21 0h7v7h-7zm238 0h7v7h-7zm-448 7h7v7h-7zm399 0h7v7h-7zm-245 7h7v7h-7zm91 0h7v7h-7zm168 21h7v7h-7zm77 0h7v7h-7zm-329 7h7v7h-7zm329 0h7v7h-7zm-252 14h7v7h-7zm-238 14h7v7h-7zm147 0h7v7h-7zm105 7h7v7h-7zm140 0h7v7h-7zm42 0h7v7h-7zm-252 7h7v7h-7zm336 0h7v7h-7zm-350 7h7v7h-7zm357 0h7v7h-7zm-497 7h7v7h-7zm203 0h7v7h-7zm-140 21h7v7h-7zm161 0h7v7h-7zm273 7h7v7h-7zm-497 7h7v7h-7zm7 14h7v7h-7zm336 7h7v7h-7zm0 7h7v7h-7zm-336 7h7v7h-7zm77 7h7v7h-7zm231 0h7v7h-7zm-315 7h7v7h-7zm322 7h7v7h-7zm175 0h7v7h-7zm-441 7h7v7h-7zm42 0h7v7h-7zm-28 7h7v7h-7zm35 0h7v7h-7zm7 7h7v7h-7zm98 0h7v7h-7zm28 0h7v7h-7zm-35 7h7v7h-7zm301 0h7v7h-7zm-511 7h7v7h-7zm231 0h7v7h-7zm238 0h7v7h-7zm35 0h7v7h-7zm-511 7h7v7h-7zm119 0h7v7h-7zm287 0h7v7h-7zm-280 7h7v7h-7zm329 0h7v7h-7zm42 0h7v7h-7zm-112 7h7v7h-7zm-175 7h7v7h-7zm-14 7h7v7h-7zm-28 7h14v7h-14zm231 7h7v7h-7zm77 0h7v7h-7zm0 7h7v7h-7zm-308 7h21v7h-21zm-14 7h7v7h-7zm231 14h7v7h-7zm105 0h7v7h-7zm-497 7h7v7h-7zm427 0h7v7h-7zm-259 7h7v7h-7zm35 0h7v7h-7zm-49 7h7v7h-7zm-133 7h7v7h-7zm245 0h7v7h-7zm224 0h7v7h-7zm-133 7h7v7h-7zm140 0h7v7h-7zm7 7h7v7h-7zm-455 7h7v7h-7zm245 0h7v7h-7zm217 0h7v7h-7zm-497 7h7v7h-7zm14 21h7v7h-7zm77 28h7v7h-7zm168 0h7v7h-7zm35 21h7v7h-7zm21 0h7v7h-7zm-203 7h7v7h-7zm126 0h7v7h-7zm42 0h7v7h-7zm49 0h7v7h-7zm-210 7h7v7h-7zm112 0h7v7h-7zm-105 7h7v7h-7zm126 7h7v7h-7zm-7 7h7v7h-7zm119 0h7v7h-7zm35 0h7v7h-7z"/>
<path fill="#282828" d="M937 591h7v7h-7zm-84 7h7v7h-7zm343 0h7v7h-7zm-364 21h7v7h-7zm189 0h14v7h-14zm196 0h7v7h-7zm63 0h7v7h-7zm49 7h7v7h-7zm-266 21h7v7h-7zm-77 7h7v7h-7zm245 21h7v7h-7zm91 0h7v7h-7zm-490 21h7v7h-7zm7 7h7v7h-7zm189 0h7v7h-7zm56 0h7v7h-7zm126 0h7v7h-7zm-364 7h7v7h-7zm357 0h7v7h-7zm35 0h7v7h-7zm-42 7h7v7h-7zm126 0h7v7h-7zm-385 7h7v7h-7zm126 0h7v7h-7zm266 0h7v7h-7zm-259 7h7v7h-7zm266 0h7v7h-7zm-126 7h7v7h-7zm133 0h7v7h-7zm-497 7h7v7h-7zm273 0h7v7h-7zm49 7h7v7h-7zm-224 7h7v7h-7zm182 0h7v7h-7zm-35 7h7v7h-7zm-231 7h7v7h-7zm77 0h7v7h-7zm224 0h7v7h-7zm-301 7h7v7h-7zm231 7h7v7h-7zm35 7h7v7h-7zm-280 14h7v7h-7zm42 7h7v7h-7zm455 0h7v7h-7zm-469 7h7v7h-7zm210 14h7v7h-7zm238 0h7v7h-7zm-322 14h7v7h-7zm343 0h7v7h-7zm-126 7h7v7h-7zm42 0h7v7h-7zm-287 7h7v7h-7zm28 21h7v7h-7zm21 0h7v7h-7zm217 14h7v7h-7zm-238 7h7v7h-7zm42 7h7v7h-7zm245 21h7v7h-7zm49 0h7v7h-7zm-497 7h7v7h-7zm462 0h7v7h-7zm-455 7h7v7h-7zm245 0h7v7h-7zm147 0h7v7h-7zm-175 7h7v7h-7zm133 0h7v7h-7zm161 0h7v7h-7zm-532 7h7v7h-7zm112 0h7v7h-7zm-105 7h7v7h-7zm7 7h7v7h-7zm77 0h7v7h-7zm252 0h7v7h-7zm-224 14h7v7h-7zm154 0h7v7h-7zm98 0h7v7h-7zm-91 14h7v7h-7zm84 0h7v7h-7zm-329 7h7v7h-7zm0 14h7v7h-7zm329 0h7v7h-7zm-336 14h7v7h-7zm343 0h7v7h-7zm154 7h7v7h-7zm-455 7h14v7h-14zm252 0h14v7h-14zm168 28h7v7h-7z"/>
<path fill="#2c2c2c" d="M1112 591h7v7h-7zm245 7h7v7h-7zm-511 7h7v7h-7zm147 0h7v7h-7zm210 0h7v7h-7zm42 0h7v7h-7zm-406 7h7v7h-7zm371 0h7v7h-7zm126 7h7v7h-7zm-364 7h7v7h-7zm105 0h7v7h-7zm154 14h7v7h-7zm91 0h7v7h-7zm-259 14h7v7h-7zm0 7h7v7h-7zm0 7h7v7h-7zm-84 7h7v7h-7zm-14 21h7v7h-7zm301 0h7v7h-7zm21 0h7v7h-7zm-329 7h7v7h-7zm56 0h14v7h-14zm287 0h7v7h-7zm-350 7h7v7h-7zm91 0h7v7h-7zm49 0h7v7h-7zm-147 7h7v7h-7zm42 0h7v7h-7zm112 0h7v7h-7zm133 0h7v7h-7zm-42 7h7v7h-7zm35 0h7v7h-7zm-350 7h7v7h-7zm308 0h7v7h-7zm35 0h7v7h-7zm-329 7h7v7h-7zm196 14h7v7h-7zm42 0h7v7h-7zm77 0h7v7h-7zm154 7h7v7h-7zm-196 7h7v7h-7zm-70 7h7v7h-7zm42 0h7v7h-7zm-196 7h7v7h-7zm154 0h7v7h-7zm42 0h7v7h-7zm28 0h7v7h-7zm-224 7h7v7h-7zm224 0h7v7h-7zm196 7h7v7h-7zm-273 7h7v7h-7zm84 0h7v7h-7zm-329 14h7v7h-7zm56 0h14v7h-14zm315 0h7v7h-7zm126 7h7v7h-7zm-511 7h7v7h-7zm504 0h7v7h-7zm-133 7h7v7h-7zm-210 7h7v7h-7zm217 0h7v7h-7zm35 0h7v7h-7zm-210 7h7v7h-7zm182 0h7v7h-7zm77 7h7v7h-7zm-308 14h7v7h-7zm252 7h7v7h-7zm91 0h7v7h-7zm-294 7h7v7h-7zm-21 7h14v7h-14zm0 7h14v7h-14zm21 7h7v7h-7zm294 7h7v7h-7zm-266 7h7v7h-7zm161 14h7v7h-7zm49 0h7v7h-7zm14 0h7v7h-7zm-273 7h7v7h-7zm21 0h7v7h-7zm56 0h7v7h-7zm126 0h7v7h-7zm133 0h7v7h-7zm-294 7h7v7h-7zm154 0h7v7h-7zm147 0h7v7h-7zm-406 7h7v7h-7zm35 0h7v7h-7zm-105 14h7v7h-7zm245 0h7v7h-7zm-231 7h7v7h-7zm203 7h7v7h-7zm112 0h7v7h-7zm154 14h7v7h-7zm-420 7h7v7h-7zm252 7h7v7h-7zm-329 7h7v7h-7zm329 0h7v7h-7zm-84 7h7v7h-7zm-7 14h7v7h-7zm245 14h7v7h-7zm-476 14h7v7h-7zm63 0h7v7h-7zm392 7h7v7h-7zm-84 7h7v7h-7zm-245 7h7v7h-7zm56 0h7v7h-7z"/>
<path fill="#303030" d="M874 584h7v7h-7zm301 0h7v7h-7zm-231 14h7v7h-7zm42 0h7v7h-7zm119 0h7v7h-7zm-154 7h7v7h-7zm105 0h7v7h-7zm252 0h7v7h-7zm42 0h7v7h-7zm-392 7h7v7h-7zm49 0h7v7h-7zm252 0h7v7h-7zm35 0h7v7h-7zm49 0h7v7h-7zm-378 7h7v7h-7zm119 0h7v7h-7zm-105 21h7v7h-7zm91 42h7v7h-7zm259 0h7v7h-7zm-56 14h14v7h-14zm-21 7h7v7h-7zm-252 7h7v7h-7zm-175 14h7v7h-7zm280 0h7v7h-7zm-273 7h7v7h-7zm91 0h7v7h-7zm189 0h7v7h-7zm-273 7h7v7h-7zm70 0h7v7h-7zm266 0h7v7h-7zm-224 14h7v7h-7zm210 7h7v7h-7zm-28 7h7v7h-7zm0 21h7v7h-7zm-280 7h7v7h-7zm91 7h7v7h-7zm182 0h7v7h-7zm77 0h7v7h-7zm-84 7h7v7h-7zm-287 14h7v7h-7zm385 0h7v7h-7zm-350 7h7v7h-7zm63 0h7v7h-7zm259 0h7v7h-7zm-182 21h7v7h-7zm14 0h7v7h-7zm280 0h7v7h-7zm-35 7h7v7h-7zm-441 14h7v7h-7zm161 7h7v7h-7zm56 0h7v7h-7zm-49 7h7v7h-7zm7 7h7v7h-7zm21 0h7v7h-7zm-21 7h7v7h-7zm21 0h7v7h-7zm14 7h7v7h-7zm-49 7h7v7h-7zm245 0h7v7h-7zm-252 7h7v7h-7zm-7 7h7v7h-7zm105 7h7v7h-7zm196 0h7v7h-7zm-315 7h7v7h-7zm56 0h14v7h-14zm238 0h7v7h-7zm-301 7h7v7h-7zm280 7h7v7h-7zm-259 7h7v7h-7zm98 0h7v7h-7zm154 0h7v7h-7zm-147 7h7v7h-7zm-168 7h7v7h-7zm175 0h7v7h-7zm49 0h7v7h-7zm77 0h7v7h-7zm-259 7h7v7h-7zm-98 14h7v7h-7zm252 14h7v7h-7zm0 7h7v7h-7zm-168 7h7v7h-7zm420 7h7v7h-7zm-413 7h7v7h-7zm-98 7h7v7h-7zm357 0h7v7h-7zm-322 14h7v7h-7zm35 0h7v7h-7zm420 0h7v7h-7zm-217 7h7v7h-7zm63 0h7v7h-7zm147 0h7v7h-7zm-469 7h7v7h-7zm77 0h7v7h-7zm294 0h7v7h-7z"/>
<path fill="#343434" d="M923 584h7v7h-7zm203 0h7v7h-7zm-63 14h7v7h-7zm175 0h7v7h-7zm-140 7h7v7h-7zm-56 7h7v7h-7zm49 0h7v7h-7zm133 21h7v7h-7zm-154 7h7v7h-7zm161 7h7v7h-7zm91 0h7v7h-7zm-91 21h7v7h-7zm91 0h7v7h-7zm-98 14h7v7h-7zm-175 35h7v7h-7zm-70 7h7v7h-7zm-84 14h14v7h-14zm224 0h7v7h-7zm-161 7h7v7h-7zm210 0h7v7h-7zm182 7h7v7h-7zm-497 7h7v7h-7zm280 0h7v7h-7zm224 7h7v7h-7zm-203 7h7v7h-7zm0 7h7v7h-7zm7 14h7v7h-7zm-49 21h7v7h-7zm-231 7h7v7h-7zm35 0h7v7h-7zm266 0h7v7h-7zm42 7h7v7h-7zm7 7h7v7h-7zm-189 7h7v7h-7zm-28 7h7v7h-7zm56 7h7v7h-7zm203 0h14v7h-14zm-210 7h7v7h-7zm-7 7h7v7h-7zm273 0h7v7h-7zm-294 14h7v7h-7zm287 0h7v7h-7zm-294 7h7v7h-7zm0 7h7v7h-7zm-35 7h7v7h-7zm56 7h7v7h-7zm-224 7h7v7h-7zm245 7h7v7h-7zm-105 7h7v7h-7zm28 14h7v7h-7zm315 0h7v7h-7zm-385 21h7v7h-7zm42 0h7v7h-7zm210 0h7v7h-7zm42 0h7v7h-7zm-322 7h14v7h-14zm63 0h7v7h-7zm203 0h7v7h-7zm189 14h7v7h-7zm7 14h7v7h-7zm-420 7h7v7h-7zm0 7h7v7h-7zm-84 14h7v7h-7zm238 14h7v7h-7zm-252 7h7v7h-7zm371 0h7v7h-7zm-77 7h7v7h-7zm35 0h7v7h-7zm49 0h7v7h-7zm7 7h7v7h-7zm-371 14h7v7h-7zm133 0h7v7h-7zm70 0h7v7h-7zm245 7h7v7h-7z"/>
<path fill="#383838" d="M972 584h7v7h-7zm252 0h7v7h-7zm-357 7h7v7h-7zm112 0h7v7h-7zm203 0h7v7h-7zm49 0h7v7h-7zm84 7h7v7h-7zm-301 14h7v7h-7zm252 0h7v7h-7zm-441 21h7v7h-7zm504 0h7v7h-7zm-350 14h7v7h-7zm252 7h7v7h-7zm91 0h7v7h-7zm-91 7h7v7h-7zm91 0h7v7h-7zm-343 7h7v7h-7zm91 7h7v7h-7zm-245 7h7v7h-7zm147 0h7v7h-7zm105 7h7v7h-7zm259 0h7v7h-7zm-42 14h7v7h-7zm-259 7h7v7h-7zm273 0h7v7h-7zm-441 14h7v7h-7zm105 7h7v7h-7zm-7 7h7v7h-7zm112 7h7v7h-7zm49 0h7v7h-7zm35 7h7v7h-7zm42 7h7v7h-7zm-259 7h7v7h-7zm196 0h7v7h-7zm14 0h7v7h-7zm-14 7h14v7h-14zm0 7h14v7h-14zm0 7h7v7h-7zm14 0h7v7h-7zm203 0h7v7h-7zm-224 7h7v7h-7zm217 7h7v7h-7zm-399 7h7v7h-7zm126 0h7v7h-7zm98 7h7v7h-7zm-70 7h7v7h-7zm-245 14h7v7h-7zm77 0h7v7h-7zm42 0h7v7h-7zm329 7h7v7h-7zm-56 7h7v7h-7zm-420 14h7v7h-7zm392 7h7v7h-7zm7 14h7v7h-7zm-238 7h7v7h-7zm0 7h7v7h-7zm329 7h7v7h-7zm7 14h7v7h-7zm-35 21h7v7h-7zm21 14h7v7h-7zm-448 7h7v7h-7zm245 0h7v7h-7zm28 14h7v7h-7zm14 0h7v7h-7zm-308 14h7v7h-7zm98 7h7v7h-7zm154 0h7v7h-7zm98 0h7v7h-7zm161 28h7v7h-7zm-161 7h7v7h-7zm154 7h7v7h-7zm-399 7h7v7h-7zm133 7h7v7h-7zm-252 7h7v7h-7zm56 0h7v7h-7zm-63 7h7v7h-7zm238 7h7v7h-7zm49 0h7v7h-7zm77 0h7v7h-7zm-245 7h7v7h-7zm413 0h7v7h-7zm-511 7h7v7h-7zm105 0h7v7h-7zm91 0h7v7h-7zm210 0h7v7h-7zm98 0h7v7h-7z"/>
<path fill="#3c3c3c" d="M881 584h7v7h-7zm196 0h7v7h-7zm91 0h7v7h-7zm-238 7h7v7h-7zm140 0h7v7h-7zm252 0h7v7h-7zm-322 14h7v7h-7zm252 0h7v7h-7zm-217 7h7v7h-7zm238 0h7v7h-7zm14 0h7v7h-7zm-70 14h7v7h-7zm-245 7h7v7h-7zm7 28h7v7h-7zm-147 28h7v7h-7zm385 0h7v7h-7zm-133 7h7v7h-7zm259 0h7v7h-7zm-84 7h7v7h-7zm91 0h7v7h-7zm-343 7h7v7h-7zm21 0h7v7h-7zm217 0h7v7h-7zm112 0h7v7h-7zm-497 7h7v7h-7zm133 0h7v7h-7zm322 0h7v7h-7zm-385 7h7v7h-7zm126 0h7v7h-7zm-175 7h7v7h-7zm182 0h7v7h-7zm7 7h7v7h-7zm140 7h7v7h-7zm133 0h7v7h-7zm-497 7h7v7h-7zm287 0h7v7h-7zm-49 7h7v7h-7zm56 0h7v7h-7zm14 0h7v7h-7zm-301 7h7v7h-7zm294 0h7v7h-7zm210 7h7v7h-7zm0 7h7v7h-7zm-504 7h7v7h-7zm294 0h7v7h-7zm-203 7h7v7h-7zm140 0h7v7h-7zm119 0h7v7h-7zm-357 7h7v7h-7zm322 7h7v7h-7zm-210 7h7v7h-7zm112 0h7v7h-7zm-217 28h7v7h-7zm91 0h7v7h-7zm-98 7h7v7h-7zm231 0h7v7h-7zm217 0h7v7h-7zm-455 7h7v7h-7zm497 7h7v7h-7zm-287 14h7v7h-7zm-14 14h7v7h-7zm287 0h7v7h-7zm-287 7h7v7h-7zm287 0h7v7h-7zm-280 7h7v7h-7zm189 0h7v7h-7zm-168 14h7v7h-7zm161 0h7v7h-7zm-392 7h7v7h-7zm427 14h7v7h-7zm-217 7h7v7h-7zm203 0h7v7h-7zm-385 7h7v7h-7zm196 0h7v7h-7zm-126 7h7v7h-7zm252 0h7v7h-7zm-301 7h7v7h-7zm266 7h7v7h-7zm196 7h7v7h-7zm-490 21h7v7h-7zm504 7h7v7h-7zm0 7h7v7h-7zm-504 7h7v7h-7zm245 7h7v7h-7zm-189 28h7v7h-7zm168 0h7v7h-7zm63 0h7v7h-7zm21 0h7v7h-7zm-287 7h7v7h-7zm49 0h7v7h-7zm147 0h7v7h-7zm-91 7h7v7h-7zm126 7h7v7h-7zm91 0h7v7h-7zm112 0h7v7h-7zm-308 7h7v7h-7z"/>
<path fill="#404040" d="M825 584h7v7h-7zm91 0h7v7h-7zm217 0h7v7h-7zm196 0h7v7h-7zm-210 7h7v7h-7zm-259 7h7v7h-7zm329 0h7v7h-7zm-140 7h7v7h-7zm252 0h7v7h-7zm-280 7h14v7h-14zm259 0h7v7h-7zm-448 14h7v7h-7zm504 0h7v7h-7zm-259 7h7v7h-7zm-7 14h7v7h-7zm-91 7h7v7h-7zm350 21h7v7h-7zm-364 14h7v7h-7zm245 7h7v7h-7zm-119 7h7v7h-7zm-77 7h14v7h-14zm308 14h7v7h-7zm-406 7h7v7h-7zm420 7h7v7h-7zm-182 14h7v7h-7zm-203 7h7v7h-7zm196 0h7v7h-7zm-294 14h7v7h-7zm91 0h7v7h-7zm-91 7h7v7h-7zm91 7h7v7h-7zm196 7h7v7h-7zm14 0h7v7h-7zm-21 7h7v7h-7zm28 0h7v7h-7zm-35 7h7v7h-7zm84 0h7v7h-7zm133 0h7v7h-7zm-455 14h7v7h-7zm21 0h7v7h-7zm56 0h7v7h-7zm98 0h7v7h-7zm-91 7h7v7h-7zm84 0h7v7h-7zm42 0h7v7h-7zm-49 7h7v7h-7zm266 0h7v7h-7zm-322 7h7v7h-7zm364 0h7v7h-7zm-406 7h7v7h-7zm399 0h7v7h-7zm-392 7h7v7h-7zm385 0h7v7h-7zm-126 7h7v7h-7zm-245 7h7v7h-7zm-147 7h7v7h-7zm154 0h7v7h-7zm7 7h7v7h-7zm56 0h7v7h-7zm189 7h7v7h-7zm0 7h7v7h-7zm-245 7h7v7h-7zm350 21h7v7h-7zm-497 7h7v7h-7zm448 7h7v7h-7zm-434 7h7v7h-7zm252 7h7v7h-7zm217 7h7v7h-7zm-406 7h7v7h-7zm210 0h7v7h-7zm203 0h7v7h-7zm7 7h7v7h-7zm-497 7h7v7h-7zm252 7h7v7h-7zm112 0h7v7h-7zm-105 14h7v7h-7zm98 0h7v7h-7zm-343 7h7v7h-7zm0 7h7v7h-7zm343 7h7v7h-7zm-252 7h7v7h-7zm-98 7h7v7h-7zm497 7h7v7h-7zm-385 7h7v7h-7zm-63 7h14v7h-14zm70 0h7v7h-7zm182 0h14v7h-14zm-175 7h7v7h-7zm154 0h7v7h-7zm49 0h7v7h-7zm70 14h7v7h-7zm-147 7h7v7h-7zm105 0h7v7h-7zm91 0h7v7h-7z"/>
<path fill="#444444" d="M1161 584h7v7h-7zm-224 14h7v7h-7zm-84 7h7v7h-7zm343 0h7v7h-7zm7 7h7v7h-7zm-364 7h7v7h-7zm371 0h7v7h-7zm-245 7h7v7h-7zm259 14h7v7h-7zm-154 14h7v7h-7zm0 14h7v7h-7zm154 7h7v7h-7zm-385 21h7v7h-7zm7 7h7v7h-7zm357 0h7v7h-7zm84 0h7v7h-7zm-434 7h7v7h-7zm245 0h7v7h-7zm98 0h7v7h-7zm-259 7h7v7h-7zm105 0h7v7h-7zm63 0h7v7h-7zm84 0h7v7h-7zm49 0h7v7h-7zm-252 7h7v7h-7zm126 0h7v7h-7zm70 0h7v7h-7zm-63 7h7v7h-7zm56 0h7v7h-7zm154 0h7v7h-7zm-203 7h7v7h-7zm42 0h7v7h-7zm49 0h7v7h-7zm-378 7h7v7h-7zm294 0h7v7h-7zm28 0h7v7h-7zm-21 7h7v7h-7zm210 7h7v7h-7zm-266 7h7v7h-7zm119 0h7v7h-7zm-259 14h7v7h-7zm259 7h7v7h-7zm-56 7h7v7h-7zm203 0h7v7h-7zm-511 14h7v7h-7zm280 7h7v7h-7zm217 0h7v7h-7zm-441 7h14v7h-14zm434 0h7v7h-7zm-455 7h7v7h-7zm49 0h7v7h-7zm399 0h7v7h-7zm-231 7h7v7h-7zm-56 7h7v7h-7zm49 0h7v7h-7zm161 0h7v7h-7zm14 7h7v7h-7zm-294 14h7v7h-7zm364 14h7v7h-7zm-287 21h7v7h-7zm-217 14h7v7h-7zm154 0h7v7h-7zm77 0h7v7h-7zm273 0h7v7h-7zm-112 14h7v7h-7zm126 7h7v7h-7zm-497 7h7v7h-7zm504 0h7v7h-7zm-350 7h7v7h-7zm98 0h7v7h-7zm203 0h7v7h-7zm56 0h7v7h-7zm-371 7h7v7h-7zm203 0h7v7h-7zm-364 14h7v7h-7zm343 0h7v7h-7zm-336 7h7v7h-7zm119 14h7v7h-7zm399 7h7v7h-7zm-252 28h7v7h-7zm105 14h7v7h-7zm112 35h7v7h-7zm-266 7h7v7h-7zm-14 7h7v7h-7zm224 0h7v7h-7z"/>
<path fill="#484848" d="M888 584h7v7h-7zm21 0h7v7h-7zm231 0h7v7h-7zm35 7h7v7h-7zm-182 7h7v7h-7zm119 0h7v7h-7zm133 0h7v7h-7zm112 7h7v7h-7zm-511 7h7v7h-7zm497 7h7v7h-7zm-259 7h7v7h-7zm-259 14h7v7h-7zm504 0h7v7h-7zm-259 21h7v7h-7zm-245 14h7v7h-7zm147 0h7v7h-7zm105 7h7v7h-7zm-119 14h7v7h-7zm-7 7h7v7h-7zm315 0h7v7h-7zm14 0h7v7h-7zm-336 7h7v7h-7zm357 0h7v7h-7zm-70 14h7v7h-7zm-343 7h7v7h-7zm21 0h7v7h-7zm315 0h7v7h-7zm-266 21h7v7h-7zm119 0h7v7h-7zm70 0h7v7h-7zm56 21h7v7h-7zm0 7h7v7h-7zm-119 7h7v7h-7zm-133 14h7v7h-7zm203 0h7v7h-7zm-322 14h7v7h-7zm-7 7h7v7h-7zm462 28h7v7h-7zm-77 7h7v7h-7zm14 21h7v7h-7zm-238 14h7v7h-7zm56 0h7v7h-7zm-56 7h7v7h-7zm63 7h7v7h-7zm-77 14h7v7h-7zm238 14h7v7h-7zm-119 7h7v7h-7zm175 0h21v7h-21zm-231 7h7v7h-7zm-98 7h7v7h-7zm301 0h7v7h-7zm-175 7h7v7h-7zm-175 7h7v7h-7zm196 14h7v7h-7zm-238 14h7v7h-7zm98 7h7v7h-7zm154 7h7v7h-7zm98 0h7v7h-7zm-98 7h7v7h-7zm98 0h7v7h-7zm154 14h7v7h-7zm-259 7h7v7h-7zm245 14h7v7h-7zm-7 7h7v7h-7zm-7 7h7v7h-7zm-455 7h7v7h-7zm63 0h7v7h-7zm77 14h7v7h-7z"/>
<path fill="#4c4c4c" d="M895 584h14v7h-14zm252 0h14v7h-14zm-273 7h7v7h-7zm182 7h7v7h-7zm252 0h7v7h-7zm-364 7h7v7h-7zm63 0h7v7h-7zm98 0h7v7h-7zm154 0h7v7h-7zm-308 7h7v7h-7zm399 0h7v7h-7zm-392 7h7v7h-7zm14 21h7v7h-7zm252 28h7v7h-7zm105 0h7v7h-7zm7 14h7v7h-7zm-63 21h7v7h-7zm-21 7h7v7h-7zm-252 7h7v7h-7zm-126 7h7v7h-7zm175 0h7v7h-7zm-224 7h7v7h-7zm70 0h7v7h-7zm84 0h7v7h-7zm-147 7h7v7h-7zm322 7h7v7h-7zm-308 14h7v7h-7zm238 14h7v7h-7zm0 7h7v7h-7zm-238 14h7v7h-7zm231 7h7v7h-7zm63 0h14v7h-14zm21 7h7v7h-7zm56 7h7v7h-7zm-35 14h7v7h-7zm56 7h7v7h-7zm-238 7h7v7h-7zm301 0h7v7h-7zm-35 7h7v7h-7zm-434 21h7v7h-7zm231 0h7v7h-7zm-7 7h7v7h-7zm-231 7h7v7h-7zm224 0h7v7h-7zm-224 21h7v7h-7zm399 7h7v7h-7zm-259 14h7v7h-7zm119 7h7v7h-7zm119 7h7v7h-7zm-259 7h7v7h-7zm252 0h7v7h-7zm-322 14h7v7h-7zm105 0h7v7h-7zm252 0h7v7h-7zm-322 7h7v7h-7zm161 0h7v7h-7zm63 0h7v7h-7zm-56 7h7v7h-7zm133 7h7v7h-7zm-266 42h7v7h-7zm-105 21h7v7h-7zm371 0h7v7h-7zm-329 21h7v7h-7zm35 0h7v7h-7zm217 0h7v7h-7zm-14 7h7v7h-7zm63 0h7v7h-7zm56 0h7v7h-7zm-245 7h7v7h-7zm273 7h7v7h-7zm21 0h7v7h-7z"/>
<path fill="#505050" d="M923 591h7v7h-7zm63 0h7v7h-7zm140 0h7v7h-7zm112 0h7v7h-7zm-196 14h7v7h-7zm252 0h7v7h-7zm-196 7h7v7h-7zm-7 7h7v7h-7zm126 14h7v7h-7zm-140 7h7v7h-7zm147 7h7v7h-7zm105 0h7v7h-7zm-112 35h7v7h-7zm-182 35h7v7h-7zm-112 7h7v7h-7zm-21 7h7v7h-7zm70 7h7v7h-7zm-7 7h7v7h-7zm175 0h14v7h-14zm70 7h7v7h-7zm-259 14h7v7h-7zm399 0h7v7h-7zm0 21h7v7h-7zm-217 21h7v7h-7zm35 7h7v7h-7zm-56 7h7v7h-7zm63 0h7v7h-7zm49 0h7v7h-7zm7 7h7v7h-7zm-364 7h7v7h-7zm63 0h7v7h-7zm56 0h7v7h-7zm203 0h7v7h-7zm7 7h7v7h-7zm7 7h7v7h-7zm70 0h14v7h-14zm-203 14h7v7h-7zm266 7h7v7h-7zm-7 14h7v7h-7zm0 21h7v7h-7zm-497 14h7v7h-7zm245 7h7v7h-7zm-119 7h7v7h-7zm-7 7h7v7h-7zm56 7h7v7h-7zm245 0h7v7h-7zm-203 7h7v7h-7zm259 0h7v7h-7zm-189 7h7v7h-7zm-224 7h14v7h-14zm329 0h7v7h-7zm-7 7h7v7h-7zm-259 7h7v7h-7zm385 7h7v7h-7zm7 14h7v7h-7zm-406 7h7v7h-7zm0 7h7v7h-7zm-98 14h7v7h-7zm105 7h7v7h-7zm133 7h7v7h-7zm133 7h7v7h-7zm-49 14h7v7h-7zm63 0h7v7h-7zm-175 7h7v7h-7zm-196 7h7v7h-7zm441 0h7v7h-7zm-287 7h7v7h-7zm14 0h7v7h-7zm252 0h7v7h-7z"/>
<path fill="#545454" d="M979 584h7v7h-7zm252 0h7v7h-7zm-168 7h7v7h-7zm-231 42h7v7h-7zm-7 14h7v7h-7zm399 7h7v7h-7zm105 0h7v7h-7zm-105 7h7v7h-7zm105 0h7v7h-7zm-504 7h7v7h-7zm147 0h7v7h-7zm-140 14h7v7h-7zm252 7h7v7h-7zm259 0h7v7h-7zm-336 28h7v7h-7zm301 0h7v7h-7zm-252 14h7v7h-7zm77 7h7v7h-7zm28 0h7v7h-7zm-91 7h7v7h-7zm273 7h7v7h-7zm-133 49h7v7h-7zm133 0h7v7h-7zm-462 28h7v7h-7zm35 0h7v7h-7zm91 14h7v7h-7zm21 0h7v7h-7zm-49 42h7v7h-7zm-154 7h7v7h-7zm224 0h7v7h-7zm-224 7h7v7h-7zm224 0h7v7h-7zm-70 7h7v7h-7zm84 7h7v7h-7zm7 7h7v7h-7zm266 0h7v7h-7zm-308 28h7v7h-7zm-105 14h7v7h-7zm252 0h7v7h-7zm-203 7h7v7h-7zm189 0h7v7h-7zm-196 7h7v7h-7zm126 21h7v7h-7zm112 0h7v7h-7zm147 28h7v7h-7zm-147 7h7v7h-7zm-371 21h7v7h-7zm-7 7h7v7h-7zm399 0h7v7h-7zm-287 21h7v7h-7zm175 0h7v7h-7zm-259 7h7v7h-7zm168 0h7v7h-7zm252 0h7v7h-7zm84 0h7v7h-7z"/>
<path fill="#585858" d="M1315 591h7v7h-7zm-448 7h7v7h-7zm315 0h7v7h-7zm-168 7h7v7h-7zm252 0h7v7h-7zm21 0h7v7h-7zm49 28h7v7h-7zm-364 14h7v7h-7zm105 28h7v7h-7zm-112 7h7v7h-7zm329 28h7v7h-7zm-427 7h7v7h-7zm161 0h7v7h-7zm-35 7h7v7h-7zm175 7h7v7h-7zm-105 7h7v7h-7zm287 35h7v7h-7zm0 7h7v7h-7zm-504 7h7v7h-7zm105 7h7v7h-7zm7 14h7v7h-7zm112 0h7v7h-7zm56 7h7v7h-7zm182 21h7v7h-7zm-448 7h7v7h-7zm161 0h7v7h-7zm231 0h7v7h-7zm-175 14h7v7h-7zm-238 7h7v7h-7zm385 21h7v7h-7zm105 7h7v7h-7zm0 7h7v7h-7zm-273 7h7v7h-7zm-42 42h14v7h-14zm280 0h7v7h-7zm-427 7h7v7h-7zm273 14h7v7h-7zm-301 21h7v7h-7zm7 14h7v7h-7zm504 7h7v7h-7zm0 7h7v7h-7zm-259 14h7v7h-7zm252 7h7v7h-7zm-266 14h7v7h-7zm-7 7h7v7h-7zm-182 7h7v7h-7zm21 0h7v7h-7zm154 0h7v7h-7zm77 0h7v7h-7zm-154 7h7v7h-7zm56 7h7v7h-7zm147 0h7v7h-7zm63 0h7v7h-7zm-308 7h7v7h-7z"/>
<path fill="#5c5c5c" d="M1070 584h7v7h-7zm-189 7h7v7h-7zm287 0h7v7h-7zm-168 7h7v7h-7zm252 0h7v7h-7zm-217 7h7v7h-7zm238 0h7v7h-7zm-63 21h7v7h-7zm-245 7h7v7h-7zm-140 21h7v7h-7zm0 7h7v7h-7zm147 0h7v7h-7zm238 28h7v7h-7zm-119 7h7v7h-7zm259 0h7v7h-7zm7 7h7v7h-7zm-343 14h14v7h-14zm112 14h7v7h-7zm210 14h7v7h-7zm-259 14h7v7h-7zm-231 7h7v7h-7zm105 7h7v7h-7zm-112 28h7v7h-7zm301 7h7v7h-7zm14 0h7v7h-7zm-175 21h7v7h-7zm126 0h7v7h-7zm-63 7h7v7h-7zm-105 7h7v7h-7zm77 0h7v7h-7zm-161 7h7v7h-7zm-7 7h7v7h-7zm497 7h7v7h-7zm-126 7h7v7h-7zm-245 7h7v7h-7zm7 14h7v7h-7zm245 14h7v7h-7zm-385 21h7v7h-7zm154 28h7v7h-7zm119 0h7v7h-7zm203 7h7v7h-7zm-161 7h7v7h-7zm182 14h7v7h-7zm-385 14h7v7h-7zm-105 28h7v7h-7zm112 21h7v7h-7zm203 21h7v7h-7zm147 7h7v7h-7zm-203 14h7v7h-7z"/>
<path fill="#606060" d="M1322 584h7v7h-7zm-392 14h7v7h-7zm91 7h14v7h-14zm168 0h7v7h-7zm91 0h7v7h-7zm-203 42h7v7h-7zm-105 7h7v7h-7zm364 21h7v7h-7zm-497 14h7v7h-7zm259 14h7v7h-7zm161 7h7v7h-7zm-329 7h7v7h-7zm182 0h7v7h-7zm133 0h7v7h-7zm-364 7h7v7h-7zm161 0h7v7h-7zm77 0h7v7h-7zm56 0h7v7h-7zm140 0h7v7h-7zm-175 14h7v7h-7zm14 0h7v7h-7zm-315 14h7v7h-7zm119 7h7v7h-7zm-7 21h7v7h-7zm0 7h7v7h-7zm196 21h7v7h-7zm189 0h7v7h-7zm-371 7h7v7h-7zm7 7h7v7h-7zm322 21h7v7h-7zm63 7h7v7h-7zm-7 7h7v7h-7zm-518 21h7v7h-7zm224 7h7v7h-7zm-77 14h7v7h-7zm238 21h7v7h-7zm126 7h7v7h-7zm-483 21h7v7h-7zm399 0h7v7h-7zm-14 7h7v7h-7zm-364 7h7v7h-7zm266 7h7v7h-7zm175 0h7v7h-7zm7 7h7v7h-7zm-238 28h7v7h-7zm-245 7h7v7h-7zm49 56h14v7h-14zm84 0h7v7h-7zm168 0h14v7h-14zm-273 7h7v7h-7zm49 0h7v7h-7zm203 0h7v7h-7zm-126 7h7v7h-7zm196 7h7v7h-7z"/>
<path fill="#646464" d="M916 591h7v7h-7zm217 0h7v7h-7zm-84 7h7v7h-7zm70 0h7v7h-7zm182 0h7v7h-7zm-441 7h7v7h-7zm336 7h7v7h-7zm7 7h7v7h-7zm-364 7h7v7h-7zm504 0h7v7h-7zm-259 7h7v7h-7zm-7 35h7v7h-7zm140 7h7v7h-7zm-259 14h7v7h-7zm245 7h7v7h-7zm-343 14h7v7h-7zm245 0h7v7h-7zm77 7h7v7h-7zm-266 7h7v7h-7zm406 7h7v7h-7zm-175 7h7v7h-7zm182 0h7v7h-7zm-112 7h7v7h-7zm-7 14h7v7h-7zm-364 14h7v7h-7zm0 7h7v7h-7zm231 14h7v7h-7zm133 0h7v7h-7zm-147 21h7v7h-7zm98 0h7v7h-7zm-273 14h7v7h-7zm21 0h7v7h-7zm140 0h7v7h-7zm266 0h7v7h-7zm-371 21h7v7h-7zm140 0h7v7h-7zm-119 21h7v7h-7zm98 7h7v7h-7zm161 14h7v7h-7zm-168 7h7v7h-7zm168 0h7v7h-7zm-392 14h7v7h-7zm140 0h7v7h-7zm-126 21h7v7h-7zm7 7h7v7h-7zm77 14h7v7h-7zm126 7h7v7h-7zm-224 21h7v7h-7zm252 7h7v7h-7zm126 0h7v7h-7zm-7 14h7v7h-7zm-357 14h7v7h-7zm245 7h7v7h-7zm112 0h7v7h-7zm-252 7h7v7h-7zm-112 7h7v7h-7zm497 7h7v7h-7zm-371 7h7v7h-7zm7 7h7v7h-7zm203 14h7v7h-7zm119 7h7v7h-7z"/>
<path fill="#686868" d="M846 619h7v7h-7zm371 21h7v7h-7zm-140 14h7v7h-7zm-231 42h7v7h-7zm7 7h7v7h-7zm343 0h7v7h-7zm-259 7h7v7h-7zm252 0h7v7h-7zm98 0h7v7h-7zm-301 21h7v7h-7zm357 28h7v7h-7zm-511 49h7v7h-7zm385 0h7v7h-7zm112 7h7v7h-7zm-273 7h7v7h-7zm63 0h7v7h-7zm203 0h7v7h-7zm-329 14h7v7h-7zm105 0h7v7h-7zm147 0h7v7h-7zm-294 21h7v7h-7zm7 7h7v7h-7zm378 14h7v7h-7zm-280 14h7v7h-7zm280 21h7v7h-7zm14 21h7v7h-7zm7 7h7v7h-7zm-252 7h7v7h-7zm182 0h7v7h-7zm-245 7h7v7h-7zm140 0h7v7h-7zm-266 7h7v7h-7zm210 0h7v7h-7zm-301 14h7v7h-7zm518 21h7v7h-7zm-133 42h7v7h-7zm105 28h7v7h-7zm-70 7h7v7h-7z"/>
<path fill="#6c6c6c" d="M888 591h7v7h-7zm273 0h7v7h-7zm-224 14h7v7h-7zm-84 7h7v7h-7zm105 14h7v7h-7zm-126 14h7v7h-7zm504 0h7v7h-7zm-259 21h7v7h-7zm-245 14h7v7h-7zm252 7h7v7h-7zm182 28h7v7h-7zm-266 14h7v7h-7zm238 0h7v7h-7zm-406 21h7v7h-7zm133 7h7v7h-7zm105 0h7v7h-7zm7 14h7v7h-7zm266 28h7v7h-7zm-210 21h7v7h-7zm35 7h7v7h-7zm-273 7h14v7h-14zm-21 7h7v7h-7zm49 0h7v7h-7zm168 7h7v7h-7zm168 0h7v7h-7zm-49 21h7v7h-7zm-140 7h7v7h-7zm196 77h7v7h-7zm35 7h7v7h-7zm-210 56h7v7h-7zm112 0h7v7h-7zm-112 7h7v7h-7zm112 0h7v7h-7zm140 14h7v7h-7zm-259 7h7v7h-7zm245 14h7v7h-7zm-7 7h7v7h-7zm-273 14h7v7h-7zm-14 7h7v7h-7zm224 0h7v7h-7z"/>
<path fill="#707070" d="M909 591h7v7h-7zm84 0h7v7h-7zm252 0h7v7h-7zm-133 14h7v7h-7zm245 7h7v7h-7zm-7 7h7v7h-7zm-259 7h7v7h-7zm-126 49h7v7h-7zm-14 21h7v7h-7zm-7 7h7v7h-7zm357 14h7v7h-7zm-413 7h7v7h-7zm161 7h7v7h-7zm84 0h7v7h-7zm28 0h7v7h-7zm70 0h7v7h-7zm-252 7h7v7h-7zm245 0h7v7h-7zm-252 7h7v7h-7zm-14 56h7v7h-7zm-133 14h7v7h-7zm462 28h7v7h-7zm-224 63h7v7h-7zm-98 14h7v7h-7zm245 7h7v7h-7zm-112 14h7v7h-7zm182 7h7v7h-7zm-392 14h7v7h-7zm98 0h7v7h-7zm182 0h7v7h-7zm70 0h7v7h-7zm-175 7h7v7h-7zm14 14h7v7h-7zm-119 7h7v7h-7zm-119 7h7v7h-7zm112 7h7v7h-7zm-84 77h7v7h-7z"/>
<path fill="#747474" d="M1140 591h7v7h-7zm-133 7h7v7h-7zm168 0h7v7h-7zm84 0h7v7h-7zm-315 14h7v7h-7zm7 7h7v7h-7zm14 21h7v7h-7zm371 28h7v7h-7zm7 14h7v7h-7zm-70 28h14v7h-14zm-364 14h7v7h-7zm126 0h7v7h-7zm-210 14h7v7h-7zm133 28h7v7h-7zm252 0h7v7h-7zm-133 21h7v7h-7zm133 0h7v7h-7zm-371 7h7v7h-7zm336 35h7v7h-7zm-336 42h7v7h-7zm-7 14h7v7h-7zm140 0h7v7h-7zm-140 21h7v7h-7zm238 7h7v7h-7zm21 21h7v7h-7zm-154 14h7v7h-7zm252 0h7v7h-7zm84 0h7v7h-7zm-399 7h7v7h-7zm126 0h7v7h-7zm70 21h7v7h-7zm147 7h7v7h-7zm-266 42h7v7h-7zm-119 21h7v7h-7zm385 0h7v7h-7zm-287 35h7v7h-7zm77 0h7v7h-7zm112 0h7v7h-7zm168 0h7v7h-7z"/>
<path fill="#787878" d="M895 591h14v7h-14zm161 0h7v7h-7zm91 0h14v7h-14zm161 0h7v7h-7zm-434 7h7v7h-7zm231 14h7v7h-7zm-7 7h7v7h-7zm119 28h7v7h-7zm0 21h7v7h-7zm-343 49h7v7h-7zm21 7h7v7h-7zm161 14h7v7h-7zm7 7h7v7h-7zm-224 14h7v7h-7zm238 14h7v7h-7zm0 7h7v7h-7zm77 35h7v7h-7zm70 0h7v7h-7zm14 14h7v7h-7zm-203 7h7v7h-7zm147 0h7v7h-7zm119 0h7v7h-7zm-35 7h7v7h-7zm-189 21h7v7h-7zm140 14h7v7h-7zm119 7h7v7h-7zm-364 21h7v7h-7zm105 14h7v7h-7zm-119 7h7v7h-7zm126 0h7v7h-7zm119 7h7v7h-7zm-7 7h7v7h-7zm-287 21h7v7h-7zm322 7h7v7h-7zm-7 7h7v7h-7zm119 28h7v7h-7zm-105 63h7v7h-7zm-357 7h7v7h-7zm112 0h7v7h-7zm140 0h7v7h-7zm133 7h7v7h-7z"/>
<path fill="#7c7c7c" d="M986 584h7v7h-7zm252 0h7v7h-7zm-315 14h7v7h-7zm119 0h7v7h-7zm252 0h7v7h-7zm-84 35h7v7h-7zm-126 7h7v7h-7zm252 7h7v7h-7zm-126 35h7v7h-7zm-119 7h7v7h-7zm-168 28h7v7h-7zm329 0h7v7h-7zm-350 7h7v7h-7zm105 0h7v7h-7zm119 0h7v7h-7zm42 0h7v7h-7zm168 28h7v7h-7zm7 14h7v7h-7zm-133 7h7v7h-7zm0 7h7v7h-7zm133 7h7v7h-7zm-273 14h7v7h-7zm70 14h7v7h-7zm91 7h7v7h-7zm-364 21h7v7h-7zm413 0h7v7h-7zm-77 14h7v7h-7zm140 14h7v7h-7zm-280 14h7v7h-7zm-231 7h7v7h-7zm504 14h7v7h-7zm-119 7h7v7h-7zm-378 7h7v7h-7zm112 14h7v7h-7zm-7 7h7v7h-7zm308 14h7v7h-7zm-357 7h14v7h-14zm70 21h7v7h-7zm371 7h7v7h-7zm-252 7h7v7h-7zm-133 14h7v7h-7zm392 14h7v7h-7zm-504 7h7v7h-7zm119 7h7v7h-7zm119 7h7v7h-7zm-21 21h7v7h-7zm-140 7h7v7h-7zm252 0h7v7h-7zm133 0h7v7h-7zm-273 7h7v7h-7zm154 0h7v7h-7zm-322 7h7v7h-7z"/>
<path fill="#808080" d="M1126 598h7v7h-7zm-294 49h7v7h-7zm385 7h7v7h-7zm0 7h7v7h-7zm119 0h7v7h-7zm-504 7h7v7h-7zm518 21h7v7h-7zm-322 35h7v7h-7zm112 7h7v7h-7zm14 0h7v7h-7zm182 70h7v7h-7zm-189 14h7v7h-7zm-161 14h7v7h-7zm126 0h7v7h-7zm-112 7h7v7h-7zm189 7h7v7h-7zm84 0h7v7h-7zm-77 7h7v7h-7zm-224 42h7v7h-7zm-140 7h7v7h-7zm231 0h7v7h-7zm280 21h7v7h-7zm-308 35h7v7h-7zm84 0h7v7h-7zm14 7h7v7h-7zm175 0h7v7h-7zm-329 7h7v7h-7zm231 28h7v7h-7zm-259 21h7v7h-7zm259 14h7v7h-7zm-385 21h7v7h-7zm399 0h7v7h-7zm7 7h7v7h-7zm-217 21h14v7h-14zm259 0h14v7h-14zm-336 7h7v7h-7zm175 0h7v7h-7z"/>
<path fill="#848484" d="M1063 584h7v7h-7zm119 21h7v7h-7zm-343 28h7v7h-7zm504 0h7v7h-7zm-7 21h7v7h-7zm-371 14h7v7h-7zm119 7h7v7h-7zm-245 7h7v7h-7zm518 14h7v7h-7zm-238 21h7v7h-7zm-105 7h7v7h-7zm294 0h7v7h-7zm-315 7h7v7h-7zm154 0h7v7h-7zm70 21h7v7h-7zm126 21h7v7h-7zm0 7h7v7h-7zm-385 14h7v7h-7zm7 14h7v7h-7zm161 14h7v7h-7zm-245 14h7v7h-7zm49 7h7v7h-7zm-84 21h7v7h-7zm119 14h7v7h-7zm98 14h7v7h-7zm273 0h7v7h-7zm-364 7h7v7h-7zm364 0h7v7h-7zm-413 56h7v7h-7zm49 21h7v7h-7zm371 35h7v7h-7zm0 7h7v7h-7zm-259 14h7v7h-7zm252 7h7v7h-7zm-266 14h7v7h-7zm-7 7h7v7h-7z"/>
<path fill="#888888" d="M1315 584h7v7h-7zm-301 14h7v7h-7zm252 0h7v7h-7zm-301 49h7v7h-7zm-133 7h7v7h-7zm0 7h7v7h-7zm126 21h7v7h-7zm140 14h7v7h-7zm77 21h7v7h-7zm-154 7h7v7h-7zm49 35h7v7h-7zm-112 14h7v7h-7zm-119 14h7v7h-7zm378 14h7v7h-7zm-301 35h7v7h-7zm336 0h7v7h-7zm-392 14h7v7h-7zm7 98h7v7h-7zm140 7h7v7h-7zm287 0h7v7h-7zm-245 7h7v7h-7zm112 0h7v7h-7zm168 21h7v7h-7zm-497 7h7v7h-7zm7 14h7v7h-7zm413 70h7v7h-7zm-63 14h7v7h-7z"/>
<path fill="#8c8c8c" d="M1035 598h7v7h-7zm133 0h7v7h-7zm119 0h7v7h-7zm-420 7h7v7h-7zm336 21h7v7h-7zm0 63h7v7h-7zm-98 14h7v7h-7zm-238 7h7v7h-7zm245 0h7v7h-7zm182 7h7v7h-7zm-252 14h7v7h-7zm287 14h7v7h-7zm-364 14h7v7h-7zm-126 7h7v7h-7zm-7 35h7v7h-7zm231 7h7v7h-7zm-91 7h7v7h-7zm7 7h7v7h-7zm182 0h7v7h-7zm147 7h7v7h-7zm-280 7h7v7h-7zm-175 21h7v7h-7zm231 0h7v7h-7zm266 7h7v7h-7zm-280 14h7v7h-7zm-224 49h7v7h-7zm329 28h7v7h-7zm140 14h7v7h-7zm-350 77h7v7h-7zm21 21h7v7h-7zm-98 7h7v7h-7zm21 0h7v7h-7zm133 0h7v7h-7zm98 0h7v7h-7z"/>
<path fill="#909090" d="M1000 591h7v7h-7zm252 0h7v7h-7zm-371 7h7v7h-7zm392 0h7v7h-7zm-84 14h7v7h-7zm-231 21h7v7h-7zm7 21h7v7h-7zm0 7h7v7h-7zm-35 49h7v7h-7zm385 21h7v7h-7zm-483 21h7v7h-7zm126 28h7v7h-7zm0 7h7v7h-7zm371 21h7v7h-7zm-287 21h7v7h-7zm-35 7h7v7h-7zm350 21h7v7h-7zm-140 28h7v7h-7zm-252 28h7v7h-7zm385 14h7v7h-7zm-322 28h7v7h-7zm112 7h7v7h-7zm182 14h7v7h-7zm-364 21h7v7h-7zm-119 28h7v7h-7zm469 42h7v7h-7zm-147 7h7v7h-7z"/>
<path fill="#949494" d="M1021 598h14v7h-14zm259 0h7v7h-7zm-350 7h7v7h-7zm266 14h7v7h-7zm-350 7h7v7h-7zm238 21h7v7h-7zm259 28h7v7h-7zm-497 14h7v7h-7zm336 21h7v7h-7zm-301 7h7v7h-7zm378 0h7v7h-7zm-126 7h7v7h-7zm112 0h7v7h-7zm-259 14h7v7h-7zm336 0h7v7h-7zm-483 35h7v7h-7zm0 7h7v7h-7zm266 56h7v7h-7zm189 0h7v7h-7zm-357 14h7v7h-7zm21 21h7v7h-7zm252 0h7v7h-7zm-371 7h7v7h-7zm231 28h7v7h-7zm147 0h7v7h-7zm-364 28h7v7h-7zm7 7h7v7h-7zm21 14h7v7h-7zm133 0h7v7h-7zm140 7h7v7h-7zm-329 21h7v7h-7zm252 7h7v7h-7zm7 14h7v7h-7zm126 0h7v7h-7zm-371 7h7v7h-7zm490 35h7v7h-7zm-350 14h7v7h-7zm-84 14h14v7h-14zm105 0h7v7h-7zm147 0h7v7h-7zm-273 7h7v7h-7zm252 0h7v7h-7z"/>
<path fill="#989898" d="M1049 591h7v7h-7zm-133 7h7v7h-7zm217 0h7v7h-7zm-14 7h7v7h-7zm-259 7h7v7h-7zm-7 7h7v7h-7zm497 7h7v7h-7zm-259 7h7v7h-7zm119 7h7v7h-7zm-126 28h7v7h-7zm126 7h7v7h-7zm-259 14h7v7h-7zm-98 7h7v7h-7zm343 0h7v7h-7zm-336 7h7v7h-7zm329 0h7v7h-7zm-273 14h7v7h-7zm245 7h7v7h-7zm-182 21h7v7h-7zm245 0h7v7h-7zm-252 7h7v7h-7zm98 42h7v7h-7zm-14 21h7v7h-7zm266 0h7v7h-7zm-273 7h7v7h-7zm84 0h7v7h-7zm182 0h7v7h-7zm-427 14h7v7h-7zm133 0h7v7h-7zm70 14h7v7h-7zm252 28h7v7h-7zm-504 35h7v7h-7zm371 7h7v7h-7zm147 14h7v7h-7zm-245 14h7v7h-7zm-91 7h7v7h-7zm238 0h7v7h-7zm-266 7h7v7h-7zm154 0h7v7h-7zm98 0h7v7h-7zm-28 28h7v7h-7zm119 7h7v7h-7zm-497 21h7v7h-7zm245 7h7v7h-7zm126 0h7v7h-7zm-378 14h7v7h-7zm140 14h7v7h-7zm182 21h7v7h-7zm140 0h7v7h-7zm-371 7h7v7h-7z"/>
<path fill="#9c9c9c" d="M1301 591h7v7h-7zm-301 140h7v7h-7zm49 7h7v7h-7zm14 14h7v7h-7zm273 7h7v7h-7zm-511 49h7v7h-7zm343 21h7v7h-7zm-259 7h7v7h-7zm105 0h7v7h-7zm84 7h7v7h-7zm-154 14h7v7h-7zm7 7h7v7h-7zm126 7h7v7h-7zm140 21h7v7h-7zm0 7h7v7h-7zm126 14h7v7h-7zm-413 35h7v7h-7zm357 7h7v7h-7zm-231 14h7v7h-7zm28 42h7v7h-7zm-126 21h7v7h-7zm119 7h7v7h-7zm140 0h7v7h-7zm105 14h7v7h-7zm-7 7h7v7h-7zm-140 21h7v7h-7z"/>
<path fill="#a0a0a0" d="M937 612h7v7h-7zm420 7h7v7h-7zm-406 7h7v7h-7zm-112 14h7v7h-7zm504 0h7v7h-7zm-259 14h7v7h-7zm0 7h7v7h-7zm-245 14h7v7h-7zm252 7h7v7h-7zm-147 14h7v7h-7zm-7 7h7v7h-7zm350 14h7v7h-7zm-252 14h7v7h-7zm203 0h7v7h-7zm-413 14h7v7h-7zm231 0h7v7h-7zm161 14h7v7h-7zm-147 7h7v7h-7zm266 28h7v7h-7zm-371 7h7v7h-7zm259 7h7v7h-7zm-70 14h7v7h-7zm-35 7h7v7h-7zm126 0h7v7h-7zm14 7h7v7h-7zm-385 7h7v7h-7zm91 42h7v7h-7zm105 0h7v7h-7zm7 28h7v7h-7zm-119 7h7v7h-7zm-42 35h7v7h-7zm154 28h7v7h-7zm140 28h7v7h-7zm-126 7h7v7h-7zm126 0h7v7h-7zm126 14h7v7h-7zm-287 35h7v7h-7zm196 0h7v7h-7zm14 7h7v7h-7z"/>
<path fill="#a4a4a4" d="M993 584h7v7h-7zm252 0h7v7h-7zm-357 14h7v7h-7zm273 0h7v7h-7zm-217 21h7v7h-7zm154 7h7v7h-7zm168 91h7v7h-7zm-126 7h7v7h-7zm91 14h7v7h-7zm-266 28h7v7h-7zm252 28h7v7h-7zm-224 35h7v7h-7zm-98 7h14v7h-14zm189 84h7v7h-7zm21 21h7v7h-7zm77 7h7v7h-7zm-56 7h7v7h-7zm140 0h7v7h-7zm35 7h7v7h-7zm-63 7h7v7h-7zm-175 7h7v7h-7zm-28 98h7v7h-7z"/>
<path fill="#a8a8a8" d="M909 598h7v7h-7zm231 0h7v7h-7zm35 7h7v7h-7zm-63 7h7v7h-7zm231 56h7v7h-7zm-385 7h7v7h-7zm392 7h7v7h-7zm-462 35h7v7h-7zm238 0h7v7h-7zm28 7h7v7h-7zm147 0h7v7h-7zm-161 98h14v7h-14zm147 14h7v7h-7zm-364 7h7v7h-7zm-84 42h7v7h-7zm308 0h14v7h-14zm-7 7h21v7h-21zm-70 7h7v7h-7zm70 0h21v7h-21zm-175 7h7v7h-7zm182 0h14v7h-14zm-56 21h7v7h-7zm7 7h7v7h-7zm-210 21h7v7h-7zm392 0h7v7h-7zm-238 7h7v7h-7zm182 21h7v7h-7zm-259 7h7v7h-7zm-133 7h7v7h-7zm126 7h7v7h-7zm-133 42h7v7h-7zm42 42h7v7h-7zm252 0h7v7h-7z"/>
<path fill="#acacac" d="M1007 591h7v7h-7zm252 0h7v7h-7zm-105 7h7v7h-7zm-280 7h7v7h-7zm231 14h7v7h-7zm-147 21h7v7h-7zm252 7h7v7h-7zm0 21h7v7h-7zm-301 49h7v7h-7zm259 0h7v7h-7zm105 0h14v7h-14zm-126 7h7v7h-7zm-140 7h7v7h-7zm63 42h7v7h-7zm0 14h7v7h-7zm-238 7h7v7h-7zm399 21h7v7h-7zm7 7h7v7h-7zm-63 14h7v7h-7zm28 28h7v7h-7zm-357 7h7v7h-7zm294 14h7v7h-7zm21 0h7v7h-7zm-91 7h7v7h-7zm63 0h7v7h-7zm28 0h7v7h-7zm-28 7h7v7h-7zm28 0h7v7h-7zm-322 7h7v7h-7zm301 0h7v7h-7zm21 0h7v7h-7zm-210 21h7v7h-7zm252 0h7v7h-7zm-266 14h7v7h-7zm-63 7h7v7h-7zm399 7h7v7h-7zm-287 14h7v7h-7zm245 7h7v7h-7zm-273 49h7v7h-7zm112 21h7v7h-7zm154 0h7v7h-7zm14 14h7v7h-7zm-231 14h7v7h-7zm280 0h7v7h-7zm-357 14h7v7h-7z"/>
<path fill="#b0b0b0" d="M1056 584h7v7h-7zm252 0h7v7h-7zm-413 14h14v7h-14zm252 0h7v7h-7zm56 35h7v7h-7zm140 14h7v7h-7zm-140 35h7v7h-7zm-105 7h7v7h-7zm-224 21h7v7h-7zm21 7h7v7h-7zm133 14h7v7h-7zm-35 7h7v7h-7zm336 14h7v7h-7zm-497 7h7v7h-7zm385 7h7v7h-7zm119 0h7v7h-7zm-266 14h7v7h-7zm266 7h7v7h-7zm-35 42h7v7h-7zm-35 7h7v7h-7zm-182 28h7v7h-7zm266 7h7v7h-7zm-210 7h21v7h-21zm-7 7h7v7h-7zm210 0h7v7h-7zm-378 7h7v7h-7zm203 0h7v7h-7zm-203 7h7v7h-7zm203 0h7v7h-7zm-35 7h7v7h-7zm210 0h7v7h-7zm-203 7h21v7h-21zm-294 7h7v7h-7zm98 14h7v7h-7zm252 0h7v7h-7zm-7 7h7v7h-7zm-280 14h7v7h-7zm259 0h7v7h-7zm161 35h7v7h-7zm7 14h7v7h-7zm-105 49h7v7h-7zm-175 7h7v7h-7zm-63 7h7v7h-7zm-112 14h7v7h-7zm252 0h7v7h-7zm49 7h7v7h-7z"/>
<path fill="#b4b4b4" d="M1042 591h7v7h-7zm252 0h7v7h-7zm-371 14h7v7h-7zm168 35h7v7h-7zm-252 7h7v7h-7zm504 14h7v7h-7zm-504 7h7v7h-7zm518 21h7v7h-7zm-434 21h7v7h-7zm196 0h7v7h-7zm-217 7h7v7h-7zm350 7h7v7h-7zm-238 7h7v7h-7zm203 56h7v7h-7zm-252 7h7v7h-7zm98 7h7v7h-7zm266 0h7v7h-7zm-357 7h7v7h-7zm14 14h7v7h-7zm49 7h7v7h-7zm245 7h7v7h-7zm-413 14h7v7h-7zm266 28h7v7h-7zm28 0h7v7h-7zm49 0h7v7h-7zm-84 7h7v7h-7zm42 0h7v7h-7zm-329 7h7v7h-7zm287 0h7v7h-7zm-287 7h7v7h-7zm287 0h7v7h-7zm42 7h7v7h-7zm-35 7h7v7h-7zm28 0h7v7h-7zm189 7h7v7h-7zm-455 35h7v7h-7zm105 7h7v7h-7zm252 0h7v7h-7zm56 7h7v7h-7zm-329 7h7v7h-7zm-7 7h7v7h-7zm105 14h7v7h-7zm-119 14h7v7h-7zm378 14h7v7h-7zm-504 7h7v7h-7zm133 7h7v7h-7zm98 14h7v7h-7zm238 14h7v7h-7zm-273 7h7v7h-7zm238 0h7v7h-7zm-350 7h7v7h-7zm252 0h7v7h-7z"/>
<path fill="#b8b8b8" d="M1126 605h7v7h-7zm56 7h7v7h-7zm-336 21h7v7h-7zm364 21h7v7h-7zm133 0h7v7h-7zm-133 7h7v7h-7zm-119 14h7v7h-7zm-245 7h7v7h-7zm259 14h7v7h-7zm7 7h7v7h-7zm63 7h7v7h-7zm-154 21h7v7h-7zm287 0h7v7h-7zm-266 7h7v7h-7zm-70 21h7v7h-7zm91 0h7v7h-7zm-98 14h7v7h-7zm371 0h7v7h-7zm-210 56h7v7h-7zm-14 7h7v7h-7zm161 0h7v7h-7zm-91 7h7v7h-7zm-322 14h7v7h-7zm-7 7h7v7h-7zm287 7h14v7h-14zm-182 7h7v7h-7zm119 0h7v7h-7zm266 14h7v7h-7zm0 7h7v7h-7zm-217 7h7v7h-7zm84 7h7v7h-7zm-63 7h14v7h-14zm-245 35h7v7h-7zm315 42h7v7h-7zm119 14h7v7h-7zm-378 7h7v7h-7zm119 14h7v7h-7zm140 0h7v7h-7zm112 7h7v7h-7zm-315 35h14v7h-14zm259 0h14v7h-14z"/>
<path fill="#bcbcbc" d="M1266 591h7v7h-7zm-399 21h7v7h-7zm329 14h7v7h-7zm154 7h7v7h-7zm-392 14h7v7h-7zm-63 7h14v7h-14zm245 0h21v7h-21zm-245 7h14v7h-14zm245 0h21v7h-21zm-182 7h7v7h-7zm28 77h7v7h-7zm336 0h7v7h-7zm-98 7h7v7h-7zm-7 21h7v7h-7zm56 0h14v7h-14zm-56 7h7v7h-7zm49 0h21v7h-21zm70 0h7v7h-7zm-504 7h7v7h-7zm147 28h7v7h-7zm21 14h7v7h-7zm161 0h7v7h-7zm-280 14h7v7h-7zm49 7h7v7h-7zm266 7h7v7h-7zm161 7h7v7h-7zm-224 7h7v7h-7zm21 0h7v7h-7zm-28 7h7v7h-7zm42 0h7v7h-7zm-273 14h21v7h-21zm224 0h7v7h-7zm56 0h7v7h-7zm-280 7h21v7h-21zm224 0h7v7h-7zm56 0h7v7h-7zm-98 7h7v7h-7zm91 7h7v7h-7zm-28 7h7v7h-7zm-287 7h7v7h-7zm14 14h7v7h-7zm56 7h7v7h-7zm210 7h7v7h-7zm-98 7h7v7h-7zm280 14h7v7h-7zm7 7h7v7h-7zm-497 7h7v7h-7zm7 14h7v7h-7zm182 7h14v7h-14zm252 0h21v7h-21zm-252 7h14v7h-14zm252 0h21v7h-21zm70 0h7v7h-7z"/>
<path fill="#c0c0c0" d="M1014 591h7v7h-7zm21 0h7v7h-7zm252 0h7v7h-7zm-98 28h7v7h-7zm-238 14h7v7h-7zm-56 14h14v7h-14zm252 0h14v7h-14zm-308 7h7v7h-7zm49 0h7v7h-7zm21 0h7v7h-7zm252 0h7v7h-7zm-322 7h7v7h-7zm49 0h7v7h-7zm21 0h7v7h-7zm252 0h7v7h-7zm-266 7h14v7h-14zm245 0h21v7h-21zm-189 14h7v7h-7zm245 7h7v7h-7zm-329 14h7v7h-7zm315 0h7v7h-7zm-49 14h7v7h-7zm28 0h7v7h-7zm133 7h7v7h-7zm21 14h7v7h-7zm-336 14h7v7h-7zm-147 14h7v7h-7zm441 0h14v7h-14zm-7 7h7v7h-7zm21 0h7v7h-7zm-322 7h7v7h-7zm322 0h7v7h-7zm-322 7h7v7h-7zm301 0h21v7h-21zm-441 14h7v7h-7zm399 0h7v7h-7zm-168 7h7v7h-7zm266 0h7v7h-7zm-14 14h7v7h-7zm-56 7h7v7h-7zm-336 14h7v7h-7zm273 7h7v7h-7zm-98 7h7v7h-7zm-196 28h14v7h-14zm224 0h7v7h-7zm56 0h7v7h-7zm-287 7h7v7h-7zm0 7h7v7h-7zm7 7h21v7h-21zm280 0h7v7h-7zm-217 7h7v7h-7zm168 0h7v7h-7zm7 7h7v7h-7zm28 0h7v7h-7zm196 7h7v7h-7zm-497 7h7v7h-7zm259 14h7v7h-7zm175 14h7v7h-7zm-245 7h7v7h-7zm-35 35h14v7h-14zm259 0h14v7h-14zm-266 7h7v7h-7zm21 0h7v7h-7zm259 0h7v7h-7zm-280 7h7v7h-7zm21 0h7v7h-7zm259 0h7v7h-7zm-455 7h7v7h-7zm182 0h21v7h-21zm252 0h21v7h-21zm-294 21h7v7h-7zm14 14h7v7h-7zm322 0h7v7h-7zm-266 7h7v7h-7zm210 0h7v7h-7zm-364 14h7v7h-7zm252 0h7v7h-7z"/>
<path fill="#c4c4c4" d="M1000 584h7v7h-7zm252 0h7v7h-7zm21 7h7v7h-7zm-392 14h7v7h-7zm287 0h7v7h-7zm-238 7h7v7h-7zm-70 7h7v7h-7zm-7 7h7v7h-7zm35 21h7v7h-7zm21 0h7v7h-7zm182 0h7v7h-7zm49 0h7v7h-7zm21 0h7v7h-7zm-245 7h7v7h-7zm42 0h7v7h-7zm175 0h7v7h-7zm-217 7h7v7h-7zm42 0h7v7h-7zm175 0h7v7h-7zm-245 7h7v7h-7zm21 0h7v7h-7zm252 0h7v7h-7zm189 7h7v7h-7zm-497 14h7v7h-7zm7 7h7v7h-7zm329 0h7v7h-7zm-259 7h7v7h-7zm315 28h7v7h-7zm-245 7h7v7h-7zm49 7h7v7h-7zm-224 7h7v7h-7zm231 0h7v7h-7zm210 14h7v7h-7zm21 0h7v7h-7zm-28 7h7v7h-7zm0 7h7v7h-7zm28 7h7v7h-7zm-238 28h7v7h-7zm266 0h7v7h-7zm-273 7h7v7h-7zm63 21h7v7h-7zm-168 14h7v7h-7zm14 14h7v7h-7zm175 0h7v7h-7zm35 0h7v7h-7zm-315 7h7v7h-7zm63 7h7v7h-7zm7 7h7v7h-7zm0 7h7v7h-7zm-28 7h7v7h-7zm231 0h7v7h-7zm-238 42h7v7h-7zm280 7h7v7h-7zm-154 7h7v7h-7zm63 28h7v7h-7zm-105 7h7v7h-7zm42 7h7v7h-7zm21 0h7v7h-7zm49 0h7v7h-7zm189 0h7v7h-7zm21 0h7v7h-7zm-455 7h7v7h-7zm203 0h7v7h-7zm224 0h7v7h-7zm-224 7h7v7h-7zm224 0h7v7h-7zm-252 7h7v7h-7zm280 0h7v7h-7zm-14 7h7v7h-7zm49 14h7v7h-7zm-343 7h7v7h-7zm-70 28h7v7h-7zm252 0h7v7h-7zm-287 7h7v7h-7z"/>
<path fill="#c8c8c8" d="M1049 584h7v7h-7zm-28 7h14v7h-14zm259 0h7v7h-7zm-364 14h7v7h-7zm203 7h7v7h-7zm-175 14h7v7h-7zm413 0h7v7h-7zm-259 7h7v7h-7zm-203 7h14v7h-14zm245 0h21v7h-21zm63 0h7v7h-7zm-287 7h7v7h-7zm217 0h7v7h-7zm-252 7h7v7h-7zm287 0h7v7h-7zm-287 7h7v7h-7zm287 0h7v7h-7zm-252 7h7v7h-7zm175 0h7v7h-7zm42 0h7v7h-7zm-238 7h21v7h-21zm245 0h21v7h-21zm63 0h7v7h-7zm-259 14h7v7h-7zm-7 7h7v7h-7zm-56 14h7v7h-7zm35 0h7v7h-7zm224 7h7v7h-7zm119 7h7v7h-7zm-224 14h7v7h-7zm196 7h7v7h-7zm35 14h21v7h-21zm63 0h7v7h-7zm-70 7h7v7h-7zm-427 7h7v7h-7zm462 0h7v7h-7zm-462 7h7v7h-7zm462 0h7v7h-7zm-35 7h7v7h-7zm-196 7h7v7h-7zm203 0h21v7h-21zm-133 35h7v7h-7zm161 0h7v7h-7zm-196 21h7v7h-7zm-154 14h7v7h-7zm196 0h7v7h-7zm-56 7h7v7h-7zm-189 7h21v7h-21zm224 0h7v7h-7zm56 0h7v7h-7zm175 0h7v7h-7zm-462 7h7v7h-7zm28 0h7v7h-7zm161 0h7v7h-7zm133 0h7v7h-7zm-329 7h7v7h-7zm0 7h7v7h-7zm196 0h7v7h-7zm-161 7h7v7h-7zm294 0h7v7h-7zm-364 7h7v7h-7zm49 0h21v7h-21zm189 0h7v7h-7zm91 0h7v7h-7zm-49 7h7v7h-7zm42 0h7v7h-7zm-28 7h21v7h-21zm35 21h7v7h-7zm-147 14h7v7h-7zm231 0h7v7h-7zm-14 7h7v7h-7zm-189 7h7v7h-7zm168 14h7v7h-7zm-210 7h14v7h-14zm252 0h21v7h-21zm63 0h7v7h-7zm-294 7h7v7h-7zm182 0h7v7h-7zm42 0h7v7h-7zm-259 7h7v7h-7zm294 0h7v7h-7zm-462 7h7v7h-7zm168 0h7v7h-7zm294 0h7v7h-7zm-259 7h7v7h-7zm42 0h7v7h-7zm140 0h7v7h-7zm42 0h7v7h-7zm-252 7h28v7h-28zm259 0h7v7h-7zm14 0h7v7h-7zm-455 7h7v7h-7zm245 0h7v7h-7zm154 0h7v7h-7zm91 14h7v7h-7zm-315 14h7v7h-7zm294 0h7v7h-7zm-399 14h14v7h-14zm252 0h14v7h-14zm-224 7h7v7h-7zm203 0h7v7h-7z"/>
<path fill="#cccccc" d="M1301 584h7v7h-7zm-168 21h7v7h-7zm-196 14h7v7h-7zm175 0h7v7h-7zm-7 7h7v7h-7zm-259 14h7v7h-7zm42 0h7v7h-7zm21 0h7v7h-7zm224 0h7v7h-7zm28 0h7v7h-7zm189 0h7v7h-7zm-469 7h7v7h-7zm287 0h7v7h-7zm-245 7h7v7h-7zm168 0h7v7h-7zm35 0h7v7h-7zm-203 7h7v7h-7zm168 0h7v7h-7zm35 0h7v7h-7zm-245 7h7v7h-7zm287 0h7v7h-7zm-322 7h7v7h-7zm42 0h7v7h-7zm245 0h7v7h-7zm28 0h7v7h-7zm-63 7h7v7h-7zm49 0h7v7h-7zm-21 28h7v7h-7zm21 7h14v7h-14zm140 7h7v7h-7zm-49 14h7v7h-7zm49 21h7v7h-7zm-315 7h7v7h-7zm91 0h7v7h-7zm231 0h7v7h-7zm-42 7h7v7h-7zm0 7h7v7h-7zm42 7h7v7h-7zm-35 7h7v7h-7zm28 0h7v7h-7zm42 0h7v7h-7zm-357 7h7v7h-7zm259 7h7v7h-7zm14 14h7v7h-7zm-91 7h7v7h-7zm14 7h7v7h-7zm-280 7h7v7h-7zm21 0h7v7h-7zm-35 7h7v7h-7zm259 14h7v7h-7zm14 0h7v7h-7zm-28 7h7v7h-7zm49 0h7v7h-7zm35 0h7v7h-7zm-315 7h7v7h-7zm-7 7h7v7h-7zm77 0h7v7h-7zm154 0h7v7h-7zm70 0h7v7h-7zm-259 7h7v7h-7zm154 0h7v7h-7zm35 0h7v7h-7zm70 0h7v7h-7zm-259 7h7v7h-7zm189 0h7v7h-7zm70 0h7v7h-7zm-301 7h7v7h-7zm42 0h7v7h-7zm259 0h7v7h-7zm-294 7h7v7h-7zm28 0h7v7h-7zm203 0h7v7h-7zm231 0h7v7h-7zm-399 7h7v7h-7zm140 0h7v7h-7zm112 0h7v7h-7zm-42 7h7v7h-7zm-231 14h7v7h-7zm182 0h7v7h-7zm-196 7h7v7h-7zm224 7h21v7h-21zm-126 7h14v7h-14zm273 0h7v7h-7zm-294 7h7v7h-7zm245 7h7v7h-7zm-175 7h7v7h-7zm-56 14h7v7h-7zm21 0h7v7h-7zm231 0h7v7h-7zm28 0h7v7h-7zm-287 7h7v7h-7zm294 0h7v7h-7zm-252 7h7v7h-7zm35 0h7v7h-7zm140 0h7v7h-7zm35 0h7v7h-7zm-210 7h7v7h-7zm35 0h7v7h-7zm140 0h7v7h-7zm35 0h7v7h-7zm-252 7h7v7h-7zm294 0h7v7h-7zm-329 7h7v7h-7zm70 0h7v7h-7zm224 0h7v7h-7zm28 0h7v7h-7zm42 0h7v7h-7zm-280 28h7v7h-7zm196 0h7v7h-7zm-70 28h7v7h-7z"/>
<path fill="#d0d0d0" d="M888 605h7v7h-7zm21 0h7v7h-7zm231 0h7v7h-7zm21 0h7v7h-7zm14 7h7v7h-7zm-280 21h14v7h-14zm245 0h21v7h-21zm-259 7h7v7h-7zm35 0h7v7h-7zm35 0h7v7h-7zm217 0h7v7h-7zm-245 7h7v7h-7zm203 0h7v7h-7zm-252 7h7v7h-7zm301 0h7v7h-7zm-301 7h7v7h-7zm301 0h7v7h-7zm-301 7h7v7h-7zm49 0h7v7h-7zm203 0h7v7h-7zm224 0h7v7h-7zm-469 7h7v7h-7zm35 0h7v7h-7zm35 0h7v7h-7zm217 0h7v7h-7zm-273 7h21v7h-21zm245 0h7v7h-7zm14 0h14v7h-14zm203 0h7v7h-7zm-252 7h7v7h-7zm14 14h7v7h-7zm-231 7h7v7h-7zm280 0h7v7h-7zm98 14h7v7h-7zm35 7h7v7h-7zm-294 7h7v7h-7zm21 0h7v7h-7zm-35 7h7v7h-7zm273 7h21v7h-21zm-42 7h7v7h-7zm35 0h7v7h-7zm35 0h7v7h-7zm-42 7h7v7h-7zm-189 7h7v7h-7zm238 0h7v7h-7zm0 7h7v7h-7zm-238 7h7v7h-7zm189 0h7v7h-7zm-427 7h7v7h-7zm399 0h7v7h-7zm70 0h7v7h-7zm-28 7h21v7h-21zm-28 14h7v7h-7zm-231 14h7v7h-7zm21 0h7v7h-7zm112 0h14v7h-14zm119 0h7v7h-7zm28 0h7v7h-7zm-168 7h7v7h-7zm-224 7h14v7h-14zm28 7h7v7h-7zm203 14h7v7h-7zm28 0h7v7h-7zm-301 7h7v7h-7zm42 0h14v7h-14zm21 7h7v7h-7zm196 0h7v7h-7zm-266 7h7v7h-7zm77 0h7v7h-7zm-49 7h7v7h-7zm336 0h7v7h-7zm-336 7h7v7h-7zm336 0h7v7h-7zm-364 7h7v7h-7zm112 0h7v7h-7zm154 0h7v7h-7zm-231 7h7v7h-7zm14 7h21v7h-21zm280 0h7v7h-7zm-231 7h7v7h-7zm154 0h7v7h-7zm35 0h7v7h-7zm63 0h7v7h-7zm-259 7h7v7h-7zm168 0h7v7h-7zm-231 7h7v7h-7zm308 0h7v7h-7zm-294 7h7v7h-7zm378 14h7v7h-7zm14 0h7v7h-7zm-238 7h7v7h-7zm259 0h7v7h-7zm-315 7h7v7h-7zm245 7h7v7h-7zm-259 7h7v7h-7zm42 0h14v7h-14zm252 0h21v7h-21zm-441 7h7v7h-7zm175 0h7v7h-7zm35 0h7v7h-7zm259 0h7v7h-7zm-329 7h7v7h-7zm77 0h7v7h-7zm210 0h7v7h-7zm-259 7h7v7h-7zm308 0h7v7h-7zm-308 7h7v7h-7zm308 0h7v7h-7zm-308 7h7v7h-7zm49 0h7v7h-7zm210 0h7v7h-7zm-252 7h7v7h-7zm294 0h7v7h-7zm-287 7h28v7h-28zm259 0h28v7h-28zm-203 7h7v7h-7zm168 0h7v7h-7zm-175 7h7v7h-7zm182 0h7v7h-7zm-203 14h7v7h-7zm224 0h7v7h-7z"/>
<path fill="#d4d4d4" d="M1007 584h7v7h-7zm35 0h7v7h-7zm217 0h7v7h-7zm35 0h7v7h-7zm-399 21h14v7h-14zm252 0h14v7h-14zm-273 7h7v7h-7zm49 0h7v7h-7zm203 0h7v7h-7zm-259 7h7v7h-7zm315 0h7v7h-7zm7 7h7v7h-7zm-336 7h7v7h-7zm35 0h7v7h-7zm21 0h14v7h-14zm224 0h7v7h-7zm28 0h7v7h-7zm35 0h7v7h-7zm161 0h7v7h-7zm-434 7h7v7h-7zm175 0h7v7h-7zm28 0h7v7h-7zm-280 7h7v7h-7zm28 0h7v7h-7zm301 0h7v7h-7zm28 0h7v7h-7zm147 0h7v7h-7zm-420 7h7v7h-7zm189 0h7v7h-7zm84 0h7v7h-7zm147 0h7v7h-7zm-420 7h7v7h-7zm189 0h7v7h-7zm84 0h7v7h-7zm147 0h7v7h-7zm-504 7h7v7h-7zm273 0h7v7h-7zm56 0h7v7h-7zm28 0h7v7h-7zm-329 7h7v7h-7zm49 0h7v7h-7zm175 0h7v7h-7zm28 0h7v7h-7zm-273 7h7v7h-7zm35 0h7v7h-7zm28 0h7v7h-7zm217 0h7v7h-7zm63 0h7v7h-7zm-7 7h7v7h-7zm-77 7h7v7h-7zm-238 7h7v7h-7zm49 0h7v7h-7zm252 0h7v7h-7zm-280 7h21v7h-21zm238 0h7v7h-7zm140 14h14v7h-14zm-21 7h7v7h-7zm-238 7h14v7h-14zm294 0h7v7h-7zm-266 7h7v7h-7zm273 0h7v7h-7zm-329 7h7v7h-7zm63 0h7v7h-7zm210 0h7v7h-7zm28 0h7v7h-7zm35 0h7v7h-7zm-497 7h7v7h-7zm154 0h7v7h-7zm77 0h7v7h-7zm196 0h7v7h-7zm-28 7h7v7h-7zm77 0h7v7h-7zm28 0h7v7h-7zm-357 7h7v7h-7zm273 0h7v7h-7zm84 0h7v7h-7zm-266 7h7v7h-7zm182 0h7v7h-7zm84 0h7v7h-7zm-105 7h7v7h-7zm77 0h7v7h-7zm28 0h7v7h-7zm-77 7h7v7h-7zm-196 7h7v7h-7zm203 0h7v7h-7zm28 0h7v7h-7zm35 0h7v7h-7zm-14 14h7v7h-7zm-315 7h7v7h-7zm308 0h7v7h-7zm-35 7h21v7h-21zm-399 28h7v7h-7zm-7 7h7v7h-7zm231 0h7v7h-7zm28 0h7v7h-7zm-231 7h7v7h-7zm21 0h14v7h-14zm203 0h7v7h-7zm245 0h7v7h-7zm-476 7h7v7h-7zm42 0h7v7h-7zm28 0h7v7h-7zm133 0h7v7h-7zm98 0h7v7h-7zm-308 7h7v7h-7zm476 0h7v7h-7zm-504 7h7v7h-7zm84 0h7v7h-7zm28 0h7v7h-7zm147 0h7v7h-7zm84 0h7v7h-7zm161 0h7v7h-7zm-504 7h7v7h-7zm84 0h7v7h-7zm28 0h7v7h-7zm147 0h7v7h-7zm84 0h7v7h-7zm161 0h7v7h-7zm-476 7h7v7h-7zm56 0h7v7h-7zm154 0h7v7h-7zm266 0h7v7h-7zm-427 7h7v7h-7zm189 0h7v7h-7zm70 0h7v7h-7zm-329 7h7v7h-7zm35 0h7v7h-7zm28 0h7v7h-7zm203 0h7v7h-7zm238 0h7v7h-7zm-497 7h7v7h-7zm266 0h7v7h-7zm42 0h7v7h-7zm-301 7h7v7h-7zm273 0h21v7h-21zm49 0h7v7h-7zm-294 14h21v7h-21zm231 0h7v7h-7zm42 0h7v7h-7zm105 14h7v7h-7zm-273 7h7v7h-7zm252 0h7v7h-7zm56 7h7v7h-7zm-329 7h7v7h-7zm336 0h7v7h-7zm-308 7h7v7h-7zm21 0h14v7h-14zm231 0h7v7h-7zm28 0h7v7h-7zm35 0h7v7h-7zm-280 7h7v7h-7zm28 0h7v7h-7zm154 0h7v7h-7zm28 0h7v7h-7zm-427 7h7v7h-7zm168 0h7v7h-7zm308 0h7v7h-7zm28 0h7v7h-7zm-364 7h7v7h-7zm84 0h7v7h-7zm196 0h7v7h-7zm84 0h7v7h-7zm-364 7h7v7h-7zm84 0h7v7h-7zm196 0h7v7h-7zm84 0h7v7h-7zm-364 7h7v7h-7zm280 0h7v7h-7zm56 0h7v7h-7zm28 0h7v7h-7zm-504 7h7v7h-7zm168 0h7v7h-7zm49 0h7v7h-7zm28 0h7v7h-7zm154 0h7v7h-7zm28 0h7v7h-7zm-280 7h7v7h-7zm28 0h7v7h-7zm35 0h7v7h-7zm224 0h7v7h-7zm63 0h7v7h-7zm-336 14h7v7h-7zm7 7h7v7h-7zm308 0h7v7h-7zm-294 7h28v7h-28zm259 0h28v7h-28zm-385 21h7v7h-7zm35 0h7v7h-7zm217 0h7v7h-7zm35 0h7v7h-7z"/>
<path fill="#dcdcdc" d="M979 780h28v7h-28zm-7 7h7v7h-7zm35 0h7v7h-7zm14 7h7v7h-7zm7 7h7v7h-7zm7 7h7v7h-7zm0 14h7v7h-7zm-21 7h14v7h-14zm112 7h7v7h-7zm35 0h7v7h-7zm-42 7h7v7h-7zm0 7h7v7h-7zm7 7h14v7h-14zm35 7h7v7h-7zm35 0h7v7h-7zm0 7h7v7h-7z"/>
<path fill="#e0e0e0" d="M979 787h7v7h-7zm21 0h7v7h-7zm14 7h7v7h-7zm-35 7h7v7h-7zm56 14h7v7h-7zm98 21h28v7h-28zm-7 7h7v7h-7zm49 0h7v7h-7zm-49 7h7v7h-7zm14 7h7v7h-7zm42 14h14v7h-14z"/>
<path fill="#e4e4e4" d="M986 787h14v7h-14zm-7 7h7v7h-7zm42 7h7v7h-7zm7 7h7v7h-7zm105 35h7v7h-7zm0 7h7v7h-7zm14 7h7v7h-7zm21 7h7v7h-7z"/>
<path fill="#e8e8e8" d="M986 794h7v7h-7zm21 0h7v7h-7zm-21 14h7v7h-7zm14 14h7v7h-7zm182 28h7v7h-7zm7 7h7v7h-7zm0 7h7v7h-7z"/>
<path fill="#ececec" d="M993 794h14v7h-14zm-7 7h7v7h-7zm28 0h7v7h-7zm7 7h7v7h-7zm-28 7h7v7h-7zm35 0h7v7h-7zm0 7h7v7h-7zm112 21h7v7h-7zm28 0h7v7h-7zm-28 7h7v7h-7zm35 14h14v7h-14z"/>
<path fill="#f0f0f0" d="M1147 843h21v7h-21zm7 14h7v7h-7z"/>
<path fill="#f4f4f4" d="M993 801h7v7h-7zm14 0h7v7h-7zm-14 7h7v7h-7zm14 14h7v7h-7zm140 28h7v7h-7zm35 7h7v7h-7z"/>
<path fill="#f8f8f8" d="M1000 801h7v7h-7zm14 7h7v7h-7zm-14 7h7v7h-7zm21 0h7v7h-7zm-7 7h14v7h-14zm161 28h7v7h-7zm-14 7h7v7h-7zm14 0h7v7h-7z"/>
<path fill="#fcfcfc" d="M1000 808h7v7h-7zm154 42h21v7h-21zm14 7h7v7h-7z"/>
<path fill="#ffffff" d="M1007 808h7v7h-7zm0 7h14v7h-14z"/></g></g>
<rect x="839.7" y="598.3" width="505.3" height="481.9" fill="none" stroke="#262626" stroke-width="1.2"/>
<path d="M902.9 598.3v6 M902.9 1080.2v-6 M839.7 658.5h6 M1345.0 658.5h-6 M966.0 598.3v6 M966.0 1080.2v-6 M839.7 718.8h6 M1345.0 718.8h-6 M1029.2 598.3v6 M1029.2 1080.2v-6 M839.7 779.0h6 M1345.0 779.0h-6 M1092.3 598.3v6 M1092.3 1080.2v-6 M839.7 839.2h6 M1345.0 839.2h-6 M1155.5 598.3v6 M1155.5 1080.2v-6 M839.7 899.5h6 M1345.0 899.5h-6 M1218.7 598.3v6 M1218.7 1080.2v-6 M839.7 959.7h6 M1345.0 959.7h-6 M1281.8 598.3v6 M1281.8 1080.2v-6 M839.7 1020.0h6 M1345.0 1020.0h-6" stroke="#262626" stroke-width="1.1" fill="none"/>
<g font-family="Liberation Sans" font-size="18.5" fill="#262626"><text x="839.7" y="1103.4" text-anchor="middle">-2</text><text x="833.2" y="604.9" text-anchor="end">-2</text><text x="902.9" y="1103.4" text-anchor="middle">-1.5</text><text x="833.2" y="665.1" text-anchor="end">-1.5</text><text x="966.0" y="1103.4" text-anchor="middle">-1</text><text x="833.2" y="725.4" text-anchor="end">-1</text><text x="1029.2" y="1103.4" text-anchor="middle">-0.5</text><text x="833.2" y="785.6" text-anchor="end">-0.5</text><text x="1092.3" y="1103.4" text-anchor="middle">0</text><text x="833.2" y="845.9" text-anchor="end">0</text><text x="1155.5" y="1103.4" text-anchor="middle">0.5</text><text x="833.2" y="906.1" text-anchor="end">0.5</text><text x="1218.7" y="1103.4" text-anchor="middle">1</text><text x="833.2" y="966.3" text-anchor="end">1</text><text x="1281.8" y="1103.4" text-anchor="middle">1.5</text><text x="833.2" y="1026.6" text-anchor="end">1.5</text><text x="1345.0" y="1103.4" text-anchor="middle">2</text><text x="833.2" y="1086.8" text-anchor="end">2</text></g>
<text x="1092.3" y="1130.9" font-family="Liberation Sans" font-size="26" fill="#262626" text-anchor="middle">x (units of <tspan font-family="Liberation Serif">&#923;</tspan>)</text>
<text transform="translate(790.5 839.2) rotate(-90)" font-family="Liberation Sans" font-size="26" fill="#262626" text-anchor="middle">y (units of <tspan font-family="Liberation Serif">&#923;</tspan>)</text>
<text x="1092.3" y="590.6" font-family="Liberation Sans" font-size="20" font-weight="bold" fill="#000" text-anchor="middle">(d)</text>
<rect x="1365.0" y="598.3" width="36.5" height="481.9" fill="url(#cbg)" stroke="#262626" stroke-width="1.4"/>
<path d="M1401.5 992.1h-5 M1401.5 904.1h-5 M1401.5 816.0h-5 M1401.5 727.9h-5 M1401.5 639.9h-5" stroke="#262626" stroke-width="1.2"/>
<g font-family="Liberation Sans" font-size="16.8" fill="#262626"><text x="1407.5" y="998.1">0.5</text><text x="1407.5" y="910.1">1</text><text x="1407.5" y="822.0">1.5</text><text x="1407.5" y="733.9">2</text><text x="1407.5" y="645.9">2.5</text></g>
<g clip-path="url(#cle)"><g filter="url(#pm)"><rect x="70.3" y="1186.8" width="530.7" height="501.8" fill="#000"/>
<ellipse cx="141.9" cy="1251.7" rx="52.0" ry="49.9" fill="url(#rge0)"/>
<ellipse cx="396.8" cy="1257.0" rx="64.7" ry="61.7" fill="url(#rge1)"/>
<ellipse cx="261.3" cy="1379.9" rx="56.4" ry="54.1" fill="url(#rge2)"/>
<ellipse cx="525.3" cy="1378.7" rx="64.7" ry="61.7" fill="url(#rge3)"/>
<ellipse cx="138.4" cy="1499.2" rx="48.9" ry="47.0" fill="url(#rge4)"/>
<ellipse cx="392.9" cy="1506.6" rx="59.9" ry="57.9" fill="url(#rge5)"/>
<ellipse cx="265.4" cy="1620.9" rx="53.9" ry="51.8" fill="url(#rge6)"/>
<ellipse cx="529.0" cy="1619.7" rx="55.8" ry="53.5" fill="url(#rge7)"/></g></g>
<rect x="75.3" y="1191.8" width="520.7" height="491.8" fill="none" stroke="#262626" stroke-width="1.2"/>
<path d="M140.4 1191.8v6 M140.4 1683.6v-6 M75.3 1253.3h6 M596.0 1253.3h-6 M205.5 1191.8v6 M205.5 1683.6v-6 M75.3 1314.8h6 M596.0 1314.8h-6 M270.6 1191.8v6 M270.6 1683.6v-6 M75.3 1376.2h6 M596.0 1376.2h-6 M335.7 1191.8v6 M335.7 1683.6v-6 M75.3 1437.7h6 M596.0 1437.7h-6 M400.7 1191.8v6 M400.7 1683.6v-6 M75.3 1499.2h6 M596.0 1499.2h-6 M465.8 1191.8v6 M465.8 1683.6v-6 M75.3 1560.6h6 M596.0 1560.6h-6 M530.9 1191.8v6 M530.9 1683.6v-6 M75.3 1622.1h6 M596.0 1622.1h-6" stroke="#262626" stroke-width="1.1" fill="none"/>
<g font-family="Liberation Sans" font-size="18.5" fill="#262626"><text x="75.3" y="1706.8" text-anchor="middle">-2</text><text x="68.8" y="1198.4" text-anchor="end">-2</text><text x="140.4" y="1706.8" text-anchor="middle">-1.5</text><text x="68.8" y="1259.9" text-anchor="end">-1.5</text><text x="205.5" y="1706.8" text-anchor="middle">-1</text><text x="68.8" y="1321.3" text-anchor="end">-1</text><text x="270.6" y="1706.8" text-anchor="middle">-0.5</text><text x="68.8" y="1382.8" text-anchor="end">-0.5</text><text x="335.7" y="1706.8" text-anchor="middle">0</text><text x="68.8" y="1444.3" text-anchor="end">0</text><text x="400.7" y="1706.8" text-anchor="middle">0.5</text><text x="68.8" y="1505.8" text-anchor="end">0.5</text><text x="465.8" y="1706.8" text-anchor="middle">1</text><text x="68.8" y="1567.2" text-anchor="end">1</text><text x="530.9" y="1706.8" text-anchor="middle">1.5</text><text x="68.8" y="1628.7" text-anchor="end">1.5</text><text x="596.0" y="1706.8" text-anchor="middle">2</text><text x="68.8" y="1690.2" text-anchor="end">2</text></g>
<text x="335.6" y="1734.3" font-family="Liberation Sans" font-size="26" fill="#262626" text-anchor="middle">x (units of <tspan font-family="Liberation Serif">&#923;</tspan>)</text>
<text transform="translate(26.1 1437.7) rotate(-90)" font-family="Liberation Sans" font-size="26" fill="#262626" text-anchor="middle">y (units of <tspan font-family="Liberation Serif">&#923;</tspan>)</text>
<text x="335.6" y="1184.1" font-family="Liberation Sans" font-size="20" font-weight="bold" fill="#000" text-anchor="middle">(e)</text>
<rect x="616.5" y="1191.8" width="37.7" height="491.8" fill="url(#cbg)" stroke="#262626" stroke-width="1.4"/>
<path d="M654.2 1602.7h-5 M654.2 1521.8h-5 M654.2 1440.9h-5 M654.2 1360.0h-5 M654.2 1279.2h-5 M654.2 1198.3h-5" stroke="#262626" stroke-width="1.2"/>
<g font-family="Liberation Sans" font-size="16.8" fill="#262626"><text x="660.2" y="1608.7">0.01</text><text x="660.2" y="1527.8">0.02</text><text x="660.2" y="1446.9">0.03</text><text x="660.2" y="1366.0">0.04</text><text x="660.2" y="1285.2">0.05</text><text x="660.2" y="1204.3">0.06</text></g>
<g clip-path="url(#clf)"><g filter="url(#pmb)" shape-rendering="crispEdges"><rect x="820" y="1188" width="546" height="511" fill="#dcdcdc"/>
<path fill="#000000" d="M841 1188h7v7h-7zm105 0h7v7h-7zm154 0h7v7h-7zm105 0h7v7h-7zm154 0h7v7h-7zm-525 7h7v7h-7zm259 0h7v7h-7zm119 0h7v7h-7zm-385 7h7v7h-7zm392 0h7v7h-7zm-399 7h7v7h-7zm154 0h7v7h-7zm252 0h7v7h-7zm105 0h7v7h-7zm-350 7h7v7h-7zm84 0h7v7h-7zm168 0h7v7h-7zm91 0h7v7h-7zm-336 7h7v7h-7zm70 0h7v7h-7zm182 0h7v7h-7zm77 0h7v7h-7zm-329 7h14v7h-14zm63 0h7v7h-7zm196 0h14v7h-14zm63 0h7v7h-7zm-315 7h14v7h-14zm42 0h21v7h-21zm217 0h14v7h-14zm42 0h14v7h-14zm-294 7h49v7h-49zm252 0h56v7h-56zm-252 7h42v7h-42zm259 0h42v7h-42zm-252 7h35v7h-35zm252 0h42v7h-42zm-259 7h42v7h-42zm259 0h42v7h-42zm-259 7h42v7h-42zm252 0h49v7h-49zm-259 7h56v7h-56zm259 0h14v7h-14zm35 0h21v7h-21zm-301 7h14v7h-14zm49 0h14v7h-14zm210 0h14v7h-14zm56 0h14v7h-14zm-315 7h7v7h-7zm56 0h14v7h-14zm196 0h7v7h-7zm70 0h14v7h-14zm-329 7h7v7h-7zm77 0h7v7h-7zm175 0h7v7h-7zm84 0h14v7h-14zm-497 7h7v7h-7zm154 0h7v7h-7zm91 0h7v7h-7zm161 0h7v7h-7zm98 0h14v7h-14zm-497 7h7v7h-7zm245 0h7v7h-7zm147 0h7v7h-7zm112 0h14v7h-14zm-497 7h7v7h-7zm245 0h7v7h-7zm133 0h7v7h-7zm133 0h7v7h-7zm-504 7h7v7h-7zm105 0h7v7h-7zm140 0h7v7h-7zm119 0h7v7h-7zm147 0h7v7h-7zm-504 7h7v7h-7zm91 0h7v7h-7zm154 0h7v7h-7zm105 0h7v7h-7zm161 0h7v7h-7zm-504 7h7v7h-7zm77 0h7v7h-7zm168 0h7v7h-7zm91 0h7v7h-7zm-329 7h7v7h-7zm63 0h7v7h-7zm182 0h7v7h-7zm77 0h7v7h-7zm-315 7h14v7h-14zm49 0h7v7h-7zm189 0h14v7h-14zm70 0h14v7h-14zm-301 7h49v7h-49zm238 0h7v7h-7zm63 0h7v7h-7zm-301 7h42v7h-42zm238 0h14v7h-14zm63 0h7v7h-7zm-301 7h35v7h-35zm238 0h14v7h-14zm56 0h14v7h-14zm-294 7h35v7h-35zm245 0h7v7h-7zm49 0h14v7h-14zm-294 7h42v7h-42zm238 0h14v7h-14zm56 0h14v7h-14zm-301 7h49v7h-49zm245 0h14v7h-14zm56 0h14v7h-14zm-308 7h14v7h-14zm49 0h14v7h-14zm203 0h7v7h-7zm63 0h7v7h-7zm-315 7h7v7h-7zm56 0h14v7h-14zm189 0h7v7h-7zm70 0h14v7h-14zm-322 7h7v7h-7zm70 0h14v7h-14zm175 0h7v7h-7zm84 0h7v7h-7zm-336 7h7v7h-7zm245 0h7v7h-7zm98 0h7v7h-7zm168 0h7v7h-7zm-518 7h7v7h-7zm105 0h7v7h-7zm140 0h7v7h-7zm112 0h7v7h-7zm154 0h7v7h-7zm-399 7h7v7h-7zm126 0h7v7h-7zm126 0h7v7h-7zm133 0h7v7h-7zm-518 7h7v7h-7zm140 0h7v7h-7zm112 0h7v7h-7zm140 0h7v7h-7zm119 0h7v7h-7zm-364 7h7v7h-7zm98 0h7v7h-7zm154 0h7v7h-7zm105 0h7v7h-7zm-350 7h7v7h-7zm84 0h7v7h-7zm168 0h7v7h-7zm91 0h7v7h-7zm-336 7h14v7h-14zm56 0h14v7h-14zm196 0h14v7h-14zm77 0h7v7h-7zm-315 7h42v7h-42zm245 0h14v7h-14zm56 0h14v7h-14zm-49 7h21v7h-21zm35 0h28v7h-28zm-28 7h49v7h-49zm0 7h49v7h-49zm0 7h49v7h-49zm0 7h49v7h-49zm-7 7h28v7h-28zm35 0h28v7h-28zm-273 7h21v7h-21zm238 0h14v7h-14zm56 0h14v7h-14zm-308 7h14v7h-14zm35 0h21v7h-21zm210 0h7v7h-7zm70 0h14v7h-14zm-329 7h14v7h-14zm70 0h7v7h-7zm182 0h7v7h-7zm91 0h7v7h-7zm-350 7h7v7h-7zm91 0h7v7h-7zm161 0h7v7h-7zm105 0h7v7h-7zm-511 7h7v7h-7zm147 0h7v7h-7zm105 0h7v7h-7zm147 0h7v7h-7zm119 0h7v7h-7zm-511 7h7v7h-7zm133 0h7v7h-7zm119 0h7v7h-7zm133 0h7v7h-7zm133 0h7v7h-7zm-511 7h7v7h-7zm119 0h7v7h-7zm133 0h7v7h-7zm119 0h7v7h-7zm147 0h7v7h-7zm-511 7h7v7h-7zm105 0h7v7h-7zm147 0h7v7h-7zm105 0h7v7h-7zm161 0h7v7h-7zm-511 7h7v7h-7zm91 0h7v7h-7zm161 0h7v7h-7zm84 0h14v7h-14zm-329 7h14v7h-14zm70 0h14v7h-14zm182 0h7v7h-7zm70 0h14v7h-14zm-315 7h14v7h-14zm56 0h14v7h-14zm196 0h14v7h-14zm56 0h14v7h-14zm-301 7h21v7h-21zm35 0h21v7h-21zm217 0h21v7h-21zm35 0h21v7h-21zm-280 7h42v7h-42zm252 0h42v7h-42zm-252 7h42v7h-42zm252 0h42v7h-42zm-252 7h42v7h-42zm259 0h35v7h-35zm-259 7h42v7h-42zm252 0h49v7h-49zm-252 7h49v7h-49zm252 0h49v7h-49zm-259 7h14v7h-14zm42 0h14v7h-14zm210 0h14v7h-14zm49 0h14v7h-14zm-308 7h7v7h-7zm63 0h7v7h-7zm189 0h14v7h-14zm70 0h7v7h-7zm-329 7h7v7h-7zm77 0h7v7h-7zm175 0h14v7h-14zm84 0h7v7h-7zm-343 7h7v7h-7zm91 0h7v7h-7zm161 0h7v7h-7zm98 0h7v7h-7zm161 0h7v7h-7zm-518 7h7v7h-7zm105 0h7v7h-7zm147 0h7v7h-7zm112 0h7v7h-7zm147 0h7v7h-7zm-518 7h7v7h-7zm119 0h7v7h-7zm133 0h7v7h-7zm126 0h7v7h-7zm133 0h7v7h-7zm-518 7h7v7h-7zm252 0h7v7h-7zm140 0h7v7h-7zm119 0h7v7h-7zm-518 7h7v7h-7zm252 0h7v7h-7zm154 0h7v7h-7zm105 0h7v7h-7z"/>
<path fill="#040404" d="M848 1188h7v7h-7zm105 0h7v7h-7zm140 0h7v7h-7zm105 0h7v7h-7zm154 0h7v7h-7zm-511 7h7v7h-7zm112 0h14v7h-14zm133 0h7v7h-7zm119 0h7v7h-7zm140 0h14v7h-14zm-511 7h7v7h-7zm126 0h14v7h-14zm119 0h14v7h-14zm133 0h7v7h-7zm126 0h14v7h-14zm-511 7h7v7h-7zm140 0h7v7h-7zm105 0h14v7h-14zm147 0h7v7h-7zm119 0h7v7h-7zm-518 7h7v7h-7zm154 0h7v7h-7zm98 0h7v7h-7zm154 0h7v7h-7zm14 0h7v7h-7zm91 0h7v7h-7zm-350 7h7v7h-7zm84 0h7v7h-7zm168 0h7v7h-7zm14 0h7v7h-7zm63 0h7v7h-7zm14 0h7v7h-7zm-322 7h7v7h-7zm42 0h7v7h-7zm14 0h7v7h-7zm182 0h7v7h-7zm63 0h7v7h-7zm14 0h7v7h-7zm-308 7h28v7h-28zm238 0h7v7h-7zm21 0h28v7h-28zm42 0h7v7h-7zm-315 7h7v7h-7zm49 7h7v7h-7zm210 0h7v7h-7zm49 0h7v7h-7zm-301 7h7v7h-7zm42 0h7v7h-7zm210 0h7v7h-7zm49 0h7v7h-7zm-259 7h7v7h-7zm210 0h7v7h-7zm49 0h7v7h-7zm-308 7h7v7h-7zm49 0h7v7h-7zm259 0h7v7h-7zm-56 7h7v7h-7zm21 0h21v7h-21zm42 0h7v7h-7zm-308 7h14v7h-14zm28 0h7v7h-7zm21 0h7v7h-7zm189 0h7v7h-7zm21 0h7v7h-7zm35 0h7v7h-7zm-315 7h7v7h-7zm14 0h7v7h-7zm63 0h7v7h-7zm175 0h7v7h-7zm14 0h7v7h-7zm56 0h7v7h-7zm-329 7h7v7h-7zm77 0h7v7h-7zm14 0h7v7h-7zm161 0h7v7h-7zm14 0h7v7h-7zm-273 7h7v7h-7zm91 0h7v7h-7zm161 0h7v7h-7zm-399 7h7v7h-7zm140 0h14v7h-14zm105 0h7v7h-7zm147 0h7v7h-7zm-259 7h14v7h-14zm119 0h7v7h-7zm14 0h7v7h-7zm119 0h7v7h-7zm133 0h7v7h-7zm-490 7h7v7h-7zm105 0h7v7h-7zm126 0h7v7h-7zm14 0h7v7h-7zm105 0h7v7h-7zm147 0h7v7h-7zm-490 7h7v7h-7zm91 0h7v7h-7zm140 0h7v7h-7zm14 0h7v7h-7zm91 0h7v7h-7zm161 0h7v7h-7zm-490 7h7v7h-7zm77 0h7v7h-7zm154 0h7v7h-7zm14 0h7v7h-7zm77 0h7v7h-7zm175 0h7v7h-7zm-504 7h7v7h-7zm14 0h7v7h-7zm49 0h7v7h-7zm14 0h7v7h-7zm168 0h7v7h-7zm14 0h7v7h-7zm77 0h7v7h-7zm-329 7h7v7h-7zm21 0h7v7h-7zm21 0h14v7h-14zm21 0h7v7h-7zm-56 7h7v7h-7zm238 0h7v7h-7zm14 0h7v7h-7zm49 0h7v7h-7zm14 0h7v7h-7zm-315 7h7v7h-7zm301 0h7v7h-7zm-259 7h7v7h-7zm217 0h7v7h-7zm-217 7h7v7h-7zm203 0h7v7h-7zm14 0h7v7h-7zm-259 7h7v7h-7zm259 0h7v7h-7zm-210 7h7v7h-7zm-42 7h14v7h-14zm21 0h14v7h-14zm210 0h7v7h-7zm14 0h7v7h-7zm49 0h7v7h-7zm14 0h7v7h-7zm-329 7h7v7h-7zm14 0h7v7h-7zm245 0h7v7h-7zm-266 7h7v7h-7zm259 0h7v7h-7zm84 0h7v7h-7zm168 0h7v7h-7zm-518 7h7v7h-7zm91 0h14v7h-14zm168 0h7v7h-7zm98 0h7v7h-7zm154 0h7v7h-7zm-518 7h7v7h-7zm105 0h7v7h-7zm154 0h7v7h-7zm112 0h7v7h-7zm140 0h7v7h-7zm-518 7h14v7h-14zm119 0h7v7h-7zm140 0h7v7h-7zm126 0h7v7h-7zm133 0h7v7h-7zm-518 7h7v7h-7zm126 0h7v7h-7zm126 0h7v7h-7zm140 0h7v7h-7zm119 0h7v7h-7zm-518 7h7v7h-7zm238 0h7v7h-7zm168 0h7v7h-7zm105 0h7v7h-7zm-350 7h7v7h-7zm70 0h7v7h-7zm182 0h7v7h-7zm77 0h7v7h-7zm14 0h7v7h-7zm-329 7h7v7h-7zm35 0h7v7h-7zm21 0h7v7h-7zm252 0h7v7h-7zm14 0h7v7h-7zm-329 7h7v7h-7zm49 0h7v7h-7zm217 0h7v7h-7zm35 0h7v7h-7zm21 0h7v7h-7zm-308 7h21v7h-21zm238 0h7v7h-7zm28 0h14v7h-14zm-21 7h7v7h-7zm56 0h7v7h-7zm-56 7h7v7h-7zm0 14h7v7h-7zm56 0h7v7h-7zm-28 7h7v7h-7zm35 0h7v7h-7zm-315 7h14v7h-14zm35 0h14v7h-14zm210 0h7v7h-7zm21 0h7v7h-7zm35 0h7v7h-7zm-308 7h7v7h-7zm21 0h21v7h-21zm42 0h7v7h-7zm182 0h7v7h-7zm14 0h7v7h-7zm-203 7h7v7h-7zm14 0h7v7h-7zm168 0h7v7h-7zm14 0h7v7h-7zm77 0h7v7h-7zm-336 7h7v7h-7zm77 0h7v7h-7zm161 0h7v7h-7zm105 0h7v7h-7zm-112 7h7v7h-7zm119 0h7v7h-7zm-497 7h7v7h-7zm119 0h7v7h-7zm252 0h7v7h-7zm133 0h7v7h-7zm-497 7h7v7h-7zm105 0h7v7h-7zm252 0h7v7h-7zm-350 7h7v7h-7zm91 0h7v7h-7zm161 0h7v7h-7zm91 0h7v7h-7zm-336 7h7v7h-7zm77 0h7v7h-7zm175 0h7v7h-7zm7 7h7v7h-7zm-238 7h7v7h-7zm35 0h7v7h-7zm217 0h7v7h-7zm35 0h7v7h-7zm-273 7h14v7h-14zm35 0h7v7h-7zm217 0h14v7h-14zm35 0h7v7h-7zm-308 7h7v7h-7zm49 0h7v7h-7zm203 0h7v7h-7zm49 0h7v7h-7zm0 7h7v7h-7zm-42 7h7v7h-7zm42 0h7v7h-7zm-301 7h7v7h-7zm49 0h7v7h-7zm-49 7h7v7h-7zm252 0h7v7h-7zm56 0h7v7h-7zm-315 7h7v7h-7zm21 0h14v7h-14zm21 0h7v7h-7zm21 0h7v7h-7zm210 0h14v7h-14zm28 0h7v7h-7zm21 0h7v7h-7zm-329 7h7v7h-7zm14 0h7v7h-7zm49 0h7v7h-7zm14 0h7v7h-7zm196 0h7v7h-7zm49 0h7v7h-7zm14 0h7v7h-7zm-343 7h7v7h-7zm14 0h7v7h-7zm63 0h7v7h-7zm14 0h7v7h-7zm245 0h7v7h-7zm14 0h7v7h-7zm161 0h7v7h-7zm-518 7h7v7h-7zm14 0h7v7h-7zm91 0h7v7h-7zm161 0h7v7h-7zm98 0h7v7h-7zm147 0h7v7h-7zm-518 7h7v7h-7zm119 0h7v7h-7zm147 0h7v7h-7zm112 0h7v7h-7zm133 0h7v7h-7zm-518 7h7v7h-7zm133 0h7v7h-7zm133 0h7v7h-7zm126 0h7v7h-7zm119 0h7v7h-7zm-518 7h7v7h-7zm140 0h14v7h-14zm126 0h7v7h-7zm140 0h7v7h-7zm105 0h7v7h-7zm-364 7h14v7h-14zm112 0h7v7h-7zm154 0h7v7h-7zm91 0h7v7h-7z"/>
<path fill="#080808" d="M1212 1188h7v7h-7zm7 7h7v7h-7zm-399 7h7v7h-7zm406 0h7v7h-7zm7 7h7v7h-7zm-245 7h7v7h-7zm70 0h7v7h-7zm259 0h7v7h-7zm-322 7h7v7h-7zm56 0h7v7h-7zm-42 7h7v7h-7zm28 0h7v7h-7zm224 0h7v7h-7zm35 0h7v7h-7zm-308 7h7v7h-7zm70 0h7v7h-7zm-7 7h7v7h-7zm196 0h7v7h-7zm63 0h7v7h-7zm-315 7h7v7h-7zm0 14h7v7h-7zm252 7h7v7h-7zm-259 7h7v7h-7zm63 0h7v7h-7zm-35 7h14v7h-14zm252 0h7v7h-7zm14 0h14v7h-14zm35 0h7v7h-7zm-280 7h7v7h-7zm-217 7h7v7h-7zm168 0h7v7h-7zm56 0h7v7h-7zm266 0h7v7h-7zm-483 7h7v7h-7zm245 0h7v7h-7zm161 0h7v7h-7zm84 0h7v7h-7zm-483 7h7v7h-7zm245 0h7v7h-7zm147 0h7v7h-7zm-399 7h7v7h-7zm14 0h7v7h-7zm-7 7h7v7h-7zm525 0h7v7h-7zm-518 7h7v7h-7zm7 7h7v7h-7zm77 0h7v7h-7zm273 0h7v7h-7zm-322 7h7v7h-7zm301 0h7v7h-7zm-287 7h14v7h-14zm231 0h7v7h-7zm-203 14h7v7h-7zm189 0h7v7h-7zm21 0h7v7h-7zm56 0h7v7h-7zm-315 7h7v7h-7zm0 7h7v7h-7zm294 0h7v7h-7zm-245 7h7v7h-7zm245 0h7v7h-7zm-301 7h7v7h-7zm245 0h7v7h-7zm21 0h7v7h-7zm35 0h7v7h-7zm-273 7h7v7h-7zm35 0h7v7h-7zm-14 7h7v7h-7zm189 0h7v7h-7zm70 0h7v7h-7zm-308 7h7v7h-7zm56 0h7v7h-7zm259 0h7v7h-7zm-322 7h7v7h-7zm329 0h7v7h-7zm7 7h7v7h-7zm7 7h7v7h-7zm-133 7h7v7h-7zm140 0h7v7h-7zm-245 7h7v7h-7zm14 0h7v7h-7zm98 0h7v7h-7zm140 0h7v7h-7zm105 0h7v7h-7zm-350 7h7v7h-7zm77 0h7v7h-7zm21 0h7v7h-7zm154 0h7v7h-7zm-245 7h7v7h-7zm28 0h7v7h-7zm21 0h7v7h-7zm203 0h7v7h-7zm21 0h7v7h-7zm49 0h7v7h-7zm-252 7h7v7h-7zm189 0h7v7h-7zm28 0h14v7h-14zm21 0h7v7h-7zm-287 7h7v7h-7zm28 0h7v7h-7zm287 0h7v7h-7zm-7 14h7v7h-7zm-56 7h7v7h-7zm56 0h7v7h-7zm-63 14h7v7h-7zm28 7h28v7h-28zm49 0h7v7h-7zm-336 7h7v7h-7zm273 0h7v7h-7zm49 0h7v7h-7zm21 0h7v7h-7zm-350 7h7v7h-7zm21 0h7v7h-7zm336 0h7v7h-7zm-511 7h7v7h-7zm147 0h7v7h-7zm266 0h7v7h-7zm105 0h7v7h-7zm-511 7h7v7h-7zm133 0h7v7h-7zm14 0h7v7h-7zm91 0h7v7h-7zm14 0h7v7h-7zm147 0h7v7h-7zm119 0h7v7h-7zm-525 7h7v7h-7zm147 0h7v7h-7zm105 0h7v7h-7zm14 0h7v7h-7zm266 0h7v7h-7zm-259 7h7v7h-7zm252 0h7v7h-7zm14 0h7v7h-7zm-7 7h7v7h-7zm-175 7h7v7h-7zm182 0h7v7h-7zm-490 7h7v7h-7zm49 0h7v7h-7zm203 0h7v7h-7zm49 0h7v7h-7zm-315 7h7v7h-7zm28 0h7v7h-7zm21 0h7v7h-7zm28 0h7v7h-7zm175 0h7v7h-7zm28 0h7v7h-7zm21 0h7v7h-7zm28 0h7v7h-7zm-322 7h7v7h-7zm252 0h7v7h-7zm-245 14h7v7h-7zm49 0h7v7h-7zm203 0h7v7h-7zm-252 7h7v7h-7zm49 0h7v7h-7zm203 0h7v7h-7zm0 7h7v7h-7zm56 0h7v7h-7zm-252 7h7v7h-7zm-28 7h7v7h-7zm217 0h7v7h-7zm35 0h14v7h-14zm-273 7h7v7h-7zm35 0h7v7h-7zm196 0h7v7h-7zm63 0h7v7h-7zm-49 7h7v7h-7zm-189 7h7v7h-7zm259 0h7v7h-7zm-343 7h7v7h-7zm350 0h7v7h-7zm161 0h7v7h-7zm-518 7h7v7h-7zm511 0h7v7h-7zm-280 7h7v7h-7zm273 0h7v7h-7zm-280 7h7v7h-7z"/>
<path fill="#0c0c0c" d="M834 1188h7v7h-7zm105 0h7v7h-7zm168 0h7v7h-7zm-280 7h7v7h-7zm119 0h7v7h-7zm154 0h7v7h-7zm259 0h7v7h-7zm-28 7h7v7h-7zm-350 7h7v7h-7zm84 0h7v7h-7zm259 0h7v7h-7zm-70 14h7v7h-7zm-273 7h7v7h-7zm84 0h7v7h-7zm203 0h7v7h-7zm21 0h7v7h-7zm35 0h7v7h-7zm-84 7h7v7h-7zm77 0h7v7h-7zm-266 14h7v7h-7zm196 0h7v7h-7zm63 0h7v7h-7zm-315 7h7v7h-7zm252 7h7v7h-7zm63 7h7v7h-7zm-70 7h7v7h-7zm-259 7h7v7h-7zm77 0h7v7h-7zm217 0h7v7h-7zm-273 7h7v7h-7zm28 0h7v7h-7zm224 0h7v7h-7zm42 0h7v7h-7zm28 0h7v7h-7zm7 7h7v7h-7zm-350 7h7v7h-7zm70 0h7v7h-7zm287 0h7v7h-7zm-14 7h7v7h-7zm21 0h7v7h-7zm-126 7h7v7h-7zm112 0h7v7h-7zm21 0h7v7h-7zm-413 7h7v7h-7zm273 0h7v7h-7zm-280 7h7v7h-7zm273 0h7v7h-7zm-336 7h7v7h-7zm42 7h7v7h-7zm448 0h7v7h-7zm-259 7h7v7h-7zm70 0h7v7h-7zm-308 7h7v7h-7zm63 0h7v7h-7zm203 0h7v7h-7zm35 7h7v7h-7zm-245 7h7v7h-7zm189 0h7v7h-7zm56 0h7v7h-7zm21 0h7v7h-7zm-266 7h7v7h-7zm217 0h7v7h-7zm-28 7h7v7h-7zm77 0h7v7h-7zm0 7h7v7h-7zm-329 7h7v7h-7zm273 0h7v7h-7zm35 0h7v7h-7zm-287 7h7v7h-7zm28 0h7v7h-7zm28 0h7v7h-7zm189 0h7v7h-7zm70 0h7v7h-7zm168 0h7v7h-7zm-266 7h7v7h-7zm21 0h7v7h-7zm238 0h7v7h-7zm-266 7h7v7h-7zm21 0h7v7h-7zm-259 7h7v7h-7zm231 0h7v7h-7zm259 0h7v7h-7zm21 0h7v7h-7zm-518 7h7v7h-7zm231 0h7v7h-7zm259 0h7v7h-7zm21 0h7v7h-7zm-385 7h7v7h-7zm357 0h7v7h-7zm-84 14h7v7h-7zm-231 7h14v7h-14zm49 0h7v7h-7zm266 0h7v7h-7zm-343 7h7v7h-7zm294 0h7v7h-7zm42 0h7v7h-7zm-287 7h7v7h-7zm210 7h7v7h-7zm70 0h7v7h-7zm0 21h7v7h-7zm-308 7h28v7h-28zm-14 7h7v7h-7zm56 0h7v7h-7zm189 0h7v7h-7zm-231 14h7v7h-7zm35 0h7v7h-7zm28 0h7v7h-7zm245 0h7v7h-7zm-238 7h7v7h-7zm147 14h7v7h-7zm-392 7h7v7h-7zm133 0h7v7h-7zm119 0h7v7h-7zm133 0h7v7h-7zm-378 7h7v7h-7zm119 0h7v7h-7zm133 0h7v7h-7zm98 0h7v7h-7zm21 0h7v7h-7zm-364 7h7v7h-7zm21 0h7v7h-7zm63 0h7v7h-7zm21 0h7v7h-7zm147 0h7v7h-7zm105 0h7v7h-7zm-350 7h7v7h-7zm91 0h7v7h-7zm161 0h7v7h-7zm91 0h7v7h-7zm-301 7h14v7h-14zm252 0h14v7h-14zm-280 14h7v7h-7zm63 0h7v7h-7zm252 0h7v7h-7zm0 7h7v7h-7zm0 7h7v7h-7zm-315 14h7v7h-7zm322 0h7v7h-7zm-252 7h7v7h-7zm-49 7h7v7h-7zm252 0h7v7h-7zm-266 7h7v7h-7zm231 0h7v7h-7zm-7 7h7v7h-7zm21 0h7v7h-7zm-175 7h7v7h-7zm147 0h7v7h-7zm-140 7h7v7h-7zm133 0h7v7h-7zm126 0h7v7h-7zm-371 7h7v7h-7zm378 0h7v7h-7zm-385 7h7v7h-7zm154 0h7v7h-7zm238 0h7v7h-7zm21 0h7v7h-7zm77 0h7v7h-7zm21 0h7v7h-7z"/>
<path fill="#101010" d="M855 1188h7v7h-7zm105 0h7v7h-7zm231 0h7v7h-7zm154 0h7v7h-7zm-497 7h7v7h-7zm119 0h7v7h-7zm231 0h7v7h-7zm140 0h7v7h-7zm-385 7h7v7h-7zm21 0h7v7h-7zm98 0h7v7h-7zm21 0h7v7h-7zm259 0h7v7h-7zm-392 7h7v7h-7zm126 0h7v7h-7zm259 0h7v7h-7zm-378 7h7v7h-7zm112 0h7v7h-7zm168 0h7v7h-7zm91 0h7v7h-7zm-364 7h7v7h-7zm28 0h7v7h-7zm42 0h7v7h-7zm28 0h7v7h-7zm231 0h7v7h-7zm28 0h7v7h-7zm-315 7h21v7h-21zm217 0h7v7h-7zm42 0h14v7h-14zm-287 14h7v7h-7zm63 14h7v7h-7zm196 0h7v7h-7zm63 0h7v7h-7zm-259 7h7v7h-7zm259 0h7v7h-7zm-322 7h7v7h-7zm63 0h7v7h-7zm182 14h7v7h-7zm-259 7h7v7h-7zm35 0h7v7h-7zm14 0h7v7h-7zm-56 7h7v7h-7zm280 0h7v7h-7zm56 0h7v7h-7zm-343 7h7v7h-7zm-7 7h7v7h-7zm21 0h7v7h-7zm84 0h7v7h-7zm-112 7h7v7h-7zm392 7h7v7h-7zm-476 7h7v7h-7zm245 0h7v7h-7zm77 0h7v7h-7zm161 0h7v7h-7zm-231 7h7v7h-7zm63 0h7v7h-7zm175 0h7v7h-7zm-469 7h7v7h-7zm210 0h7v7h-7zm28 0h7v7h-7zm-266 7h7v7h-7zm77 0h7v7h-7zm259 0h7v7h-7zm-28 7h7v7h-7zm-301 7h7v7h-7zm273 0h7v7h-7zm0 7h7v7h-7zm-28 7h7v7h-7zm49 0h7v7h-7zm28 0h7v7h-7zm-322 7h7v7h-7zm273 0h7v7h-7zm21 0h7v7h-7zm-21 7h7v7h-7zm-287 14h7v7h-7zm35 0h7v7h-7zm-42 7h7v7h-7zm28 0h7v7h-7zm70 0h7v7h-7zm-105 7h7v7h-7zm91 0h7v7h-7zm21 0h7v7h-7zm399 0h7v7h-7zm-518 7h7v7h-7zm126 0h7v7h-7zm147 0h7v7h-7zm-280 7h7v7h-7zm140 0h7v7h-7zm-126 7h7v7h-7zm511 0h7v7h-7zm-518 7h7v7h-7zm406 0h7v7h-7zm105 0h7v7h-7zm-518 7h7v7h-7zm168 0h7v7h-7zm315 0h7v7h-7zm28 0h7v7h-7zm-77 7h7v7h-7zm35 0h7v7h-7zm-238 7h7v7h-7zm-63 7h7v7h-7zm49 0h7v7h-7zm196 0h7v7h-7zm-231 7h14v7h-14zm238 7h7v7h-7zm70 0h7v7h-7zm-70 7h7v7h-7zm70 0h7v7h-7zm-70 7h7v7h-7zm-245 7h7v7h-7zm35 0h7v7h-7zm28 14h7v7h-7zm168 0h7v7h-7zm35 0h7v7h-7zm35 0h7v7h-7zm-49 7h7v7h-7zm-259 7h7v7h-7zm63 0h7v7h-7zm266 0h7v7h-7zm-126 21h7v7h-7zm-336 7h7v7h-7zm77 0h7v7h-7zm182 7h7v7h-7zm-238 7h7v7h-7zm287 0h7v7h-7zm21 14h7v7h-7zm-70 7h7v7h-7zm-252 21h7v7h-7zm63 0h7v7h-7zm189 7h7v7h-7zm-259 7h7v7h-7zm336 0h7v7h-7zm-287 7h7v7h-7zm35 0h7v7h-7zm203 0h7v7h-7zm21 0h7v7h-7zm196 0h7v7h-7zm-441 7h7v7h-7zm259 0h7v7h-7zm-70 14h7v7h-7zm-7 7h7v7h-7zm126 0h7v7h-7zm105 0h7v7h-7zm-378 7h7v7h-7zm21 0h7v7h-7zm259 0h7v7h-7zm91 0h7v7h-7zm-364 7h7v7h-7z"/>
<path fill="#141414" d="M1086 1188h7v7h-7zm-7 7h7v7h-7zm-238 7h7v7h-7zm364 0h7v7h-7zm-371 7h7v7h-7zm378 0h7v7h-7zm28 0h7v7h-7zm-413 7h7v7h-7zm392 0h7v7h-7zm91 0h7v7h-7zm-490 7h7v7h-7zm406 0h7v7h-7zm35 0h7v7h-7zm-203 21h7v7h-7zm259 0h7v7h-7zm0 35h7v7h-7zm-301 14h7v7h-7zm49 0h7v7h-7zm161 0h7v7h-7zm35 0h7v7h-7zm28 0h7v7h-7zm-294 7h7v7h-7zm42 0h7v7h-7zm35 0h7v7h-7zm-105 21h7v7h-7zm98 0h7v7h-7zm28 0h7v7h-7zm105 0h7v7h-7zm-343 7h7v7h-7zm105 0h7v7h-7zm112 0h7v7h-7zm28 0h7v7h-7zm91 0h7v7h-7zm-238 7h7v7h-7zm126 0h7v7h-7zm-161 7h7v7h-7zm28 0h7v7h-7zm140 0h7v7h-7zm-238 7h7v7h-7zm42 0h7v7h-7zm14 0h7v7h-7zm35 0h7v7h-7zm231 0h7v7h-7zm-42 7h7v7h-7zm-28 7h7v7h-7zm-175 7h7v7h-7zm-63 7h7v7h-7zm294 0h7v7h-7zm-294 7h7v7h-7zm280 0h7v7h-7zm0 7h14v7h-14zm-217 7h7v7h-7zm231 0h7v7h-7zm-56 7h7v7h-7zm-210 7h14v7h-14zm273 0h7v7h-7zm7 7h7v7h-7zm28 0h7v7h-7zm-21 7h7v7h-7zm-245 7h7v7h-7zm161 7h7v7h-7zm126 0h7v7h-7zm7 7h7v7h-7zm-175 7h7v7h-7zm-14 7h7v7h-7zm224 7h7v7h-7zm-35 7h7v7h-7zm91 7h7v7h-7zm-322 7h7v7h-7zm21 0h7v7h-7zm21 28h7v7h-7zm280 0h7v7h-7zm-266 7h7v7h-7zm238 7h7v7h-7zm-280 7h7v7h-7zm21 0h7v7h-7zm189 0h7v7h-7zm-7 7h7v7h-7zm-7 7h7v7h-7zm119 0h7v7h-7zm-126 7h7v7h-7zm-350 7h7v7h-7zm91 0h7v7h-7zm168 7h7v7h-7zm-196 14h7v7h-7zm217 0h7v7h-7zm231 0h7v7h-7zm-504 14h7v7h-7zm77 0h7v7h-7zm-70 14h7v7h-7zm63 0h7v7h-7zm189 0h7v7h-7zm-252 7h7v7h-7zm63 0h7v7h-7zm189 7h7v7h-7zm70 0h7v7h-7zm-336 21h7v7h-7zm42 0h14v7h-14zm259 0h14v7h-14zm49 0h7v7h-7zm-252 7h7v7h-7zm182 0h7v7h-7zm77 0h7v7h-7zm147 0h7v7h-7zm-490 7h7v7h-7zm91 0h7v7h-7zm231 0h7v7h-7zm28 0h7v7h-7zm133 0h7v7h-7zm-385 7h7v7h-7zm259 0h7v7h-7zm119 0h7v7h-7zm-518 7h7v7h-7zm147 0h7v7h-7zm126 7h7v7h-7zm-7 7h7v7h-7z"/>
<path fill="#181818" d="M995 1216h7v7h-7zm56 0h7v7h-7zm245 7h7v7h-7zm-56 21h7v7h-7zm-252 7h7v7h-7zm0 14h7v7h-7zm252 7h7v7h-7zm-182 7h7v7h-7zm266 7h7v7h-7zm-56 7h7v7h-7zm14 0h7v7h-7zm-63 7h7v7h-7zm-140 7h7v7h-7zm133 0h7v7h-7zm28 0h7v7h-7zm70 0h7v7h-7zm-224 7h7v7h-7zm119 0h7v7h-7zm-385 7h7v7h-7zm28 0h7v7h-7zm-7 21h7v7h-7zm35 0h7v7h-7zm21 7h7v7h-7zm301 0h7v7h-7zm-35 7h7v7h-7zm-28 7h7v7h-7zm7 7h7v7h-7zm14 0h7v7h-7zm-14 7h14v7h-14zm7 7h7v7h-7zm-294 14h7v7h-7zm287 0h14v7h-14zm-7 7h7v7h-7zm21 0h7v7h-7zm35 0h7v7h-7zm-63 7h7v7h-7zm-217 7h7v7h-7zm-49 7h7v7h-7zm343 0h7v7h-7zm-21 7h7v7h-7zm28 0h7v7h-7zm-273 7h7v7h-7zm252 0h7v7h-7zm-245 7h7v7h-7zm140 0h7v7h-7zm-7 7h7v7h-7zm231 0h7v7h-7zm-63 7h7v7h-7zm-28 7h7v7h-7zm49 0h7v7h-7zm14 0h7v7h-7zm-259 21h7v7h-7zm-21 21h21v7h-21zm231 7h7v7h-7zm91 7h7v7h-7zm-56 7h7v7h-7zm-448 7h7v7h-7zm196 0h14v7h-14zm287 0h7v7h-7zm-63 7h7v7h-7zm-259 7h7v7h-7zm77 0h7v7h-7zm-217 7h7v7h-7zm105 0h7v7h-7zm385 0h7v7h-7zm-231 7h7v7h-7zm238 0h7v7h-7zm7 7h7v7h-7zm-175 7h7v7h-7zm182 0h7v7h-7zm-196 7h7v7h-7zm35 7h7v7h-7zm-84 7h7v7h-7zm77 7h7v7h-7zm-70 14h7v7h-7zm-182 14h7v7h-7zm175 7h7v7h-7zm-266 14h7v7h-7zm35 0h7v7h-7zm-42 7h7v7h-7zm91 0h7v7h-7zm-98 7h7v7h-7zm28 0h7v7h-7zm203 21h7v7h-7z"/>
<path fill="#1c1c1c" d="M932 1188h7v7h-7zm182 0h7v7h-7zm112 7h7v7h-7zm7 7h7v7h-7zm84 7h7v7h-7zm-308 14h7v7h-7zm28 0h7v7h-7zm-56 14h7v7h-7zm84 0h7v7h-7zm259 0h7v7h-7zm-7 14h7v7h-7zm-329 7h7v7h-7zm329 14h7v7h-7zm-336 7h7v7h-7zm-161 14h7v7h-7zm455 0h7v7h-7zm56 0h7v7h-7zm-504 7h7v7h-7zm7 7h7v7h-7zm154 0h7v7h-7zm56 0h7v7h-7zm-203 7h7v7h-7zm392 0h7v7h-7zm126 7h7v7h-7zm-532 7h7v7h-7zm7 7h7v7h-7zm91 0h7v7h-7zm203 14h7v7h-7zm231 7h7v7h-7zm-504 7h7v7h-7zm301 0h7v7h-7zm35 0h7v7h-7zm-42 7h7v7h-7zm-224 7h7v7h-7zm0 14h7v7h-7zm175 7h7v7h-7zm-168 7h7v7h-7zm210 0h14v7h-14zm217 0h7v7h-7zm-266 7h7v7h-7zm-217 7h7v7h-7zm245 0h7v7h-7zm-63 28h7v7h-7zm140 0h7v7h-7zm119 0h7v7h-7zm-364 7h7v7h-7zm28 0h7v7h-7zm224 0h7v7h-7zm-245 7h7v7h-7zm35 0h7v7h-7zm35 0h7v7h-7zm42 0h7v7h-7zm140 0h7v7h-7zm84 0h7v7h-7zm-329 7h7v7h-7zm98 0h7v7h-7zm210 0h7v7h-7zm-301 7h7v7h-7zm350 0h7v7h-7zm-343 7h7v7h-7zm63 0h7v7h-7zm-14 7h7v7h-7zm203 0h7v7h-7zm-231 7h21v7h-21zm21 14h7v7h-7zm294 0h7v7h-7zm-329 7h7v7h-7zm-7 7h7v7h-7zm-7 7h7v7h-7zm301 0h14v7h-14zm56 0h7v7h-7zm-364 7h7v7h-7zm287 0h7v7h-7zm-427 7h7v7h-7zm133 0h7v7h-7zm84 0h7v7h-7zm-210 7h7v7h-7zm119 0h7v7h-7zm280 0h7v7h-7zm-259 7h7v7h-7zm91 0h7v7h-7zm28 0h7v7h-7zm266 0h7v7h-7zm-490 21h7v7h-7zm49 0h7v7h-7zm-35 7h7v7h-7zm21 0h7v7h-7zm231 0h7v7h-7zm14 0h7v7h-7zm-301 7h7v7h-7zm91 0h7v7h-7zm161 0h7v7h-7zm84 21h7v7h-7zm0 7h7v7h-7zm-329 14h7v7h-7zm336 0h7v7h-7zm-91 14h7v7h-7zm-189 7h7v7h-7zm224 0h7v7h-7zm35 0h7v7h-7zm-49 7h7v7h-7zm70 7h7v7h-7zm-343 7h7v7h-7zm511 0h7v7h-7zm-294 7h7v7h-7zm182 7h7v7h-7zm63 0h7v7h-7z"/>
<path fill="#202020" d="M827 1188h7v7h-7zm35 0h7v7h-7zm322 0h7v7h-7zm35 0h7v7h-7zm-399 7h7v7h-7zm168 14h7v7h-7zm70 0h7v7h-7zm196 7h7v7h-7zm14 7h7v7h-7zm21 0h7v7h-7zm-56 14h7v7h-7zm-175 14h7v7h-7zm182 0h7v7h-7zm0 7h7v7h-7zm77 0h7v7h-7zm-77 7h7v7h-7zm77 0h7v7h-7zm-259 7h7v7h-7zm175 7h7v7h-7zm-168 7h7v7h-7zm-63 14h7v7h-7zm28 0h7v7h-7zm224 0h7v7h-7zm42 0h7v7h-7zm42 0h7v7h-7zm7 7h7v7h-7zm-28 7h7v7h-7zm35 0h7v7h-7zm-126 7h7v7h-7zm-315 21h7v7h-7zm210 0h7v7h-7zm84 0h7v7h-7zm147 7h7v7h-7zm-259 7h7v7h-7zm42 0h7v7h-7zm-203 7h7v7h-7zm210 0h14v7h-14zm-42 7h7v7h-7zm-175 14h7v7h-7zm-77 21h7v7h-7zm287 7h7v7h-7zm21 0h7v7h-7zm196 0h7v7h-7zm-448 7h7v7h-7zm182 0h7v7h-7zm-168 7h7v7h-7zm196 0h7v7h-7zm-259 7h7v7h-7zm210 7h7v7h-7zm259 0h7v7h-7zm-84 14h7v7h-7zm-252 35h7v7h-7zm329 0h7v7h-7zm-322 7h7v7h-7zm7 7h21v7h-21zm-7 7h7v7h-7zm35 0h7v7h-7zm203 0h7v7h-7zm-189 7h7v7h-7zm182 7h7v7h-7zm112 14h7v7h-7zm-343 7h7v7h-7zm84 0h7v7h-7zm231 0h7v7h-7zm35 0h7v7h-7zm-259 7h7v7h-7zm266 0h7v7h-7zm-126 7h7v7h-7zm-259 7h7v7h-7zm210 7h7v7h-7zm-56 7h7v7h-7zm-280 7h7v7h-7zm49 0h14v7h-14zm56 0h7v7h-7zm147 0h7v7h-7zm49 0h7v7h-7zm56 0h7v7h-7zm-343 21h7v7h-7zm77 0h7v7h-7zm427 35h7v7h-7zm-266 14h7v7h-7zm-161 14h7v7h-7zm147 0h7v7h-7zm35 0h7v7h-7zm-42 7h7v7h-7zm126 0h7v7h-7zm-357 7h7v7h-7zm476 0h7v7h-7zm35 0h7v7h-7zm-518 7h7v7h-7zm154 0h7v7h-7zm357 0h7v7h-7z"/>
<path fill="#242424" d="M939 1195h7v7h-7zm168 0h7v7h-7zm-126 7h7v7h-7zm343 0h7v7h-7zm-21 14h7v7h-7zm-287 7h21v7h-21zm259 0h14v7h-14zm-301 7h7v7h-7zm98 0h7v7h-7zm259 0h7v7h-7zm-273 28h7v7h-7zm0 7h7v7h-7zm-84 21h7v7h-7zm49 14h7v7h-7zm-42 14h7v7h-7zm70 0h7v7h-7zm273 7h7v7h-7zm-392 7h7v7h-7zm287 0h7v7h-7zm112 0h7v7h-7zm-462 7h7v7h-7zm245 0h7v7h-7zm98 0h7v7h-7zm-329 7h7v7h-7zm287 0h7v7h-7zm175 0h7v7h-7zm-182 7h7v7h-7zm-7 7h7v7h-7zm-301 14h7v7h-7zm336 0h7v7h-7zm-91 7h7v7h-7zm-245 14h7v7h-7zm245 0h7v7h-7zm91 7h7v7h-7zm-350 14h7v7h-7zm98 0h7v7h-7zm259 0h7v7h-7zm-315 7h7v7h-7zm280 0h7v7h-7zm182 0h7v7h-7zm-266 7h7v7h-7zm259 0h7v7h-7zm-266 7h7v7h-7zm35 0h7v7h-7zm224 0h7v7h-7zm-483 7h7v7h-7zm511 0h7v7h-7zm-385 7h7v7h-7zm70 7h7v7h-7zm-42 7h7v7h-7zm21 0h7v7h-7zm231 0h7v7h-7zm-434 7h7v7h-7zm511 0h7v7h-7zm-273 7h7v7h-7zm168 7h7v7h-7zm-189 7h7v7h-7zm-14 7h7v7h-7zm210 0h7v7h-7zm84 0h7v7h-7zm-322 7h7v7h-7zm28 0h7v7h-7zm210 0h7v7h-7zm84 0h7v7h-7zm-252 28h7v7h-7zm7 7h7v7h-7zm224 0h7v7h-7zm-476 28h7v7h-7zm252 0h7v7h-7zm112 0h7v7h-7zm35 0h7v7h-7zm-392 7h7v7h-7zm35 0h7v7h-7zm63 0h7v7h-7zm35 0h7v7h-7zm119 0h7v7h-7zm133 0h7v7h-7zm-378 7h7v7h-7zm119 0h7v7h-7zm133 0h7v7h-7zm77 0h7v7h-7zm42 0h7v7h-7zm-98 28h7v7h-7zm-252 21h7v7h-7zm77 0h7v7h-7zm175 7h7v7h-7zm-259 7h7v7h-7zm91 0h7v7h-7zm259 0h7v7h-7zm-315 14h7v7h-7zm21 0h7v7h-7zm259 0h7v7h-7zm-294 7h7v7h-7zm217 0h7v7h-7zm-147 14h7v7h-7zm266 7h7v7h-7zm35 0h7v7h-7zm-28 7h7v7h-7z"/>
<path fill="#282828" d="M1338 1188h7v7h-7zm-483 7h7v7h-7zm119 0h7v7h-7zm217 0h7v7h-7zm140 0h7v7h-7zm-385 7h7v7h-7zm119 0h7v7h-7zm35 0h7v7h-7zm259 0h7v7h-7zm-406 7h7v7h-7zm140 0h7v7h-7zm154 0h7v7h-7zm-287 7h7v7h-7zm42 0h7v7h-7zm42 0h7v7h-7zm42 0h7v7h-7zm-119 7h7v7h-7zm112 0h7v7h-7zm259 0h7v7h-7zm-518 7h7v7h-7zm406 0h7v7h-7zm-245 14h7v7h-7zm0 28h7v7h-7zm343 7h7v7h-7zm-98 7h7v7h-7zm-259 7h7v7h-7zm105 0h7v7h-7zm-63 7h14v7h-14zm252 0h7v7h-7zm28 0h7v7h-7zm-42 7h7v7h-7zm56 0h7v7h-7zm-364 14h7v7h-7zm119 0h7v7h-7zm49 7h7v7h-7zm70 7h7v7h-7zm161 0h7v7h-7zm-434 7h7v7h-7zm182 7h7v7h-7zm49 0h7v7h-7zm-287 7h7v7h-7zm91 0h7v7h-7zm203 0h14v7h-14zm217 7h7v7h-7zm-504 14h7v7h-7zm336 0h7v7h-7zm-336 7h7v7h-7zm245 0h7v7h-7zm91 7h7v7h-7zm168 7h7v7h-7zm-217 14h14v7h-14zm-308 7h7v7h-7zm56 0h14v7h-14zm56 0h7v7h-7zm182 0h7v7h-7zm-301 7h7v7h-7zm42 0h7v7h-7zm301 0h7v7h-7zm-350 7h7v7h-7zm105 0h7v7h-7zm42 7h7v7h-7zm-126 7h7v7h-7zm392 0h7v7h-7zm119 0h7v7h-7zm-518 7h7v7h-7zm469 0h7v7h-7zm42 0h7v7h-7zm-518 7h7v7h-7zm182 0h14v7h-14zm280 0h7v7h-7zm49 0h7v7h-7zm-287 21h7v7h-7zm-21 14h7v7h-7zm0 7h7v7h-7zm-42 7h7v7h-7zm49 0h7v7h-7zm287 7h7v7h-7zm-266 7h7v7h-7zm161 7h7v7h-7zm42 7h7v7h-7zm-224 7h7v7h-7zm210 0h7v7h-7zm70 7h7v7h-7zm-203 21h7v7h-7zm245 21h7v7h-7zm-168 7h7v7h-7zm-336 14h7v7h-7zm77 0h7v7h-7zm-77 7h7v7h-7zm77 0h7v7h-7zm14 28h7v7h-7zm406 0h7v7h-7zm-462 7h14v7h-14zm252 0h7v7h-7zm14 0h7v7h-7zm-238 7h7v7h-7zm259 0h7v7h-7zm-70 14h7v7h-7zm126 0h7v7h-7zm91 0h7v7h-7zm-378 7h7v7h-7zm35 0h7v7h-7zm-28 7h7v7h-7zm98 0h7v7h-7z"/>
<path fill="#2c2c2c" d="M967 1188h7v7h-7zm105 7h7v7h-7zm-224 7h7v7h-7zm350 0h7v7h-7zm154 7h7v7h-7zm-91 7h7v7h-7zm84 0h7v7h-7zm-518 7h7v7h-7zm392 0h7v7h-7zm-154 21h7v7h-7zm168 0h7v7h-7zm91 0h7v7h-7zm-91 28h7v7h-7zm-168 7h7v7h-7zm-105 21h7v7h-7zm119 0h7v7h-7zm-126 7h7v7h-7zm42 0h7v7h-7zm42 0h7v7h-7zm-91 7h7v7h-7zm147 0h7v7h-7zm-119 7h7v7h-7zm126 0h7v7h-7zm-238 7h7v7h-7zm203 0h7v7h-7zm119 0h7v7h-7zm-266 7h7v7h-7zm154 0h7v7h-7zm-182 7h14v7h-14zm189 0h7v7h-7zm49 0h7v7h-7zm-287 7h7v7h-7zm315 0h7v7h-7zm42 7h7v7h-7zm-266 14h7v7h-7zm259 14h7v7h-7zm-259 14h7v7h-7zm161 7h7v7h-7zm112 14h7v7h-7zm-252 7h7v7h-7zm7 7h7v7h-7zm217 0h7v7h-7zm-77 7h7v7h-7zm126 0h7v7h-7zm-238 14h7v7h-7zm273 7h7v7h-7zm-42 14h7v7h-7zm105 7h7v7h-7zm-343 7h7v7h-7zm63 0h7v7h-7zm-56 7h7v7h-7zm0 7h7v7h-7zm-7 14h7v7h-7zm70 0h7v7h-7zm161 21h7v7h-7zm-210 7h7v7h-7zm203 0h7v7h-7zm-217 7h7v7h-7zm63 0h7v7h-7zm147 0h7v7h-7zm-7 7h7v7h-7zm-336 7h7v7h-7zm77 0h7v7h-7zm-56 14h7v7h-7zm35 0h7v7h-7zm217 0h7v7h-7zm224 7h7v7h-7zm-504 14h7v7h-7zm91 0h7v7h-7zm168 14h7v7h-7zm0 14h7v7h-7zm84 0h7v7h-7zm-91 14h7v7h-7zm-259 7h7v7h-7zm364 0h7v7h-7zm-56 7h7v7h-7zm63 0h7v7h-7zm133 0h7v7h-7zm-217 7h7v7h-7zm210 0h7v7h-7zm-476 7h7v7h-7zm364 0h7v7h-7zm105 0h7v7h-7zm-357 7h7v7h-7zm126 7h7v7h-7zm-7 7h7v7h-7zm161 0h7v7h-7zm49 0h7v7h-7z"/>
<path fill="#303030" d="M925 1188h7v7h-7zm154 0h7v7h-7zm42 0h7v7h-7zm119 14h7v7h-7zm-399 7h7v7h-7zm364 0h7v7h-7zm105 0h7v7h-7zm-476 7h7v7h-7zm378 0h7v7h-7zm84 0h7v7h-7zm-315 35h7v7h-7zm0 14h7v7h-7zm343 7h7v7h-7zm-504 14h7v7h-7zm511 0h7v7h-7zm-112 7h7v7h-7zm49 7h7v7h-7zm14 0h7v7h-7zm-196 7h7v7h-7zm112 7h7v7h-7zm-343 7h7v7h-7zm336 0h7v7h-7zm-224 7h7v7h-7zm-91 7h7v7h-7zm77 7h7v7h-7zm-7 7h7v7h-7zm196 0h14v7h-14zm-49 14h7v7h-7zm-245 35h7v7h-7zm287 21h7v7h-7zm21 0h7v7h-7zm-245 7h7v7h-7zm210 0h7v7h-7zm91 0h7v7h-7zm7 7h7v7h-7zm-287 7h7v7h-7zm252 0h7v7h-7zm-133 7h7v7h-7zm42 0h7v7h-7zm217 0h7v7h-7zm-63 7h7v7h-7zm21 7h7v7h-7zm14 0h7v7h-7zm-308 21h7v7h-7zm252 7h7v7h-7zm-189 7h7v7h-7zm0 7h7v7h-7zm7 7h7v7h-7zm182 7h7v7h-7zm-252 7h7v7h-7zm357 0h7v7h-7zm-511 7h7v7h-7zm448 7h7v7h-7zm21 0h7v7h-7zm-49 14h7v7h-7zm84 7h7v7h-7zm-154 14h7v7h-7zm-14 7h7v7h-7zm42 14h7v7h-7zm-98 7h7v7h-7zm91 7h7v7h-7zm-84 14h7v7h-7zm84 0h7v7h-7zm-252 14h7v7h-7zm420 0h7v7h-7zm-525 21h7v7h-7zm119 0h7v7h-7zm-77 7h7v7h-7zm84 0h7v7h-7zm259 0h7v7h-7zm-399 7h7v7h-7zm147 0h7v7h-7zm217 0h7v7h-7zm-126 14h7v7h-7z"/>
<path fill="#343434" d="M869 1188h7v7h-7zm308 0h7v7h-7zm56 7h7v7h-7zm-238 14h7v7h-7zm56 0h7v7h-7zm-42 7h7v7h-7zm28 0h7v7h-7zm-63 21h7v7h-7zm98 0h7v7h-7zm259 0h7v7h-7zm-266 14h7v7h-7zm168 0h7v7h-7zm91 0h7v7h-7zm-343 7h7v7h-7zm252 7h7v7h-7zm-259 14h7v7h-7zm-147 14h7v7h-7zm511 0h7v7h-7zm-126 7h7v7h-7zm63 0h7v7h-7zm-245 7h7v7h-7zm175 0h7v7h-7zm-357 7h7v7h-7zm196 0h7v7h-7zm196 0h7v7h-7zm70 0h7v7h-7zm-490 14h7v7h-7zm7 7h7v7h-7zm133 0h7v7h-7zm161 0h7v7h-7zm-287 7h7v7h-7zm329 0h7v7h-7zm189 14h7v7h-7zm-504 7h7v7h-7zm511 7h7v7h-7zm-427 7h7v7h-7zm0 14h7v7h-7zm427 0h7v7h-7zm-161 14h7v7h-7zm154 0h7v7h-7zm-203 14h7v7h-7zm-273 7h7v7h-7zm-14 7h7v7h-7zm77 14h7v7h-7zm252 0h7v7h-7zm-154 7h7v7h-7zm49 0h7v7h-7zm112 0h7v7h-7zm-119 7h7v7h-7zm126 0h7v7h-7zm70 0h7v7h-7zm-203 7h7v7h-7zm140 0h7v7h-7zm-245 7h7v7h-7zm364 0h7v7h-7zm-7 14h7v7h-7zm0 21h7v7h-7zm-357 21h7v7h-7zm-140 7h7v7h-7zm133 0h7v7h-7zm315 0h14v7h-14zm-266 7h7v7h-7zm21 0h7v7h-7zm273 0h7v7h-7zm-462 7h7v7h-7zm105 0h7v7h-7zm-98 7h7v7h-7zm91 0h7v7h-7zm42 0h7v7h-7zm126 7h7v7h-7zm224 0h7v7h-7zm7 7h7v7h-7zm-455 7h7v7h-7zm21 0h7v7h-7zm231 0h7v7h-7zm210 0h7v7h-7zm-504 14h7v7h-7zm105 0h7v7h-7zm413 7h7v7h-7zm-168 14h7v7h-7zm-343 21h7v7h-7zm350 0h7v7h-7zm-105 14h7v7h-7zm-266 14h7v7h-7zm84 0h7v7h-7zm259 0h7v7h-7zm-245 7h7v7h-7zm196 0h7v7h-7zm-266 7h7v7h-7zm455 7h7v7h-7zm-315 7h7v7h-7z"/>
<path fill="#383838" d="M1226 1188h7v7h-7zm-294 7h7v7h-7zm182 0h7v7h-7zm203 7h7v7h-7zm-63 7h7v7h-7zm14 7h7v7h-7zm21 0h7v7h-7zm-469 21h7v7h-7zm406 0h7v7h-7zm7 21h7v7h-7zm91 0h7v7h-7zm0 7h7v7h-7zm-259 7h7v7h-7zm7 14h7v7h-7zm-238 14h7v7h-7zm511 0h7v7h-7zm-504 7h7v7h-7zm161 0h7v7h-7zm252 0h7v7h-7zm42 0h7v7h-7zm56 0h7v7h-7zm-364 7h7v7h-7zm371 0h7v7h-7zm-126 7h7v7h-7zm84 0h7v7h-7zm-392 7h7v7h-7zm189 0h7v7h-7zm56 7h7v7h-7zm-35 7h7v7h-7zm70 7h7v7h-7zm140 0h7v7h-7zm-147 14h7v7h-7zm-105 7h7v7h-7zm266 7h7v7h-7zm-427 7h7v7h-7zm427 0h7v7h-7zm-511 7h7v7h-7zm245 7h7v7h-7zm-252 7h7v7h-7zm98 0h7v7h-7zm147 7h7v7h-7zm259 0h7v7h-7zm-203 7h7v7h-7zm21 7h7v7h-7zm-49 7h7v7h-7zm203 7h7v7h-7zm-371 14h7v7h-7zm350 0h7v7h-7zm-343 7h7v7h-7zm7 7h7v7h-7zm-140 7h7v7h-7zm245 0h7v7h-7zm-7 7h7v7h-7zm-7 7h7v7h-7zm-70 7h7v7h-7zm63 0h7v7h-7zm182 0h7v7h-7zm98 0h7v7h-7zm-280 7h7v7h-7zm182 0h7v7h-7zm98 0h7v7h-7zm-343 7h7v7h-7zm245 0h7v7h-7zm-7 14h7v7h-7zm119 7h7v7h-7zm7 7h7v7h-7zm-511 7h7v7h-7zm119 0h7v7h-7zm63 0h14v7h-14zm238 0h7v7h-7zm105 7h7v7h-7zm-301 7h7v7h-7zm42 0h7v7h-7zm133 0h7v7h-7zm-364 14h7v7h-7zm49 0h7v7h-7zm-28 7h14v7h-14zm252 0h14v7h-14zm63 7h7v7h-7zm-112 7h7v7h-7zm-245 14h7v7h-7zm91 0h7v7h-7zm413 35h7v7h-7zm-217 21h7v7h-7zm-70 14h7v7h-7zm126 0h7v7h-7zm-343 7h7v7h-7zm399 0h7v7h-7zm112 0h7v7h-7zm-315 7h7v7h-7zm217 0h7v7h-7zm35 0h7v7h-7zm56 0h7v7h-7z"/>
<path fill="#3c3c3c" d="M820 1188h7v7h-7zm42 7h7v7h-7zm322 0h7v7h-7zm-196 7h7v7h-7zm70 0h7v7h-7zm-42 14h21v7h-21zm259 0h14v7h-14zm-308 14h7v7h-7zm112 0h7v7h-7zm259 0h7v7h-7zm-273 28h7v7h-7zm0 7h7v7h-7zm161 14h7v7h-7zm-203 28h7v7h-7zm28 14h7v7h-7zm-182 7h7v7h-7zm455 0h7v7h-7zm-441 7h7v7h-7zm28 0h7v7h-7zm245 7h7v7h-7zm56 0h7v7h-7zm126 0h7v7h-7zm-252 14h7v7h-7zm-147 7h7v7h-7zm-91 7h7v7h-7zm231 49h7v7h-7zm259 0h7v7h-7zm-455 7h7v7h-7zm21 0h7v7h-7zm224 0h7v7h-7zm-210 7h7v7h-7zm406 0h7v7h-7zm-469 7h7v7h-7zm203 0h7v7h-7zm-77 7h7v7h-7zm259 0h7v7h-7zm-245 7h7v7h-7zm259 0h7v7h-7zm84 14h7v7h-7zm-119 14h7v7h-7zm-238 21h7v7h-7zm70 7h7v7h-7zm7 7h7v7h-7zm7 7h7v7h-7zm7 7h7v7h-7zm280 14h7v7h-7zm-357 7h7v7h-7zm49 0h7v7h-7zm49 0h7v7h-7zm-119 14h7v7h-7zm91 0h7v7h-7zm112 0h7v7h-7zm49 0h7v7h-7zm-105 7h7v7h-7zm91 7h7v7h-7zm-378 7h7v7h-7zm119 0h7v7h-7zm133 0h7v7h-7zm14 21h7v7h-7zm259 0h7v7h-7zm-511 21h7v7h-7zm91 0h7v7h-7zm420 0h7v7h-7zm-259 7h7v7h-7zm-154 7h7v7h-7zm140 14h7v7h-7zm-203 7h7v7h-7zm21 0h7v7h-7zm175 0h7v7h-7zm84 0h7v7h-7zm-91 7h7v7h-7zm-140 7h7v7h-7zm182 0h7v7h-7zm203 0h7v7h-7zm-329 7h7v7h-7zm210 0h7v7h-7zm-357 7h7v7h-7z"/>
<path fill="#404040" d="M876 1188h7v7h-7zm42 0h7v7h-7zm210 0h7v7h-7zm42 0h7v7h-7zm-189 7h7v7h-7zm343 0h7v7h-7zm-385 7h7v7h-7zm168 0h7v7h-7zm196 7h7v7h-7zm-476 21h7v7h-7zm392 0h7v7h-7zm-245 14h7v7h-7zm0 28h7v7h-7zm-154 7h7v7h-7zm511 0h7v7h-7zm-364 7h7v7h-7zm112 7h7v7h-7zm-70 14h14v7h-14zm-77 14h7v7h-7zm175 0h7v7h-7zm70 7h7v7h-7zm49 0h7v7h-7zm-98 7h7v7h-7zm91 0h7v7h-7zm112 0h7v7h-7zm-189 7h14v7h-14zm-63 7h7v7h-7zm-238 7h7v7h-7zm511 7h7v7h-7zm-504 14h7v7h-7zm245 0h7v7h-7zm-245 7h7v7h-7zm245 7h7v7h-7zm105 7h7v7h-7zm154 0h7v7h-7zm-518 14h7v7h-7zm112 0h7v7h-7zm259 0h7v7h-7zm-315 14h14v7h-14zm182 0h7v7h-7zm84 0h7v7h-7zm175 0h7v7h-7zm-266 7h7v7h-7zm105 0h7v7h-7zm-322 14h7v7h-7zm511 0h7v7h-7zm-329 7h7v7h-7zm322 0h7v7h-7zm-7 7h7v7h-7zm-518 7h7v7h-7zm147 21h7v7h-7zm77 7h7v7h-7zm-77 21h7v7h-7zm357 0h7v7h-7zm-119 14h7v7h-7zm-133 7h7v7h-7zm7 7h7v7h-7zm210 0h7v7h-7zm14 7h7v7h-7zm-490 21h7v7h-7zm147 0h7v7h-7zm105 0h7v7h-7zm91 0h7v7h-7zm56 0h7v7h-7zm-392 7h7v7h-7zm133 0h7v7h-7zm119 0h7v7h-7zm273 14h7v7h-7zm-154 7h7v7h-7zm-350 14h7v7h-7zm91 0h7v7h-7zm-91 7h7v7h-7zm91 0h7v7h-7zm420 0h7v7h-7zm-161 7h7v7h-7zm-357 14h7v7h-7zm364 0h7v7h-7zm140 7h7v7h-7zm-455 14h14v7h-14zm252 0h7v7h-7zm-273 7h7v7h-7zm371 7h7v7h-7zm-301 7h7v7h-7zm63 7h7v7h-7zm203 0h7v7h-7zm84 0h7v7h-7z"/>
<path fill="#444444" d="M1331 1188h7v7h-7zm-266 7h7v7h-7zm-210 7h7v7h-7zm336 0h7v7h-7zm56 0h7v7h-7zm-301 7h7v7h-7zm56 0h7v7h-7zm42 0h7v7h-7zm56 0h7v7h-7zm259 0h7v7h-7zm-406 7h7v7h-7zm140 0h7v7h-7zm259 0h7v7h-7zm-392 7h7v7h-7zm126 0h7v7h-7zm259 0h7v7h-7zm-273 21h7v7h-7zm154 0h7v7h-7zm105 0h7v7h-7zm-259 35h7v7h-7zm147 7h7v7h-7zm-259 7h7v7h-7zm126 7h7v7h-7zm7 7h7v7h-7zm168 0h7v7h-7zm28 0h7v7h-7zm-252 7h7v7h-7zm63 0h7v7h-7zm147 0h7v7h-7zm56 0h7v7h-7zm-322 7h7v7h-7zm203 0h7v7h-7zm-126 7h7v7h-7zm-168 7h21v7h-21zm175 0h7v7h-7zm98 0h7v7h-7zm-91 7h7v7h-7zm126 28h7v7h-7zm-105 14h7v7h-7zm-266 35h7v7h-7zm-7 7h7v7h-7zm49 7h7v7h-7zm105 7h7v7h-7zm133 0h7v7h-7zm126 0h7v7h-7zm-189 7h7v7h-7zm259 0h7v7h-7zm-462 7h7v7h-7zm448 0h7v7h-7zm-455 7h7v7h-7zm497 21h7v7h-7zm-280 21h7v7h-7zm-231 21h7v7h-7zm441 21h7v7h-7zm-14 7h7v7h-7zm-63 7h7v7h-7zm-322 7h7v7h-7zm63 0h7v7h-7zm-49 7h7v7h-7zm35 0h7v7h-7zm189 42h7v7h-7zm259 0h7v7h-7zm-259 14h7v7h-7zm-147 21h7v7h-7zm259 0h7v7h-7zm126 7h7v7h-7zm-189 7h14v7h-14zm182 0h7v7h-7zm-413 7h7v7h-7zm210 0h7v7h-7zm49 0h7v7h-7zm147 0h7v7h-7zm-343 7h7v7h-7zm70 7h7v7h-7zm56 0h7v7h-7zm196 0h7v7h-7zm-357 7h7v7h-7zm91 0h7v7h-7zm231 0h7v7h-7zm14 0h7v7h-7z"/>
<path fill="#484848" d="M974 1188h7v7h-7zm98 0h7v7h-7zm-224 21h7v7h-7zm350 0h7v7h-7zm63 0h7v7h-7zm-420 7h7v7h-7zm364 0h7v7h-7zm-371 7h7v7h-7zm378 0h7v7h-7zm-392 21h7v7h-7zm154 7h7v7h-7zm252 21h7v7h-7zm105 0h7v7h-7zm-504 14h7v7h-7zm511 0h7v7h-7zm-56 21h7v7h-7zm-343 7h7v7h-7zm56 0h7v7h-7zm-133 7h7v7h-7zm-28 28h7v7h-7zm112 7h7v7h-7zm-7 14h7v7h-7zm259 7h7v7h-7zm0 14h7v7h-7zm-357 7h7v7h-7zm98 0h7v7h-7zm147 7h7v7h-7zm-133 14h7v7h-7zm259 0h7v7h-7zm-77 7h7v7h-7zm14 0h7v7h-7zm-182 7h7v7h-7zm259 0h7v7h-7zm-301 7h7v7h-7zm252 0h7v7h-7zm-77 7h7v7h-7zm-98 7h7v7h-7zm21 0h7v7h-7zm238 0h7v7h-7zm21 0h7v7h-7zm-70 21h7v7h-7zm-245 7h7v7h-7zm91 7h7v7h-7zm-84 21h7v7h-7zm245 7h7v7h-7zm-252 7h7v7h-7zm238 14h7v7h-7zm-7 7h7v7h-7zm-7 7h7v7h-7zm126 7h7v7h-7zm-203 7h7v7h-7zm14 7h7v7h-7zm217 14h7v7h-7zm-504 14h7v7h-7zm105 0h7v7h-7zm252 7h7v7h-7zm-98 14h7v7h-7zm98 0h7v7h-7zm154 14h7v7h-7zm-259 7h7v7h-7zm-259 7h7v7h-7zm385 7h7v7h-7zm7 7h7v7h-7zm7 7h7v7h-7zm21 14h7v7h-7zm-154 7h7v7h-7zm175 0h7v7h-7z"/>
<path fill="#4c4c4c" d="M883 1188h7v7h-7zm28 0h7v7h-7zm224 0h7v7h-7zm28 0h7v7h-7zm-238 7h7v7h-7zm196 0h7v7h-7zm119 0h7v7h-7zm56 14h7v7h-7zm35 42h7v7h-7zm-357 7h7v7h-7zm0 7h7v7h-7zm-154 7h7v7h-7zm392 21h7v7h-7zm-259 7h7v7h-7zm-7 7h7v7h-7zm322 0h14v7h-14zm-77 7h7v7h-7zm-315 14h7v7h-7zm42 0h7v7h-7zm56 0h7v7h-7zm147 0h7v7h-7zm14 7h7v7h-7zm-182 14h7v7h-7zm252 7h7v7h-7zm140 0h7v7h-7zm-259 7h7v7h-7zm266 7h7v7h-7zm-154 14h7v7h-7zm154 7h7v7h-7zm-7 14h7v7h-7zm-385 21h7v7h-7zm182 0h7v7h-7zm77 0h7v7h-7zm-308 7h7v7h-7zm210 0h7v7h-7zm63 14h7v7h-7zm63 0h7v7h-7zm-238 7h14v7h-14zm259 0h14v7h-14zm-448 28h7v7h-7zm245 0h7v7h-7zm154 7h7v7h-7zm112 0h7v7h-7zm-357 7h7v7h-7zm0 7h7v7h-7zm84 7h7v7h-7zm273 0h7v7h-7zm7 14h7v7h-7zm-511 7h7v7h-7zm441 14h7v7h-7zm21 0h7v7h-7zm-287 7h7v7h-7zm35 0h7v7h-7zm-182 7h7v7h-7zm77 0h7v7h-7zm56 0h7v7h-7zm63 0h7v7h-7zm273 7h7v7h-7zm-168 7h7v7h-7zm49 21h7v7h-7zm-112 7h7v7h-7zm105 14h7v7h-7zm-252 21h7v7h-7zm-119 21h7v7h-7zm133 0h7v7h-7zm7 7h7v7h-7zm7 7h7v7h-7zm-112 7h7v7h-7zm147 14h7v7h-7z"/>
<path fill="#505050" d="M869 1195h7v7h-7zm308 0h7v7h-7zm-182 7h7v7h-7zm315 0h7v7h-7zm-301 7h7v7h-7zm28 0h7v7h-7zm-70 28h7v7h-7zm371 0h7v7h-7zm-518 14h7v7h-7zm252 0h7v7h-7zm154 0h7v7h-7zm105 7h7v7h-7zm-105 7h7v7h-7zm105 0h7v7h-7zm-259 7h7v7h-7zm-238 21h7v7h-7zm511 0h7v7h-7zm-140 7h7v7h-7zm-7 7h7v7h-7zm-343 7h7v7h-7zm455 7h7v7h-7zm-490 14h7v7h-7zm147 0h7v7h-7zm189 0h7v7h-7zm-329 7h7v7h-7zm133 0h7v7h-7zm-119 21h7v7h-7zm511 14h7v7h-7zm0 7h7v7h-7zm-189 49h7v7h-7zm-301 7h7v7h-7zm448 0h7v7h-7zm-378 7h7v7h-7zm56 0h7v7h-7zm105 7h7v7h-7zm98 0h7v7h-7zm-105 7h7v7h-7zm-7 7h7v7h-7zm126 0h7v7h-7zm-245 7h7v7h-7zm112 0h7v7h-7zm266 0h7v7h-7zm-280 21h7v7h-7zm161 14h7v7h-7zm-154 7h7v7h-7zm-105 14h7v7h-7zm315 14h14v7h-14zm28 7h7v7h-7zm-63 7h7v7h-7zm-70 7h7v7h-7zm-287 7h7v7h-7zm21 0h7v7h-7zm427 0h7v7h-7zm7 7h7v7h-7zm14 21h7v7h-7zm-511 35h7v7h-7zm364 0h7v7h-7zm-385 28h7v7h-7zm56 7h7v7h-7zm294 0h7v7h-7zm-112 7h7v7h-7zm126 0h7v7h-7zm-189 7h7v7h-7zm35 7h7v7h-7z"/>
<path fill="#545454" d="M890 1188h7v7h-7zm14 0h7v7h-7zm238 0h7v7h-7zm14 0h7v7h-7zm77 0h7v7h-7zm-182 14h7v7h-7zm217 7h7v7h-7zm-189 28h7v7h-7zm140 0h7v7h-7zm-399 21h7v7h-7zm406 0h7v7h-7zm-406 7h7v7h-7zm147 14h7v7h-7zm112 7h7v7h-7zm-238 14h7v7h-7zm511 0h7v7h-7zm-504 7h7v7h-7zm511 0h7v7h-7zm-329 7h7v7h-7zm14 7h7v7h-7zm70 0h7v7h-7zm126 0h7v7h-7zm-70 7h7v7h-7zm-28 7h14v7h-14zm-203 42h7v7h-7zm0 14h7v7h-7zm266 14h7v7h-7zm-126 7h7v7h-7zm-203 21h7v7h-7zm175 7h7v7h-7zm245 7h7v7h-7zm-98 14h7v7h-7zm21 35h7v7h-7zm112 0h7v7h-7zm-273 7h7v7h-7zm161 0h7v7h-7zm112 0h7v7h-7zm-511 14h7v7h-7zm525 14h7v7h-7zm-511 7h7v7h-7zm119 0h7v7h-7zm-112 7h7v7h-7zm105 0h7v7h-7zm-98 7h7v7h-7zm91 0h7v7h-7zm168 7h7v7h-7zm28 14h7v7h-7zm14 0h7v7h-7zm-315 21h7v7h-7zm119 0h7v7h-7zm-112 14h7v7h-7zm105 0h7v7h-7zm140 42h7v7h-7zm-175 21h7v7h-7zm224 0h7v7h-7zm-210 7h7v7h-7zm196 0h7v7h-7zm189 0h7v7h-7zm-455 7h7v7h-7zm441 0h7v7h-7zm-280 7h14v7h-14zm343 0h7v7h-7z"/>
<path fill="#585858" d="M897 1188h7v7h-7zm252 0h7v7h-7zm-133 21h7v7h-7zm273 0h7v7h-7zm-462 28h7v7h-7zm245 21h7v7h-7zm0 7h7v7h-7zm147 14h7v7h-7zm-217 35h7v7h-7zm252 0h7v7h-7zm42 0h7v7h-7zm21 14h7v7h-7zm-105 21h7v7h-7zm126 0h7v7h-7zm-259 7h7v7h-7zm7 14h7v7h-7zm-147 14h7v7h-7zm-98 7h7v7h-7zm245 7h7v7h-7zm-252 7h7v7h-7zm112 0h7v7h-7zm392 7h7v7h-7zm-21 21h7v7h-7zm-280 14h7v7h-7zm-98 7h7v7h-7zm7 7h7v7h-7zm7 7h7v7h-7zm392 0h7v7h-7zm-518 7h7v7h-7zm-7 14h7v7h-7zm147 28h7v7h-7zm105 7h7v7h-7zm140 0h7v7h-7zm140 14h7v7h-7zm7 7h7v7h-7zm-350 7h7v7h-7zm21 0h7v7h-7zm224 0h7v7h-7zm-385 14h7v7h-7zm49 0h7v7h-7zm63 0h7v7h-7zm-91 7h14v7h-14zm252 0h7v7h-7zm70 14h7v7h-7zm-126 7h7v7h-7zm-140 35h7v7h-7zm406 0h7v7h-7zm-259 7h7v7h-7zm252 7h7v7h-7zm-266 14h7v7h-7zm-14 14h7v7h-7zm182 7h7v7h-7zm-203 7h7v7h-7zm217 0h7v7h-7z"/>
<path fill="#5c5c5c" d="M1317 1195h7v7h-7zm-385 7h7v7h-7zm182 0h7v7h-7zm140 0h7v7h-7zm-231 7h14v7h-14zm252 0h14v7h-14zm63 70h7v7h-7zm-315 35h7v7h-7zm-98 7h7v7h-7zm63 0h7v7h-7zm-105 7h7v7h-7zm28 0h7v7h-7zm140 0h7v7h-7zm77 0h7v7h-7zm105 0h7v7h-7zm91 7h7v7h-7zm7 7h7v7h-7zm-126 21h7v7h-7zm-364 7h7v7h-7zm490 49h7v7h-7zm-7 7h7v7h-7zm-420 7h7v7h-7zm154 0h7v7h-7zm70 0h7v7h-7zm-14 7h7v7h-7zm126 0h7v7h-7zm-385 7h7v7h-7zm357 35h7v7h-7zm-245 7h7v7h-7zm49 63h14v7h-14zm84 0h7v7h-7zm-42 14h7v7h-7zm175 0h7v7h-7zm-406 21h7v7h-7zm133 0h7v7h-7zm133 21h7v7h-7zm259 0h7v7h-7zm-511 21h7v7h-7zm231 35h7v7h-7zm-189 7h7v7h-7zm308 14h7v7h-7zm-343 7h7v7h-7z"/>
<path fill="#606060" d="M988 1195h7v7h-7zm-126 7h7v7h-7zm322 0h7v7h-7zm-224 28h7v7h-7zm126 0h7v7h-7zm259 0h7v7h-7zm-518 49h7v7h-7zm259 14h7v7h-7zm-77 21h7v7h-7zm98 0h7v7h-7zm-238 7h7v7h-7zm308 0h7v7h-7zm49 14h7v7h-7zm-7 7h7v7h-7zm-385 14h7v7h-7zm112 7h7v7h-7zm399 0h7v7h-7zm-504 14h7v7h-7zm0 7h7v7h-7zm504 14h7v7h-7zm-518 14h7v7h-7zm245 7h7v7h-7zm-7 7h7v7h-7zm-182 7h7v7h-7zm273 0h7v7h-7zm-238 7h7v7h-7zm252 0h7v7h-7zm84 7h7v7h-7zm105 7h7v7h-7zm-7 7h7v7h-7zm-518 7h7v7h-7zm231 21h7v7h-7zm-245 21h7v7h-7zm518 7h7v7h-7zm-259 14h7v7h-7zm98 28h7v7h-7zm-56 7h7v7h-7zm-147 7h7v7h-7zm252 0h7v7h-7zm-259 7h7v7h-7zm252 0h7v7h-7zm-140 7h7v7h-7zm266 7h7v7h-7zm-140 7h7v7h-7zm-364 14h7v7h-7zm105 0h7v7h-7zm-105 7h7v7h-7zm105 0h7v7h-7zm406 0h7v7h-7zm-518 21h7v7h-7zm119 0h7v7h-7zm259 0h7v7h-7zm126 7h7v7h-7zm-434 21h7v7h-7zm238 0h7v7h-7zm21 0h7v7h-7zm154 0h7v7h-7zm-329 7h7v7h-7zm-56 7h7v7h-7zm182 0h7v7h-7zm84 7h7v7h-7z"/>
<path fill="#646464" d="M1324 1188h7v7h-7zm-406 7h7v7h-7zm140 0h7v7h-7zm70 0h7v7h-7zm42 0h7v7h-7zm133 7h7v7h-7zm-364 7h7v7h-7zm168 0h7v7h-7zm-273 21h7v7h-7zm378 0h7v7h-7zm-245 14h7v7h-7zm371 0h7v7h-7zm-378 42h7v7h-7zm133 14h7v7h-7zm7 7h7v7h-7zm-84 7h7v7h-7zm147 14h7v7h-7zm-105 7h7v7h-7zm14 14h7v7h-7zm14 28h7v7h-7zm0 14h7v7h-7zm126 21h7v7h-7zm-322 21h14v7h-14zm91 7h7v7h-7zm-133 14h7v7h-7zm-7 7h7v7h-7zm497 21h7v7h-7zm-518 14h7v7h-7zm245 14h7v7h-7zm140 21h7v7h-7zm-119 7h7v7h-7zm7 7h7v7h-7zm203 7h7v7h-7zm-301 7h7v7h-7zm315 0h7v7h-7zm-245 14h7v7h-7zm-245 7h7v7h-7zm252 0h7v7h-7zm280 35h7v7h-7zm-259 14h7v7h-7zm112 0h7v7h-7zm119 35h7v7h-7zm-434 7h7v7h-7zm350 0h7v7h-7zm-371 7h7v7h-7zm420 7h7v7h-7z"/>
<path fill="#686868" d="M981 1188h7v7h-7zm-105 7h7v7h-7zm126 7h7v7h-7zm189 7h7v7h-7zm168 7h7v7h-7zm-406 7h7v7h-7zm140 0h7v7h-7zm259 0h7v7h-7zm-273 21h7v7h-7zm140 0h7v7h-7zm-252 28h7v7h-7zm112 7h7v7h-7zm-147 35h7v7h-7zm329 0h7v7h-7zm28 0h7v7h-7zm-399 14h7v7h-7zm14 0h7v7h-7zm161 14h7v7h-7zm21 42h7v7h-7zm119 14h7v7h-7zm-252 14h7v7h-7zm-133 7h7v7h-7zm315 14h7v7h-7zm98 0h7v7h-7zm-238 14h7v7h-7zm112 0h7v7h-7zm182 0h7v7h-7zm-322 49h7v7h-7zm-147 7h7v7h-7zm147 7h7v7h-7zm-140 14h7v7h-7zm217 35h7v7h-7zm119 7h7v7h-7zm-70 49h7v7h-7zm238 42h7v7h-7zm-434 14h7v7h-7zm252 0h14v7h-14zm28 7h7v7h-7zm-175 7h7v7h-7zm266 0h7v7h-7zm-329 7h7v7h-7zm168 0h7v7h-7z"/>
<path fill="#6c6c6c" d="M1065 1188h7v7h-7zm182 7h7v7h-7zm-203 7h7v7h-7zm-189 7h7v7h-7zm91 7h7v7h-7zm154 0h7v7h-7zm-259 7h7v7h-7zm364 0h7v7h-7zm-378 21h7v7h-7zm392 28h7v7h-7zm-7 14h7v7h-7zm-28 28h7v7h-7zm-147 7h7v7h-7zm266 0h7v7h-7zm-406 7h7v7h-7zm84 0h7v7h-7zm154 0h7v7h-7zm7 105h14v7h-14zm-273 7h7v7h-7zm434 0h7v7h-7zm-126 7h7v7h-7zm-217 35h7v7h-7zm112 0h7v7h-7zm-7 14h7v7h-7zm147 21h7v7h-7zm-252 7h7v7h-7zm224 28h7v7h-7zm77 0h7v7h-7zm-399 7h7v7h-7zm63 0h7v7h-7zm28 42h7v7h-7zm252 7h7v7h-7zm-112 14h7v7h-7zm-7 21h7v7h-7zm-126 7h7v7h-7zm259 0h7v7h-7zm-301 28h7v7h-7zm133 0h7v7h-7zm77 0h7v7h-7zm175 0h7v7h-7zm-266 7h7v7h-7zm238 0h14v7h-14z"/>
<path fill="#707070" d="M1261 1202h7v7h-7zm-413 14h7v7h-7zm350 0h7v7h-7zm140 56h7v7h-7zm-504 14h7v7h-7zm511 0h7v7h-7zm-392 7h7v7h-7zm-14 14h7v7h-7zm-77 7h7v7h-7zm259 7h7v7h-7zm126 0h7v7h-7zm-420 28h7v7h-7zm126 7h7v7h-7zm252 14h7v7h-7zm140 0h7v7h-7zm0 21h7v7h-7zm-511 7h7v7h-7zm112 0h7v7h-7zm133 7h7v7h-7zm140 14h7v7h-7zm7 7h7v7h-7zm-252 7h7v7h-7zm56 14h7v7h-7zm231 0h7v7h-7zm-56 28h7v7h-7zm-238 28h7v7h-7zm98 0h7v7h-7zm133 35h7v7h-7zm-7 7h7v7h-7zm56 14h7v7h-7zm-371 7h7v7h-7zm35 0h7v7h-7zm406 0h7v7h-7zm21 21h7v7h-7zm-504 14h7v7h-7zm371 21h7v7h-7zm140 14h7v7h-7zm-518 14h7v7h-7zm399 7h7v7h-7zm7 7h7v7h-7zm-252 7h7v7h-7z"/>
<path fill="#747474" d="M967 1251h7v7h-7zm371 0h7v7h-7zm-371 14h7v7h-7zm-140 7h7v7h-7zm119 28h7v7h-7zm322 14h7v7h-7zm14 0h7v7h-7zm-287 7h7v7h-7zm161 7h7v7h-7zm182 28h7v7h-7zm-259 7h7v7h-7zm-133 7h7v7h-7zm259 21h7v7h-7zm133 14h7v7h-7zm-378 14h7v7h-7zm84 21h7v7h-7zm77 0h7v7h-7zm-196 7h7v7h-7zm357 0h7v7h-7zm-182 7h7v7h-7zm-21 21h7v7h-7zm-252 7h7v7h-7zm385 7h7v7h-7zm126 0h7v7h-7zm0 21h7v7h-7zm-266 7h7v7h-7zm273 7h7v7h-7zm-133 70h7v7h-7zm-126 7h7v7h-7zm119 14h7v7h-7zm-238 42h7v7h-7zm7 7h7v7h-7zm280 14h7v7h-7z"/>
<path fill="#787878" d="M911 1195h7v7h-7zm224 0h7v7h-7zm84 56h7v7h-7zm-252 7h7v7h-7zm112 14h7v7h-7zm126 21h7v7h-7zm-14 14h7v7h-7zm84 7h7v7h-7zm-357 7h7v7h-7zm224 7h7v7h-7zm-322 14h7v7h-7zm392 14h7v7h-7zm-7 21h7v7h-7zm-238 49h7v7h-7zm196 14h7v7h-7zm84 0h7v7h-7zm21 7h7v7h-7zm-84 7h7v7h-7zm14 14h7v7h-7zm147 7h7v7h-7zm-511 56h7v7h-7zm119 0h7v7h-7zm336 21h7v7h-7zm-175 7h7v7h-7zm14 7h7v7h-7zm196 7h7v7h-7zm7 7h7v7h-7zm-497 56h7v7h-7zm119 0h7v7h-7zm-133 21h7v7h-7zm42 28h7v7h-7zm147 0h7v7h-7z"/>
<path fill="#7c7c7c" d="M1240 1188h7v7h-7zm-357 7h7v7h-7zm280 0h7v7h-7zm147 0h7v7h-7zm-385 7h7v7h-7zm196 0h7v7h-7zm175 0h7v7h-7zm-469 49h7v7h-7zm252 0h7v7h-7zm259 7h7v7h-7zm-119 7h7v7h-7zm119 0h7v7h-7zm-497 28h7v7h-7zm511 0h7v7h-7zm-154 7h7v7h-7zm-343 7h7v7h-7zm21 14h7v7h-7zm294 0h7v7h-7zm-21 7h7v7h-7zm161 0h7v7h-7zm-336 7h7v7h-7zm-14 14h7v7h-7zm-126 14h7v7h-7zm511 14h7v7h-7zm-140 7h7v7h-7zm140 0h7v7h-7zm-35 49h7v7h-7zm-399 7h7v7h-7zm91 7h7v7h-7zm273 0h7v7h-7zm-182 14h7v7h-7zm98 0h7v7h-7zm-105 7h7v7h-7zm-133 7h7v7h-7zm385 28h7v7h-7zm-126 7h7v7h-7zm-357 42h7v7h-7zm77 0h7v7h-7zm336 0h7v7h-7zm-280 14h7v7h-7zm168 0h7v7h-7zm189 35h7v7h-7zm-287 70h7v7h-7zm-182 7h7v7h-7zm154 7h7v7h-7z"/>
<path fill="#808080" d="M995 1195h7v7h-7zm-126 7h7v7h-7zm140 0h7v7h-7zm28 0h7v7h-7zm140 0h7v7h-7zm-217 35h7v7h-7zm385 0h7v7h-7zm-126 21h7v7h-7zm-392 7h7v7h-7zm259 21h7v7h-7zm-238 14h7v7h-7zm511 0h7v7h-7zm-245 14h7v7h-7zm-70 14h7v7h-7zm-77 14h7v7h-7zm-105 105h7v7h-7zm161 0h7v7h-7zm189 49h7v7h-7zm126 0h7v7h-7zm14 35h7v7h-7zm-406 7h7v7h-7zm336 14h7v7h-7zm-280 7h7v7h-7zm35 0h7v7h-7zm-133 7h7v7h-7zm147 0h7v7h-7zm189 0h7v7h-7zm-28 70h7v7h-7zm-133 14h7v7h-7zm105 35h7v7h-7z"/>
<path fill="#848484" d="M1268 1202h7v7h-7zm-182 35h7v7h-7zm126 0h7v7h-7zm-385 21h7v7h-7zm252 0h7v7h-7zm0 7h7v7h-7zm-119 14h7v7h-7zm70 42h7v7h-7zm210 7h7v7h-7zm91 21h7v7h-7zm-385 28h7v7h-7zm0 14h7v7h-7zm266 14h7v7h-7zm-140 7h7v7h-7zm259 0h7v7h-7zm-455 28h7v7h-7zm133 7h7v7h-7zm-77 7h7v7h-7zm280 49h7v7h-7zm-385 14h7v7h-7zm252 7h7v7h-7zm-238 14h7v7h-7zm7 7h7v7h-7zm91 0h7v7h-7zm336 7h7v7h-7zm-105 7h7v7h-7zm133 0h7v7h-7zm-420 7h7v7h-7zm252 0h7v7h-7zm-308 28h7v7h-7zm133 0h7v7h-7zm-126 14h7v7h-7zm119 0h7v7h-7zm392 21h7v7h-7zm-7 14h7v7h-7zm-28 28h7v7h-7zm-315 7h7v7h-7zm140 0h7v7h-7zm35 0h7v7h-7zm-245 7h7v7h-7zm91 0h14v7h-14zm105 0h7v7h-7zm-266 7h7v7h-7z"/>
<path fill="#888888" d="M890 1195h7v7h-7zm14 0h7v7h-7zm147 0h7v7h-7zm91 0h7v7h-7zm14 0h7v7h-7zm-322 42h7v7h-7zm462 84h7v7h-7zm21 14h7v7h-7zm-245 21h7v7h-7zm-238 35h7v7h-7zm-7 14h7v7h-7zm490 21h7v7h-7zm-266 7h7v7h-7zm-63 7h7v7h-7zm308 0h7v7h-7zm-280 7h7v7h-7zm-77 14h7v7h-7zm7 7h7v7h-7zm406 0h7v7h-7zm-518 7h7v7h-7zm126 14h7v7h-7zm112 0h7v7h-7zm-112 28h7v7h-7zm245 7h7v7h-7zm154 14h7v7h-7zm-210 28h7v7h-7zm70 21h7v7h-7zm-133 49h7v7h-7zm-14 21h7v7h-7zm-7 7h7v7h-7zm-154 14h7v7h-7zm385 0h7v7h-7z"/>
<path fill="#8c8c8c" d="M897 1195h7v7h-7zm252 0h7v7h-7zm-133 7h7v7h-7zm273 0h7v7h-7zm-77 77h7v7h-7zm133 0h7v7h-7zm-252 14h7v7h-7zm-91 28h7v7h-7zm126 0h7v7h-7zm126 0h7v7h-7zm70 21h7v7h-7zm-105 7h7v7h-7zm-385 21h7v7h-7zm245 0h7v7h-7zm-133 14h7v7h-7zm133 14h7v7h-7zm245 21h7v7h-7zm-196 21h7v7h-7zm-301 49h7v7h-7zm245 21h7v7h-7zm35 42h7v7h-7zm-217 14h14v7h-14zm252 0h7v7h-7zm-161 7h7v7h-7zm252 0h7v7h-7zm-154 21h7v7h-7zm266 14h7v7h-7zm-511 21h7v7h-7zm119 0h7v7h-7zm294 42h7v7h-7zm-203 7h7v7h-7zm217 0h7v7h-7zm-70 14h7v7h-7z"/>
<path fill="#909090" d="M1317 1188h7v7h-7zm-63 7h7v7h-7zm-224 7h7v7h-7zm245 0h7v7h-7zm-343 7h7v7h-7zm182 0h7v7h-7zm238 21h7v7h-7zm-518 49h7v7h-7zm273 28h7v7h-7zm-182 7h7v7h-7zm-14 7h7v7h-7zm140 14h7v7h-7zm182 0h7v7h-7zm-280 70h7v7h-7zm112 14h7v7h-7zm-7 7h7v7h-7zm182 7h7v7h-7zm-336 7h7v7h-7zm252 0h7v7h-7zm-42 7h7v7h-7zm-259 7h7v7h-7zm504 7h7v7h-7zm-154 21h7v7h-7zm-119 49h7v7h-7zm-217 28h7v7h-7zm49 0h7v7h-7zm336 0h7v7h-7zm-28 21h7v7h-7zm-406 7h7v7h-7zm147 0h7v7h-7zm245 14h7v7h-7zm-126 7h7v7h-7zm231 56h7v7h-7z"/>
<path fill="#949494" d="M988 1188h7v7h-7zm35 14h7v7h-7zm259 0h7v7h-7zm-420 7h7v7h-7zm322 0h7v7h-7zm-231 21h7v7h-7zm140 0h7v7h-7zm7 70h7v7h-7zm77 14h7v7h-7zm-294 7h7v7h-7zm140 0h7v7h-7zm-35 7h7v7h-7zm238 14h7v7h-7zm-161 7h7v7h-7zm273 14h7v7h-7zm-504 21h7v7h-7zm504 14h7v7h-7zm-518 14h7v7h-7zm63 28h7v7h-7zm371 0h7v7h-7zm-84 7h7v7h-7zm-329 21h7v7h-7zm-14 42h7v7h-7zm518 7h7v7h-7zm-245 28h7v7h-7zm-91 14h7v7h-7zm21 0h7v7h-7zm28 14h7v7h-7zm-84 7h7v7h-7zm-140 35h7v7h-7zm119 0h7v7h-7zm-119 7h7v7h-7zm119 0h7v7h-7zm392 0h7v7h-7zm-518 21h7v7h-7zm133 0h7v7h-7zm259 0h7v7h-7zm112 7h7v7h-7zm-448 28h7v7h-7zm231 14h7v7h-7z"/>
<path fill="#989898" d="M841 1230h7v7h-7zm364 0h7v7h-7zm-336 84h7v7h-7zm140 7h7v7h-7zm154 0h7v7h-7zm-105 21h7v7h-7zm-231 14h7v7h-7zm126 7h7v7h-7zm259 0h7v7h-7zm-378 14h7v7h-7zm385 35h7v7h-7zm-182 28h7v7h-7zm-189 21h7v7h-7zm497 21h7v7h-7zm-518 14h7v7h-7zm245 0h7v7h-7zm0 7h7v7h-7zm21 35h7v7h-7zm-28 42h7v7h-7zm7 7h7v7h-7zm266 7h7v7h-7zm7 21h7v7h-7zm-133 14h7v7h-7zm112 28h7v7h-7zm-336 14h7v7h-7zm-84 7h7v7h-7zm238 0h7v7h-7zm21 0h7v7h-7zm-231 14h7v7h-7z"/>
<path fill="#9c9c9c" d="M1058 1188h7v7h-7zm-140 14h7v7h-7zm210 0h7v7h-7zm-189 14h7v7h-7zm168 0h7v7h-7zm-161 7h7v7h-7zm154 0h7v7h-7zm259 0h7v7h-7zm-399 21h7v7h-7zm385 0h7v7h-7zm-259 35h7v7h-7zm-133 7h7v7h-7zm63 35h7v7h-7zm63 56h7v7h-7zm0 14h7v7h-7zm154 35h7v7h-7zm-336 14h7v7h-7zm238 0h7v7h-7zm-217 7h7v7h-7zm161 35h7v7h-7zm-119 14h7v7h-7zm-133 7h7v7h-7zm133 7h7v7h-7zm238 21h7v7h-7zm-21 21h7v7h-7zm-161 7h14v7h-14zm105 0h7v7h-7zm189 7h7v7h-7zm-224 63h7v7h-7zm154 35h7v7h-7zm49 14h7v7h-7zm-420 7h7v7h-7z"/>
<path fill="#a0a0a0" d="M1303 1195h7v7h-7zm-427 7h7v7h-7zm294 0h7v7h-7zm-315 14h7v7h-7zm336 0h7v7h-7zm-343 7h7v7h-7zm350 0h7v7h-7zm-112 21h7v7h-7zm126 0h7v7h-7zm-252 28h7v7h-7zm245 14h7v7h-7zm-315 35h7v7h-7zm14 0h7v7h-7zm231 0h7v7h-7zm154 0h7v7h-7zm-210 63h7v7h-7zm133 14h7v7h-7zm14 21h7v7h-7zm-245 14h7v7h-7zm-91 7h7v7h-7zm259 0h7v7h-7zm140 0h7v7h-7zm-329 63h7v7h-7zm-126 21h7v7h-7zm119 0h7v7h-7zm343 35h7v7h-7zm-210 56h7v7h-7zm140 35h7v7h-7zm-336 28h14v7h-14zm112 0h7v7h-7zm147 0h14v7h-14zm119 0h7v7h-7z"/>
<path fill="#a4a4a4" d="M1247 1188h7v7h-7zm-245 7h7v7h-7zm-168 49h7v7h-7zm378 28h7v7h-7zm133 0h7v7h-7zm7 14h7v7h-7zm-420 21h7v7h-7zm189 7h7v7h-7zm-224 7h7v7h-7zm364 0h7v7h-7zm-224 7h7v7h-7zm266 0h7v7h-7zm-343 84h7v7h-7zm343 21h7v7h-7zm-161 7h7v7h-7zm-273 7h7v7h-7zm238 7h7v7h-7zm70 0h7v7h-7zm21 21h7v7h-7zm-245 7h7v7h-7zm210 77h7v7h-7zm-168 7h7v7h-7zm49 0h7v7h-7zm168 42h7v7h-7zm-126 14h7v7h-7zm-7 21h7v7h-7zm-259 7h7v7h-7zm147 0h7v7h-7zm266 7h7v7h-7zm49 21h7v7h-7zm-105 7h7v7h-7z"/>
<path fill="#a8a8a8" d="M1044 1195h7v7h-7zm-203 91h7v7h-7zm105 7h7v7h-7zm-7 7h7v7h-7zm245 7h7v7h-7zm-28 14h7v7h-7zm-336 28h7v7h-7zm518 21h7v7h-7zm0 21h7v7h-7zm-511 7h7v7h-7zm168 42h7v7h-7zm91 35h7v7h-7zm259 35h7v7h-7zm-266 7h7v7h-7zm126 0h7v7h-7zm-14 21h7v7h-7zm-7 7h7v7h-7zm-322 7h7v7h-7zm63 0h7v7h-7zm336 7h7v7h-7zm70 28h7v7h-7zm-504 14h7v7h-7zm133 0h7v7h-7zm252 21h7v7h-7zm126 14h7v7h-7zm-357 28h7v7h-7zm70 7h7v7h-7zm252 0h7v7h-7zm-266 7h7v7h-7zm238 0h7v7h-7zm-357 7h7v7h-7zm210 0h7v7h-7z"/>
<path fill="#acacac" d="M1261 1195h7v7h-7zm-301 56h7v7h-7zm385 0h7v7h-7zm-511 21h7v7h-7zm364 21h7v7h-7zm-336 14h7v7h-7zm280 14h7v7h-7zm105 7h7v7h-7zm-266 7h7v7h-7zm350 21h7v7h-7zm-259 7h7v7h-7zm140 7h7v7h-7zm-140 35h7v7h-7zm259 0h7v7h-7zm-357 21h7v7h-7zm287 14h7v7h-7zm-77 21h7v7h-7zm7 7h7v7h-7zm-357 14h7v7h-7zm371 7h7v7h-7zm140 0h7v7h-7zm7 35h7v7h-7zm-476 35h7v7h-7zm35 0h7v7h-7zm336 7h7v7h-7zm70 7h7v7h-7zm-98 21h7v7h-7zm-7 21h7v7h-7zm-238 42h7v7h-7z"/>
<path fill="#b0b0b0" d="M1212 1251h7v7h-7zm-252 14h7v7h-7zm385 0h7v7h-7zm-259 7h7v7h-7zm273 21h7v7h-7zm-168 7h7v7h-7zm-42 21h7v7h-7zm119 0h7v7h-7zm14 0h7v7h-7zm-322 35h7v7h-7zm-7 42h7v7h-7zm14 21h7v7h-7zm63 21h7v7h-7zm252 0h7v7h-7zm-161 7h7v7h-7zm-196 7h7v7h-7zm175 7h7v7h-7zm-7 7h7v7h-7zm259 7h7v7h-7zm-511 56h7v7h-7zm105 0h7v7h-7zm378 49h7v7h-7zm-245 21h7v7h-7zm-119 35h7v7h-7zm294 35h7v7h-7zm-392 21h7v7h-7z"/>
<path fill="#b4b4b4" d="M911 1202h7v7h-7zm224 0h7v7h-7zm28 0h7v7h-7zm-329 49h7v7h-7zm252 0h7v7h-7zm-126 7h7v7h-7zm385 0h7v7h-7zm-133 7h7v7h-7zm-119 21h7v7h-7zm-245 7h7v7h-7zm7 7h7v7h-7zm63 14h7v7h-7zm357 7h7v7h-7zm-280 7h7v7h-7zm315 7h7v7h-7zm-91 21h7v7h-7zm-392 7h7v7h-7zm126 7h7v7h-7zm385 7h7v7h-7zm0 7h7v7h-7zm-126 7h7v7h-7zm98 35h7v7h-7zm-266 7h7v7h-7zm203 0h7v7h-7zm21 7h7v7h-7zm-105 7h7v7h-7zm-217 28h7v7h-7zm399 21h7v7h-7zm0 7h7v7h-7zm-490 42h7v7h-7zm77 0h7v7h-7zm182 7h7v7h-7zm14 7h7v7h-7zm161 0h7v7h-7zm49 42h7v7h-7zm-511 35h7v7h-7zm245 14h7v7h-7zm-14 14h7v7h-7zm-49 14h7v7h-7z"/>
<path fill="#b8b8b8" d="M1310 1188h7v7h-7zm-14 7h7v7h-7zm-413 7h7v7h-7zm42 7h7v7h-7zm196 0h7v7h-7zm56 0h7v7h-7zm-224 28h7v7h-7zm399 0h7v7h-7zm-140 21h7v7h-7zm-378 7h7v7h-7zm280 42h7v7h-7zm-238 7h7v7h-7zm294 0h7v7h-7zm-126 21h7v7h-7zm-70 7h7v7h-7zm-7 7h7v7h-7zm357 0h7v7h-7zm-112 28h7v7h-7zm112 35h7v7h-7zm-49 28h7v7h-7zm-364 7h7v7h-7zm-49 7h7v7h-7zm217 35h7v7h-7zm126 21h7v7h-7zm154 21h7v7h-7zm-511 7h7v7h-7zm91 0h7v7h-7zm217 21h7v7h-7zm112 0h7v7h-7zm-280 14h7v7h-7zm252 0h7v7h-7zm-21 63h7v7h-7zm-154 21h7v7h-7zm-35 21h7v7h-7zm-154 7h7v7h-7zm308 7h7v7h-7z"/>
<path fill="#bcbcbc" d="M995 1188h7v7h-7zm14 7h7v7h-7zm28 0h7v7h-7zm-168 14h7v7h-7zm-28 28h7v7h-7zm252 0h7v7h-7zm112 0h7v7h-7zm-371 21h7v7h-7zm63 0h7v7h-7zm189 0h7v7h-7zm63 0h7v7h-7zm-63 7h7v7h-7zm-133 14h7v7h-7zm147 14h7v7h-7zm140 42h7v7h-7zm77 7h7v7h-7zm-42 35h7v7h-7zm-266 7h14v7h-14zm203 0h7v7h-7zm63 0h7v7h-7zm-455 21h7v7h-7zm399 0h7v7h-7zm-154 7h7v7h-7zm252 7h7v7h-7zm-315 21h7v7h-7zm-126 7h7v7h-7zm56 14h7v7h-7zm7 7h7v7h-7zm420 0h7v7h-7zm-518 7h7v7h-7zm364 21h7v7h-7zm-315 7h14v7h-14zm252 0h7v7h-7zm-308 14h7v7h-7zm119 0h7v7h-7zm133 7h7v7h-7zm-84 42h7v7h-7zm49 7h7v7h-7zm175 14h7v7h-7zm-406 7h7v7h-7zm147 0h7v7h-7zm-140 14h7v7h-7zm133 0h7v7h-7zm315 7h14v7h-14zm-259 7h14v7h-14zm322 7h7v7h-7zm-7 14h7v7h-7zm-21 21h7v7h-7zm-315 7h7v7h-7zm175 14h7v7h-7zm-49 7h7v7h-7z"/>
<path fill="#c0c0c0" d="M1051 1188h7v7h-7zm217 7h7v7h-7zm-364 7h7v7h-7zm238 0h7v7h-7zm14 0h7v7h-7zm-266 49h21v7h-21zm252 0h14v7h-14zm-252 7h7v7h-7zm14 0h7v7h-7zm238 0h7v7h-7zm14 0h7v7h-7zm-266 7h21v7h-21zm252 0h21v7h-21zm63 14h7v7h-7zm147 0h7v7h-7zm-245 21h7v7h-7zm21 14h7v7h-7zm-98 14h7v7h-7zm266 0h7v7h-7zm-70 21h7v7h-7zm-161 7h7v7h-7zm-112 21h7v7h-7zm56 0h14v7h-14zm259 0h7v7h-7zm14 0h7v7h-7zm-280 7h7v7h-7zm21 0h7v7h-7zm245 0h7v7h-7zm14 0h7v7h-7zm-455 7h7v7h-7zm126 0h7v7h-7zm56 0h14v7h-14zm266 0h7v7h-7zm-224 35h7v7h-7zm-28 14h7v7h-7zm-189 49h7v7h-7zm119 0h7v7h-7zm-63 7h14v7h-14zm245 0h21v7h-21zm-252 7h7v7h-7zm21 0h7v7h-7zm231 0h7v7h-7zm14 0h7v7h-7zm56 0h7v7h-7zm-315 7h14v7h-14zm189 0h7v7h-7zm56 0h21v7h-21zm-252 49h7v7h-7zm21 0h7v7h-7zm231 0h7v7h-7zm140 0h14v7h-14zm-238 7h7v7h-7zm266 0h7v7h-7zm-70 14h7v7h-7zm-161 14h7v7h-7zm203 14h14v7h-14zm-259 7h21v7h-21zm252 0h7v7h-7zm-259 7h7v7h-7zm21 0h7v7h-7zm238 0h21v7h-21zm-252 7h14v7h-14zm63 7h7v7h-7zm217 35h7v7h-7zm-280 7h14v7h-14zm-105 7h7v7h-7zm224 0h7v7h-7zm-210 7h7v7h-7z"/>
<path fill="#c4c4c4" d="M1254 1188h7v7h-7zm35 7h7v7h-7zm-399 7h14v7h-14zm259 0h7v7h-7zm-217 14h7v7h-7zm182 0h7v7h-7zm-168 14h7v7h-7zm413 0h7v7h-7zm-203 21h7v7h-7zm-273 7h7v7h-7zm28 0h7v7h-7zm224 0h7v7h-7zm28 0h7v7h-7zm-280 7h7v7h-7zm28 0h7v7h-7zm224 0h7v7h-7zm-245 7h21v7h-21zm252 0h21v7h-21zm-301 7h7v7h-7zm413 49h7v7h-7zm-203 14h7v7h-7zm182 0h7v7h-7zm-175 7h7v7h-7zm273 14h7v7h-7zm-504 7h7v7h-7zm245 0h7v7h-7zm196 0h21v7h-21zm-266 7h7v7h-7zm21 0h7v7h-7zm238 0h7v7h-7zm-308 7h7v7h-7zm308 0h7v7h-7zm-259 7h7v7h-7zm21 0h7v7h-7zm245 0h7v7h-7zm14 0h7v7h-7zm-273 7h14v7h-14zm63 0h7v7h-7zm-14 21h7v7h-7zm182 7h7v7h-7zm-252 7h7v7h-7zm308 0h7v7h-7zm-287 7h7v7h-7zm119 7h7v7h-7zm-273 14h7v7h-7zm-7 7h7v7h-7zm42 21h14v7h-14zm252 0h7v7h-7zm-259 7h7v7h-7zm21 0h7v7h-7zm175 0h7v7h-7zm49 0h7v7h-7zm-49 7h7v7h-7zm49 0h7v7h-7zm28 0h7v7h-7zm-273 7h7v7h-7zm21 0h7v7h-7zm294 14h7v7h-7zm-105 7h7v7h-7zm14 14h7v7h-7zm63 7h7v7h-7zm-280 7h14v7h-14zm259 0h7v7h-7zm-168 21h7v7h-7zm-7 7h7v7h-7zm245 14h7v7h-7zm-203 7h14v7h-14zm63 0h7v7h-7zm189 0h7v7h-7zm21 0h7v7h-7zm49 0h7v7h-7zm-329 7h7v7h-7zm280 0h7v7h-7zm0 7h7v7h-7zm-462 7h7v7h-7zm133 0h7v7h-7zm49 0h7v7h-7zm21 0h7v7h-7zm245 0h14v7h-14zm49 21h7v7h-7zm-7 7h7v7h-7zm-70 7h7v7h-7zm-203 7h7v7h-7zm217 0h7v7h-7z"/>
<path fill="#c8c8c8" d="M1016 1195h7v7h-7zm14 0h7v7h-7zm245 0h14v7h-14zm-413 21h7v7h-7zm322 0h7v7h-7zm-245 7h7v7h-7zm-91 7h7v7h-7zm252 0h7v7h-7zm98 0h7v7h-7zm-308 14h21v7h-21zm252 0h21v7h-21zm-259 7h7v7h-7zm28 0h7v7h-7zm224 0h7v7h-7zm28 0h7v7h-7zm0 14h7v7h-7zm-238 42h7v7h-7zm252 0h7v7h-7zm-294 7h7v7h-7zm28 0h7v7h-7zm91 14h7v7h-7zm-182 28h7v7h-7zm455 7h7v7h-7zm-266 7h21v7h-21zm252 0h7v7h-7zm-434 7h7v7h-7zm203 0h7v7h-7zm259 0h7v7h-7zm-462 7h7v7h-7zm168 0h7v7h-7zm35 0h7v7h-7zm259 0h7v7h-7zm-259 7h7v7h-7zm231 0h7v7h-7zm28 0h7v7h-7zm-287 7h7v7h-7zm21 0h7v7h-7zm252 0h7v7h-7zm56 0h7v7h-7zm-371 7h7v7h-7zm266 7h7v7h-7zm-210 28h7v7h-7zm-112 7h7v7h-7zm252 0h7v7h-7zm-42 7h7v7h-7zm56 0h7v7h-7zm-84 28h7v7h-7zm112 0h7v7h-7zm154 0h7v7h-7zm-469 7h7v7h-7zm21 0h7v7h-7zm231 0h7v7h-7zm14 0h7v7h-7zm-273 7h7v7h-7zm35 0h7v7h-7zm245 0h7v7h-7zm-280 7h7v7h-7zm35 0h7v7h-7zm-77 7h7v7h-7zm294 0h7v7h-7zm28 0h7v7h-7zm-273 7h21v7h-21zm252 0h21v7h-21zm217 0h7v7h-7zm-252 21h7v7h-7zm-231 14h7v7h-7zm49 0h7v7h-7zm224 7h7v7h-7zm112 7h7v7h-7zm-196 14h7v7h-7zm7 7h7v7h-7zm266 7h7v7h-7zm-56 7h14v7h-14zm-266 7h7v7h-7zm21 0h7v7h-7zm231 0h7v7h-7zm-434 7h7v7h-7zm133 0h7v7h-7zm42 0h7v7h-7zm35 0h7v7h-7zm224 0h7v7h-7zm35 0h7v7h-7zm42 0h7v7h-7zm-511 7h7v7h-7zm133 0h7v7h-7zm42 0h7v7h-7zm35 0h7v7h-7zm224 0h7v7h-7zm77 0h7v7h-7zm-70 7h7v7h-7zm21 0h7v7h-7zm-273 7h14v7h-14zm-196 7h7v7h-7zm147 0h7v7h-7zm259 0h7v7h-7zm-343 42h7v7h-7z"/>
<path fill="#cccccc" d="M1023 1195h7v7h-7zm-168 28h7v7h-7zm252 0h7v7h-7zm84 0h7v7h-7zm-308 21h7v7h-7zm28 0h7v7h-7zm42 0h7v7h-7zm182 0h7v7h-7zm28 0h7v7h-7zm189 0h7v7h-7zm-476 14h7v7h-7zm42 0h7v7h-7zm210 0h7v7h-7zm42 0h7v7h-7zm-294 7h7v7h-7zm42 0h7v7h-7zm210 0h7v7h-7zm42 0h7v7h-7zm-287 7h7v7h-7zm28 0h7v7h-7zm224 0h7v7h-7zm28 0h7v7h-7zm-273 7h21v7h-21zm203 0h7v7h-7zm49 0h21v7h-21zm-196 7h7v7h-7zm-77 21h7v7h-7zm294 7h7v7h-7zm56 49h7v7h-7zm49 0h7v7h-7zm14 0h7v7h-7zm-280 7h7v7h-7zm287 0h7v7h-7zm-294 7h7v7h-7zm77 0h7v7h-7zm182 0h7v7h-7zm0 7h7v7h-7zm42 0h7v7h-7zm-301 7h7v7h-7zm77 0h7v7h-7zm182 0h7v7h-7zm-224 7h7v7h-7zm231 0h14v7h-14zm21 0h7v7h-7zm-273 7h14v7h-14zm224 14h7v7h-7zm-196 14h7v7h-7zm217 0h7v7h-7zm-371 14h7v7h-7zm35 7h7v7h-7zm-28 28h14v7h-14zm252 0h7v7h-7zm-266 7h7v7h-7zm252 0h7v7h-7zm28 0h7v7h-7zm-322 7h7v7h-7zm119 0h7v7h-7zm168 0h7v7h-7zm0 7h7v7h-7zm42 0h7v7h-7zm-287 7h7v7h-7zm35 0h7v7h-7zm42 0h7v7h-7zm168 0h7v7h-7zm-217 7h7v7h-7zm224 0h7v7h-7zm28 0h7v7h-7zm-147 49h7v7h-7zm21 0h7v7h-7zm280 7h7v7h-7zm-294 28h14v7h-14zm252 0h7v7h-7zm21 0h7v7h-7zm-287 7h7v7h-7zm35 0h7v7h-7zm259 0h7v7h-7zm0 14h7v7h-7zm-294 7h7v7h-7zm35 0h7v7h-7zm42 0h7v7h-7zm140 0h7v7h-7zm42 0h7v7h-7zm-252 7h7v7h-7zm21 0h7v7h-7zm245 0h14v7h-14zm-42 14h7v7h-7zm7 7h7v7h-7zm-252 7h7v7h-7zm301 7h7v7h-7zm-385 14h7v7h-7zm238 0h7v7h-7zm21 0h7v7h-7zm-294 7h7v7h-7z"/>
<path fill="#d0d0d0" d="M1002 1188h7v7h-7zm301 0h7v7h-7zm-427 21h7v7h-7zm42 0h7v7h-7zm210 0h7v7h-7zm42 0h7v7h-7zm-280 28h21v7h-21zm252 0h21v7h-21zm-301 7h7v7h-7zm252 0h7v7h-7zm112 0h7v7h-7zm-329 7h7v7h-7zm42 0h7v7h-7zm210 0h7v7h-7zm42 0h7v7h-7zm-294 21h7v7h-7zm42 0h7v7h-7zm35 0h7v7h-7zm175 0h7v7h-7zm42 0h7v7h-7zm35 0h7v7h-7zm147 0h7v7h-7zm-469 7h7v7h-7zm28 0h7v7h-7zm224 0h7v7h-7zm28 0h7v7h-7zm-315 7h7v7h-7zm350 0h7v7h-7zm161 0h7v7h-7zm-420 7h7v7h-7zm-7 7h7v7h-7zm252 0h7v7h-7zm-63 7h7v7h-7zm-231 7h7v7h-7zm14 0h7v7h-7zm231 0h7v7h-7zm-112 14h7v7h-7zm266 0h7v7h-7zm-301 7h7v7h-7zm315 0h7v7h-7zm-343 28h7v7h-7zm56 0h14v7h-14zm245 0h7v7h-7zm28 0h7v7h-7zm-259 7h7v7h-7zm224 0h7v7h-7zm42 0h7v7h-7zm-259 7h7v7h-7zm259 0h7v7h-7zm-308 7h7v7h-7zm49 0h7v7h-7zm35 0h7v7h-7zm-35 7h7v7h-7zm259 0h7v7h-7zm-301 7h7v7h-7zm224 0h7v7h-7zm70 0h7v7h-7zm-287 7h7v7h-7zm21 0h7v7h-7zm-56 7h7v7h-7zm14 14h7v7h-7zm322 0h7v7h-7zm-14 7h7v7h-7zm-399 14h14v7h-14zm245 0h21v7h-21zm-266 7h7v7h-7zm238 7h7v7h-7zm70 0h7v7h-7zm-84 14h7v7h-7zm98 0h7v7h-7zm-308 7h7v7h-7zm21 0h7v7h-7zm42 0h7v7h-7zm182 0h14v7h-14zm21 0h7v7h-7zm-238 7h7v7h-7zm210 0h7v7h-7zm42 0h7v7h-7zm-294 7h7v7h-7zm49 0h7v7h-7zm245 0h7v7h-7zm-329 7h7v7h-7zm35 0h7v7h-7zm49 0h7v7h-7zm35 0h7v7h-7zm-84 7h7v7h-7zm294 0h7v7h-7zm-287 7h7v7h-7zm35 0h7v7h-7zm175 0h7v7h-7zm-245 7h7v7h-7zm42 0h28v7h-28zm63 0h7v7h-7zm189 0h21v7h-21zm-14 28h7v7h-7zm-105 14h14v7h-14zm280 0h7v7h-7zm-301 7h7v7h-7zm322 7h7v7h-7zm7 7h7v7h-7zm-49 7h14v7h-14zm-308 7h7v7h-7zm42 0h7v7h-7zm21 0h7v7h-7zm231 0h7v7h-7zm35 0h7v7h-7zm-77 7h7v7h-7zm35 0h7v7h-7zm-259 7h7v7h-7zm49 0h7v7h-7zm35 0h7v7h-7zm175 0h7v7h-7zm49 0h7v7h-7zm-308 7h7v7h-7zm49 0h7v7h-7zm35 0h7v7h-7zm175 0h7v7h-7zm-210 7h7v7h-7zm252 0h7v7h-7zm-294 7h7v7h-7zm35 0h7v7h-7zm231 0h7v7h-7zm21 0h7v7h-7zm42 0h7v7h-7zm-315 7h14v7h-14zm56 0h7v7h-7zm-98 7h7v7h-7zm7 7h7v7h-7zm21 14h7v7h-7zm266 0h7v7h-7zm-378 14h14v7h-14zm259 0h14v7h-14zm28 7h7v7h-7z"/>
<path fill="#d4d4d4" d="M1044 1188h7v7h-7zm217 0h7v7h-7zm-378 49h7v7h-7zm28 0h7v7h-7zm224 0h7v7h-7zm28 0h7v7h-7zm-287 7h7v7h-7zm42 0h7v7h-7zm210 0h7v7h-7zm42 0h7v7h-7zm-217 7h7v7h-7zm399 0h7v7h-7zm-483 7h7v7h-7zm56 0h7v7h-7zm196 0h7v7h-7zm56 0h7v7h-7zm-308 7h7v7h-7zm252 0h7v7h-7zm-280 7h7v7h-7zm252 0h7v7h-7zm-196 14h7v7h-7zm203 0h7v7h-7zm49 0h7v7h-7zm-294 7h7v7h-7zm336 0h7v7h-7zm-329 7h7v7h-7zm35 14h7v7h-7zm245 0h21v7h-21zm-133 14h7v7h-7zm252 0h7v7h-7zm-224 7h7v7h-7zm210 0h7v7h-7zm63 7h7v7h-7zm-42 14h21v7h-21zm56 0h7v7h-7zm-315 7h7v7h-7zm21 0h7v7h-7zm35 0h7v7h-7zm189 0h7v7h-7zm-259 7h7v7h-7zm42 0h7v7h-7zm294 0h7v7h-7zm-343 7h7v7h-7zm259 0h7v7h-7zm0 7h7v7h-7zm-259 7h7v7h-7zm343 0h7v7h-7zm-511 7h7v7h-7zm217 0h7v7h-7zm217 0h7v7h-7zm-224 7h7v7h-7zm35 0h7v7h-7zm203 0h21v7h-21zm56 0h7v7h-7zm-350 14h7v7h-7zm21 14h7v7h-7zm266 0h7v7h-7zm-336 28h7v7h-7zm175 7h7v7h-7zm84 0h7v7h-7zm175 7h7v7h-7zm-518 7h7v7h-7zm35 0h7v7h-7zm35 0h7v7h-7zm245 0h7v7h-7zm-287 7h7v7h-7zm49 0h7v7h-7zm434 0h7v7h-7zm-238 7h7v7h-7zm0 7h7v7h-7zm-196 7h7v7h-7zm434 0h7v7h-7zm-231 7h7v7h-7zm7 7h7v7h-7zm28 0h7v7h-7zm203 0h7v7h-7zm-511 7h7v7h-7zm91 0h7v7h-7zm-84 7h7v7h-7zm77 0h7v7h-7zm-70 7h7v7h-7zm63 0h7v7h-7zm252 0h7v7h-7zm-301 7h7v7h-7zm35 0h7v7h-7zm350 14h7v7h-7zm-217 7h7v7h-7zm203 0h7v7h-7zm-231 21h14v7h-14zm210 0h7v7h-7zm42 0h7v7h-7zm21 0h7v7h-7zm-469 7h7v7h-7zm182 0h7v7h-7zm35 0h7v7h-7zm35 0h7v7h-7zm182 0h7v7h-7zm-259 7h7v7h-7zm49 0h7v7h-7zm259 0h7v7h-7zm-84 7h7v7h-7zm0 7h7v7h-7zm84 0h7v7h-7zm-308 7h7v7h-7zm259 0h7v7h-7zm7 7h7v7h-7zm35 0h7v7h-7zm-287 7h7v7h-7zm21 0h7v7h-7zm245 0h14v7h-14zm-210 7h7v7h-7zm-14 14h7v7h-7zm203 0h7v7h-7zm49 0h7v7h-7zm-266 7h7v7h-7zm238 0h14v7h-14zm-357 21h7v7h-7zm210 0h7v7h-7z"/>
<path fill="#d8d8d8" d="M1009 1188h7v7h-7zm28 0h7v7h-7zm231 0h7v7h-7zm28 0h7v7h-7zm-413 21h7v7h-7zm28 0h7v7h-7zm224 0h7v7h-7zm28 0h7v7h-7zm-294 7h7v7h-7zm56 0h7v7h-7zm196 0h7v7h-7zm56 0h7v7h-7zm-287 14h21v7h-21zm252 0h21v7h-21zm-294 7h7v7h-7zm28 0h7v7h-7zm42 0h7v7h-7zm28 0h7v7h-7zm154 0h7v7h-7zm28 0h7v7h-7zm42 0h7v7h-7zm28 0h7v7h-7zm161 0h7v7h-7zm-518 14h7v7h-7zm28 0h7v7h-7zm56 0h7v7h-7zm168 0h7v7h-7zm28 0h7v7h-7zm56 0h7v7h-7zm28 0h7v7h-7zm-364 7h7v7h-7zm112 0h7v7h-7zm140 0h7v7h-7zm112 0h7v7h-7zm147 0h7v7h-7zm-511 7h7v7h-7zm84 0h7v7h-7zm28 0h7v7h-7zm140 0h7v7h-7zm84 0h7v7h-7zm28 0h7v7h-7zm147 0h7v7h-7zm-483 7h7v7h-7zm56 0h7v7h-7zm196 0h7v7h-7zm56 0h7v7h-7zm-301 7h7v7h-7zm42 0h7v7h-7zm28 0h7v7h-7zm182 0h7v7h-7zm42 0h7v7h-7zm28 0h7v7h-7zm161 0h7v7h-7zm-476 7h14v7h-14zm21 0h14v7h-14zm231 0h14v7h-14zm21 0h14v7h-14zm-49 7h7v7h-7zm7 7h7v7h-7zm-238 7h7v7h-7zm42 0h7v7h-7zm210 0h7v7h-7zm42 0h7v7h-7zm-154 21h7v7h-7zm252 0h21v7h-21zm-224 14h7v7h-7zm196 0h7v7h-7zm-189 7h7v7h-7zm182 0h7v7h-7zm84 0h7v7h-7zm-259 7h7v7h-7zm168 0h7v7h-7zm35 0h7v7h-7zm28 0h7v7h-7zm-469 7h7v7h-7zm182 0h7v7h-7zm294 0h7v7h-7zm-77 7h7v7h-7zm28 0h7v7h-7zm56 0h7v7h-7zm-259 7h7v7h-7zm175 0h7v7h-7zm84 0h7v7h-7zm28 0h7v7h-7zm-287 7h7v7h-7zm175 0h7v7h-7zm84 0h7v7h-7zm28 0h7v7h-7zm-511 7h7v7h-7zm224 0h7v7h-7zm175 0h7v7h-7zm28 0h7v7h-7zm56 0h7v7h-7zm-343 7h7v7h-7zm28 0h7v7h-7zm308 0h7v7h-7zm-301 7h7v7h-7zm231 0h7v7h-7zm35 0h7v7h-7zm28 0h7v7h-7zm-287 7h28v7h-28zm56 0h7v7h-7zm259 0h7v7h-7zm-266 7h7v7h-7zm189 0h7v7h-7zm70 0h7v7h-7zm-266 7h7v7h-7zm203 0h7v7h-7zm-217 7h7v7h-7zm238 0h21v7h-21zm-392 21h7v7h-7zm35 0h7v7h-7zm210 0h7v7h-7zm42 0h7v7h-7zm-301 7h7v7h-7zm-7 7h7v7h-7zm77 0h7v7h-7zm-84 7h7v7h-7zm35 0h28v7h-28zm56 0h7v7h-7zm189 0h28v7h-28zm-7 7h7v7h-7zm42 0h7v7h-7zm-217 7h7v7h-7zm140 0h7v7h-7zm28 0h7v7h-7zm-252 7h7v7h-7zm224 0h7v7h-7zm84 0h7v7h-7zm182 0h7v7h-7zm-490 7h7v7h-7zm63 0h7v7h-7zm245 0h7v7h-7zm182 0h7v7h-7zm-266 7h7v7h-7zm28 0h7v7h-7zm-273 7h7v7h-7zm28 0h7v7h-7zm49 0h7v7h-7zm28 0h7v7h-7zm168 0h7v7h-7zm49 0h7v7h-7zm-287 7h7v7h-7zm35 0h7v7h-7zm182 0h7v7h-7zm28 0h7v7h-7zm-231 7h14v7h-14zm245 0h21v7h-21zm56 0h7v7h-7zm-84 7h7v7h-7zm7 7h7v7h-7zm-231 7h7v7h-7zm21 0h7v7h-7zm224 0h7v7h-7zm35 0h7v7h-7zm105 14h7v7h-7zm21 0h7v7h-7zm-287 7h7v7h-7zm301 0h7v7h-7zm-315 7h7v7h-7zm63 0h7v7h-7zm189 0h7v7h-7zm-259 7h7v7h-7zm252 0h7v7h-7zm42 0h14v7h-14zm-301 7h7v7h-7zm35 0h7v7h-7zm21 0h7v7h-7zm35 0h7v7h-7zm196 0h7v7h-7zm35 0h7v7h-7zm-252 7h7v7h-7zm259 0h7v7h-7zm28 0h7v7h-7zm-511 7h7v7h-7zm147 0h7v7h-7zm280 0h7v7h-7zm-196 7h7v7h-7zm196 0h7v7h-7zm-259 7h7v7h-7zm63 0h7v7h-7zm196 0h7v7h-7zm56 7h7v7h-7zm28 0h7v7h-7zm-511 7h7v7h-7zm147 0h7v7h-7zm28 0h7v7h-7zm49 0h7v7h-7zm28 0h7v7h-7zm154 0h7v7h-7zm28 0h7v7h-7zm-252 7h7v7h-7zm35 0h7v7h-7zm231 0h7v7h-7zm21 0h7v7h-7zm35 0h7v7h-7zm-308 7h14v7h-14zm301 0h7v7h-7zm-259 7h7v7h-7zm252 0h7v7h-7zm-315 7h7v7h-7zm14 7h7v7h-7zm21 0h7v7h-7zm-154 21h7v7h-7zm294 0h7v7h-7z"/>
<path fill="#e0e0e0" d="M1030 1335h7v7h-7zm0 7h7v7h-7zm-7 7h7v7h-7zm-56 7h7v7h-7zm0 21h14v7h-14zm217 112h7v7h-7zm-7 7h7v7h-7zm-7 14h7v7h-7zm-7 14h7v7h-7zm-7 14h7v7h-7zm0 7h7v7h-7z"/>
<path fill="#e4e4e4" d="M995 1335h7v7h-7zm-21 14h7v7h-7zm35 7h7v7h-7zm-14 7h7v7h-7zm-28 7h21v7h-21zm224 119h7v7h-7zm7 7h7v7h-7zm-35 35h7v7h-7zm0 7h7v7h-7zm0 7h7v7h-7z"/>
<path fill="#e8e8e8" d="M1023 1335h7v7h-7zm0 7h7v7h-7zm-7 7h7v7h-7zm-49 14h7v7h-7zm217 133h7v7h-7zm-7 7h7v7h-7zm21 7h7v7h-7zm-28 7h7v7h-7zm0 28h7v7h-7z"/>
<path fill="#ececec" d="M1002 1335h7v7h-7zm14 0h7v7h-7zm-42 28h7v7h-7zm14 0h7v7h-7zm203 133h7v7h-7zm7 7h7v7h-7z"/>
<path fill="#f0f0f0" d="M1009 1335h7v7h-7zm-21 7h7v7h-7zm28 0h7v7h-7zm-42 14h7v7h-7zm28 0h7v7h-7zm-21 7h7v7h-7zm203 140h7v7h-7zm-7 7h7v7h-7zm-7 14h7v7h-7zm21 0h7v7h-7zm-21 7h7v7h-7zm0 7h14v7h-14z"/>
<path fill="#f4f4f4" d="M981 1349h7v7h-7zm28 0h7v7h-7zm182 154h7v7h-7zm-7 28h7v7h-7z"/>
<path fill="#f8f8f8" d="M995 1342h7v7h-7zm14 0h7v7h-7zm-28 14h7v7h-7zm14 0h7v7h-7zm196 154h7v7h-7zm-14 7h7v7h-7zm14 0h7v7h-7z"/>
<path fill="#fcfcfc" d="M1002 1342h7v7h-7zm-14 7h7v7h-7zm14 0h7v7h-7zm-14 7h7v7h-7zm196 154h7v7h-7zm-7 14h14v7h-14zm0 7h7v7h-7z"/>
<path fill="#ffffff" d="M995 1349h7v7h-7zm189 168h7v7h-7z"/></g></g>
<rect x="834.4" y="1202.1" width="513.9" height="481.2" fill="none" stroke="#262626" stroke-width="1.2"/>
<path d="M898.6 1202.1v6 M898.6 1683.3v-6 M834.4 1262.2h6 M1348.3 1262.2h-6 M962.9 1202.1v6 M962.9 1683.3v-6 M834.4 1322.4h6 M1348.3 1322.4h-6 M1027.1 1202.1v6 M1027.1 1683.3v-6 M834.4 1382.5h6 M1348.3 1382.5h-6 M1091.3 1202.1v6 M1091.3 1683.3v-6 M834.4 1442.7h6 M1348.3 1442.7h-6 M1155.6 1202.1v6 M1155.6 1683.3v-6 M834.4 1502.8h6 M1348.3 1502.8h-6 M1219.8 1202.1v6 M1219.8 1683.3v-6 M834.4 1563.0h6 M1348.3 1563.0h-6 M1284.1 1202.1v6 M1284.1 1683.3v-6 M834.4 1623.2h6 M1348.3 1623.2h-6" stroke="#262626" stroke-width="1.1" fill="none"/>
<g font-family="Liberation Sans" font-size="18.5" fill="#262626"><text x="834.4" y="1706.5" text-anchor="middle">-2</text><text x="827.9" y="1208.7" text-anchor="end">-2</text><text x="898.6" y="1706.5" text-anchor="middle">-1.5</text><text x="827.9" y="1268.8" text-anchor="end">-1.5</text><text x="962.9" y="1706.5" text-anchor="middle">-1</text><text x="827.9" y="1329.0" text-anchor="end">-1</text><text x="1027.1" y="1706.5" text-anchor="middle">-0.5</text><text x="827.9" y="1389.1" text-anchor="end">-0.5</text><text x="1091.3" y="1706.5" text-anchor="middle">0</text><text x="827.9" y="1449.3" text-anchor="end">0</text><text x="1155.6" y="1706.5" text-anchor="middle">0.5</text><text x="827.9" y="1509.4" text-anchor="end">0.5</text><text x="1219.8" y="1706.5" text-anchor="middle">1</text><text x="827.9" y="1569.6" text-anchor="end">1</text><text x="1284.1" y="1706.5" text-anchor="middle">1.5</text><text x="827.9" y="1629.8" text-anchor="end">1.5</text><text x="1348.3" y="1706.5" text-anchor="middle">2</text><text x="827.9" y="1689.9" text-anchor="end">2</text></g>
<text x="1091.3" y="1734.0" font-family="Liberation Sans" font-size="26" fill="#262626" text-anchor="middle">x (units of <tspan font-family="Liberation Serif">&#923;</tspan>)</text>
<text transform="translate(785.2 1442.7) rotate(-90)" font-family="Liberation Sans" font-size="26" fill="#262626" text-anchor="middle">y (units of <tspan font-family="Liberation Serif">&#923;</tspan>)</text>
<text x="1091.3" y="1194.4" font-family="Liberation Sans" font-size="20" font-weight="bold" fill="#000" text-anchor="middle">(f)</text>
<rect x="1368.5" y="1202.1" width="37.0" height="481.2" fill="url(#cbg)" stroke="#262626" stroke-width="1.4"/>
<path d="M1405.5 1590.7h-5 M1405.5 1498.1h-5 M1405.5 1405.5h-5 M1405.5 1312.9h-5 M1405.5 1220.3h-5" stroke="#262626" stroke-width="1.2"/>
<g font-family="Liberation Sans" font-size="16.8" fill="#262626"><text x="1411.5" y="1596.7">0.5</text><text x="1411.5" y="1504.1">1</text><text x="1411.5" y="1411.5">1.5</text><text x="1411.5" y="1318.9">2</text><text x="1411.5" y="1226.3">2.5</text></g>
<g clip-path="url(#clg)"><g filter="url(#pm)"><rect x="78.6" y="1798.1" width="532.4" height="510.2" fill="#000"/>
<ellipse cx="147.6" cy="1860.6" rx="54.9" ry="53.2" fill="url(#rgg0)"/>
<ellipse cx="403.0" cy="1868.4" rx="66.7" ry="64.1" fill="url(#rgg1)"/>
<ellipse cx="268.3" cy="1989.7" rx="64.6" ry="60.3" fill="url(#rgg2)"/>
<ellipse cx="532.9" cy="1989.7" rx="70.8" ry="66.7" fill="url(#rgg3)"/>
<ellipse cx="143.7" cy="2107.6" rx="56.6" ry="54.5" fill="url(#rgg4)"/>
<ellipse cx="399.4" cy="2118.2" rx="58.1" ry="65.3" fill="url(#rgg5)"/>
<ellipse cx="269.1" cy="2234.5" rx="55.7" ry="56.9" fill="url(#rgg6)"/>
<ellipse cx="536.8" cy="2234.5" rx="62.4" ry="60.5" fill="url(#rgg7)"/></g></g>
<rect x="83.6" y="1803.1" width="522.4" height="500.2" fill="none" stroke="#262626" stroke-width="1.2"/>
<path d="M148.9 1803.1v6 M148.9 2303.3v-6 M83.6 1865.6h6 M606.0 1865.6h-6 M214.2 1803.1v6 M214.2 2303.3v-6 M83.6 1928.2h6 M606.0 1928.2h-6 M279.5 1803.1v6 M279.5 2303.3v-6 M83.6 1990.7h6 M606.0 1990.7h-6 M344.8 1803.1v6 M344.8 2303.3v-6 M83.6 2053.2h6 M606.0 2053.2h-6 M410.1 1803.1v6 M410.1 2303.3v-6 M83.6 2115.7h6 M606.0 2115.7h-6 M475.4 1803.1v6 M475.4 2303.3v-6 M83.6 2178.2h6 M606.0 2178.2h-6 M540.7 1803.1v6 M540.7 2303.3v-6 M83.6 2240.8h6 M606.0 2240.8h-6" stroke="#262626" stroke-width="1.1" fill="none"/>
<g font-family="Liberation Sans" font-size="18.5" fill="#262626"><text x="83.6" y="2326.5" text-anchor="middle">-2</text><text x="77.1" y="1809.7" text-anchor="end">-2</text><text x="148.9" y="2326.5" text-anchor="middle">-1.5</text><text x="77.1" y="1872.2" text-anchor="end">-1.5</text><text x="214.2" y="2326.5" text-anchor="middle">-1</text><text x="77.1" y="1934.8" text-anchor="end">-1</text><text x="279.5" y="2326.5" text-anchor="middle">-0.5</text><text x="77.1" y="1997.3" text-anchor="end">-0.5</text><text x="344.8" y="2326.5" text-anchor="middle">0</text><text x="77.1" y="2059.8" text-anchor="end">0</text><text x="410.1" y="2326.5" text-anchor="middle">0.5</text><text x="77.1" y="2122.3" text-anchor="end">0.5</text><text x="475.4" y="2326.5" text-anchor="middle">1</text><text x="77.1" y="2184.8" text-anchor="end">1</text><text x="540.7" y="2326.5" text-anchor="middle">1.5</text><text x="77.1" y="2247.4" text-anchor="end">1.5</text><text x="606.0" y="2326.5" text-anchor="middle">2</text><text x="77.1" y="2309.9" text-anchor="end">2</text></g>
<text x="344.8" y="2354.0" font-family="Liberation Sans" font-size="26" fill="#262626" text-anchor="middle">x (units of <tspan font-family="Liberation Serif">&#923;</tspan>)</text>
<text transform="translate(34.4 2053.2) rotate(-90)" font-family="Liberation Sans" font-size="26" fill="#262626" text-anchor="middle">y (units of <tspan font-family="Liberation Serif">&#923;</tspan>)</text>
<text x="344.8" y="1795.4" font-family="Liberation Sans" font-size="20" font-weight="bold" fill="#000" text-anchor="middle">(g)</text>
<rect x="626.5" y="1803.1" width="38.0" height="500.2" fill="url(#cbg)" stroke="#262626" stroke-width="1.4"/>
<path d="M664.5 2250.0h-5 M664.5 2196.6h-5 M664.5 2143.3h-5 M664.5 2090.0h-5 M664.5 2036.7h-5 M664.5 1983.3h-5 M664.5 1930.0h-5 M664.5 1876.7h-5 M664.5 1823.4h-5" stroke="#262626" stroke-width="1.2"/>
<g font-family="Liberation Sans" font-size="16.8" fill="#262626"><text x="670.5" y="2256.0">0.01</text><text x="670.5" y="2202.6">0.02</text><text x="670.5" y="2149.3">0.03</text><text x="670.5" y="2096.0">0.04</text><text x="670.5" y="2042.7">0.05</text><text x="670.5" y="1989.3">0.06</text><text x="670.5" y="1936.0">0.07</text><text x="670.5" y="1882.7">0.08</text><text x="670.5" y="1829.4">0.09</text></g>
<g clip-path="url(#clh)"><g filter="url(#pmb)" shape-rendering="crispEdges"><rect x="823" y="1798" width="546" height="525" fill="#d8d8d8"/>
<path fill="#000000" d="M844 1798h7v7h-7zm105 0h7v7h-7zm154 0h7v7h-7zm98 0h7v7h-7zm161 0h7v7h-7zm-525 7h7v7h-7zm371 0h7v7h-7zm147 0h7v7h-7zm-525 7h7v7h-7zm385 0h7v7h-7zm133 0h7v7h-7zm-525 7h7v7h-7zm154 0h7v7h-7zm245 0h7v7h-7zm119 0h7v7h-7zm-357 7h7v7h-7zm84 0h7v7h-7zm161 0h7v7h-7zm105 0h7v7h-7zm-343 7h7v7h-7zm70 0h7v7h-7zm175 0h14v7h-14zm84 0h14v7h-14zm-329 7h14v7h-14zm63 0h7v7h-7zm189 0h14v7h-14zm70 0h14v7h-14zm-315 7h14v7h-14zm49 0h7v7h-7zm203 0h14v7h-14zm56 0h14v7h-14zm-301 7h49v7h-49zm252 0h56v7h-56zm-252 7h42v7h-42zm252 0h49v7h-49zm-245 7h35v7h-35zm252 0h42v7h-42zm-252 7h28v7h-28zm252 0h42v7h-42zm-259 7h42v7h-42zm252 0h49v7h-49zm-259 7h21v7h-21zm35 0h14v7h-14zm224 0h14v7h-14zm35 0h21v7h-21zm-294 7h7v7h-7zm42 0h14v7h-14zm210 0h7v7h-7zm56 0h14v7h-14zm-315 7h7v7h-7zm63 0h7v7h-7zm189 0h7v7h-7zm70 0h14v7h-14zm-329 7h7v7h-7zm77 0h7v7h-7zm175 0h7v7h-7zm91 0h7v7h-7zm-259 7h7v7h-7zm266 0h7v7h-7zm-259 7h7v7h-7zm266 0h7v7h-7zm-504 7h7v7h-7zm245 0h7v7h-7zm266 0h7v7h-7zm-504 7h7v7h-7zm245 0h7v7h-7zm266 0h7v7h-7zm-504 7h7v7h-7zm245 0h7v7h-7zm98 0h7v7h-7zm168 0h7v7h-7zm-504 7h7v7h-7zm77 0h7v7h-7zm168 0h7v7h-7zm84 0h7v7h-7zm-322 7h7v7h-7zm63 0h7v7h-7zm182 0h7v7h-7zm70 0h7v7h-7zm-308 7h7v7h-7zm49 0h7v7h-7zm196 0h14v7h-14zm56 0h7v7h-7zm-301 7h49v7h-49zm252 0h14v7h-14zm35 0h14v7h-14zm-280 7h42v7h-42zm252 0h42v7h-42zm-252 7h35v7h-35zm252 0h35v7h-35zm-252 7h35v7h-35zm252 0h35v7h-35zm-252 7h42v7h-42zm252 0h42v7h-42zm-259 7h14v7h-14zm42 0h14v7h-14zm210 0h14v7h-14zm35 0h21v7h-21zm-294 7h14v7h-14zm56 0h7v7h-7zm196 0h7v7h-7zm56 0h7v7h-7zm-315 7h7v7h-7zm70 0h7v7h-7zm182 0h7v7h-7zm70 0h7v7h-7zm-329 7h7v7h-7zm252 0h7v7h-7zm84 0h7v7h-7zm-343 7h7v7h-7zm252 0h7v7h-7zm98 0h7v7h-7zm168 0h7v7h-7zm-525 7h7v7h-7zm252 0h7v7h-7zm112 0h7v7h-7zm154 0h7v7h-7zm-525 7h7v7h-7zm252 0h7v7h-7zm126 0h7v7h-7zm140 0h7v7h-7zm-525 7h7v7h-7zm252 0h7v7h-7zm140 0h7v7h-7zm126 0h7v7h-7zm-273 7h7v7h-7zm154 0h7v7h-7zm105 0h7v7h-7zm-266 7h7v7h-7zm168 0h7v7h-7zm91 0h14v7h-14zm-336 7h14v7h-14zm70 0h7v7h-7zm182 0h7v7h-7zm77 0h14v7h-14zm-322 7h14v7h-14zm56 0h7v7h-7zm189 0h14v7h-14zm63 0h21v7h-21zm-301 7h21v7h-21zm35 0h21v7h-21zm210 0h21v7h-21zm49 0h21v7h-21zm-287 7h42v7h-42zm245 0h56v7h-56zm-245 7h35v7h-35zm245 0h49v7h-49zm-245 7h35v7h-35zm252 0h42v7h-42zm-252 7h35v7h-35zm245 0h56v7h-56zm-252 7h49v7h-49zm252 0h56v7h-56zm-259 7h14v7h-14zm49 0h14v7h-14zm203 0h21v7h-21zm56 0h14v7h-14zm-308 7h7v7h-7zm56 0h7v7h-7zm196 0h7v7h-7zm70 0h7v7h-7zm-329 7h7v7h-7zm70 0h7v7h-7zm182 0h7v7h-7zm84 0h7v7h-7zm-343 7h7v7h-7zm84 0h7v7h-7zm168 0h7v7h-7zm98 0h7v7h-7zm-357 7h7v7h-7zm98 0h7v7h-7zm154 0h7v7h-7zm112 0h7v7h-7zm-511 7h7v7h-7zm140 0h7v7h-7zm112 0h7v7h-7zm140 0h7v7h-7zm126 0h7v7h-7zm-511 7h7v7h-7zm126 0h7v7h-7zm126 0h7v7h-7zm126 0h7v7h-7zm-371 7h7v7h-7zm112 0h7v7h-7zm140 0h7v7h-7zm-245 7h7v7h-7zm98 0h7v7h-7zm154 0h7v7h-7zm-245 7h7v7h-7zm84 0h7v7h-7zm168 0h7v7h-7zm-245 7h7v7h-7zm70 0h7v7h-7zm182 0h7v7h-7zm-245 7h14v7h-14zm56 0h7v7h-7zm196 0h7v7h-7zm56 0h7v7h-7zm-301 7h14v7h-14zm35 0h21v7h-21zm210 0h14v7h-14zm49 0h14v7h-14zm-287 7h42v7h-42zm245 0h49v7h-49zm-245 7h35v7h-35zm252 0h42v7h-42zm-252 7h35v7h-35zm252 0h42v7h-42zm-252 7h42v7h-42zm252 0h42v7h-42zm-252 7h42v7h-42zm252 0h49v7h-49zm-259 7h14v7h-14zm42 0h14v7h-14zm210 0h21v7h-21zm49 0h14v7h-14zm-308 7h14v7h-14zm56 0h14v7h-14zm196 0h14v7h-14zm70 0h7v7h-7zm-329 7h14v7h-14zm70 0h7v7h-7zm182 0h14v7h-14zm84 0h7v7h-7zm168 0h7v7h-7zm-511 7h7v7h-7zm252 0h14v7h-14zm98 0h7v7h-7zm154 0h14v7h-14zm-511 7h7v7h-7zm252 0h14v7h-14zm112 0h7v7h-7zm140 0h14v7h-14zm-511 7h7v7h-7zm252 0h14v7h-14zm126 0h7v7h-7zm126 0h14v7h-14zm-511 7h7v7h-7zm252 0h14v7h-14zm252 0h7v7h-7zm-511 7h7v7h-7zm252 0h14v7h-14zm161 0h7v7h-7zm91 0h7v7h-7zm-259 7h14v7h-14zm175 0h7v7h-7zm77 0h14v7h-14z"/>
<path fill="#040404" d="M851 1798h7v7h-7zm105 0h7v7h-7zm140 0h7v7h-7zm98 0h7v7h-7zm14 0h7v7h-7zm147 0h7v7h-7zm-511 7h7v7h-7zm112 0h14v7h-14zm133 0h14v7h-14zm126 0h7v7h-7zm133 0h7v7h-7zm-511 7h7v7h-7zm126 0h14v7h-14zm119 0h14v7h-14zm140 0h7v7h-7zm119 0h7v7h-7zm-511 7h7v7h-7zm140 0h7v7h-7zm105 0h14v7h-14zm154 0h7v7h-7zm105 0h7v7h-7zm-511 7h7v7h-7zm154 0h7v7h-7zm98 0h7v7h-7zm161 0h7v7h-7zm91 0h7v7h-7zm-343 7h7v7h-7zm84 0h7v7h-7zm-63 7h7v7h-7zm42 0h7v7h-7zm14 0h7v7h-7zm196 0h7v7h-7zm49 0h7v7h-7zm-294 7h14v7h-14zm21 0h14v7h-14zm21 0h7v7h-7zm189 0h7v7h-7zm21 0h14v7h-14zm28 0h14v7h-14zm-294 7h7v7h-7zm252 0h7v7h-7zm63 0h7v7h-7zm-266 7h7v7h-7zm259 0h7v7h-7zm-301 7h7v7h-7zm252 0h7v7h-7zm49 0h7v7h-7zm-301 7h7v7h-7zm35 0h7v7h-7zm217 0h7v7h-7zm49 0h7v7h-7zm-308 7h7v7h-7zm308 0h7v7h-7zm-287 7h14v7h-14zm28 0h7v7h-7zm203 0h7v7h-7zm21 0h21v7h-21zm42 0h7v7h-7zm-322 7h7v7h-7zm14 0h7v7h-7zm49 0h7v7h-7zm189 0h7v7h-7zm14 0h7v7h-7zm42 0h7v7h-7zm-315 7h7v7h-7zm63 0h7v7h-7zm189 0h7v7h-7zm-259 7h7v7h-7zm77 0h7v7h-7zm175 0h7v7h-7zm91 0h7v7h-7zm-497 7h7v7h-7zm147 0h14v7h-14zm91 0h7v7h-7zm161 0h14v7h-14zm105 0h7v7h-7zm-504 7h14v7h-14zm140 0h14v7h-14zm252 0h14v7h-14zm119 0h7v7h-7zm-504 7h7v7h-7zm126 0h14v7h-14zm252 0h14v7h-14zm133 0h7v7h-7zm-504 7h7v7h-7zm112 0h7v7h-7zm252 0h14v7h-14zm147 0h7v7h-7zm-504 7h7v7h-7zm98 0h14v7h-14zm259 0h7v7h-7zm154 0h7v7h-7zm-504 7h7v7h-7zm91 0h7v7h-7zm168 0h7v7h-7zm84 0h7v7h-7zm168 0h7v7h-7zm-504 7h7v7h-7zm14 0h7v7h-7zm49 0h7v7h-7zm14 0h7v7h-7zm182 0h7v7h-7zm56 0h7v7h-7zm14 0h7v7h-7zm-322 7h7v7h-7zm14 0h14v7h-14zm35 0h7v7h-7zm14 0h7v7h-7zm238 0h7v7h-7zm14 0h7v7h-7zm-259 7h7v7h-7zm196 0h7v7h-7zm21 0h21v7h-21zm35 0h7v7h-7zm-301 7h7v7h-7zm252 0h7v7h-7zm-210 7h7v7h-7zm210 0h7v7h-7zm42 0h7v7h-7zm-252 7h7v7h-7zm210 0h7v7h-7zm42 0h7v7h-7zm-294 7h7v7h-7zm49 0h7v7h-7zm203 0h7v7h-7zm-238 7h28v7h-28zm231 0h7v7h-7zm21 0h21v7h-21zm-210 7h7v7h-7zm196 0h7v7h-7zm42 0h7v7h-7zm14 0h7v7h-7zm-315 7h7v7h-7zm70 0h7v7h-7zm182 0h7v7h-7zm70 0h7v7h-7zm-329 7h7v7h-7zm77 0h14v7h-14zm175 0h7v7h-7zm84 0h7v7h-7zm168 0h7v7h-7zm-511 7h7v7h-7zm252 0h7v7h-7zm98 0h7v7h-7zm154 0h7v7h-7zm-511 7h7v7h-7zm504 0h7v7h-7zm-511 7h7v7h-7zm126 0h7v7h-7zm378 0h7v7h-7zm-511 7h7v7h-7zm133 0h14v7h-14zm371 0h7v7h-7zm-511 7h7v7h-7zm147 0h14v7h-14zm105 0h7v7h-7zm140 0h7v7h-7zm14 0h7v7h-7zm105 0h7v7h-7zm-357 7h14v7h-14zm91 0h7v7h-7zm154 0h7v7h-7zm14 0h7v7h-7zm-189 7h7v7h-7zm14 0h7v7h-7zm168 0h7v7h-7zm14 0h7v7h-7zm63 0h7v7h-7zm-301 7h7v7h-7zm35 0h7v7h-7zm14 0h7v7h-7zm196 0h7v7h-7zm42 0h7v7h-7zm-273 7h14v7h-14zm245 0h28v7h-28zm-266 7h7v7h-7zm49 0h7v7h-7zm196 0h7v7h-7zm63 0h7v7h-7zm-308 7h7v7h-7zm42 0h7v7h-7zm259 0h7v7h-7zm-301 7h7v7h-7zm42 0h7v7h-7zm210 0h7v7h-7zm49 0h7v7h-7zm-301 7h7v7h-7zm42 0h7v7h-7zm7 7h7v7h-7zm196 0h7v7h-7zm63 0h7v7h-7zm-301 7h7v7h-7zm28 0h7v7h-7zm231 0h35v7h-35zm49 0h7v7h-7zm-329 7h7v7h-7zm14 0h7v7h-7zm42 0h7v7h-7zm14 0h7v7h-7zm182 0h7v7h-7zm14 0h7v7h-7zm56 0h7v7h-7zm14 0h7v7h-7zm-343 7h7v7h-7zm84 0h7v7h-7zm168 0h7v7h-7zm14 0h7v7h-7zm70 0h7v7h-7zm14 0h7v7h-7zm-357 7h7v7h-7zm98 0h7v7h-7zm168 0h7v7h-7zm98 0h7v7h-7zm-511 7h7v7h-7zm140 0h7v7h-7zm266 0h7v7h-7zm112 0h7v7h-7zm-511 7h7v7h-7zm392 0h7v7h-7zm126 0h7v7h-7zm-511 7h7v7h-7zm378 0h7v7h-7zm133 0h14v7h-14zm-504 7h7v7h-7zm357 0h14v7h-14zm154 0h14v7h-14zm-504 7h7v7h-7zm350 0h7v7h-7zm161 0h7v7h-7zm-504 7h7v7h-7zm336 0h7v7h-7zm-329 7h7v7h-7zm56 0h7v7h-7zm14 0h7v7h-7zm168 0h7v7h-7zm77 0h14v7h-14zm-322 7h7v7h-7zm56 0h7v7h-7zm14 0h7v7h-7zm182 0h7v7h-7zm14 0h7v7h-7zm56 0h7v7h-7zm-315 7h7v7h-7zm21 0h21v7h-21zm245 0h14v7h-14zm28 0h7v7h-7zm-287 7h7v7h-7zm301 0h7v7h-7zm-301 7h7v7h-7zm42 0h7v7h-7zm210 0h7v7h-7zm-210 7h7v7h-7zm210 0h7v7h-7zm49 0h7v7h-7zm-49 7h7v7h-7zm49 0h7v7h-7zm-301 7h7v7h-7zm49 0h7v7h-7zm203 0h7v7h-7zm56 0h7v7h-7zm-315 7h7v7h-7zm21 0h28v7h-28zm231 0h7v7h-7zm28 0h28v7h-28zm42 0h7v7h-7zm-308 7h7v7h-7zm35 0h7v7h-7zm217 0h7v7h-7zm49 0h7v7h-7zm14 0h7v7h-7zm-259 7h7v7h-7zm189 0h7v7h-7zm63 0h7v7h-7zm14 0h7v7h-7zm-343 7h7v7h-7zm77 0h14v7h-14zm273 0h7v7h-7zm-357 7h7v7h-7zm91 0h14v7h-14zm273 0h7v7h-7zm-371 7h7v7h-7zm105 0h14v7h-14zm273 0h7v7h-7zm-385 7h7v7h-7zm119 0h14v7h-14zm266 0h14v7h-14zm119 0h7v7h-7zm-511 7h7v7h-7zm133 0h14v7h-14zm266 0h7v7h-7zm105 0h7v7h-7zm-511 7h7v7h-7zm147 0h14v7h-14zm266 0h7v7h-7zm77 0h7v7h-7z"/>
<path fill="#080808" d="M837 1798h7v7h-7zm-7 7h7v7h-7zm371 0h7v7h-7zm161 0h7v7h-7zm-539 7h7v7h-7zm385 0h7v7h-7zm147 0h7v7h-7zm-140 7h7v7h-7zm133 0h7v7h-7zm-357 7h7v7h-7zm231 0h7v7h-7zm119 0h7v7h-7zm-343 7h7v7h-7zm56 0h7v7h-7zm175 0h7v7h-7zm21 0h7v7h-7zm63 0h7v7h-7zm21 0h7v7h-7zm-98 7h7v7h-7zm91 0h7v7h-7zm-336 7h7v7h-7zm35 0h7v7h-7zm252 0h14v7h-14zm42 0h7v7h-7zm-266 7h7v7h-7zm-56 7h7v7h-7zm252 0h7v7h-7zm-203 7h7v7h-7zm-49 7h7v7h-7zm49 0h7v7h-7zm203 0h7v7h-7zm-203 7h7v7h-7zm203 0h7v7h-7zm-259 7h7v7h-7zm21 7h7v7h-7zm21 0h7v7h-7zm231 0h7v7h-7zm28 0h7v7h-7zm28 0h7v7h-7zm-322 7h7v7h-7zm63 0h7v7h-7zm189 0h7v7h-7zm56 0h7v7h-7zm21 0h7v7h-7zm-259 21h7v7h-7zm7 7h7v7h-7zm280 0h7v7h-7zm-399 7h7v7h-7zm140 0h7v7h-7zm266 0h7v7h-7zm-504 7h7v7h-7zm245 0h7v7h-7zm-238 7h7v7h-7zm63 0h7v7h-7zm168 0h7v7h-7zm84 0h7v7h-7zm-77 7h7v7h-7zm-210 7h21v7h-21zm217 0h7v7h-7zm21 0h7v7h-7zm28 0h7v7h-7zm-294 7h7v7h-7zm56 7h7v7h-7zm252 0h7v7h-7zm-301 7h7v7h-7zm0 7h7v7h-7zm301 7h7v7h-7zm-308 7h7v7h-7zm-7 7h7v7h-7zm21 0h7v7h-7zm35 0h7v7h-7zm196 0h7v7h-7zm21 0h7v7h-7zm-28 7h7v7h-7zm70 0h7v7h-7zm7 7h7v7h-7zm-238 7h14v7h-14zm245 0h7v7h-7zm-238 7h14v7h-14zm147 0h7v7h-7zm98 0h7v7h-7zm14 0h7v7h-7zm154 0h7v7h-7zm-406 7h7v7h-7zm133 0h7v7h-7zm112 0h7v7h-7zm14 0h7v7h-7zm140 0h7v7h-7zm-273 7h7v7h-7zm126 0h7v7h-7zm14 0h7v7h-7zm98 7h7v7h-7zm-266 7h7v7h-7zm259 0h7v7h-7zm-315 7h7v7h-7zm-14 7h7v7h-7zm28 0h7v7h-7zm21 0h7v7h-7zm224 0h14v7h-14zm28 0h7v7h-7zm35 0h7v7h-7zm-329 7h7v7h-7zm245 0h7v7h-7zm77 0h7v7h-7zm-266 14h7v7h-7zm196 0h7v7h-7zm63 0h7v7h-7zm-63 7h7v7h-7zm63 0h7v7h-7zm-259 7h7v7h-7zm196 0h7v7h-7zm63 0h7v7h-7zm-315 7h7v7h-7zm21 7h21v7h-21zm42 0h7v7h-7zm182 0h7v7h-7zm21 7h7v7h-7zm42 0h7v7h-7zm-308 7h7v7h-7zm56 0h7v7h-7zm-63 7h7v7h-7zm70 0h7v7h-7zm168 0h7v7h-7zm98 0h7v7h-7zm-245 7h7v7h-7zm-119 7h7v7h-7zm126 0h7v7h-7zm-259 7h7v7h-7zm126 0h7v7h-7zm-119 7h7v7h-7zm112 0h7v7h-7zm140 0h7v7h-7zm-245 7h7v7h-7zm98 0h7v7h-7zm154 0h7v7h-7zm105 0h7v7h-7zm-350 7h7v7h-7zm84 0h7v7h-7zm14 0h7v7h-7zm154 0h7v7h-7zm14 0h7v7h-7zm77 0h7v7h-7zm-336 7h7v7h-7zm266 0h7v7h-7zm-238 7h7v7h-7zm28 0h7v7h-7zm259 0h7v7h-7zm-21 7h14v7h-14zm35 0h7v7h-7zm-259 7h7v7h-7zm196 0h7v7h-7zm56 7h7v7h-7zm-301 7h7v7h-7zm0 7h7v7h-7zm49 0h7v7h-7zm196 7h7v7h-7zm-189 7h7v7h-7zm-70 7h7v7h-7zm28 0h7v7h-7zm224 0h7v7h-7zm28 0h7v7h-7zm35 0h7v7h-7zm-322 7h7v7h-7zm21 0h7v7h-7zm49 0h7v7h-7zm182 0h7v7h-7zm-7 7h7v7h-7zm21 0h7v7h-7zm77 0h7v7h-7zm-84 7h7v7h-7zm252 0h7v7h-7zm-28 7h7v7h-7zm-511 7h7v7h-7zm504 0h7v7h-7zm-7 7h7v7h-7zm-70 7h7v7h-7z"/>
<path fill="#0c0c0c" d="M942 1798h7v7h-7zm168 0h7v7h-7zm-161 7h7v7h-7zm35 14h7v7h-7zm77 7h7v7h-7zm182 0h7v7h-7zm77 0h7v7h-7zm-336 14h7v7h-7zm28 0h7v7h-7zm28 0h7v7h-7zm224 0h7v7h-7zm35 0h7v7h-7zm-238 7h7v7h-7zm182 7h7v7h-7zm70 7h7v7h-7zm-315 7h7v7h-7zm252 0h7v7h-7zm63 14h7v7h-7zm-70 7h7v7h-7zm-259 7h7v7h-7zm35 0h14v7h-14zm252 0h7v7h-7zm14 0h7v7h-7zm-245 7h7v7h-7zm-217 7h7v7h-7zm168 0h7v7h-7zm77 0h7v7h-7zm175 0h7v7h-7zm70 0h7v7h-7zm21 0h7v7h-7zm-259 7h7v7h-7zm266 0h7v7h-7zm-259 7h7v7h-7zm266 0h7v7h-7zm-504 7h7v7h-7zm245 0h7v7h-7zm-238 7h7v7h-7zm231 0h7v7h-7zm-147 7h7v7h-7zm154 0h7v7h-7zm98 0h7v7h-7zm-308 14h7v7h-7zm35 0h7v7h-7zm210 0h7v7h-7zm-266 7h7v7h-7zm280 0h21v7h-21zm-210 7h7v7h-7zm252 0h7v7h-7zm-63 7h7v7h-7zm-196 7h7v7h-7zm252 0h7v7h-7zm-252 7h7v7h-7zm252 0h7v7h-7zm-308 7h7v7h-7zm252 0h7v7h-7zm-189 7h7v7h-7zm252 0h7v7h-7zm-273 7h7v7h-7zm231 0h7v7h-7zm21 0h7v7h-7zm-308 7h7v7h-7zm21 0h7v7h-7zm49 0h7v7h-7zm203 0h7v7h-7zm238 0h7v7h-7zm-518 7h7v7h-7zm252 0h7v7h-7zm259 0h7v7h-7zm-266 7h7v7h-7zm-7 7h7v7h-7zm-7 7h7v7h-7zm259 0h7v7h-7zm-266 7h7v7h-7zm259 0h7v7h-7zm21 0h7v7h-7zm-287 7h7v7h-7zm280 0h7v7h-7zm-350 7h7v7h-7zm343 0h7v7h-7zm-357 7h7v7h-7zm273 0h7v7h-7zm49 0h7v7h-7zm28 0h7v7h-7zm-308 7h14v7h-14zm210 0h7v7h-7zm42 0h14v7h-14zm-217 7h7v7h-7zm-63 7h7v7h-7zm245 0h7v7h-7zm77 0h7v7h-7zm-266 14h7v7h-7zm-56 7h7v7h-7zm322 7h7v7h-7zm-329 7h7v7h-7zm21 7h7v7h-7zm28 0h7v7h-7zm231 0h7v7h-7zm28 0h7v7h-7zm-42 7h7v7h-7zm-273 14h7v7h-7zm84 0h7v7h-7zm154 0h7v7h-7zm112 0h7v7h-7zm-357 7h7v7h-7zm98 0h7v7h-7zm140 0h7v7h-7zm126 0h7v7h-7zm-371 7h7v7h-7zm112 0h7v7h-7zm14 0h7v7h-7zm-133 7h7v7h-7zm140 0h7v7h-7zm-147 7h7v7h-7zm154 0h7v7h-7zm259 7h7v7h-7zm-490 7h7v7h-7zm301 0h7v7h-7zm-287 7h7v7h-7zm245 0h7v7h-7zm56 0h7v7h-7zm-259 7h7v7h-7zm182 0h7v7h-7zm-245 7h7v7h-7zm56 7h7v7h-7zm196 0h7v7h-7zm-196 7h7v7h-7zm196 7h7v7h-7zm63 0h7v7h-7zm-315 7h7v7h-7zm28 14h21v7h-21zm42 0h7v7h-7zm210 0h7v7h-7zm21 0h7v7h-7zm196 0h7v7h-7zm-7 7h7v7h-7zm-511 7h7v7h-7zm21 0h7v7h-7zm63 0h7v7h-7zm420 0h7v7h-7zm-511 7h7v7h-7zm252 0h7v7h-7zm112 0h7v7h-7zm140 0h7v7h-7zm-511 7h7v7h-7zm252 0h7v7h-7zm21 0h7v7h-7zm105 0h7v7h-7zm147 0h7v7h-7zm-280 7h7v7h-7zm21 0h7v7h-7zm140 0h7v7h-7zm112 0h7v7h-7zm-280 7h7v7h-7zm21 0h7v7h-7zm154 0h7v7h-7zm98 0h7v7h-7zm-357 7h7v7h-7zm77 0h7v7h-7zm21 0h7v7h-7zm252 0h7v7h-7z"/>
<path fill="#101010" d="M858 1798h7v7h-7zm105 0h7v7h-7zm7 7h7v7h-7zm133 0h7v7h-7zm-147 7h7v7h-7zm21 0h7v7h-7zm252 0h7v7h-7zm-266 7h7v7h-7zm105 0h7v7h-7zm168 0h7v7h-7zm91 0h7v7h-7zm-357 7h7v7h-7zm7 7h7v7h-7zm28 0h7v7h-7zm252 0h7v7h-7zm-238 7h7v7h-7zm14 0h7v7h-7zm35 0h7v7h-7zm203 0h7v7h-7zm21 0h7v7h-7zm-301 14h7v7h-7zm329 0h7v7h-7zm-7 14h7v7h-7zm0 7h7v7h-7zm-259 14h7v7h-7zm266 0h7v7h-7zm-84 7h7v7h-7zm42 0h7v7h-7zm-301 7h7v7h-7zm28 0h7v7h-7zm252 0h7v7h-7zm42 0h7v7h-7zm-252 7h7v7h-7zm-217 7h7v7h-7zm154 0h7v7h-7zm252 0h7v7h-7zm84 0h7v7h-7zm-483 7h7v7h-7zm-14 7h7v7h-7zm126 0h7v7h-7zm-119 7h7v7h-7zm112 0h7v7h-7zm252 0h7v7h-7zm-357 7h7v7h-7zm7 7h7v7h-7zm7 7h7v7h-7zm315 0h7v7h-7zm-231 7h7v7h-7zm-70 14h7v7h-7zm252 7h7v7h-7zm0 7h7v7h-7zm-231 21h7v7h-7zm49 0h7v7h-7zm210 0h14v7h-14zm42 0h7v7h-7zm-21 7h7v7h-7zm-301 7h7v7h-7zm63 0h7v7h-7zm-91 7h7v7h-7zm511 0h7v7h-7zm-518 7h7v7h-7zm511 0h7v7h-7zm-518 7h7v7h-7zm161 14h7v7h-7zm-14 7h7v7h-7zm273 0h7v7h-7zm63 0h7v7h-7zm-266 7h7v7h-7zm182 0h7v7h-7zm-161 7h7v7h-7zm-70 21h7v7h-7zm245 0h7v7h-7zm77 0h7v7h-7zm-322 7h7v7h-7zm322 7h7v7h-7zm-77 7h7v7h-7zm84 7h7v7h-7zm-343 7h7v7h-7zm84 0h7v7h-7zm168 0h7v7h-7zm98 0h7v7h-7zm-21 7h7v7h-7zm-63 7h7v7h-7zm-42 21h7v7h-7zm140 0h7v7h-7zm7 7h7v7h-7zm7 7h7v7h-7zm-490 7h7v7h-7zm49 7h7v7h-7zm280 0h7v7h-7zm-301 7h14v7h-14zm210 0h7v7h-7zm56 0h7v7h-7zm-301 7h7v7h-7zm322 7h7v7h-7zm-315 7h7v7h-7zm252 7h7v7h-7zm63 0h7v7h-7zm-252 14h7v7h-7zm259 0h7v7h-7zm-77 7h7v7h-7zm84 0h7v7h-7zm-42 7h14v7h-14zm-273 7h7v7h-7zm63 0h7v7h-7zm189 0h7v7h-7zm49 0h7v7h-7zm-231 7h7v7h-7zm-91 7h7v7h-7zm77 0h7v7h-7zm287 0h7v7h-7zm-371 7h7v7h-7zm378 0h7v7h-7zm-14 7h7v7h-7zm-238 7h7v7h-7zm245 0h7v7h-7zm7 7h7v7h-7zm77 0h7v7h-7z"/>
<path fill="#141414" d="M1089 1798h7v7h-7zm98 0h7v7h-7zm28 0h7v7h-7zm-364 7h7v7h-7zm231 0h7v7h-7zm140 0h7v7h-7zm-147 7h7v7h-7zm21 0h7v7h-7zm238 0h7v7h-7zm-245 7h7v7h-7zm-7 7h7v7h-7zm-259 7h7v7h-7zm224 0h7v7h-7zm28 0h7v7h-7zm231 0h7v7h-7zm-280 7h7v7h-7zm252 0h14v7h-14zm-42 7h7v7h-7zm91 0h7v7h-7zm-273 14h7v7h-7zm189 0h7v7h-7zm-252 21h7v7h-7zm252 0h7v7h-7zm-210 21h7v7h-7zm196 0h7v7h-7zm-259 7h7v7h-7zm-7 7h7v7h-7zm-7 7h7v7h-7zm21 0h7v7h-7zm252 0h7v7h-7zm98 0h7v7h-7zm-126 7h7v7h-7zm133 0h7v7h-7zm-462 21h7v7h-7zm49 0h7v7h-7zm196 0h7v7h-7zm238 0h7v7h-7zm-469 7h7v7h-7zm21 0h7v7h-7zm35 0h7v7h-7zm420 0h7v7h-7zm-175 7h7v7h-7zm-77 7h7v7h-7zm-245 14h7v7h-7zm0 7h7v7h-7zm63 7h7v7h-7zm252 0h7v7h-7zm-70 7h7v7h-7zm-217 7h14v7h-14zm49 7h7v7h-7zm252 0h7v7h-7zm-77 7h7v7h-7zm-259 7h7v7h-7zm77 0h7v7h-7zm42 21h7v7h-7zm-14 7h7v7h-7zm273 0h7v7h-7zm-413 7h7v7h-7zm392 0h7v7h-7zm-210 7h7v7h-7zm63 0h7v7h-7zm189 0h7v7h-7zm35 0h7v7h-7zm-308 14h7v7h-7zm245 0h7v7h-7zm91 0h7v7h-7zm-266 7h7v7h-7zm182 14h7v7h-7zm77 0h7v7h-7zm-77 7h7v7h-7zm-252 7h7v7h-7zm70 0h7v7h-7zm-42 14h7v7h-7zm14 0h7v7h-7zm245 0h21v7h-21zm-301 7h7v7h-7zm28 0h7v7h-7zm42 0h7v7h-7zm294 0h7v7h-7zm-511 7h7v7h-7zm518 0h7v7h-7zm-511 7h7v7h-7zm406 0h7v7h-7zm112 0h7v7h-7zm7 7h7v7h-7zm7 7h7v7h-7zm-168 7h7v7h-7zm-336 7h7v7h-7zm63 7h7v7h-7zm259 0h7v7h-7zm21 0h7v7h-7zm-77 7h7v7h-7zm-189 7h7v7h-7zm203 0h7v7h-7zm-210 14h7v7h-7zm182 0h7v7h-7zm70 7h7v7h-7zm-315 7h7v7h-7zm0 7h7v7h-7zm-7 14h7v7h-7zm245 7h7v7h-7zm98 0h7v7h-7zm-287 7h7v7h-7zm294 0h7v7h-7zm-84 7h7v7h-7zm91 0h7v7h-7zm-259 7h7v7h-7zm-14 7h7v7h-7zm21 0h7v7h-7zm-119 7h7v7h-7zm105 0h7v7h-7zm21 0h7v7h-7zm-133 7h7v7h-7zm119 0h7v7h-7zm357 0h7v7h-7zm-483 7h7v7h-7zm133 0h7v7h-7zm294 0h7v7h-7z"/>
<path fill="#181818" d="M1348 1798h7v7h-7zm-154 7h7v7h-7zm147 0h7v7h-7zm-497 7h7v7h-7zm-7 7h7v7h-7zm-7 7h7v7h-7zm168 0h7v7h-7zm252 0h7v7h-7zm-21 14h7v7h-7zm-245 7h7v7h-7zm7 14h7v7h-7zm329 0h7v7h-7zm-266 7h7v7h-7zm189 0h7v7h-7zm-252 7h7v7h-7zm252 0h7v7h-7zm-189 7h7v7h-7zm7 14h7v7h-7zm266 0h7v7h-7zm-315 7h7v7h-7zm210 7h7v7h-7zm-168 7h7v7h-7zm161 0h7v7h-7zm-7 7h7v7h-7zm-238 7h7v7h-7zm252 0h7v7h-7zm-7 7h7v7h-7zm126 0h7v7h-7zm-476 7h7v7h-7zm343 0h7v7h-7zm140 0h7v7h-7zm-399 7h7v7h-7zm252 0h7v7h-7zm-308 7h14v7h-14zm238 0h7v7h-7zm63 0h7v7h-7zm-91 7h7v7h-7zm-245 7h7v7h-7zm70 7h7v7h-7zm252 0h7v7h-7zm-322 28h7v7h-7zm21 14h7v7h-7zm35 0h7v7h-7zm217 0h7v7h-7zm-182 7h7v7h-7zm224 0h7v7h-7zm28 0h7v7h-7zm-245 7h7v7h-7zm154 0h7v7h-7zm98 0h7v7h-7zm-357 7h7v7h-7zm112 0h7v7h-7zm7 7h7v7h-7zm252 0h7v7h-7zm-266 7h7v7h-7zm273 0h7v7h-7zm-399 7h7v7h-7zm378 0h7v7h-7zm105 0h7v7h-7zm-266 7h7v7h-7zm28 0h7v7h-7zm-42 7h7v7h-7zm231 0h7v7h-7zm21 0h7v7h-7zm42 7h7v7h-7zm-7 42h7v7h-7zm-301 14h7v7h-7zm49 7h7v7h-7zm154 0h7v7h-7zm35 0h7v7h-7zm-294 7h7v7h-7zm350 0h7v7h-7zm-476 14h7v7h-7zm392 0h7v7h-7zm-385 7h7v7h-7zm378 0h7v7h-7zm-371 7h7v7h-7zm364 0h7v7h-7zm-287 7h7v7h-7zm259 0h7v7h-7zm21 0h7v7h-7zm-329 14h7v7h-7zm28 0h7v7h-7zm35 0h7v7h-7zm154 0h7v7h-7zm-245 7h7v7h-7zm294 0h14v7h-14zm42 7h7v7h-7zm-259 28h7v7h-7zm182 7h7v7h-7zm252 7h7v7h-7zm-266 14h7v7h-7zm42 0h7v7h-7zm35 0h7v7h-7zm-301 7h7v7h-7zm315 0h7v7h-7zm-70 7h7v7h-7zm203 14h7v7h-7zm-21 14h7v7h-7z"/>
<path fill="#1c1c1c" d="M935 1798h7v7h-7zm266 14h7v7h-7zm7 7h7v7h-7zm-154 7h7v7h-7zm161 0h7v7h-7zm98 0h7v7h-7zm-301 7h7v7h-7zm210 0h7v7h-7zm42 0h7v7h-7zm35 0h7v7h-7zm35 7h7v7h-7zm-273 14h7v7h-7zm-70 14h7v7h-7zm63 7h7v7h-7zm266 7h7v7h-7zm-336 7h7v7h-7zm42 14h7v7h-7zm238 0h7v7h-7zm28 0h7v7h-7zm42 0h7v7h-7zm-336 7h7v7h-7zm252 0h7v7h-7zm56 0h7v7h-7zm-245 14h7v7h-7zm301 7h7v7h-7zm-399 7h7v7h-7zm-7 7h7v7h-7zm154 0h7v7h-7zm63 7h7v7h-7zm-14 7h7v7h-7zm-231 28h7v7h-7zm252 0h7v7h-7zm-252 7h7v7h-7zm252 0h7v7h-7zm-77 21h7v7h-7zm259 0h7v7h-7zm-203 7h7v7h-7zm21 14h7v7h-7zm-238 7h7v7h-7zm161 0h7v7h-7zm84 0h7v7h-7zm28 0h7v7h-7zm-371 7h7v7h-7zm105 0h7v7h-7zm147 0h7v7h-7zm98 0h7v7h-7zm168 0h7v7h-7zm-525 7h7v7h-7zm252 0h7v7h-7zm112 0h7v7h-7zm-119 7h7v7h-7zm-84 7h7v7h-7zm252 0h7v7h-7zm-238 7h7v7h-7zm259 0h14v7h-14zm63 0h7v7h-7zm-112 7h7v7h-7zm-161 7h7v7h-7zm168 7h7v7h-7zm91 0h7v7h-7zm-266 7h7v7h-7zm0 7h7v7h-7zm0 7h7v7h-7zm175 14h7v7h-7zm70 14h7v7h-7zm-308 7h7v7h-7zm56 0h7v7h-7zm28 0h7v7h-7zm-119 7h7v7h-7zm-7 7h7v7h-7zm-7 7h7v7h-7zm-7 7h7v7h-7zm154 14h7v7h-7zm28 0h7v7h-7zm-273 7h7v7h-7zm322 0h7v7h-7zm-308 21h7v7h-7zm70 7h7v7h-7zm182 0h7v7h-7zm-182 7h7v7h-7zm182 7h7v7h-7zm77 0h7v7h-7zm-252 14h7v7h-7zm-84 7h7v7h-7zm504 0h7v7h-7zm-469 7h7v7h-7zm21 0h7v7h-7zm14 7h7v7h-7zm168 0h7v7h-7zm105 7h7v7h-7zm133 7h7v7h-7zm35 0h7v7h-7zm-112 14h7v7h-7zm-196 7h7v7h-7zm287 0h7v7h-7z"/>
<path fill="#202020" d="M830 1798h7v7h-7zm-7 7h7v7h-7zm539 7h7v7h-7zm-371 7h7v7h-7zm252 0h7v7h-7zm112 0h7v7h-7zm-7 7h7v7h-7zm-308 7h7v7h-7zm301 0h7v7h-7zm-364 7h7v7h-7zm259 14h7v7h-7zm84 14h7v7h-7zm0 7h7v7h-7zm-84 14h7v7h-7zm-413 14h7v7h-7zm196 0h7v7h-7zm49 0h7v7h-7zm-28 7h7v7h-7zm301 0h7v7h-7zm7 7h7v7h-7zm7 7h7v7h-7zm-287 7h7v7h-7zm-210 7h7v7h-7zm245 0h7v7h-7zm-175 7h7v7h-7zm-49 7h7v7h-7zm217 7h7v7h-7zm42 0h7v7h-7zm-287 7h7v7h-7zm259 14h7v7h-7zm0 21h7v7h-7zm-175 7h7v7h-7zm252 0h7v7h-7zm-336 7h7v7h-7zm245 7h7v7h-7zm259 0h7v7h-7zm-35 35h7v7h-7zm35 0h7v7h-7zm-301 7h7v7h-7zm294 0h7v7h-7zm-49 7h7v7h-7zm42 0h7v7h-7zm-322 7h14v7h-14zm-42 7h7v7h-7zm7 14h7v7h-7zm0 21h7v7h-7zm336 0h7v7h-7zm-343 14h7v7h-7zm84 0h7v7h-7zm266 0h7v7h-7zm-112 21h7v7h-7zm-231 7h7v7h-7zm70 0h7v7h-7zm28 0h7v7h-7zm238 0h7v7h-7zm-497 21h7v7h-7zm7 7h7v7h-7zm252 0h7v7h-7zm-245 7h7v7h-7zm35 0h7v7h-7zm77 0h7v7h-7zm-63 7h7v7h-7zm14 0h7v7h-7zm462 0h7v7h-7zm-259 14h7v7h-7zm7 21h7v7h-7zm-252 14h7v7h-7zm245 7h7v7h-7zm-259 14h7v7h-7zm49 0h14v7h-14zm252 0h7v7h-7zm21 0h7v7h-7zm182 0h7v7h-7zm-511 7h7v7h-7zm504 0h7v7h-7zm-476 7h7v7h-7zm217 0h7v7h-7zm252 0h7v7h-7zm-511 7h7v7h-7zm252 0h7v7h-7zm35 0h7v7h-7zm-42 7h7v7h-7zm35 0h7v7h-7zm140 0h7v7h-7zm112 0h7v7h-7zm-294 7h7v7h-7zm287 0h7v7h-7zm-357 7h7v7h-7zm98 0h7v7h-7zm175 0h7v7h-7z"/>
<path fill="#242424" d="M865 1798h7v7h-7zm252 0h7v7h-7zm63 0h7v7h-7zm-238 7h7v7h-7zm42 7h7v7h-7zm252 0h7v7h-7zm-175 7h7v7h-7zm259 0h7v7h-7zm-350 14h7v7h-7zm49 0h7v7h-7zm252 0h7v7h-7zm21 0h7v7h-7zm35 21h7v7h-7zm0 35h7v7h-7zm-350 7h7v7h-7zm294 7h7v7h-7zm14 0h7v7h-7zm-455 7h7v7h-7zm245 0h7v7h-7zm-84 7h7v7h-7zm322 0h7v7h-7zm-462 14h7v7h-7zm245 0h7v7h-7zm-161 7h7v7h-7zm140 0h7v7h-7zm7 7h7v7h-7zm98 0h7v7h-7zm-266 7h7v7h-7zm175 0h7v7h-7zm35 0h7v7h-7zm21 7h14v7h-14zm217 7h7v7h-7zm-427 7h7v7h-7zm252 0h7v7h-7zm-329 7h7v7h-7zm252 7h7v7h-7zm0 7h7v7h-7zm-252 7h7v7h-7zm-14 21h7v7h-7zm42 0h7v7h-7zm21 0h7v7h-7zm231 0h7v7h-7zm14 0h7v7h-7zm-280 7h7v7h-7zm49 0h7v7h-7zm168 0h7v7h-7zm35 0h7v7h-7zm224 0h7v7h-7zm-14 14h7v7h-7zm-7 7h7v7h-7zm-266 7h7v7h-7zm154 21h7v7h-7zm112 14h7v7h-7zm-343 14h7v7h-7zm245 0h7v7h-7zm91 0h7v7h-7zm-336 7h7v7h-7zm336 0h7v7h-7zm-91 14h7v7h-7zm-224 21h7v7h-7zm28 0h7v7h-7zm231 0h7v7h-7zm-14 7h7v7h-7zm-42 7h7v7h-7zm-231 7h7v7h-7zm84 0h7v7h-7zm28 0h7v7h-7zm238 0h7v7h-7zm-259 7h7v7h-7zm28 0h7v7h-7zm-21 7h7v7h-7zm28 0h7v7h-7zm-147 7h7v7h-7zm154 0h7v7h-7zm-196 7h7v7h-7zm-21 7h7v7h-7zm238 0h7v7h-7zm63 7h7v7h-7zm-259 7h7v7h-7zm252 7h7v7h-7zm0 14h7v7h-7zm7 14h7v7h-7zm-252 14h7v7h-7zm210 7h14v7h-14zm-21 7h7v7h-7zm49 0h7v7h-7zm-350 7h7v7h-7zm98 0h7v7h-7zm273 7h7v7h-7zm7 7h7v7h-7zm-112 7h7v7h-7zm210 0h7v7h-7zm-84 7h7v7h-7zm70 0h7v7h-7z"/>
<path fill="#282828" d="M970 1798h7v7h-7zm252 0h7v7h-7zm-245 7h7v7h-7zm133 0h7v7h-7zm119 0h7v7h-7zm-280 7h7v7h-7zm7 7h7v7h-7zm7 7h7v7h-7zm42 0h7v7h-7zm252 0h7v7h-7zm-231 7h14v7h-14zm252 0h14v7h-14zm-210 14h7v7h-7zm161 0h7v7h-7zm-245 7h7v7h-7zm252 7h7v7h-7zm-252 21h7v7h-7zm252 0h7v7h-7zm-175 7h7v7h-7zm168 7h7v7h-7zm49 7h7v7h-7zm-441 14h7v7h-7zm245 0h7v7h-7zm161 0h7v7h-7zm-399 7h7v7h-7zm245 0h7v7h-7zm-266 14h7v7h-7zm14 14h7v7h-7zm7 7h7v7h-7zm14 28h7v7h-7zm0 7h7v7h-7zm336 21h7v7h-7zm-49 7h7v7h-7zm-308 7h7v7h-7zm329 0h7v7h-7zm-84 7h7v7h-7zm259 0h7v7h-7zm-266 7h7v7h-7zm-7 7h7v7h-7zm-77 14h7v7h-7zm252 0h7v7h-7zm-203 7h7v7h-7zm217 0h7v7h-7zm-287 7h7v7h-7zm98 7h7v7h-7zm-7 14h7v7h-7zm168 14h7v7h-7zm0 7h7v7h-7zm-259 21h7v7h-7zm252 0h7v7h-7zm112 0h7v7h-7zm-511 7h7v7h-7zm469 0h7v7h-7zm-91 21h7v7h-7zm-231 7h7v7h-7zm364 0h7v7h-7zm-371 7h7v7h-7zm-98 7h7v7h-7zm308 7h7v7h-7zm182 0h7v7h-7zm-196 7h7v7h-7zm-308 14h7v7h-7zm7 14h7v7h-7zm329 0h7v7h-7zm-329 7h7v7h-7zm0 7h7v7h-7zm77 7h7v7h-7zm266 7h7v7h-7zm-252 14h7v7h-7zm-70 7h7v7h-7zm-21 14h7v7h-7zm378 0h7v7h-7zm-252 14h7v7h-7zm231 0h7v7h-7zm56 7h21v7h-21z"/>
<path fill="#2c2c2c" d="M858 1805h7v7h-7zm329 0h7v7h-7zm-119 7h7v7h-7zm259 0h7v7h-7zm-280 14h7v7h-7zm259 0h7v7h-7zm-483 14h7v7h-7zm252 0h7v7h-7zm259 7h7v7h-7zm-273 14h7v7h-7zm-91 42h7v7h-7zm35 7h7v7h-7zm252 0h7v7h-7zm42 0h7v7h-7zm-252 7h7v7h-7zm-63 7h7v7h-7zm336 0h7v7h-7zm-378 7h7v7h-7zm245 7h7v7h-7zm-357 7h7v7h-7zm42 0h7v7h-7zm14 7h7v7h-7zm21 0h7v7h-7zm259 0h7v7h-7zm189 7h7v7h-7zm-413 7h7v7h-7zm252 0h7v7h-7zm-91 7h7v7h-7zm84 28h7v7h-7zm-84 7h7v7h-7zm259 0h7v7h-7zm-420 7h7v7h-7zm-49 7h14v7h-14zm-63 14h7v7h-7zm35 0h7v7h-7zm63 0h7v7h-7zm-105 7h7v7h-7zm413 14h7v7h-7zm70 7h7v7h-7zm-343 7h7v7h-7zm42 0h7v7h-7zm203 0h7v7h-7zm84 0h7v7h-7zm-469 7h7v7h-7zm511 7h7v7h-7zm-357 7h7v7h-7zm245 0h7v7h-7zm-245 35h7v7h-7zm84 0h7v7h-7zm7 14h7v7h-7zm-56 7h21v7h-21zm259 0h21v7h-21zm70 0h7v7h-7zm-511 7h7v7h-7zm210 0h7v7h-7zm266 0h7v7h-7zm-63 7h7v7h-7zm-49 14h7v7h-7zm-336 7h7v7h-7zm483 0h7v7h-7zm-420 7h7v7h-7zm427 0h7v7h-7zm-469 7h7v7h-7zm322 7h7v7h-7zm-105 7h7v7h-7zm7 14h7v7h-7zm0 28h7v7h-7zm259 0h7v7h-7zm-511 7h7v7h-7zm245 7h7v7h-7zm112 0h7v7h-7zm7 7h7v7h-7zm-301 7h7v7h-7zm42 0h7v7h-7zm266 0h7v7h-7zm-98 7h7v7h-7zm105 0h7v7h-7zm-294 7h7v7h-7zm-84 7h7v7h-7zm126 0h7v7h-7zm336 0h7v7h-7zm-56 7h7v7h-7zm-210 7h7v7h-7z"/>
<path fill="#303030" d="M928 1798h7v7h-7zm154 0h7v7h-7zm259 0h7v7h-7zm-266 7h7v7h-7zm259 0h7v7h-7zm-483 7h7v7h-7zm252 0h7v7h-7zm91 0h7v7h-7zm-98 7h7v7h-7zm154 0h7v7h-7zm-420 14h7v7h-7zm252 0h7v7h-7zm140 7h7v7h-7zm-238 21h7v7h-7zm343 0h7v7h-7zm-91 7h7v7h-7zm-252 7h7v7h-7zm252 0h7v7h-7zm-175 7h7v7h-7zm266 0h7v7h-7zm7 14h7v7h-7zm-112 7h7v7h-7zm-259 7h7v7h-7zm70 0h7v7h-7zm-77 7h7v7h-7zm-7 7h7v7h-7zm287 0h7v7h-7zm-42 7h7v7h-7zm133 0h7v7h-7zm-406 14h7v7h-7zm196 0h7v7h-7zm-224 7h14v7h-14zm455 0h7v7h-7zm-497 21h7v7h-7zm511 0h7v7h-7zm-427 7h7v7h-7zm252 0h7v7h-7zm-252 21h7v7h-7zm-84 7h7v7h-7zm350 14h7v7h-7zm-84 14h7v7h-7zm56 0h7v7h-7zm-189 21h7v7h-7zm217 7h7v7h-7zm63 7h7v7h-7zm-189 7h7v7h-7zm252 21h7v7h-7zm-266 7h7v7h-7zm266 21h7v7h-7zm-364 21h7v7h-7zm252 0h7v7h-7zm-217 7h7v7h-7zm350 0h7v7h-7zm-511 7h7v7h-7zm518 0h7v7h-7zm-511 7h7v7h-7zm392 0h7v7h-7zm126 0h7v7h-7zm-511 7h7v7h-7zm56 21h7v7h-7zm217 0h7v7h-7zm14 7h7v7h-7zm14 0h7v7h-7zm-308 7h7v7h-7zm98 0h7v7h-7zm-7 14h7v7h-7zm259 21h7v7h-7zm161 14h7v7h-7zm-266 14h7v7h-7zm49 7h7v7h-7zm35 0h7v7h-7zm-210 7h7v7h-7zm224 0h7v7h-7zm-217 7h7v7h-7zm-28 7h7v7h-7zm-98 7h7v7h-7zm105 0h7v7h-7zm350 0h7v7h-7zm-462 7h7v7h-7zm119 0h7v7h-7z"/>
<path fill="#343434" d="M844 1819h7v7h-7zm154 0h7v7h-7zm203 0h7v7h-7zm-364 7h7v7h-7zm175 0h7v7h-7zm77 0h7v7h-7zm119 0h7v7h-7zm56 0h7v7h-7zm-49 7h7v7h-7zm126 7h7v7h-7zm-364 7h7v7h-7zm7 21h7v7h-7zm77 0h7v7h-7zm266 0h7v7h-7zm-266 7h7v7h-7zm266 0h7v7h-7zm-350 14h7v7h-7zm-154 7h7v7h-7zm245 0h7v7h-7zm273 7h7v7h-7zm-329 7h7v7h-7zm14 0h7v7h-7zm28 14h7v7h-7zm147 0h7v7h-7zm28 7h7v7h-7zm-364 7h7v7h-7zm469 0h7v7h-7zm7 7h7v7h-7zm-210 7h7v7h-7zm-182 7h7v7h-7zm252 0h7v7h-7zm-105 7h7v7h-7zm91 21h7v7h-7zm0 7h7v7h-7zm175 7h7v7h-7zm-7 14h7v7h-7zm-406 7h7v7h-7zm-70 7h7v7h-7zm35 0h7v7h-7zm217 0h7v7h-7zm28 0h7v7h-7zm49 0h7v7h-7zm-350 14h7v7h-7zm252 0h7v7h-7zm70 0h7v7h-7zm-203 7h7v7h-7zm252 0h7v7h-7zm-35 7h7v7h-7zm168 0h7v7h-7zm-406 7h7v7h-7zm91 0h7v7h-7zm308 0h7v7h-7zm-525 7h7v7h-7zm203 0h7v7h-7zm49 0h7v7h-7zm189 0h7v7h-7zm14 0h7v7h-7zm63 0h7v7h-7zm-7 7h7v7h-7zm-126 7h7v7h-7zm7 14h7v7h-7zm-161 14h7v7h-7zm0 7h7v7h-7zm266 0h7v7h-7zm-105 14h7v7h-7zm-147 14h7v7h-7zm-119 7h7v7h-7zm301 0h7v7h-7zm56 7h7v7h-7zm-84 14h7v7h-7zm-301 7h7v7h-7zm259 0h7v7h-7zm-7 7h7v7h-7zm35 0h7v7h-7zm-329 7h7v7h-7zm322 0h7v7h-7zm-119 7h7v7h-7zm56 0h7v7h-7zm217 7h7v7h-7zm-168 7h7v7h-7zm-343 7h7v7h-7zm84 7h7v7h-7zm168 0h7v7h-7zm0 7h7v7h-7zm-168 7h7v7h-7zm168 0h7v7h-7zm-161 14h7v7h-7zm-98 7h7v7h-7zm42 14h7v7h-7zm21 0h7v7h-7zm-35 7h7v7h-7zm245 7h7v7h-7zm203 0h7v7h-7zm-70 7h7v7h-7zm112 0h7v7h-7zm-308 7h7v7h-7zm301 0h7v7h-7zm-357 7h7v7h-7zm350 0h7v7h-7z"/>
<path fill="#383838" d="M823 1798h7v7h-7zm49 0h7v7h-7zm252 0h7v7h-7zm49 0h7v7h-7zm-238 7h7v7h-7zm308 7h7v7h-7zm-189 7h7v7h-7zm259 0h7v7h-7zm-273 7h7v7h-7zm259 0h7v7h-7zm49 7h7v7h-7zm-280 21h7v7h-7zm161 0h7v7h-7zm0 35h7v7h-7zm-210 21h7v7h-7zm196 0h7v7h-7zm49 0h7v7h-7zm28 0h7v7h-7zm56 0h7v7h-7zm-350 7h7v7h-7zm210 0h7v7h-7zm98 0h7v7h-7zm49 0h7v7h-7zm7 7h7v7h-7zm-385 7h7v7h-7zm245 7h7v7h-7zm-343 7h7v7h-7zm294 0h7v7h-7zm42 0h7v7h-7zm-259 7h7v7h-7zm203 0h7v7h-7zm49 0h7v7h-7zm-364 14h7v7h-7zm259 14h7v7h-7zm259 0h7v7h-7zm-427 7h7v7h-7zm0 7h7v7h-7zm168 7h7v7h-7zm91 7h7v7h-7zm-350 7h7v7h-7zm252 0h7v7h-7zm-140 14h7v7h-7zm7 7h7v7h-7zm252 0h7v7h-7zm-280 7h7v7h-7zm35 0h7v7h-7zm252 0h7v7h-7zm-371 7h7v7h-7zm252 0h7v7h-7zm84 0h7v7h-7zm-343 7h7v7h-7zm105 0h7v7h-7zm147 0h7v7h-7zm217 0h7v7h-7zm-476 7h7v7h-7zm252 0h7v7h-7zm161 0h7v7h-7zm-238 7h7v7h-7zm266 0h7v7h-7zm-308 14h7v7h-7zm98 7h7v7h-7zm-91 7h7v7h-7zm350 7h7v7h-7zm0 7h7v7h-7zm-350 7h7v7h-7zm-7 14h7v7h-7zm364 0h7v7h-7zm-511 7h7v7h-7zm476 14h7v7h-7zm-350 7h7v7h-7zm42 0h7v7h-7zm56 0h7v7h-7zm-105 7h7v7h-7zm-7 7h7v7h-7zm287 7h7v7h-7zm-350 7h7v7h-7zm21 7h14v7h-14zm273 0h7v7h-7zm-329 7h7v7h-7zm112 0h7v7h-7zm147 14h7v7h-7zm-161 21h7v7h-7zm427 7h7v7h-7zm-511 7h7v7h-7zm245 7h7v7h-7zm252 7h7v7h-7zm-511 7h7v7h-7zm504 0h7v7h-7zm-448 7h14v7h-14zm189 0h7v7h-7zm63 0h7v7h-7zm21 0h7v7h-7zm168 0h7v7h-7zm-413 7h7v7h-7zm154 0h7v7h-7zm252 0h7v7h-7zm-259 7h7v7h-7zm126 0h7v7h-7zm-133 7h7v7h-7zm49 0h7v7h-7zm154 7h7v7h-7z"/>
<path fill="#3c3c3c" d="M1236 1805h7v7h-7zm-245 7h7v7h-7zm371 7h7v7h-7zm-343 7h7v7h-7zm252 0h7v7h-7zm21 0h7v7h-7zm63 0h7v7h-7zm-385 14h7v7h-7zm-147 7h7v7h-7zm511 7h7v7h-7zm0 35h7v7h-7zm-504 14h7v7h-7zm245 0h7v7h-7zm-35 14h7v7h-7zm210 0h7v7h-7zm-392 14h7v7h-7zm70 7h7v7h-7zm42 0h7v7h-7zm140 0h7v7h-7zm-147 7h7v7h-7zm175 7h7v7h-7zm-49 7h7v7h-7zm266 7h7v7h-7zm-504 14h7v7h-7zm511 7h7v7h-7zm0 7h7v7h-7zm-511 7h7v7h-7zm497 21h7v7h-7zm-210 7h7v7h-7zm14 0h7v7h-7zm-210 21h7v7h-7zm378 0h7v7h-7zm-266 7h7v7h-7zm-56 7h7v7h-7zm301 0h7v7h-7zm-280 7h14v7h-14zm315 21h7v7h-7zm-357 14h7v7h-7zm245 0h7v7h-7zm-245 7h7v7h-7zm245 14h7v7h-7zm-154 7h7v7h-7zm-63 21h7v7h-7zm28 0h7v7h-7zm49 0h7v7h-7zm126 0h7v7h-7zm-154 14h7v7h-7zm-231 21h7v7h-7zm91 0h7v7h-7zm203 0h7v7h-7zm-287 7h7v7h-7zm252 0h7v7h-7zm273 7h7v7h-7zm-161 21h7v7h-7zm0 14h7v7h-7zm7 14h7v7h-7zm-371 28h7v7h-7zm322 0h14v7h-14zm-329 7h7v7h-7zm308 0h7v7h-7zm-266 7h7v7h-7zm378 0h7v7h-7zm-42 7h7v7h-7zm105 0h7v7h-7zm-203 7h7v7h-7zm189 0h7v7h-7zm-252 7h7v7h-7zm56 0h7v7h-7z"/>
<path fill="#404040" d="M921 1798h7v7h-7zm308 0h7v7h-7zm-364 7h7v7h-7zm119 0h7v7h-7zm133 0h7v7h-7zm63 0h7v7h-7zm-238 7h7v7h-7zm378 0h7v7h-7zm-63 7h7v7h-7zm-231 7h14v7h-14zm252 0h14v7h-14zm-315 7h7v7h-7zm14 21h7v7h-7zm252 7h7v7h-7zm-259 35h7v7h-7zm-133 14h7v7h-7zm434 0h7v7h-7zm14 0h7v7h-7zm-441 7h7v7h-7zm7 7h7v7h-7zm210 7h7v7h-7zm-147 14h7v7h-7zm168 7h7v7h-7zm63 0h14v7h-14zm-308 7h7v7h-7zm105 14h7v7h-7zm252 0h7v7h-7zm-343 14h7v7h-7zm252 0h7v7h-7zm-252 7h7v7h-7zm252 0h7v7h-7zm-161 14h7v7h-7zm-105 14h7v7h-7zm252 0h7v7h-7zm-203 7h7v7h-7zm21 0h7v7h-7zm238 0h7v7h-7zm196 0h7v7h-7zm-469 7h7v7h-7zm49 0h7v7h-7zm203 0h7v7h-7zm42 0h7v7h-7zm168 0h7v7h-7zm-7 7h7v7h-7zm-119 35h7v7h-7zm-385 7h7v7h-7zm399 28h7v7h-7zm0 7h7v7h-7zm-7 21h7v7h-7zm49 14h7v7h-7zm-175 7h7v7h-7zm112 0h7v7h-7zm49 0h7v7h-7zm-266 7h7v7h-7zm336 0h7v7h-7zm-259 7h7v7h-7zm-196 7h7v7h-7zm245 0h7v7h-7zm-35 7h7v7h-7zm-119 7h7v7h-7zm175 0h7v7h-7zm70 14h7v7h-7zm-259 7h7v7h-7zm420 0h7v7h-7zm-511 14h7v7h-7zm343 0h7v7h-7zm-343 7h7v7h-7zm511 0h7v7h-7zm-511 7h7v7h-7zm98 21h7v7h-7zm231 21h7v7h-7zm-252 7h7v7h-7zm63 14h7v7h-7zm217 0h7v7h-7zm63 0h21v7h-21zm-56 7h7v7h-7z"/>
<path fill="#444444" d="M879 1798h7v7h-7zm98 0h7v7h-7zm154 0h7v7h-7zm35 0h7v7h-7zm-105 14h7v7h-7zm-112 7h7v7h-7zm56 0h7v7h-7zm-49 7h7v7h-7zm-126 14h7v7h-7zm245 7h7v7h-7zm147 0h7v7h-7zm112 14h7v7h-7zm-357 21h7v7h-7zm252 0h7v7h-7zm-406 7h7v7h-7zm245 0h7v7h-7zm14 21h7v7h-7zm196 0h7v7h-7zm35 14h7v7h-7zm-378 7h7v7h-7zm168 0h7v7h-7zm-35 7h7v7h-7zm112 0h7v7h-7zm-357 7h7v7h-7zm63 0h7v7h-7zm189 0h7v7h-7zm49 0h7v7h-7zm-294 7h7v7h-7zm525 56h7v7h-7zm-154 7h7v7h-7zm-308 14h14v7h-14zm189 0h7v7h-7zm-21 21h7v7h-7zm182 7h7v7h-7zm-203 7h7v7h-7zm217 0h7v7h-7zm-294 14h7v7h-7zm112 7h7v7h-7zm266 0h7v7h-7zm-126 7h7v7h-7zm-147 7h7v7h-7zm266 0h7v7h-7zm-266 28h7v7h-7zm266 0h7v7h-7zm-371 14h7v7h-7zm378 0h7v7h-7zm-511 7h7v7h-7zm182 7h7v7h-7zm14 0h7v7h-7zm266 0h7v7h-7zm-196 14h7v7h-7zm-119 7h7v7h-7zm126 0h7v7h-7zm224 0h7v7h-7zm-259 7h7v7h-7zm91 14h7v7h-7zm189 0h7v7h-7zm-504 21h7v7h-7zm252 7h7v7h-7zm266 0h7v7h-7zm0 7h7v7h-7zm-420 21h7v7h-7zm154 0h7v7h-7zm259 0h7v7h-7zm-511 7h7v7h-7zm364 0h7v7h-7zm-119 7h7v7h-7zm-210 21h7v7h-7zm35 0h7v7h-7zm322 0h7v7h-7zm-112 7h7v7h-7zm-266 7h7v7h-7zm399 0h7v7h-7zm-210 7h7v7h-7zm-42 7h7v7h-7zm28 0h7v7h-7z"/>
<path fill="#484848" d="M1068 1805h7v7h-7zm259 0h7v7h-7zm-469 7h7v7h-7zm329 0h7v7h-7zm-140 7h7v7h-7zm259 0h7v7h-7zm35 28h7v7h-7zm-364 14h7v7h-7zm91 0h7v7h-7zm161 7h7v7h-7zm0 7h7v7h-7zm105 7h7v7h-7zm-112 14h7v7h-7zm119 0h7v7h-7zm-378 7h7v7h-7zm42 14h7v7h-7zm84 0h7v7h-7zm210 0h7v7h-7zm-308 7h7v7h-7zm105 0h7v7h-7zm147 0h7v7h-7zm-371 14h7v7h-7zm35 7h7v7h-7zm441 14h7v7h-7zm-252 14h7v7h-7zm98 28h7v7h-7zm-98 7h7v7h-7zm-266 21h7v7h-7zm-7 7h7v7h-7zm252 0h7v7h-7zm-7 7h7v7h-7zm-77 14h7v7h-7zm301 7h7v7h-7zm-91 7h7v7h-7zm-371 7h7v7h-7zm140 14h7v7h-7zm0 35h7v7h-7zm-147 7h7v7h-7zm252 7h7v7h-7zm273 7h7v7h-7zm-511 7h7v7h-7zm182 0h7v7h-7zm252 0h7v7h-7zm-231 7h7v7h-7zm154 7h7v7h-7zm-336 7h7v7h-7zm63 7h7v7h-7zm49 0h7v7h-7zm364 0h7v7h-7zm-455 7h7v7h-7zm84 0h7v7h-7zm210 0h7v7h-7zm168 0h7v7h-7zm-252 21h7v7h-7zm126 56h7v7h-7zm-259 7h7v7h-7zm266 0h7v7h-7zm7 7h7v7h-7zm-91 7h7v7h-7zm175 7h7v7h-7zm-329 7h7v7h-7zm-133 7h7v7h-7z"/>
<path fill="#4c4c4c" d="M1075 1798h7v7h-7zm259 0h7v7h-7zm-224 14h7v7h-7zm140 0h7v7h-7zm-399 7h7v7h-7zm413 0h7v7h-7zm-427 14h7v7h-7zm245 7h7v7h-7zm133 0h7v7h-7zm-392 14h7v7h-7zm154 14h7v7h-7zm357 0h7v7h-7zm-357 7h7v7h-7zm357 0h7v7h-7zm-378 35h7v7h-7zm-7 7h7v7h-7zm84 0h7v7h-7zm-91 7h7v7h-7zm105 0h7v7h-7zm273 7h7v7h-7zm-427 14h14v7h-14zm273 0h7v7h-7zm175 7h7v7h-7zm-392 14h7v7h-7zm252 0h7v7h-7zm-357 7h7v7h-7zm511 0h7v7h-7zm-413 7h7v7h-7zm252 0h7v7h-7zm-252 21h7v7h-7zm-98 7h7v7h-7zm105 7h7v7h-7zm-84 28h7v7h-7zm252 0h7v7h-7zm56 0h7v7h-7zm63 7h7v7h-7zm70 7h7v7h-7zm-301 7h7v7h-7zm357 0h7v7h-7zm-406 7h7v7h-7zm399 0h7v7h-7zm-273 7h7v7h-7zm266 0h7v7h-7zm-280 28h7v7h-7zm266 0h7v7h-7zm-266 14h7v7h-7zm266 0h7v7h-7zm-119 14h7v7h-7zm-259 14h7v7h-7zm322 7h14v7h-14zm77 0h7v7h-7zm-511 7h7v7h-7zm154 0h7v7h-7zm308 0h7v7h-7zm56 0h7v7h-7zm-511 7h7v7h-7zm392 0h7v7h-7zm-336 21h7v7h-7zm231 7h7v7h-7zm14 0h7v7h-7zm56 7h7v7h-7zm-259 7h7v7h-7zm-7 14h7v7h-7zm154 7h7v7h-7zm0 14h7v7h-7zm105 0h7v7h-7zm147 14h7v7h-7zm-266 14h7v7h-7zm-119 7h7v7h-7zm-77 7h7v7h-7zm287 0h7v7h-7zm-196 7h7v7h-7zm210 0h7v7h-7zm-252 7h7v7h-7zm119 0h7v7h-7zm245 0h7v7h-7zm63 7h7v7h-7zm-518 7h7v7h-7zm168 0h7v7h-7zm14 0h7v7h-7zm329 0h7v7h-7z"/>
<path fill="#505050" d="M914 1798h7v7h-7zm224 0h7v7h-7zm21 0h7v7h-7zm-231 7h7v7h-7zm70 7h7v7h-7zm14 7h7v7h-7zm91 0h7v7h-7zm91 0h7v7h-7zm-350 7h7v7h-7zm364 7h7v7h-7zm140 7h7v7h-7zm-378 7h7v7h-7zm98 21h7v7h-7zm-245 14h7v7h-7zm245 0h7v7h-7zm-238 14h7v7h-7zm518 7h7v7h-7zm-91 14h7v7h-7zm-70 14h7v7h-7zm-266 7h7v7h-7zm406 0h7v7h-7zm7 7h7v7h-7zm-140 49h7v7h-7zm161 7h7v7h-7zm-7 14h7v7h-7zm-140 7h7v7h-7zm-77 14h7v7h-7zm28 0h7v7h-7zm-231 7h7v7h-7zm252 7h7v7h-7zm7 7h7v7h-7zm7 7h7v7h-7zm70 0h7v7h-7zm21 0h7v7h-7zm-462 28h7v7h-7zm392 7h7v7h-7zm-147 14h7v7h-7zm266 0h7v7h-7zm-126 35h7v7h-7zm-280 28h7v7h-7zm259 0h7v7h-7zm-301 14h7v7h-7zm238 0h7v7h-7zm21 7h7v7h-7zm-308 14h7v7h-7zm518 0h7v7h-7zm-259 28h7v7h-7zm-154 7h7v7h-7zm-105 21h7v7h-7zm238 14h7v7h-7zm-168 7h7v7h-7zm63 0h7v7h-7zm350 0h7v7h-7zm-448 7h7v7h-7zm245 7h7v7h-7zm-175 7h7v7h-7zm77 7h7v7h-7z"/>
<path fill="#545454" d="M886 1798h7v7h-7zm357 7h7v7h-7zm56 14h7v7h-7zm-203 7h7v7h-7zm105 0h7v7h-7zm-112 7h7v7h-7zm133 21h7v7h-7zm-399 7h7v7h-7zm245 14h7v7h-7zm-98 14h7v7h-7zm105 7h7v7h-7zm140 7h7v7h-7zm140 7h7v7h-7zm-343 7h7v7h-7zm14 0h7v7h-7zm336 0h7v7h-7zm-497 14h7v7h-7zm119 0h7v7h-7zm252 0h7v7h-7zm-105 14h7v7h-7zm-175 14h7v7h-7zm238 28h7v7h-7zm-315 49h7v7h-7zm35 0h7v7h-7zm-56 14h7v7h-7zm126 0h7v7h-7zm126 0h7v7h-7zm-161 14h7v7h-7zm84 0h7v7h-7zm238 0h14v7h-14zm-434 7h7v7h-7zm252 0h7v7h-7zm119 14h7v7h-7zm-133 7h7v7h-7zm266 0h7v7h-7zm-371 7h7v7h-7zm0 21h7v7h-7zm371 14h7v7h-7zm-392 21h7v7h-7zm308 7h7v7h-7zm-21 14h7v7h-7zm-364 7h7v7h-7zm308 0h7v7h-7zm-287 7h14v7h-14zm322 7h7v7h-7zm-133 7h7v7h-7zm119 14h7v7h-7zm-357 7h7v7h-7zm98 7h7v7h-7zm0 7h7v7h-7zm413 7h7v7h-7zm-511 7h7v7h-7zm105 7h7v7h-7zm140 0h7v7h-7zm252 7h7v7h-7zm-14 14h7v7h-7zm-434 7h14v7h-14zm175 0h7v7h-7zm77 0h7v7h-7zm-84 7h7v7h-7zm189 0h7v7h-7zm14 7h7v7h-7zm-266 7h7v7h-7zm112 0h7v7h-7zm-161 7h7v7h-7z"/>
<path fill="#585858" d="M907 1798h7v7h-7zm238 0h14v7h-14zm-273 7h7v7h-7zm252 0h7v7h-7zm49 0h7v7h-7zm140 7h7v7h-7zm-273 7h7v7h-7zm231 0h7v7h-7zm91 7h7v7h-7zm-7 7h7v7h-7zm-14 21h7v7h-7zm-518 21h7v7h-7zm399 14h7v7h-7zm119 0h7v7h-7zm-322 28h7v7h-7zm175 7h7v7h-7zm-315 14h7v7h-7zm238 0h7v7h-7zm91 21h7v7h-7zm-371 7h7v7h-7zm252 0h7v7h-7zm-245 14h7v7h-7zm252 0h7v7h-7zm259 0h7v7h-7zm-413 7h7v7h-7zm0 7h7v7h-7zm154 7h7v7h-7zm-140 21h7v7h-7zm259 7h7v7h-7zm14 14h7v7h-7zm84 7h7v7h-7zm-462 7h7v7h-7zm196 0h7v7h-7zm203 0h7v7h-7zm-406 7h7v7h-7zm168 0h7v7h-7zm-49 21h7v7h-7zm7 21h7v7h-7zm245 0h7v7h-7zm-245 7h7v7h-7zm-147 14h7v7h-7zm392 0h7v7h-7zm-252 7h7v7h-7zm-133 7h7v7h-7zm252 7h7v7h-7zm-140 14h7v7h-7zm-7 7h7v7h-7zm112 0h7v7h-7zm182 14h7v7h-7zm-63 7h7v7h-7zm56 0h7v7h-7zm-392 14h7v7h-7zm259 14h7v7h-7zm-259 56h7v7h-7zm504 0h7v7h-7zm-182 14h7v7h-7zm14 0h7v7h-7zm-245 7h7v7h-7zm210 0h7v7h-7zm63 7h7v7h-7zm98 0h7v7h-7zm-252 7h7v7h-7zm63 7h7v7h-7z"/>
<path fill="#5c5c5c" d="M893 1798h14v7h-14zm343 0h7v7h-7zm-245 7h7v7h-7zm-56 7h7v7h-7zm119 0h7v7h-7zm-35 7h7v7h-7zm-56 21h7v7h-7zm-133 7h7v7h-7zm245 7h7v7h-7zm-252 14h7v7h-7zm14 35h7v7h-7zm371 7h7v7h-7zm-7 7h7v7h-7zm91 0h7v7h-7zm-434 7h7v7h-7zm448 0h7v7h-7zm-252 7h7v7h-7zm175 7h7v7h-7zm-70 7h7v7h-7zm56 7h7v7h-7zm140 35h7v7h-7zm0 7h7v7h-7zm-511 7h7v7h-7zm357 7h7v7h-7zm-364 7h7v7h-7zm252 0h7v7h-7zm252 7h7v7h-7zm-203 14h7v7h-7zm14 0h7v7h-7zm70 0h7v7h-7zm-245 7h7v7h-7zm-42 7h7v7h-7zm168 7h7v7h-7zm-77 7h7v7h-7zm70 0h7v7h-7zm-273 35h7v7h-7zm392 14h7v7h-7zm0 7h7v7h-7zm-140 14h7v7h-7zm126 21h7v7h-7zm-196 7h7v7h-7zm28 0h7v7h-7zm-42 7h7v7h-7zm322 0h7v7h-7zm-399 14h7v7h-7zm-91 14h7v7h-7zm133 7h7v7h-7zm245 35h7v7h-7zm7 14h7v7h-7zm-385 28h7v7h-7zm336 7h7v7h-7zm147 7h7v7h-7z"/>
<path fill="#606060" d="M1257 1812h7v7h-7zm-224 7h7v7h-7zm245 0h7v7h-7zm14 0h7v7h-7zm-322 35h7v7h-7zm294 63h7v7h-7zm-266 7h7v7h-7zm-70 7h7v7h-7zm-14 7h7v7h-7zm63 0h7v7h-7zm196 0h7v7h-7zm49 7h7v7h-7zm-259 7h7v7h-7zm385 14h7v7h-7zm-504 21h7v7h-7zm252 0h7v7h-7zm-252 7h7v7h-7zm252 0h7v7h-7zm-133 35h7v7h-7zm7 7h7v7h-7zm175 0h7v7h-7zm21 7h7v7h-7zm154 0h7v7h-7zm-378 14h7v7h-7zm357 0h7v7h-7zm-280 7h7v7h-7zm182 14h7v7h-7zm98 84h7v7h-7zm-245 14h7v7h-7zm63 7h7v7h-7zm-42 14h7v7h-7zm273 7h7v7h-7zm7 14h7v7h-7zm-154 7h7v7h-7zm-357 7h7v7h-7zm357 0h7v7h-7zm154 7h7v7h-7zm-511 7h7v7h-7zm21 56h7v7h-7zm406 0h7v7h-7zm-70 7h7v7h-7zm7 7h7v7h-7z"/>
<path fill="#646464" d="M984 1798h7v7h-7zm-63 7h7v7h-7zm399 0h7v7h-7zm-455 7h7v7h-7zm77 7h7v7h-7zm84 0h7v7h-7zm259 0h7v7h-7zm-329 14h7v7h-7zm266 28h7v7h-7zm-259 35h7v7h-7zm119 7h7v7h-7zm-238 7h7v7h-7zm7 7h7v7h-7zm259 14h7v7h-7zm-140 14h7v7h-7zm168 0h7v7h-7zm-308 14h7v7h-7zm252 0h7v7h-7zm-133 14h7v7h-7zm252 0h7v7h-7zm133 56h7v7h-7zm-448 7h7v7h-7zm21 0h7v7h-7zm420 0h7v7h-7zm-203 7h7v7h-7zm-70 7h7v7h-7zm-56 7h7v7h-7zm-168 28h7v7h-7zm518 0h7v7h-7zm-7 14h7v7h-7zm-518 21h7v7h-7zm385 21h7v7h-7zm140 0h7v7h-7zm-511 7h7v7h-7zm252 7h7v7h-7zm-224 21h7v7h-7zm84 42h7v7h-7zm-105 21h7v7h-7zm245 14h7v7h-7zm-133 14h7v7h-7zm126 0h7v7h-7zm161 21h7v7h-7zm-63 7h7v7h-7zm-189 7h7v7h-7zm287 0h14v7h-14z"/>
<path fill="#686868" d="M1061 1805h7v7h-7zm-56 7h7v7h-7zm175 0h7v7h-7zm-231 14h7v7h-7zm266 21h7v7h-7zm126 14h7v7h-7zm-371 21h7v7h-7zm252 0h7v7h-7zm119 0h7v7h-7zm-511 7h7v7h-7zm455 28h7v7h-7zm-245 7h7v7h-7zm210 0h7v7h-7zm-364 14h7v7h-7zm175 0h7v7h-7zm84 7h14v7h-14zm-322 7h7v7h-7zm126 56h7v7h-7zm399 0h7v7h-7zm-518 14h7v7h-7zm252 0h7v7h-7zm-210 21h7v7h-7zm49 0h7v7h-7zm35 35h7v7h-7zm126 7h7v7h-7zm126 7h7v7h-7zm-133 7h7v7h-7zm-252 7h7v7h-7zm0 7h7v7h-7zm518 14h7v7h-7zm-315 35h7v7h-7zm168 0h7v7h-7zm70 0h7v7h-7zm-280 14h7v7h-7zm126 0h7v7h-7zm210 0h7v7h-7zm-441 7h7v7h-7zm182 0h7v7h-7zm7 7h7v7h-7zm63 0h7v7h-7zm77 21h7v7h-7zm-371 7h7v7h-7zm252 7h7v7h-7zm266 0h7v7h-7zm0 7h7v7h-7zm-406 21h7v7h-7zm399 0h7v7h-7zm-511 7h7v7h-7zm378 0h7v7h-7zm-336 35h7v7h-7zm49 7h7v7h-7zm119 0h7v7h-7zm-42 7h7v7h-7zm28 0h7v7h-7z"/>
<path fill="#6c6c6c" d="M879 1805h7v7h-7zm287 0h7v7h-7zm-49 7h7v7h-7zm-280 28h7v7h-7zm511 7h7v7h-7zm0 49h7v7h-7zm-77 21h14v7h-14zm42 14h7v7h-7zm-245 14h7v7h-7zm7 7h7v7h-7zm-182 84h14v7h-14zm350 14h7v7h-7zm14 7h7v7h-7zm98 21h7v7h-7zm-399 63h7v7h-7zm-112 14h7v7h-7zm168 7h7v7h-7zm84 0h7v7h-7zm-238 7h7v7h-7zm245 0h7v7h-7zm147 0h7v7h-7zm-91 21h7v7h-7zm-196 7h7v7h-7zm378 0h7v7h-7zm-105 84h7v7h-7zm-322 14h7v7h-7zm210 7h7v7h-7zm-266 7h7v7h-7zm504 7h7v7h-7z"/>
<path fill="#707070" d="M1327 1798h7v7h-7zm-196 7h7v7h-7zm175 7h7v7h-7zm-448 7h7v7h-7zm224 28h7v7h-7zm-112 14h7v7h-7zm252 7h7v7h-7zm119 0h7v7h-7zm-119 7h7v7h-7zm119 0h7v7h-7zm-266 14h7v7h-7zm140 7h7v7h-7zm-259 7h7v7h-7zm133 7h7v7h-7zm-154 14h7v7h-7zm168 0h7v7h-7zm-231 7h7v7h-7zm35 7h7v7h-7zm434 21h7v7h-7zm-504 14h7v7h-7zm364 28h7v7h-7zm7 14h7v7h-7zm-385 14h7v7h-7zm238 14h7v7h-7zm112 7h7v7h-7zm-133 7h7v7h-7zm154 14h7v7h-7zm168 0h7v7h-7zm-399 21h7v7h-7zm378 14h7v7h-7zm-378 21h7v7h-7zm112 0h7v7h-7zm-245 7h7v7h-7zm525 14h7v7h-7zm-504 14h7v7h-7zm168 0h7v7h-7zm273 0h7v7h-7zm-371 14h7v7h-7zm-14 7h7v7h-7zm70 0h7v7h-7zm350 0h7v7h-7zm-245 28h7v7h-7zm7 35h7v7h-7zm133 21h7v7h-7zm-259 7h7v7h-7zm112 0h7v7h-7zm154 0h7v7h-7zm84 14h7v7h-7zm-329 7h7v7h-7zm154 0h7v7h-7zm119 0h7v7h-7zm-406 21h7v7h-7z"/>
<path fill="#747474" d="M1068 1798h7v7h-7zm182 7h7v7h-7zm-203 7h7v7h-7zm140 7h7v7h-7zm-343 14h7v7h-7zm364 7h7v7h-7zm-378 14h7v7h-7zm245 7h7v7h-7zm-105 7h7v7h-7zm0 7h7v7h-7zm126 42h7v7h-7zm-203 21h7v7h-7zm231 0h7v7h-7zm-35 35h7v7h-7zm-14 56h7v7h-7zm-7 7h7v7h-7zm119 28h7v7h-7zm-350 14h7v7h-7zm238 28h7v7h-7zm266 14h7v7h-7zm-259 21h7v7h-7zm280 14h7v7h-7zm-322 14h7v7h-7zm147 0h7v7h-7zm-14 14h7v7h-7zm-203 7h7v7h-7zm364 0h7v7h-7zm-245 42h7v7h-7zm119 14h7v7h-7zm-154 49h7v7h-7zm-42 14h7v7h-7zm14 0h7v7h-7z"/>
<path fill="#787878" d="M1264 1812h7v7h-7zm-413 14h7v7h-7zm112 21h7v7h-7zm392 56h7v7h-7zm-406 7h7v7h-7zm-7 7h7v7h-7zm63 7h7v7h-7zm175 7h7v7h-7zm-280 7h7v7h-7zm420 0h7v7h-7zm28 35h7v7h-7zm-147 7h7v7h-7zm-364 28h7v7h-7zm252 0h7v7h-7zm70 35h7v7h-7zm-294 7h7v7h-7zm252 0h7v7h-7zm189 0h7v7h-7zm-126 7h7v7h-7zm112 0h7v7h-7zm-343 14h7v7h-7zm259 28h7v7h-7zm133 14h7v7h-7zm-266 7h7v7h-7zm133 14h7v7h-7zm-259 14h7v7h-7zm322 14h7v7h-7zm-273 7h7v7h-7zm-112 14h7v7h-7zm252 7h7v7h-7zm14 0h7v7h-7zm-203 35h7v7h-7zm140 14h7v7h-7zm252 21h7v7h-7zm-371 21h7v7h-7zm98 0h7v7h-7zm-91 7h7v7h-7zm84 0h7v7h-7zm-175 7h7v7h-7zm287 0h7v7h-7zm126 0h7v7h-7zm-112 7h7v7h-7zm-252 7h7v7h-7zm84 0h7v7h-7zm98 0h7v7h-7z"/>
<path fill="#7c7c7c" d="M914 1805h7v7h-7zm84 0h7v7h-7zm-70 7h7v7h-7zm182 7h7v7h-7zm84 7h7v7h-7zm7 7h7v7h-7zm154 7h7v7h-7zm-525 42h7v7h-7zm7 14h7v7h-7zm196 28h7v7h-7zm266 0h7v7h-7zm-378 7h7v7h-7zm70 0h7v7h-7zm252 0h7v7h-7zm91 21h7v7h-7zm-378 14h7v7h-7zm252 0h7v7h-7zm-259 14h7v7h-7zm252 14h7v7h-7zm-70 49h7v7h-7zm-140 7h7v7h-7zm98 28h7v7h-7zm-259 14h7v7h-7zm518 0h7v7h-7zm-273 21h7v7h-7zm126 35h7v7h-7zm84 14h7v7h-7zm-357 7h7v7h-7zm378 0h7v7h-7zm-126 7h7v7h-7zm63 0h7v7h-7zm-343 7h7v7h-7zm245 7h7v7h-7zm70 14h7v7h-7zm-385 7h7v7h-7zm126 0h7v7h-7zm392 0h7v7h-7zm-399 35h7v7h-7zm-119 21h7v7h-7zm490 14h7v7h-7zm-413 14h7v7h-7z"/>
<path fill="#808080" d="M1243 1798h7v7h-7zm-357 7h7v7h-7zm273 0h7v7h-7zm-147 7h7v7h-7zm77 28h7v7h-7zm-14 42h7v7h-7zm287 28h7v7h-7zm-497 14h7v7h-7zm301 14h7v7h-7zm161 7h7v7h-7zm-126 42h7v7h-7zm-252 14h7v7h-7zm399 0h7v7h-7zm-392 14h7v7h-7zm385 0h7v7h-7zm-126 7h7v7h-7zm21 21h7v7h-7zm-308 7h7v7h-7zm77 7h7v7h-7zm259 0h7v7h-7zm-420 14h7v7h-7zm357 14h7v7h-7zm-238 14h7v7h-7zm0 21h7v7h-7zm385 14h7v7h-7zm-406 21h7v7h-7zm336 7h7v7h-7zm-406 14h7v7h-7zm21 7h7v7h-7zm231 0h7v7h-7zm-287 42h7v7h-7zm112 7h7v7h-7zm399 14h7v7h-7zm-511 7h7v7h-7zm245 7h7v7h-7zm252 7h7v7h-7zm-189 28h7v7h-7zm-273 7h7v7h-7zm70 14h7v7h-7zm168 0h7v7h-7z"/>
<path fill="#848484" d="M1138 1805h7v7h-7zm161 7h7v7h-7zm-196 14h7v7h-7zm259 7h7v7h-7zm-147 21h7v7h-7zm133 0h7v7h-7zm-518 7h7v7h-7zm245 7h7v7h-7zm-112 21h7v7h-7zm385 0h7v7h-7zm-91 35h7v7h-7zm-210 7h7v7h-7zm-168 112h7v7h-7zm35 0h7v7h-7zm-56 14h7v7h-7zm252 0h7v7h-7zm175 0h7v7h-7zm-434 7h7v7h-7zm245 7h7v7h-7zm-14 21h7v7h-7zm-252 35h7v7h-7zm7 14h7v7h-7zm98 21h7v7h-7zm140 42h7v7h-7zm133 14h7v7h-7zm-259 21h7v7h-7zm7 21h7v7h-7zm371 14h7v7h-7zm-434 21h14v7h-14zm273 0h7v7h-7zm98 0h7v7h-7zm-266 7h7v7h-7zm42 0h7v7h-7z"/>
<path fill="#888888" d="M907 1805h7v7h-7zm406 0h7v7h-7zm-441 7h7v7h-7zm168 0h7v7h-7zm133 0h7v7h-7zm98 0h7v7h-7zm-175 21h7v7h-7zm-266 42h7v7h-7zm245 0h7v7h-7zm133 28h7v7h-7zm-196 21h7v7h-7zm175 0h7v7h-7zm-357 42h7v7h-7zm7 14h7v7h-7zm252 0h7v7h-7zm259 0h7v7h-7zm-196 63h7v7h-7zm161 0h7v7h-7zm-280 14h7v7h-7zm-91 7h7v7h-7zm161 0h7v7h-7zm-147 21h7v7h-7zm7 21h7v7h-7zm245 0h7v7h-7zm-245 7h7v7h-7zm245 14h7v7h-7zm-252 7h7v7h-7zm91 42h7v7h-7zm-224 28h7v7h-7zm0 70h7v7h-7zm427 14h7v7h-7zm-98 7h7v7h-7zm-21 7h7v7h-7zm63 7h7v7h-7z"/>
<path fill="#8c8c8c" d="M991 1798h7v7h-7zm-98 7h7v7h-7zm161 0h7v7h-7zm91 0h14v7h-14zm-210 14h7v7h-7zm21 21h7v7h-7zm-119 7h7v7h-7zm-7 21h7v7h-7zm385 21h7v7h-7zm-133 7h7v7h-7zm-238 7h7v7h-7zm14 14h7v7h-7zm168 7h7v7h-7zm-147 7h7v7h-7zm357 7h7v7h-7zm-273 21h7v7h-7zm252 0h7v7h-7zm-133 7h7v7h-7zm-133 21h7v7h-7zm0 7h7v7h-7zm399 0h7v7h-7zm-511 7h7v7h-7zm252 0h7v7h-7zm245 21h7v7h-7zm-112 7h7v7h-7zm7 7h7v7h-7zm-245 7h7v7h-7zm154 0h7v7h-7zm-91 7h7v7h-7zm-112 7h7v7h-7zm336 0h14v7h-14zm-182 91h7v7h-7zm168 21h7v7h-7zm-343 7h7v7h-7zm252 7h7v7h-7zm70 0h7v7h-7zm-14 14h7v7h-7zm-140 21h7v7h-7zm126 21h7v7h-7zm7 14h7v7h-7zm-56 42h7v7h-7zm133 0h7v7h-7zm-371 7h7v7h-7zm280 14h7v7h-7z"/>
<path fill="#909090" d="M900 1805h7v7h-7zm357 0h7v7h-7zm-238 7h7v7h-7zm105 0h7v7h-7zm168 0h7v7h-7zm-441 98h7v7h-7zm168 14h7v7h-7zm98 7h7v7h-7zm14 7h7v7h-7zm217 49h7v7h-7zm-140 21h7v7h-7zm-378 7h7v7h-7zm252 0h7v7h-7zm-119 7h7v7h-7zm182 21h7v7h-7zm21 7h7v7h-7zm84 0h7v7h-7zm-238 7h7v7h-7zm343 28h7v7h-7zm-525 14h7v7h-7zm378 14h7v7h-7zm0 7h7v7h-7zm-14 35h7v7h-7zm-161 14h7v7h-7zm-42 7h7v7h-7zm238 14h7v7h-7zm-392 42h7v7h-7zm0 14h7v7h-7z"/>
<path fill="#949494" d="M1026 1812h14v7h-14zm252 0h7v7h-7zm-336 14h7v7h-7zm7 7h7v7h-7zm14 21h7v7h-7zm119 0h7v7h-7zm112 63h7v7h-7zm-266 7h7v7h-7zm364 0h7v7h-7zm-308 14h7v7h-7zm-161 21h7v7h-7zm518 7h7v7h-7zm-504 21h7v7h-7zm0 7h7v7h-7zm490 35h7v7h-7zm-7 7h7v7h-7zm-126 42h7v7h-7zm154 21h7v7h-7zm-518 21h7v7h-7zm252 14h7v7h-7zm-238 14h7v7h-7zm21 21h7v7h-7zm140 0h7v7h-7zm112 7h7v7h-7zm196 0h7v7h-7zm-245 21h7v7h-7zm-105 7h7v7h-7zm378 0h7v7h-7zm7 14h7v7h-7zm-140 7h7v7h-7zm0 7h7v7h-7zm-371 7h7v7h-7zm511 0h7v7h-7zm-266 14h7v7h-7zm-7 14h7v7h-7zm231 21h7v7h-7zm-35 7h7v7h-7zm-406 14h7v7h-7z"/>
<path fill="#989898" d="M1285 1812h7v7h-7zm-70 49h7v7h-7zm133 0h7v7h-7zm0 21h7v7h-7zm-392 14h7v7h-7zm245 14h7v7h-7zm-287 21h7v7h-7zm392 0h7v7h-7zm-147 7h7v7h-7zm70 7h7v7h-7zm-259 7h7v7h-7zm252 0h7v7h-7zm-133 35h7v7h-7zm0 7h7v7h-7zm-119 35h7v7h-7zm7 7h7v7h-7zm-91 7h7v7h-7zm21 0h7v7h-7zm112 14h14v7h-14zm343 21h7v7h-7zm-525 7h7v7h-7zm-7 21h7v7h-7zm518 21h7v7h-7zm-147 14h7v7h-7zm154 0h7v7h-7zm-301 42h7v7h-7zm189 98h7v7h-7zm-252 14h7v7h-7zm56 0h7v7h-7zm238 0h7v7h-7zm-105 7h7v7h-7z"/>
<path fill="#9c9c9c" d="M1320 1798h7v7h-7zm-315 7h7v7h-7zm-84 7h7v7h-7zm-56 7h7v7h-7zm-21 21h7v7h-7zm364 7h7v7h-7zm-245 35h7v7h-7zm-126 7h7v7h-7zm518 7h7v7h-7zm-91 28h7v7h-7zm-210 14h7v7h-7zm-77 7h7v7h-7zm98 14h7v7h-7zm133 14h7v7h-7zm-336 77h7v7h-7zm252 0h7v7h-7zm175 0h7v7h-7zm-98 42h7v7h-7zm-119 7h7v7h-7zm-252 14h7v7h-7zm21 42h7v7h-7zm245 0h7v7h-7zm-238 7h7v7h-7zm441 7h7v7h-7zm-420 7h7v7h-7zm182 14h7v7h-7zm-231 28h7v7h-7zm126 0h7v7h-7zm126 7h7v7h-7zm259 28h7v7h-7zm-511 7h7v7h-7zm392 0h7v7h-7zm-259 7h7v7h-7zm315 28h7v7h-7zm-399 7h7v7h-7zm126 0h7v7h-7zm28 0h7v7h-7z"/>
<path fill="#a0a0a0" d="M1061 1798h7v7h-7zm119 21h7v7h-7zm175 28h7v7h-7zm-140 35h7v7h-7zm-126 21h7v7h-7zm21 21h7v7h-7zm-224 7h7v7h-7zm287 0h7v7h-7zm-217 42h7v7h-7zm385 35h7v7h-7zm-518 14h7v7h-7zm70 21h14v7h-14zm161 0h7v7h-7zm-56 7h7v7h-7zm175 7h7v7h-7zm14 14h7v7h-7zm-238 7h7v7h-7zm140 7h7v7h-7zm-140 56h7v7h-7zm238 21h7v7h-7zm-266 7h7v7h-7zm91 0h7v7h-7zm14 0h7v7h-7zm84 0h7v7h-7zm21 14h7v7h-7zm217 42h7v7h-7zm0 7h7v7h-7zm-392 21h7v7h-7zm112 21h7v7h-7zm-140 35h7v7h-7zm196 0h7v7h-7zm-266 7h7v7h-7z"/>
<path fill="#a4a4a4" d="M1250 1798h7v7h-7zm56 7h7v7h-7zm-427 7h7v7h-7zm-21 14h7v7h-7zm105 35h7v7h-7zm252 7h7v7h-7zm133 0h7v7h-7zm0 7h7v7h-7zm-413 42h7v7h-7zm-63 7h7v7h-7zm413 0h7v7h-7zm-287 7h7v7h-7zm140 7h7v7h-7zm14 0h7v7h-7zm-91 7h7v7h-7zm7 7h7v7h-7zm-238 21h7v7h-7zm126 35h7v7h-7zm119 14h7v7h-7zm-154 28h7v7h-7zm259 14h7v7h-7zm-224 28h7v7h-7zm392 14h7v7h-7zm0 14h7v7h-7zm-392 7h7v7h-7zm-119 7h7v7h-7zm525 14h7v7h-7zm-259 14h7v7h-7zm-196 14h7v7h-7zm77 7h7v7h-7zm175 0h7v7h-7zm161 0h7v7h-7zm-350 14h7v7h-7zm364 0h7v7h-7zm-119 14h7v7h-7zm-133 35h7v7h-7zm147 21h7v7h-7zm7 7h7v7h-7zm-182 14h7v7h-7zm-140 14h7v7h-7zm224 0h7v7h-7z"/>
<path fill="#a8a8a8" d="M1166 1812h7v7h-7zm-315 21h7v7h-7zm-14 21h7v7h-7zm308 14h7v7h-7zm-182 7h7v7h-7zm182 0h14v7h-14zm70 0h7v7h-7zm-133 14h7v7h-7zm-133 14h7v7h-7zm413 0h7v7h-7zm-266 7h7v7h-7zm7 7h7v7h-7zm-196 14h7v7h-7zm133 0h7v7h-7zm210 0h7v7h-7zm-105 7h7v7h-7zm168 0h7v7h-7zm21 21h7v7h-7zm-63 21h14v7h-14zm-252 7h7v7h-7zm245 0h28v7h-28zm-245 7h7v7h-7zm252 0h21v7h-21zm-63 7h7v7h-7zm7 14h7v7h-7zm-371 63h7v7h-7zm504 35h7v7h-7zm-266 14h7v7h-7zm-63 42h7v7h-7zm245 0h7v7h-7zm-14 7h7v7h-7zm77 14h7v7h-7zm-252 21h7v7h-7zm7 21h7v7h-7zm-112 42h7v7h-7zm91 7h7v7h-7zm252 0h7v7h-7zm-329 7h7v7h-7zm273 0h7v7h-7zm-245 14h7v7h-7zm14 0h7v7h-7z"/>
<path fill="#acacac" d="M1047 1805h7v7h-7zm217 0h7v7h-7zm-147 14h7v7h-7zm70 7h7v7h-7zm14 14h7v7h-7zm161 0h7v7h-7zm-406 7h7v7h-7zm133 0h7v7h-7zm56 14h7v7h-7zm-182 7h7v7h-7zm175 0h7v7h-7zm14 0h7v7h-7zm-14 7h7v7h-7zm21 0h7v7h-7zm-21 7h21v7h-21zm-196 28h7v7h-7zm329 14h14v7h-14zm-378 7h14v7h-14zm189 42h7v7h-7zm189 0h14v7h-14zm-252 7h7v7h-7zm245 0h7v7h-7zm21 0h7v7h-7zm-273 7h7v7h-7zm14 0h7v7h-7zm266 0h7v7h-7zm-280 7h7v7h-7zm14 0h7v7h-7zm238 0h7v7h-7zm-252 7h21v7h-21zm259 0h21v7h-21zm-441 7h7v7h-7zm238 21h7v7h-7zm-7 7h7v7h-7zm98 14h7v7h-7zm-294 7h7v7h-7zm252 0h7v7h-7zm238 35h7v7h-7zm-273 14h7v7h-7zm-140 42h7v7h-7zm-56 28h7v7h-7zm154 0h7v7h-7zm133 0h7v7h-7zm-196 14h7v7h-7zm301 35h14v7h-14zm0 7h14v7h-14zm-196 7h7v7h-7zm133 7h7v7h-7zm119 14h7v7h-7zm-357 21h7v7h-7zm42 21h7v7h-7zm154 0h7v7h-7zm14 7h7v7h-7zm-70 7h7v7h-7z"/>
<path fill="#b0b0b0" d="M914 1812h7v7h-7zm217 0h7v7h-7zm-203 7h7v7h-7zm266 14h7v7h-7zm-112 28h7v7h-7zm56 0h7v7h-7zm14 0h7v7h-7zm-21 7h7v7h-7zm28 0h7v7h-7zm-28 7h7v7h-7zm-294 7h7v7h-7zm294 0h7v7h-7zm28 0h7v7h-7zm-14 7h14v7h-14zm-301 7h7v7h-7zm364 0h7v7h-7zm112 49h7v7h-7zm7 7h7v7h-7zm-63 21h7v7h-7zm21 0h7v7h-7zm56 0h7v7h-7zm-329 7h7v7h-7zm14 0h7v7h-7zm231 0h7v7h-7zm35 0h7v7h-7zm-287 7h7v7h-7zm28 0h7v7h-7zm224 0h7v7h-7zm-252 7h7v7h-7zm28 0h7v7h-7zm224 0h7v7h-7zm35 0h7v7h-7zm-287 7h7v7h-7zm28 0h7v7h-7zm231 0h7v7h-7zm-245 7h7v7h-7zm63 0h7v7h-7zm161 35h7v7h-7zm-203 7h7v7h-7zm217 0h7v7h-7zm-315 21h7v7h-7zm154 7h7v7h-7zm-259 14h7v7h-7zm364 7h7v7h-7zm-119 21h7v7h-7zm119 14h7v7h-7zm-112 7h7v7h-7zm-154 14h7v7h-7zm-7 7h7v7h-7zm252 7h7v7h-7zm112 0h7v7h-7zm-399 7h14v7h-14zm245 7h7v7h-7zm14 0h7v7h-7zm-329 28h7v7h-7zm448 7h21v7h-21zm-315 7h7v7h-7zm315 0h7v7h-7zm21 0h7v7h-7zm-21 7h7v7h-7zm21 0h7v7h-7zm-21 7h21v7h-21zm-196 21h7v7h-7zm-252 7h7v7h-7zm497 7h7v7h-7zm-21 14h7v7h-7zm-413 14h7v7h-7zm49 14h7v7h-7z"/>
<path fill="#b4b4b4" d="M998 1798h7v7h-7zm14 7h7v7h-7zm133 49h14v7h-14zm-14 7h7v7h-7zm28 0h7v7h-7zm7 7h7v7h-7zm0 7h7v7h-7zm-28 14h7v7h-7zm21 0h7v7h-7zm112 77h14v7h-14zm-259 7h21v7h-21zm280 0h7v7h-7zm-287 7h7v7h-7zm28 0h7v7h-7zm175 0h7v7h-7zm91 7h7v7h-7zm-301 7h7v7h-7zm42 0h7v7h-7zm217 7h7v7h-7zm35 0h7v7h-7zm-280 7h7v7h-7zm14 0h7v7h-7zm245 0h21v7h-21zm63 7h7v7h-7zm-28 28h7v7h-7zm-175 7h7v7h-7zm-273 14h7v7h-7zm-7 7h7v7h-7zm343 14h7v7h-7zm-238 14h7v7h-7zm126 14h7v7h-7zm-126 7h7v7h-7zm399 14h7v7h-7zm-161 14h7v7h-7zm-322 21h7v7h-7zm126 7h7v7h-7zm147 7h7v7h-7zm196 28h7v7h-7zm-77 7h7v7h-7zm28 0h7v7h-7zm-462 7h7v7h-7zm434 0h7v7h-7zm0 7h7v7h-7zm0 7h7v7h-7zm28 0h7v7h-7zm-336 7h7v7h-7zm322 0h7v7h-7zm-448 7h7v7h-7zm497 14h7v7h-7zm-287 28h7v7h-7zm-133 7h7v7h-7zm238 0h7v7h-7z"/>
<path fill="#b8b8b8" d="M1299 1805h7v7h-7zm-413 7h7v7h-7zm224 14h7v7h-7zm-14 14h7v7h-7zm42 14h7v7h-7zm21 0h7v7h-7zm196 0h7v7h-7zm-518 7h7v7h-7zm329 0h7v7h-7zm-42 7h7v7h-7zm0 7h7v7h-7zm0 7h7v7h-7zm42 0h7v7h-7zm-210 7h7v7h-7zm175 0h7v7h-7zm224 0h7v7h-7zm-210 7h7v7h-7zm-280 21h7v7h-7zm56 7h7v7h-7zm203 7h7v7h-7zm175 0h7v7h-7zm-476 35h7v7h-7zm140 0h7v7h-7zm252 0h7v7h-7zm49 0h7v7h-7zm21 0h7v7h-7zm-252 7h7v7h-7zm224 0h7v7h-7zm-301 7h7v7h-7zm294 0h7v7h-7zm49 0h7v7h-7zm-301 7h7v7h-7zm42 0h7v7h-7zm210 0h7v7h-7zm-42 7h7v7h-7zm42 0h7v7h-7zm49 0h7v7h-7zm-301 7h7v7h-7zm42 0h7v7h-7zm301 0h7v7h-7zm-336 7h7v7h-7zm28 0h7v7h-7zm231 0h7v7h-7zm-273 35h7v7h-7zm-112 7h7v7h-7zm413 0h7v7h-7zm-182 14h7v7h-7zm-7 7h7v7h-7zm-266 56h7v7h-7zm7 14h7v7h-7zm427 28h7v7h-7zm-147 7h7v7h-7zm182 0h7v7h-7zm-63 7h7v7h-7zm-21 21h7v7h-7zm-259 7h7v7h-7zm308 0h21v7h-21zm28 14h7v7h-7zm-343 7h7v7h-7zm301 0h7v7h-7zm42 0h7v7h-7zm-28 14h7v7h-7zm14 0h7v7h-7zm56 0h7v7h-7zm-343 49h7v7h-7zm-126 14h7v7h-7zm322 7h7v7h-7z"/>
<path fill="#bcbcbc" d="M1313 1798h7v7h-7zm-273 7h7v7h-7zm231 0h7v7h-7zm-112 7h7v7h-7zm-287 7h7v7h-7zm231 14h7v7h-7zm-154 7h7v7h-7zm182 14h7v7h-7zm77 0h7v7h-7zm-308 7h7v7h-7zm224 0h7v7h-7zm-231 7h21v7h-21zm189 0h7v7h-7zm-245 7h7v7h-7zm56 0h21v7h-21zm189 7h7v7h-7zm84 7h7v7h-7zm-28 7h7v7h-7zm14 0h7v7h-7zm-301 7h7v7h-7zm7 7h7v7h-7zm322 14h7v7h-7zm63 14h7v7h-7zm-238 35h7v7h-7zm-175 7h7v7h-7zm168 0h7v7h-7zm42 0h7v7h-7zm168 7h7v7h-7zm-252 14h7v7h-7zm343 0h7v7h-7zm-42 7h7v7h-7zm35 0h7v7h-7zm-329 7h7v7h-7zm49 0h21v7h-21zm210 7h7v7h-7zm-308 28h7v7h-7zm91 0h7v7h-7zm147 0h7v7h-7zm-224 7h7v7h-7zm21 28h7v7h-7zm413 0h7v7h-7zm-273 7h7v7h-7zm-133 14h7v7h-7zm245 0h7v7h-7zm-245 7h7v7h-7zm182 0h14v7h-14zm63 14h7v7h-7zm-252 7h7v7h-7zm-35 35h7v7h-7zm364 0h14v7h-14zm-210 35h7v7h-7zm196 7h7v7h-7zm28 0h7v7h-7zm-77 7h7v7h-7zm84 0h7v7h-7zm-42 7h7v7h-7zm-245 7h21v7h-21zm-56 7h7v7h-7zm56 0h21v7h-21zm245 0h7v7h-7zm42 0h7v7h-7zm-35 7h7v7h-7zm28 0h7v7h-7zm-329 14h7v7h-7zm-70 42h14v7h-14zm273 0h7v7h-7zm-35 7h7v7h-7z"/>
<path fill="#c0c0c0" d="M1054 1798h7v7h-7zm-161 14h7v7h-7zm14 0h7v7h-7zm231 0h7v7h-7zm35 7h7v7h-7zm-238 7h7v7h-7zm7 7h7v7h-7zm-98 14h7v7h-7zm301 0h14v7h-14zm-252 14h7v7h-7zm14 0h7v7h-7zm-70 7h7v7h-7zm49 0h7v7h-7zm287 0h7v7h-7zm-287 7h7v7h-7zm196 0h7v7h-7zm91 0h7v7h-7zm-280 7h14v7h-14zm280 0h7v7h-7zm-49 7h7v7h-7zm7 7h7v7h-7zm-252 28h7v7h-7zm126 7h7v7h-7zm28 0h7v7h-7zm-14 35h14v7h-14zm56 0h7v7h-7zm182 0h7v7h-7zm35 0h7v7h-7zm-42 7h7v7h-7zm49 0h7v7h-7zm-217 7h7v7h-7zm259 0h7v7h-7zm-294 7h7v7h-7zm-56 7h7v7h-7zm56 0h7v7h-7zm294 0h7v7h-7zm-511 7h7v7h-7zm420 0h7v7h-7zm-252 7h7v7h-7zm42 0h7v7h-7zm231 7h21v7h-21zm56 7h7v7h-7zm-14 14h7v7h-7zm-175 14h14v7h-14zm28 7h7v7h-7zm-231 7h7v7h-7zm-98 35h7v7h-7zm301 7h14v7h-14zm-7 7h7v7h-7zm21 0h7v7h-7zm49 0h7v7h-7zm-70 7h21v7h-21zm-280 28h7v7h-7zm14 14h7v7h-7zm371 28h7v7h-7zm-7 7h7v7h-7zm49 7h7v7h-7zm-203 14h7v7h-7zm182 0h7v7h-7zm-245 7h21v7h-21zm-7 7h7v7h-7zm0 7h7v7h-7zm210 0h7v7h-7zm-203 7h21v7h-21zm210 7h7v7h-7zm56 0h7v7h-7zm-210 14h7v7h-7zm182 14h7v7h-7zm14 7h7v7h-7zm28 0h7v7h-7zm-140 14h14v7h-14zm-231 7h7v7h-7z"/>
<path fill="#c4c4c4" d="M1257 1798h7v7h-7zm-238 7h7v7h-7zm259 0h7v7h-7zm14 0h7v7h-7zm-392 7h7v7h-7zm245 0h14v7h-14zm-7 35h7v7h-7zm-245 7h14v7h-14zm63 0h7v7h-7zm210 0h7v7h-7zm-280 7h7v7h-7zm287 0h7v7h-7zm-259 7h7v7h-7zm203 0h7v7h-7zm-203 7h7v7h-7zm203 0h7v7h-7zm-210 7h7v7h-7zm301 7h7v7h-7zm-119 7h7v7h-7zm70 0h7v7h-7zm7 35h7v7h-7zm91 0h7v7h-7zm-266 7h7v7h-7zm-21 21h7v7h-7zm252 0h7v7h-7zm49 0h21v7h-21zm-259 7h7v7h-7zm-14 7h7v7h-7zm42 0h7v7h-7zm266 7h7v7h-7zm-476 7h7v7h-7zm126 0h7v7h-7zm35 0h7v7h-7zm252 0h7v7h-7zm63 0h7v7h-7zm35 0h7v7h-7zm-511 7h7v7h-7zm126 0h7v7h-7zm350 0h7v7h-7zm-315 7h7v7h-7zm56 0h7v7h-7zm35 0h7v7h-7zm133 7h7v7h-7zm84 0h7v7h-7zm-476 7h7v7h-7zm182 0h7v7h-7zm28 0h7v7h-7zm231 0h7v7h-7zm56 14h7v7h-7zm-84 7h7v7h-7zm-189 7h7v7h-7zm-14 7h7v7h-7zm154 28h7v7h-7zm-49 21h14v7h-14zm217 0h7v7h-7zm-224 7h7v7h-7zm21 0h7v7h-7zm-259 7h14v7h-14zm-56 7h7v7h-7zm56 0h7v7h-7zm259 0h7v7h-7zm49 0h7v7h-7zm-70 7h14v7h-14zm231 14h7v7h-7zm-266 7h7v7h-7zm-238 7h7v7h-7zm329 0h7v7h-7zm-154 21h7v7h-7zm14 7h7v7h-7zm224 21h7v7h-7zm14 0h7v7h-7zm14 7h7v7h-7zm-294 14h7v7h-7zm301 0h7v7h-7zm-476 7h7v7h-7zm203 0h7v7h-7zm273 0h7v7h-7zm-273 7h7v7h-7zm-203 7h7v7h-7zm175 0h7v7h-7zm294 0h7v7h-7zm-287 7h14v7h-14zm63 0h7v7h-7zm196 0h7v7h-7zm14 0h7v7h-7zm21 28h7v7h-7zm-259 7h7v7h-7zm-182 28h7v7h-7z"/>
<path fill="#c8c8c8" d="M1026 1805h14v7h-14zm259 0h7v7h-7zm-161 14h7v7h-7zm-259 7h7v7h-7zm-14 14h7v7h-7zm280 7h7v7h-7zm28 0h7v7h-7zm-273 7h7v7h-7zm21 0h7v7h-7zm182 0h7v7h-7zm35 0h7v7h-7zm-210 7h7v7h-7zm203 0h7v7h-7zm238 0h7v7h-7zm-476 7h7v7h-7zm0 7h7v7h-7zm7 7h7v7h-7zm28 0h7v7h-7zm203 0h7v7h-7zm238 0h7v7h-7zm-511 7h7v7h-7zm49 0h14v7h-14zm280 0h7v7h-7zm-224 7h7v7h-7zm413 0h7v7h-7zm-161 7h7v7h-7zm-273 14h7v7h-7zm-14 7h7v7h-7zm203 0h7v7h-7zm-70 14h7v7h-7zm189 7h7v7h-7zm-7 7h7v7h-7zm35 7h7v7h-7zm-259 7h7v7h-7zm28 0h7v7h-7zm266 0h7v7h-7zm35 0h7v7h-7zm-343 14h7v7h-7zm56 0h7v7h-7zm196 0h7v7h-7zm0 14h7v7h-7zm63 7h7v7h-7zm-56 7h7v7h-7zm-175 7h7v7h-7zm217 0h7v7h-7zm-322 7h7v7h-7zm49 0h7v7h-7zm-42 7h7v7h-7zm252 0h7v7h-7zm-245 7h7v7h-7zm-98 14h7v7h-7zm21 0h7v7h-7zm105 0h7v7h-7zm252 0h7v7h-7zm-140 7h7v7h-7zm49 7h7v7h-7zm7 7h7v7h-7zm-336 14h7v7h-7zm350 7h7v7h-7zm-63 7h7v7h-7zm21 0h7v7h-7zm-315 7h7v7h-7zm56 0h21v7h-21zm266 0h7v7h-7zm-322 7h7v7h-7zm49 0h7v7h-7zm21 0h7v7h-7zm217 0h7v7h-7zm35 0h7v7h-7zm-273 7h7v7h-7zm14 0h14v7h-14zm224 0h7v7h-7zm35 0h7v7h-7zm-266 7h7v7h-7zm252 0h7v7h-7zm210 0h7v7h-7zm-266 7h7v7h-7zm105 7h7v7h-7zm-315 28h7v7h-7zm238 0h7v7h-7zm140 7h7v7h-7zm56 7h7v7h-7zm-252 14h7v7h-7zm203 7h7v7h-7zm28 0h7v7h-7zm42 0h7v7h-7zm-77 7h7v7h-7zm-245 7h14v7h-14zm238 0h7v7h-7zm56 0h7v7h-7zm35 0h7v7h-7zm-308 7h7v7h-7zm182 0h7v7h-7zm35 0h7v7h-7zm-252 7h7v7h-7zm217 0h7v7h-7zm35 0h7v7h-7zm-420 7h7v7h-7zm168 0h7v7h-7zm252 0h7v7h-7zm56 0h7v7h-7zm35 0h7v7h-7zm-308 7h7v7h-7zm224 0h7v7h-7zm-252 7h7v7h-7zm21 0h7v7h-7zm238 0h7v7h-7zm28 0h7v7h-7zm-322 14h7v7h-7zm91 7h7v7h-7zm182 0h7v7h-7zm-189 7h7v7h-7zm-63 7h7v7h-7zm280 0h7v7h-7zm-266 7h7v7h-7zm28 0h7v7h-7zm147 14h7v7h-7z"/>
<path fill="#cccccc" d="M1005 1798h7v7h-7zm-84 21h7v7h-7zm259 7h7v7h-7zm-322 7h7v7h-7zm287 7h7v7h-7zm-252 7h14v7h-14zm273 0h7v7h-7zm35 0h7v7h-7zm161 0h7v7h-7zm-448 7h7v7h-7zm259 0h7v7h-7zm-294 7h7v7h-7zm42 0h7v7h-7zm287 0h7v7h-7zm-287 7h7v7h-7zm259 0h7v7h-7zm175 0h7v7h-7zm-434 7h7v7h-7zm259 0h7v7h-7zm175 0h7v7h-7zm-476 7h7v7h-7zm77 0h7v7h-7zm-70 7h7v7h-7zm21 0h7v7h-7zm210 0h7v7h-7zm7 7h7v7h-7zm42 0h7v7h-7zm-70 7h7v7h-7zm42 0h14v7h-14zm-203 7h7v7h-7zm-49 14h7v7h-7zm406 7h7v7h-7zm14 7h7v7h-7zm-329 14h7v7h-7zm91 7h7v7h-7zm189 0h7v7h-7zm35 0h7v7h-7zm-42 7h7v7h-7zm-259 7h7v7h-7zm56 0h7v7h-7zm168 0h7v7h-7zm28 0h7v7h-7zm63 0h7v7h-7zm-224 14h7v7h-7zm0 7h7v7h-7zm161 7h7v7h-7zm-252 7h7v7h-7zm56 0h7v7h-7zm287 0h7v7h-7zm-336 7h7v7h-7zm42 0h7v7h-7zm217 0h7v7h-7zm-245 7h7v7h-7zm14 0h7v7h-7zm-133 28h14v7h-14zm133 0h7v7h-7zm259 0h7v7h-7zm-413 7h7v7h-7zm70 21h7v7h-7zm154 7h7v7h-7zm-147 7h7v7h-7zm189 0h21v7h-21zm-49 7h7v7h-7zm70 0h7v7h-7zm-273 7h7v7h-7zm28 0h7v7h-7zm210 0h7v7h-7zm231 0h7v7h-7zm-476 7h7v7h-7zm35 0h7v7h-7zm252 0h7v7h-7zm-287 7h7v7h-7zm7 7h7v7h-7zm14 0h14v7h-14zm49 0h7v7h-7zm175 0h7v7h-7zm28 0h7v7h-7zm-308 7h7v7h-7zm287 0h14v7h-14zm-189 7h7v7h-7zm161 14h7v7h-7zm-182 7h7v7h-7zm189 0h7v7h-7zm-203 7h7v7h-7zm98 7h7v7h-7zm126 0h7v7h-7zm35 0h7v7h-7zm-175 7h7v7h-7zm63 7h7v7h-7zm273 7h7v7h-7zm-357 7h7v7h-7zm329 0h7v7h-7zm7 7h7v7h-7zm-483 7h7v7h-7zm140 0h7v7h-7zm42 0h7v7h-7zm21 0h7v7h-7zm-28 7h7v7h-7zm77 0h7v7h-7zm266 0h7v7h-7zm-301 7h7v7h-7zm301 0h7v7h-7zm-301 7h7v7h-7zm-42 7h7v7h-7zm42 0h7v7h-7zm35 0h7v7h-7zm231 0h7v7h-7zm-343 7h7v7h-7zm70 0h7v7h-7zm266 0h7v7h-7zm35 0h7v7h-7zm-511 7h7v7h-7zm189 0h14v7h-14zm217 0h7v7h-7zm49 0h7v7h-7zm-42 7h7v7h-7zm42 21h14v7h-14zm-399 21h7v7h-7zm49 7h7v7h-7zm196 0h7v7h-7z"/>
<path fill="#d0d0d0" d="M1047 1798h7v7h-7zm217 0h7v7h-7zm42 0h7v7h-7zm-427 21h7v7h-7zm287 0h7v7h-7zm21 14h7v7h-7zm-49 7h7v7h-7zm14 0h7v7h-7zm42 0h7v7h-7zm-308 7h7v7h-7zm21 0h7v7h-7zm42 0h7v7h-7zm175 0h7v7h-7zm-280 7h7v7h-7zm35 0h7v7h-7zm42 0h7v7h-7zm196 0h7v7h-7zm-245 7h7v7h-7zm84 0h7v7h-7zm224 0h7v7h-7zm-308 7h7v7h-7zm84 0h7v7h-7zm154 0h7v7h-7zm98 0h7v7h-7zm-336 7h7v7h-7zm84 0h7v7h-7zm154 0h7v7h-7zm98 0h7v7h-7zm-287 7h7v7h-7zm259 0h7v7h-7zm28 0h7v7h-7zm-329 7h7v7h-7zm35 0h7v7h-7zm-21 7h14v7h-14zm49 7h7v7h-7zm189 0h7v7h-7zm21 0h7v7h-7zm-49 7h7v7h-7zm-231 7h7v7h-7zm238 0h7v7h-7zm77 0h7v7h-7zm-280 7h7v7h-7zm105 7h7v7h-7zm14 0h7v7h-7zm105 0h7v7h-7zm133 0h7v7h-7zm-280 14h7v7h-7zm329 0h7v7h-7zm-252 7h7v7h-7zm210 0h14v7h-14zm56 7h7v7h-7zm-329 7h7v7h-7zm42 0h7v7h-7zm-217 7h7v7h-7zm140 0h7v7h-7zm91 7h7v7h-7zm259 0h7v7h-7zm-329 7h7v7h-7zm70 0h7v7h-7zm259 0h7v7h-7zm-329 7h7v7h-7zm70 0h7v7h-7zm259 0h7v7h-7zm-329 7h7v7h-7zm70 0h7v7h-7zm-91 7h7v7h-7zm343 0h7v7h-7zm-7 7h7v7h-7zm-294 7h7v7h-7zm28 0h7v7h-7zm35 0h7v7h-7zm210 0h14v7h-14zm-217 7h7v7h-7zm-7 7h7v7h-7zm-56 7h7v7h-7zm21 7h7v7h-7zm252 0h7v7h-7zm-112 7h7v7h-7zm-294 7h7v7h-7zm252 0h7v7h-7zm-266 14h7v7h-7zm280 14h7v7h-7zm231 0h7v7h-7zm-476 7h35v7h-35zm238 0h7v7h-7zm-245 7h7v7h-7zm238 0h7v7h-7zm49 0h7v7h-7zm-49 7h7v7h-7zm238 0h7v7h-7zm-441 7h7v7h-7zm203 0h7v7h-7zm49 0h7v7h-7zm189 0h7v7h-7zm-476 7h7v7h-7zm210 0h7v7h-7zm70 0h14v7h-14zm-273 7h21v7h-21zm238 0h7v7h-7zm21 0h7v7h-7zm-14 7h14v7h-14zm-196 7h7v7h-7zm-7 7h7v7h-7zm-42 14h7v7h-7zm14 0h7v7h-7zm126 7h7v7h-7zm273 0h7v7h-7zm21 14h7v7h-7zm-49 7h21v7h-21zm-14 7h7v7h-7zm-189 7h7v7h-7zm154 0h7v7h-7zm28 0h7v7h-7zm-252 7h7v7h-7zm35 0h7v7h-7zm7 7h7v7h-7zm203 0h7v7h-7zm70 0h7v7h-7zm-322 7h7v7h-7zm84 0h7v7h-7zm168 0h7v7h-7zm70 0h7v7h-7zm-322 7h7v7h-7zm84 0h7v7h-7zm-84 7h7v7h-7zm259 0h7v7h-7zm-252 7h7v7h-7zm259 0h7v7h-7zm-252 7h7v7h-7zm21 0h7v7h-7zm245 0h7v7h-7zm14 0h7v7h-7zm42 0h7v7h-7zm-350 14h7v7h-7zm336 0h7v7h-7zm-329 7h7v7h-7zm273 0h7v7h-7zm-245 14h7v7h-7zm14 0h7v7h-7zm-112 14h7v7h-7zm224 0h7v7h-7zm49 7h7v7h-7z"/>
<path fill="#d4d4d4" d="M1012 1798h7v7h-7zm287 0h7v7h-7zm-413 21h7v7h-7zm28 0h7v7h-7zm217 0h7v7h-7zm-259 7h7v7h-7zm56 0h7v7h-7zm189 0h7v7h-7zm-182 7h7v7h-7zm175 0h7v7h-7zm-217 7h14v7h-14zm49 0h7v7h-7zm161 0h7v7h-7zm28 0h7v7h-7zm28 0h7v7h-7zm-280 7h7v7h-7zm35 0h7v7h-7zm182 0h7v7h-7zm77 0h7v7h-7zm-301 7h7v7h-7zm308 0h7v7h-7zm182 0h7v7h-7zm-518 7h7v7h-7zm84 0h7v7h-7zm161 0h7v7h-7zm21 0h7v7h-7zm-182 7h7v7h-7zm0 7h7v7h-7zm-84 7h7v7h-7zm28 0h7v7h-7zm56 0h7v7h-7zm182 0h7v7h-7zm-189 7h7v7h-7zm28 0h7v7h-7zm140 0h7v7h-7zm21 0h7v7h-7zm70 0h7v7h-7zm182 0h7v7h-7zm-511 7h7v7h-7zm35 0h7v7h-7zm21 0h14v7h-14zm210 0h7v7h-7zm-259 7h7v7h-7zm266 0h7v7h-7zm-259 7h7v7h-7zm329 0h7v7h-7zm-273 7h7v7h-7zm-28 7h14v7h-14zm126 7h7v7h-7zm140 0h7v7h-7zm112 0h21v7h-21zm-21 7h7v7h-7zm-196 7h7v7h-7zm210 7h7v7h-7zm21 0h7v7h-7zm35 0h7v7h-7zm-308 7h21v7h-21zm238 0h7v7h-7zm49 0h7v7h-7zm-252 7h7v7h-7zm175 0h7v7h-7zm21 0h7v7h-7zm63 0h7v7h-7zm-231 7h7v7h-7zm238 0h7v7h-7zm21 0h7v7h-7zm-511 7h7v7h-7zm161 0h7v7h-7zm231 0h7v7h-7zm21 0h7v7h-7zm0 7h7v7h-7zm-21 7h7v7h-7zm21 0h7v7h-7zm-21 7h7v7h-7zm21 0h7v7h-7zm77 0h7v7h-7zm21 0h7v7h-7zm-511 7h7v7h-7zm161 0h7v7h-7zm70 0h7v7h-7zm21 0h7v7h-7zm168 0h7v7h-7zm-252 7h7v7h-7zm56 0h7v7h-7zm175 0h7v7h-7zm105 0h7v7h-7zm-329 7h7v7h-7zm42 0h7v7h-7zm231 0h7v7h-7zm21 0h7v7h-7zm-273 7h14v7h-14zm21 14h7v7h-7zm259 0h7v7h-7zm-21 7h7v7h-7zm-399 7h7v7h-7zm252 0h7v7h-7zm21 0h7v7h-7zm14 7h7v7h-7zm-308 7h7v7h-7zm252 0h7v7h-7zm-7 7h7v7h-7zm28 7h28v7h-28zm56 0h7v7h-7zm-343 7h7v7h-7zm280 0h7v7h-7zm35 0h7v7h-7zm-280 7h7v7h-7zm70 0h7v7h-7zm168 0h7v7h-7zm49 0h7v7h-7zm28 0h7v7h-7zm-322 7h7v7h-7zm49 0h7v7h-7zm28 0h7v7h-7zm140 0h7v7h-7zm-217 7h7v7h-7zm49 0h7v7h-7zm28 0h7v7h-7zm140 0h7v7h-7zm84 0h7v7h-7zm-301 7h7v7h-7zm49 0h7v7h-7zm28 0h7v7h-7zm140 0h7v7h-7zm-245 7h7v7h-7zm70 0h7v7h-7zm203 0h7v7h-7zm-238 7h7v7h-7zm28 0h7v7h-7zm35 0h7v7h-7zm175 0h7v7h-7zm77 0h7v7h-7zm168 0h7v7h-7zm-511 7h7v7h-7zm245 0h7v7h-7zm28 0h7v7h-7zm-266 7h7v7h-7zm329 0h7v7h-7zm-322 7h7v7h-7zm7 7h7v7h-7zm42 0h7v7h-7zm266 0h7v7h-7zm-287 7h7v7h-7zm231 0h7v7h-7zm-112 7h14v7h-14zm126 0h14v7h-14zm21 0h7v7h-7zm105 0h7v7h-7zm28 0h7v7h-7zm-42 7h7v7h-7zm-7 7h7v7h-7zm21 7h7v7h-7zm28 0h7v7h-7zm-63 7h7v7h-7zm77 0h7v7h-7zm28 7h7v7h-7zm-294 7h7v7h-7zm203 0h7v7h-7zm70 0h7v7h-7zm-490 7h7v7h-7zm140 0h7v7h-7zm28 0h7v7h-7zm56 0h7v7h-7zm-84 7h7v7h-7zm84 0h7v7h-7zm-84 7h7v7h-7zm84 0h7v7h-7zm196 0h7v7h-7zm70 0h7v7h-7zm-350 7h7v7h-7zm84 0h7v7h-7zm175 0h7v7h-7zm112 0h7v7h-7zm-511 7h7v7h-7zm168 0h7v7h-7zm49 0h7v7h-7zm266 0h7v7h-7zm-336 7h7v7h-7zm28 0h7v7h-7zm35 0h7v7h-7zm35 0h7v7h-7zm196 0h7v7h-7zm28 0h7v7h-7zm-280 7h21v7h-21zm308 0h7v7h-7zm-21 14h7v7h-7zm-301 7h7v7h-7zm42 0h7v7h-7zm-21 7h7v7h-7zm-133 14h7v7h-7zm21 0h7v7h-7zm238 0h7v7h-7zm21 0h14v7h-14zm-294 7h7v7h-7z"/>
<path fill="#dcdcdc" d="M1187 1889h21v7h-21zm14 7h7v7h-7zm-70 14h14v7h-14zm-7 7h7v7h-7zm0 7h7v7h-7zm14 7h7v7h-7zm14 0h7v7h-7zm-168 28h21v7h-21zm56 0h14v7h-14zm189 56h21v7h-21zm35 7h7v7h-7zm28 7h14v7h-14zm-392 28h7v7h-7zm-7 7h7v7h-7zm-7 7h7v7h-7zm49 0h7v7h-7zm-56 7h7v7h-7zm56 0h7v7h-7zm-56 7h14v7h-14zm49 0h7v7h-7zm-28 7h28v7h-28zm266 42h7v7h-7zm7 7h7v7h-7zm7 7h7v7h-7zm-35 14h7v7h-7zm-105 21h7v7h-7zm-56 7h7v7h-7zm77 14h7v7h-7zm-84 7h14v7h-14zm28 0h7v7h-7zm28 0h28v7h-28z"/>
<path fill="#e0e0e0" d="M1180 1896h7v7h-7zm-35 14h7v7h-7zm-14 7h7v7h-7zm42 7h7v7h-7zm-28 7h7v7h-7zm-105 7h7v7h-7zm-56 14h7v7h-7zm63 0h14v7h-14zm182 70h7v7h-7zm56 7h7v7h-7zm14 7h7v7h-7zm-392 21h14v7h-14zm-7 7h7v7h-7zm-7 7h7v7h-7zm-7 7h7v7h-7zm259 70h7v7h-7zm0 7h7v7h-7zm35 0h7v7h-7zm-28 14h7v7h-7zm21 0h7v7h-7zm-196 35h7v7h-7zm77 0h7v7h-7zm-63 7h14v7h-14z"/>
<path fill="#e4e4e4" d="M1187 1896h14v7h-14zm-21 7h7v7h-7zm-35 21h7v7h-7zm-133 14h7v7h-7zm42 14h7v7h-7zm217 70h7v7h-7zm21 7h7v7h-7zm14 7h7v7h-7zm0 7h7v7h-7zm-364 21h7v7h-7zm-35 14h7v7h-7zm35 0h7v7h-7zm-35 7h7v7h-7zm28 0h7v7h-7zm231 56h7v7h-7zm14 0h7v7h-7zm7 7h7v7h-7zm-21 14h7v7h-7zm-154 21h7v7h-7zm35 0h7v7h-7zm14 7h7v7h-7zm7 7h7v7h-7zm-70 7h7v7h-7zm63 0h7v7h-7z"/>
<path fill="#e8e8e8" d="M1152 1910h7v7h-7zm-14 7h7v7h-7zm0 7h7v7h-7zm-91 21h7v7h-7zm-56 7h14v7h-14zm42 0h7v7h-7zm203 70h21v7h-21zm-329 42h7v7h-7zm-7 7h7v7h-7zm0 14h7v7h-7zm14 0h7v7h-7zm245 56h7v7h-7zm0 28h7v7h-7zm-154 14h7v7h-7zm21 0h7v7h-7zm21 14h7v7h-7zm-56 7h7v7h-7zm49 0h7v7h-7z"/>
<path fill="#ececec" d="M1194 1903h7v7h-7zm-49 21h7v7h-7zm21 0h7v7h-7zm-133 14h7v7h-7zm-42 7h7v7h-7zm49 0h7v7h-7zm-35 7h28v7h-28zm231 77h7v7h-7zm35 0h7v7h-7zm-28 7h7v7h-7zm42 0h7v7h-7zm-28 7h7v7h-7zm-329 28h7v7h-7zm-28 7h7v7h-7zm21 0h7v7h-7zm-14 7h7v7h-7zm245 63h7v7h-7zm0 7h7v7h-7zm21 0h7v7h-7zm-161 28h14v7h-14zm-21 7h7v7h-7zm49 0h7v7h-7zm-56 7h7v7h-7zm14 7h7v7h-7zm35 0h7v7h-7z"/>
<path fill="#f0f0f0" d="M1173 1903h21v7h-21zm-28 14h7v7h-7zm35 0h7v7h-7zm-28 7h14v7h-14zm-147 14h7v7h-7zm21 0h7v7h-7zm259 105h7v7h-7zm-371 21h14v7h-14zm-7 7h7v7h-7zm259 77h7v7h-7zm7 14h7v7h-7zm-7 7h7v7h-7zm-175 28h7v7h-7zm49 0h7v7h-7zm-35 7h28v7h-28z"/>
<path fill="#f4f4f4" d="M1159 1910h7v7h-7zm28 0h7v7h-7zm-175 28h14v7h-14zm-14 7h7v7h-7zm35 0h7v7h-7zm210 84h7v7h-7zm21 0h7v7h-7zm14 7h7v7h-7zm-14 7h7v7h-7zm14 0h7v7h-7zm-364 28h14v7h-14zm-7 7h14v7h-14zm252 70h7v7h-7zm0 14h7v7h-7zm-161 28h7v7h-7zm35 0h7v7h-7z"/>
<path fill="#f8f8f8" d="M1152 1917h7v7h-7zm21 0h7v7h-7zm-168 28h28v7h-28zm245 84h14v7h-14zm21 14h7v7h-7zm-112 112h14v7h-14zm7 7h7v7h-7zm-161 28h7v7h-7zm14 0h14v7h-14zm-21 7h7v7h-7zm35 0h7v7h-7z"/>
<path fill="#fcfcfc" d="M1166 1910h21v7h-21zm-7 7h14v7h-14zm91 119h7v7h-7zm21 0h7v7h-7zm-259 154h7v7h-7zm-7 7h7v7h-7zm21 0h7v7h-7z"/>
<path fill="#ffffff" d="M1257 2036h14v7h-14zm-245 161h14v7h-14z"/></g></g>
<rect x="837.8" y="1812.4" width="515.7" height="490.6" fill="none" stroke="#262626" stroke-width="1.2"/>
<path d="M902.3 1812.4v6 M902.3 2303.0v-6 M837.8 1873.7h6 M1353.5 1873.7h-6 M966.7 1812.4v6 M966.7 2303.0v-6 M837.8 1935.1h6 M1353.5 1935.1h-6 M1031.2 1812.4v6 M1031.2 2303.0v-6 M837.8 1996.4h6 M1353.5 1996.4h-6 M1095.7 1812.4v6 M1095.7 2303.0v-6 M837.8 2057.7h6 M1353.5 2057.7h-6 M1160.1 1812.4v6 M1160.1 2303.0v-6 M837.8 2119.0h6 M1353.5 2119.0h-6 M1224.6 1812.4v6 M1224.6 2303.0v-6 M837.8 2180.3h6 M1353.5 2180.3h-6 M1289.0 1812.4v6 M1289.0 2303.0v-6 M837.8 2241.7h6 M1353.5 2241.7h-6" stroke="#262626" stroke-width="1.1" fill="none"/>
<g font-family="Liberation Sans" font-size="18.5" fill="#262626"><text x="837.8" y="2326.2" text-anchor="middle">-2</text><text x="831.3" y="1819.0" text-anchor="end">-2</text><text x="902.3" y="2326.2" text-anchor="middle">-1.5</text><text x="831.3" y="1880.3" text-anchor="end">-1.5</text><text x="966.7" y="2326.2" text-anchor="middle">-1</text><text x="831.3" y="1941.7" text-anchor="end">-1</text><text x="1031.2" y="2326.2" text-anchor="middle">-0.5</text><text x="831.3" y="2003.0" text-anchor="end">-0.5</text><text x="1095.7" y="2326.2" text-anchor="middle">0</text><text x="831.3" y="2064.3" text-anchor="end">0</text><text x="1160.1" y="2326.2" text-anchor="middle">0.5</text><text x="831.3" y="2125.6" text-anchor="end">0.5</text><text x="1224.6" y="2326.2" text-anchor="middle">1</text><text x="831.3" y="2186.9" text-anchor="end">1</text><text x="1289.0" y="2326.2" text-anchor="middle">1.5</text><text x="831.3" y="2248.3" text-anchor="end">1.5</text><text x="1353.5" y="2326.2" text-anchor="middle">2</text><text x="831.3" y="2309.6" text-anchor="end">2</text></g>
<text x="1095.7" y="2364.5" font-family="Liberation Sans" font-size="33" fill="#262626" text-anchor="middle">x (units of <tspan font-family="Liberation Serif">&#923;</tspan>)</text>
<text transform="translate(788.6 2057.7) rotate(-90)" font-family="Liberation Sans" font-size="26" fill="#262626" text-anchor="middle">y (units of <tspan font-family="Liberation Serif">&#923;</tspan>)</text>
<text x="1095.7" y="1804.7" font-family="Liberation Sans" font-size="20" font-weight="bold" fill="#000" text-anchor="middle">(h)</text>
<rect x="1374.5" y="1812.4" width="37.3" height="490.6" fill="url(#cbg)" stroke="#262626" stroke-width="1.4"/>
<path d="M1411.8 2212.0h-5 M1411.8 2121.0h-5 M1411.8 2030.0h-5 M1411.8 1939.1h-5 M1411.8 1848.1h-5" stroke="#262626" stroke-width="1.2"/>
<g font-family="Liberation Sans" font-size="16.8" fill="#262626"><text x="1417.8" y="2218.0">0.5</text><text x="1417.8" y="2127.0">1</text><text x="1417.8" y="2036.0">1.5</text><text x="1417.8" y="1945.1">2</text><text x="1417.8" y="1854.1">2.5</text></g></svg></body></html>
